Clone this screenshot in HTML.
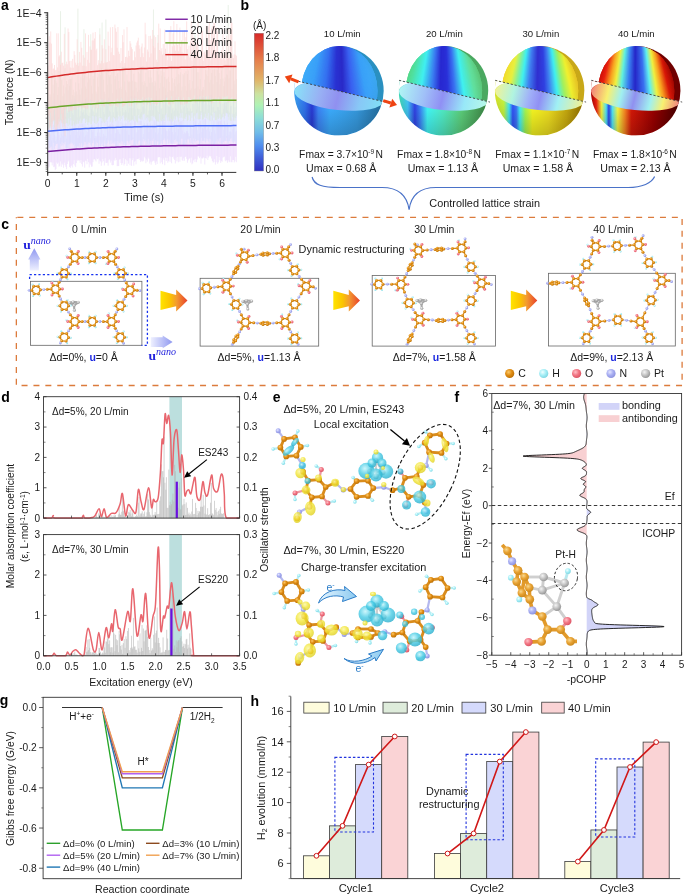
<!DOCTYPE html>
<html><head><meta charset="utf-8"><title>Figure</title>
<style>html,body{margin:0;padding:0;background:#fff;width:685px;height:895px;overflow:hidden}svg{display:block;will-change:transform}</style>
</head><body>
<svg width="685" height="895" viewBox="0 0 685 895" font-family='"Liberation Sans", sans-serif'>
<defs>
<clipPath id="clipA"><rect x="48.300000000000004" y="5" width="188.60000000000002" height="166.8"/></clipPath><radialGradient id="shadeL" cx="0.35" cy="0.3" r="0.75"><stop offset="0.55" stop-color="#000" stop-opacity="0"/><stop offset="1" stop-color="#000" stop-opacity="0.2"/></radialGradient><radialGradient id="shadeU" cx="0.45" cy="0.45" r="0.6"><stop offset="0.75" stop-color="#000" stop-opacity="0"/><stop offset="1" stop-color="#000" stop-opacity="0.07"/></radialGradient><linearGradient id="cbar" gradientUnits="userSpaceOnUse" x1="0" y1="33.2" x2="0" y2="171"><stop offset="0" stop-color="#d82828"/><stop offset="0.2" stop-color="#e6804c"/><stop offset="0.34" stop-color="#e0b468"/><stop offset="0.44" stop-color="#cce2a0"/><stop offset="0.52" stop-color="#b0f2b4"/><stop offset="0.62" stop-color="#8cdcd8"/><stop offset="0.72" stop-color="#70bce8"/><stop offset="0.82" stop-color="#4f8cee"/><stop offset="0.9" stop-color="#4060d8"/><stop offset="1" stop-color="#3030c0"/></linearGradient><linearGradient id="up0" gradientUnits="userSpaceOnUse" x1="294.09999999999997" y1="0" x2="383.7" y2="0"><stop offset="0" stop-color="#40b0f8"/><stop offset="0.2" stop-color="#3aa0f8"/><stop offset="0.35" stop-color="#3570f0"/><stop offset="0.47" stop-color="#2a32d2"/><stop offset="0.55" stop-color="#2a2ac8"/><stop offset="0.65" stop-color="#3a60f0"/><stop offset="0.8" stop-color="#3aa0f8"/><stop offset="1" stop-color="#40b0f8"/></linearGradient><linearGradient id="lo0" gradientUnits="userSpaceOnUse" x1="294.09999999999997" y1="0" x2="383.7" y2="0"><stop offset="0" stop-color="#3aa0f0"/><stop offset="0.12" stop-color="#3070e8"/><stop offset="0.2" stop-color="#2838d0"/><stop offset="0.27" stop-color="#3a80f0"/><stop offset="0.4" stop-color="#3aa8f8"/><stop offset="0.7" stop-color="#38a0e8"/><stop offset="1" stop-color="#2a80b8"/></linearGradient><linearGradient id="fa0" gradientUnits="userSpaceOnUse" x1="294.09999999999997" y1="84.8" x2="383.7" y2="96.8"><stop offset="0" stop-color="#88e4f8"/><stop offset="0.3" stop-color="#98b0f4"/><stop offset="0.5" stop-color="#9090f0"/><stop offset="0.75" stop-color="#88c8f6"/><stop offset="1" stop-color="#80e0f6"/></linearGradient><clipPath id="sc0"><circle cx="338.9" cy="90.8" r="44.8"/></clipPath><clipPath id="bl0"><path d="M398.90,105.33 L278.90,76.59 L278.9,150.8 L398.9,150.8 Z"/></clipPath><clipPath id="ab0"><path d="M398.90,105.33 L278.90,76.59 L278.9,30.799999999999997 L398.9,30.799999999999997 Z"/></clipPath><clipPath id="ue0"><ellipse cx="339.29999999999995" cy="90.8" rx="38.2" ry="44.8"/></clipPath><linearGradient id="up1" gradientUnits="userSpaceOnUse" x1="398.7" y1="0" x2="488.3" y2="0"><stop offset="0" stop-color="#58d070"/><stop offset="0.12" stop-color="#50e0a0"/><stop offset="0.25" stop-color="#40f0f0"/><stop offset="0.38" stop-color="#3a78f0"/><stop offset="0.47" stop-color="#2828d0"/><stop offset="0.55" stop-color="#2a30d8"/><stop offset="0.63" stop-color="#3a70f0"/><stop offset="0.73" stop-color="#40f0f0"/><stop offset="0.85" stop-color="#60e0a0"/><stop offset="0.95" stop-color="#60d080"/><stop offset="1" stop-color="#58c070"/></linearGradient><linearGradient id="lo1" gradientUnits="userSpaceOnUse" x1="398.7" y1="0" x2="488.3" y2="0"><stop offset="0" stop-color="#40d8b0"/><stop offset="0.1" stop-color="#40c0f0"/><stop offset="0.18" stop-color="#3040e0"/><stop offset="0.24" stop-color="#3a80f0"/><stop offset="0.32" stop-color="#40f0f0"/><stop offset="0.5" stop-color="#50e8c0"/><stop offset="0.7" stop-color="#60d880"/><stop offset="0.9" stop-color="#50b060"/><stop offset="1" stop-color="#409850"/></linearGradient><linearGradient id="fa1" gradientUnits="userSpaceOnUse" x1="398.7" y1="84.8" x2="488.3" y2="96.8"><stop offset="0" stop-color="#b0f8f4"/><stop offset="0.3" stop-color="#a0c0f8"/><stop offset="0.5" stop-color="#9090f4"/><stop offset="0.75" stop-color="#98e8f8"/><stop offset="1" stop-color="#b8f8e8"/></linearGradient><clipPath id="sc1"><circle cx="443.5" cy="90.8" r="44.8"/></clipPath><clipPath id="bl1"><path d="M503.50,105.33 L383.50,76.59 L383.5,150.8 L503.5,150.8 Z"/></clipPath><clipPath id="ab1"><path d="M503.50,105.33 L383.50,76.59 L383.5,30.799999999999997 L503.5,30.799999999999997 Z"/></clipPath><clipPath id="ue1"><ellipse cx="443.9" cy="90.8" rx="38.2" ry="44.8"/></clipPath><linearGradient id="up2" gradientUnits="userSpaceOnUse" x1="494.8" y1="0" x2="584.4" y2="0"><stop offset="0" stop-color="#f0b828"/><stop offset="0.08" stop-color="#f0e030"/><stop offset="0.16" stop-color="#e8f040"/><stop offset="0.24" stop-color="#80f0a0"/><stop offset="0.3" stop-color="#40f0f0"/><stop offset="0.38" stop-color="#4080f0"/><stop offset="0.48" stop-color="#3030d0"/><stop offset="0.56" stop-color="#3040e0"/><stop offset="0.62" stop-color="#4080f0"/><stop offset="0.7" stop-color="#40f0f0"/><stop offset="0.78" stop-color="#a0f060"/><stop offset="0.86" stop-color="#f0f030"/><stop offset="0.94" stop-color="#f0d028"/><stop offset="1" stop-color="#e8c020"/></linearGradient><linearGradient id="lo2" gradientUnits="userSpaceOnUse" x1="494.8" y1="0" x2="584.4" y2="0"><stop offset="0" stop-color="#d8e028"/><stop offset="0.1" stop-color="#c0f040"/><stop offset="0.16" stop-color="#40e0f0"/><stop offset="0.2" stop-color="#3050f0"/><stop offset="0.24" stop-color="#3a70f0"/><stop offset="0.28" stop-color="#40e8f0"/><stop offset="0.34" stop-color="#a0f050"/><stop offset="0.42" stop-color="#f0f020"/><stop offset="0.6" stop-color="#f0e020"/><stop offset="0.8" stop-color="#d8b810"/><stop offset="1" stop-color="#a88000"/></linearGradient><linearGradient id="fa2" gradientUnits="userSpaceOnUse" x1="494.8" y1="84.8" x2="584.4" y2="96.8"><stop offset="0" stop-color="#f6f290"/><stop offset="0.22" stop-color="#b0f4e0"/><stop offset="0.4" stop-color="#a0b0f8"/><stop offset="0.52" stop-color="#9090f4"/><stop offset="0.72" stop-color="#a0f0f4"/><stop offset="1" stop-color="#f4f090"/></linearGradient><clipPath id="sc2"><circle cx="539.6" cy="90.8" r="44.8"/></clipPath><clipPath id="bl2"><path d="M599.60,105.33 L479.60,76.59 L479.6,150.8 L599.6,150.8 Z"/></clipPath><clipPath id="ab2"><path d="M599.60,105.33 L479.60,76.59 L479.6,30.799999999999997 L599.6,30.799999999999997 Z"/></clipPath><clipPath id="ue2"><ellipse cx="540.0" cy="90.8" rx="38.2" ry="44.8"/></clipPath><linearGradient id="up3" gradientUnits="userSpaceOnUse" x1="590.9000000000001" y1="0" x2="680.5" y2="0"><stop offset="0" stop-color="#b00000"/><stop offset="0.12" stop-color="#e82010"/><stop offset="0.2" stop-color="#f8a020"/><stop offset="0.27" stop-color="#f0f040"/><stop offset="0.34" stop-color="#60f0e0"/><stop offset="0.42" stop-color="#3a80f0"/><stop offset="0.5" stop-color="#2626c8"/><stop offset="0.6" stop-color="#3a70f0"/><stop offset="0.67" stop-color="#60f0f0"/><stop offset="0.74" stop-color="#f0f040"/><stop offset="0.8" stop-color="#f8a020"/><stop offset="0.88" stop-color="#d81808"/><stop offset="1" stop-color="#900000"/></linearGradient><linearGradient id="lo3" gradientUnits="userSpaceOnUse" x1="590.9000000000001" y1="0" x2="680.5" y2="0"><stop offset="0" stop-color="#a00000"/><stop offset="0.06" stop-color="#e82010"/><stop offset="0.12" stop-color="#f0f040"/><stop offset="0.17" stop-color="#50e0f0"/><stop offset="0.2" stop-color="#2a40e0"/><stop offset="0.24" stop-color="#50e0f0"/><stop offset="0.3" stop-color="#f0f040"/><stop offset="0.38" stop-color="#f08020"/><stop offset="0.45" stop-color="#d01808"/><stop offset="0.7" stop-color="#a00000"/><stop offset="1" stop-color="#500000"/></linearGradient><linearGradient id="fa3" gradientUnits="userSpaceOnUse" x1="590.9000000000001" y1="84.8" x2="680.5" y2="96.8"><stop offset="0" stop-color="#f27a7a"/><stop offset="0.2" stop-color="#f8f070"/><stop offset="0.35" stop-color="#a0f0f0"/><stop offset="0.5" stop-color="#9090f0"/><stop offset="0.68" stop-color="#a0f0f0"/><stop offset="0.82" stop-color="#f8f070"/><stop offset="1" stop-color="#f08080"/></linearGradient><clipPath id="sc3"><circle cx="635.7" cy="90.8" r="44.8"/></clipPath><clipPath id="bl3"><path d="M695.70,105.33 L575.70,76.59 L575.7,150.8 L695.7,150.8 Z"/></clipPath><clipPath id="ab3"><path d="M695.70,105.33 L575.70,76.59 L575.7,30.799999999999997 L695.7,30.799999999999997 Z"/></clipPath><clipPath id="ue3"><ellipse cx="636.1" cy="90.8" rx="38.2" ry="44.8"/></clipPath><radialGradient id="gC" cx="0.38" cy="0.35" r="0.7"><stop offset="0" stop-color="#fbc96a"/><stop offset="0.5" stop-color="#e08c12"/><stop offset="1" stop-color="#b86e06"/></radialGradient><radialGradient id="gO" cx="0.38" cy="0.35" r="0.7"><stop offset="0" stop-color="#ffc0c8"/><stop offset="0.5" stop-color="#f27684"/><stop offset="1" stop-color="#d85060"/></radialGradient><radialGradient id="gN" cx="0.38" cy="0.35" r="0.7"><stop offset="0" stop-color="#e4e6ff"/><stop offset="0.5" stop-color="#a8aef2"/><stop offset="1" stop-color="#8a90dc"/></radialGradient><radialGradient id="gH" cx="0.38" cy="0.35" r="0.7"><stop offset="0" stop-color="#f0ffff"/><stop offset="0.5" stop-color="#a6eef6"/><stop offset="1" stop-color="#7ad4e0"/></radialGradient><radialGradient id="gP" cx="0.38" cy="0.35" r="0.7"><stop offset="0" stop-color="#f4f4f4"/><stop offset="0.5" stop-color="#c4c4c4"/><stop offset="1" stop-color="#909090"/></radialGradient><linearGradient id="uup" x1="0" y1="1" x2="0" y2="0"><stop offset="0" stop-color="#eef0ff"/><stop offset="1" stop-color="#8f98f0"/></linearGradient><linearGradient id="urt" x1="0" y1="0" x2="1" y2="0"><stop offset="0" stop-color="#eef0ff"/><stop offset="1" stop-color="#8f98f0"/></linearGradient><linearGradient id="oa1" gradientUnits="userSpaceOnUse" x1="160.5" y1="0" x2="187.5" y2="0"><stop offset="0" stop-color="#ffe400"/><stop offset="0.35" stop-color="#fbc400"/><stop offset="0.6" stop-color="#f39a30"/><stop offset="1" stop-color="#e8402a"/></linearGradient><linearGradient id="oa2" gradientUnits="userSpaceOnUse" x1="333.3" y1="0" x2="360" y2="0"><stop offset="0" stop-color="#ffe400"/><stop offset="0.35" stop-color="#fbc400"/><stop offset="0.6" stop-color="#f39a30"/><stop offset="1" stop-color="#e8402a"/></linearGradient><linearGradient id="oa3" gradientUnits="userSpaceOnUse" x1="510.8" y1="0" x2="537.3" y2="0"><stop offset="0" stop-color="#ffe400"/><stop offset="0.35" stop-color="#fbc400"/><stop offset="0.6" stop-color="#f39a30"/><stop offset="1" stop-color="#e8402a"/></linearGradient><radialGradient id="bY" cx="0.4" cy="0.35" r="0.7"><stop offset="0" stop-color="#fbf6a0"/><stop offset="0.5" stop-color="#f2e636"/><stop offset="1" stop-color="#dccc1e"/></radialGradient><radialGradient id="bC" cx="0.4" cy="0.35" r="0.7"><stop offset="0" stop-color="#bff4fb"/><stop offset="0.5" stop-color="#44cae4"/><stop offset="1" stop-color="#22a8c8"/></radialGradient><linearGradient id="barw" x1="0" y1="0" x2="1" y2="0"><stop offset="0" stop-color="#e8f6ff"/><stop offset="1" stop-color="#8ccaf0"/></linearGradient><radialGradient id="gC2" cx="0.38" cy="0.35" r="0.7"><stop offset="0" stop-color="#f8d890"/><stop offset="0.5" stop-color="#e8a232"/><stop offset="1" stop-color="#c8861c"/></radialGradient>
</defs>
<rect width="685" height="895" fill="#fff"/>
<g clip-path="url(#clipA)">
<path d="M47.70,139.92V165.01M48.46,141.25V167.87M49.21,135.90V166.75M49.97,133.27V162.38M50.72,134.52V162.12M51.48,140.61V162.33M52.23,127.30V165.44M52.99,138.07V162.66M53.74,124.98V167.11M54.50,134.81V166.59M55.25,141.03V170.10M56.01,136.59V168.97M56.76,139.60V162.48M57.52,126.98V163.89M58.27,131.13V162.67M59.03,134.82V166.72M59.78,140.32V165.83M60.54,137.68V161.38M61.30,133.63V166.89M62.05,130.72V163.54M62.81,135.79V164.72M63.56,128.56V167.72M64.32,130.73V162.71M65.07,125.27V165.18M65.83,135.76V166.95M66.58,138.75V169.14M67.34,127.20V164.03M68.09,131.96V161.58M68.85,128.68V160.51M69.60,130.33V166.97M70.36,134.94V167.91M71.11,129.84V166.23M71.87,132.26V165.14M72.62,123.43V167.42M73.38,128.42V164.08M74.14,127.69V160.31M74.89,122.40V165.53M75.65,135.08V167.04M76.40,128.12V163.07M77.16,131.79V159.76M77.91,137.93V161.01M78.67,126.18V159.98M79.42,135.49V160.57M80.18,124.23V162.87M80.93,131.77V160.03M81.69,123.92V164.19M82.44,124.22V166.57M83.20,132.23V161.66M83.95,123.76V162.34M84.71,136.89V167.68M85.47,135.39V160.61M86.22,130.80V161.08M86.98,134.75V164.23M87.73,131.90V158.93M88.49,129.20V162.17M89.24,126.93V167.37M90.00,128.20V163.40M90.75,138.28V164.80M91.51,125.20V166.76M92.26,124.83V166.50M93.02,131.96V162.12M93.77,127.69V159.49M94.53,137.84V159.08M95.28,136.10V160.36M96.04,138.03V161.50M96.79,136.22V158.41M97.55,132.37V159.28M98.31,123.15V158.56M99.06,136.16V163.81M99.82,132.55V160.52M100.57,136.55V161.49M101.33,120.87V165.81M102.08,129.99V162.34M102.84,136.81V158.89M103.59,133.86V161.16M104.35,135.68V165.50M105.10,121.46V158.22M105.86,135.88V162.73M106.61,138.00V162.83M107.37,120.87V162.66M108.12,125.91V165.64M108.88,131.80V160.20M109.63,124.48V159.32M110.39,124.33V162.58M111.15,134.29V160.72M111.90,120.57V165.02M112.66,123.75V165.36M113.41,124.91V165.03M114.17,128.87V159.68M114.92,137.63V160.81M115.68,133.10V157.84M116.43,125.65V159.89M117.19,130.03V166.13M117.94,120.28V165.92M118.70,131.46V166.06M119.45,133.91V159.43M120.21,134.28V159.19M120.96,121.75V163.01M121.72,129.29V164.92M122.47,123.51V163.21M123.23,125.98V158.08M123.99,123.77V165.47M124.74,129.22V164.01M125.50,123.60V158.85M126.25,123.37V160.21M127.01,130.62V165.93M127.76,120.70V160.78M128.52,134.63V163.67M129.27,134.95V158.27M130.03,123.15V165.24M130.78,122.77V158.40M131.54,125.79V165.87M132.29,127.72V160.19M133.05,137.30V158.20M133.80,125.86V165.72M134.56,120.73V161.71M135.31,121.83V160.86M136.07,133.68V164.36M136.83,132.19V159.18M137.58,126.89V159.06M138.34,129.88V159.21M139.09,121.04V158.04M139.85,129.14V160.02M140.60,121.10V162.06M141.36,120.84V160.58M142.11,127.76V161.29M142.87,136.96V161.47M143.62,133.99V160.70M144.38,122.90V156.76M145.13,128.73V158.26M145.89,127.22V163.21M146.64,127.89V159.60M147.40,123.10V161.65M148.15,127.10V157.59M148.91,132.18V158.86M149.67,128.02V163.55M150.42,123.47V161.64M151.18,129.14V164.77M151.93,128.01V162.06M152.69,124.63V161.14M153.44,127.48V160.59M154.20,120.12V160.81M154.95,121.28V162.78M155.71,132.35V164.95M156.46,120.05V161.49M157.22,134.52V164.00M157.97,129.02V157.53M158.73,132.63V157.07M159.48,124.91V157.06M160.24,120.81V163.44M160.99,124.04V157.77M161.75,134.33V162.30M162.51,119.50V164.28M163.26,119.75V158.31M164.02,128.10V159.90M164.77,121.89V165.21M165.53,129.08V157.75M166.28,130.73V160.92M167.04,131.08V158.03M167.79,136.44V162.75M168.55,128.87V161.23M169.30,130.81V156.40M170.06,127.55V161.83M170.81,119.04V156.79M171.57,119.27V163.28M172.32,131.95V157.13M173.08,122.71V156.53M173.84,134.37V158.60M174.59,120.31V159.95M175.35,132.03V163.50M176.10,120.15V157.48M176.86,124.07V161.25M177.61,135.61V156.92M178.37,128.99V162.28M179.12,119.76V156.74M179.88,122.21V161.78M180.63,121.22V156.82M181.39,121.09V156.66M182.14,130.49V160.13M182.90,119.92V161.01M183.65,134.24V158.44M184.41,132.27V160.75M185.16,133.64V156.99M185.92,132.91V156.45M186.68,131.04V158.80M187.43,131.30V162.81M188.19,133.31V160.47M188.94,136.17V159.08M189.70,136.21V158.21M190.45,126.58V162.53M191.21,127.94V157.64M191.96,134.55V164.33M192.72,128.69V163.28M193.47,121.45V160.36M194.23,127.33V159.44M194.98,118.77V162.08M195.74,121.46V158.97M196.49,124.98V162.23M197.25,130.16V159.51M198.00,134.06V156.35M198.76,123.08V156.49M199.52,133.45V158.15M200.27,121.26V156.60M201.03,124.32V163.66M201.78,132.01V158.36M202.54,128.10V158.45M203.29,128.33V157.23M204.05,119.05V158.17M204.80,126.50V164.54M205.56,118.97V157.99M206.31,129.91V158.57M207.07,129.45V155.79M207.82,127.27V160.04M208.58,127.23V157.57M209.33,131.54V155.80M210.09,129.11V156.56M210.84,135.87V156.12M211.60,132.09V158.47M212.36,126.76V160.99M213.11,124.44V162.47M213.87,120.46V162.15M214.62,130.39V159.21M215.38,133.56V164.56M216.13,124.68V162.21M216.89,121.22V156.09M217.64,124.95V163.71M218.40,121.62V162.28M219.15,126.80V156.93M219.91,121.20V160.21M220.66,121.35V162.90M221.42,120.15V160.91M222.17,123.73V161.79M222.93,135.63V157.72M223.68,129.70V156.84M224.44,121.16V156.59M225.20,124.89V160.66M225.95,123.93V161.26M226.71,136.10V160.02M227.46,122.71V162.79M228.22,126.53V160.14M228.97,134.96V161.54M229.73,131.61V162.23M230.48,131.36V156.27M231.24,132.44V162.15M231.99,118.59V162.24M232.75,129.25V160.03M233.50,123.83V159.89M234.26,125.03V162.47M235.01,134.72V161.35M235.77,131.54V156.90M236.52,130.63V162.25" fill="none" stroke="#ecd8fc" stroke-width="0.62" />
<path d="M47.70,120.52V147.49M48.46,115.07V143.62M49.21,106.13V148.13M49.97,114.47V148.09M50.72,110.76V146.83M51.48,117.95V146.39M52.23,116.19V149.52M52.99,100.67V150.09M53.74,110.62V142.83M54.50,99.88V148.78M55.25,114.48V145.94M56.01,100.23V144.08M56.76,107.80V144.03M57.52,108.94V143.45M58.27,117.09V149.46M59.03,109.14V148.41M59.78,105.00V148.85M60.54,100.87V143.89M61.30,119.11V145.74M62.05,109.27V142.07M62.81,113.19V145.36M63.56,112.25V142.98M64.32,101.79V144.24M65.07,103.62V141.83M65.83,116.79V148.05M66.58,104.30V148.65M67.34,113.12V148.41M68.09,110.91V144.40M68.85,106.74V149.04M69.60,110.07V144.21M70.36,117.98V143.52M71.11,101.45V142.17M71.87,99.28V143.50M72.62,113.28V143.18M73.38,114.82V145.09M74.14,98.71V144.01M74.89,101.69V147.79M75.65,99.51V145.85M76.40,107.10V148.12M77.16,117.53V146.42M77.91,109.08V146.47M78.67,104.97V146.58M79.42,117.41V143.05M80.18,115.73V147.80M80.93,111.15V144.35M81.69,102.82V143.01M82.44,112.82V148.05M83.20,111.92V145.61M83.95,109.92V144.83M84.71,114.76V141.87M85.47,99.12V142.13M86.22,113.46V144.26M86.98,97.14V147.28M87.73,115.07V143.83M88.49,116.06V141.86M89.24,116.01V142.95M90.00,112.47V142.14M90.75,99.25V144.58M91.51,109.16V145.89M92.26,106.79V143.34M93.02,110.65V143.03M93.77,111.89V140.64M94.53,115.04V147.38M95.28,104.44V143.87M96.04,113.08V146.53M96.79,112.37V142.07M97.55,108.20V143.00M98.31,99.72V147.12M99.06,117.02V146.48M99.82,102.57V140.15M100.57,107.49V146.59M101.33,117.38V144.24M102.08,97.92V142.75M102.84,99.39V145.97M103.59,112.09V147.04M104.35,114.03V140.55M105.10,102.94V143.61M105.86,102.08V146.72M106.61,101.15V144.49M107.37,105.59V143.04M108.12,100.72V139.88M108.88,97.81V141.30M109.63,110.70V144.37M110.39,111.77V140.46M111.15,102.37V144.24M111.90,115.52V140.29M112.66,104.75V143.36M113.41,112.25V142.31M114.17,116.70V143.88M114.92,107.23V141.61M115.68,103.35V146.51M116.43,106.88V145.92M117.19,111.64V141.04M117.94,102.02V146.45M118.70,116.31V141.54M119.45,102.61V142.94M120.21,111.33V142.33M120.96,97.31V144.16M121.72,115.97V140.84M122.47,107.84V141.65M123.23,112.48V144.21M123.99,101.12V145.05M124.74,112.29V142.84M125.50,110.04V146.30M126.25,111.71V145.15M127.01,100.59V140.65M127.76,96.55V141.18M128.52,112.56V142.67M129.27,107.73V140.61M130.03,96.56V143.90M130.78,108.18V139.99M131.54,95.99V140.47M132.29,115.31V139.92M133.05,108.13V139.29M133.80,97.83V145.54M134.56,95.43V144.29M135.31,109.42V145.76M136.07,96.68V140.15M136.83,115.62V144.34M137.58,108.33V143.71M138.34,109.30V141.51M139.09,116.17V139.96M139.85,108.85V140.77M140.60,113.61V145.82M141.36,111.84V145.87M142.11,98.94V141.30M142.87,107.09V144.77M143.62,106.21V138.97M144.38,96.84V141.37M145.13,108.47V140.01M145.89,115.45V145.27M146.64,99.05V141.61M147.40,115.21V144.26M148.15,114.73V138.77M148.91,110.64V145.38M149.67,97.18V144.07M150.42,110.29V141.00M151.18,103.05V145.62M151.93,100.95V140.40M152.69,110.18V140.79M153.44,100.10V138.44M154.20,102.64V145.26M154.95,115.41V145.44M155.71,105.94V140.12M156.46,95.89V145.52M157.22,110.62V141.24M157.97,105.52V141.55M158.73,112.02V145.27M159.48,100.36V144.32M160.24,99.63V144.45M160.99,108.95V142.83M161.75,108.22V140.66M162.51,114.14V144.11M163.26,100.00V139.72M164.02,114.42V140.09M164.77,104.18V138.48M165.53,95.20V140.65M166.28,95.03V144.82M167.04,113.96V140.17M167.79,105.27V138.90M168.55,106.34V143.48M169.30,106.96V139.91M170.06,101.55V142.79M170.81,97.92V143.74M171.57,113.12V143.10M172.32,109.50V144.41M173.08,107.82V142.35M173.84,111.46V143.62M174.59,110.48V139.94M175.35,97.08V139.23M176.10,108.76V142.40M176.86,94.79V141.02M177.61,110.74V141.85M178.37,101.88V144.09M179.12,113.42V145.45M179.88,98.39V141.58M180.63,96.38V144.31M181.39,109.38V138.31M182.14,111.56V138.89M182.90,103.30V145.27M183.65,107.71V144.94M184.41,106.09V144.46M185.16,99.19V139.91M185.92,113.27V145.03M186.68,102.49V142.41M187.43,107.75V139.57M188.19,111.19V138.99M188.94,102.89V139.83M189.70,111.19V142.79M190.45,108.58V137.99M191.21,111.56V142.98M191.96,111.16V140.23M192.72,103.93V143.84M193.47,113.29V138.35M194.23,103.87V140.83M194.98,113.49V142.65M195.74,100.81V139.08M196.49,109.45V140.92M197.25,95.40V140.15M198.00,103.50V140.17M198.76,106.64V140.50M199.52,94.47V144.29M200.27,111.22V140.54M201.03,111.08V143.26M201.78,96.44V137.85M202.54,98.14V140.97M203.29,96.82V140.83M204.05,111.91V141.24M204.80,103.75V137.89M205.56,96.24V142.57M206.31,102.26V138.43M207.07,104.72V140.54M207.82,109.35V138.85M208.58,95.88V141.65M209.33,105.00V138.56M210.09,95.00V143.76M210.84,112.61V139.21M211.60,94.81V144.79M212.36,114.14V141.34M213.11,107.12V144.65M213.87,102.24V144.48M214.62,111.88V143.88M215.38,110.58V143.58M216.13,97.49V140.72M216.89,111.39V143.90M217.64,106.84V139.32M218.40,107.18V141.56M219.15,110.03V138.60M219.91,96.40V143.10M220.66,103.41V137.97M221.42,114.40V143.33M222.17,112.73V143.93M222.93,103.66V142.14M223.68,108.77V142.34M224.44,102.97V140.79M225.20,101.36V140.83M225.95,105.98V140.98M226.71,102.19V137.80M227.46,110.23V141.29M228.22,98.81V143.34M228.97,111.39V141.05M229.73,112.91V141.16M230.48,106.12V138.57M231.24,105.88V138.29M231.99,114.28V141.42M232.75,113.41V142.36M233.50,98.83V143.09M234.26,113.99V141.42M235.01,107.20V141.36M235.77,112.26V144.70M236.52,94.23V144.00" fill="none" stroke="#d8ddff" stroke-width="0.62" />
<path d="M47.70,77.00V126.51M48.46,85.61V128.66M49.21,94.33V127.97M49.97,96.92V128.01M50.72,94.31V126.35M51.48,76.51V121.93M52.23,73.61V123.89M52.99,84.68V121.65M53.74,93.32V119.53M54.50,79.82V127.52M55.25,76.90V120.54M56.01,80.82V123.70M56.76,82.92V126.69M57.52,94.98V126.70M58.27,87.09V124.34M59.03,70.94V120.98M59.78,76.95V121.76M60.54,11.11V120.03M61.30,80.17V120.64M62.05,79.43V123.55M62.81,96.33V118.22M63.56,85.52V123.67M64.32,93.53V126.10M65.07,27.35V123.85M65.83,87.32V118.86M66.58,80.99V123.08M67.34,84.00V123.37M68.09,90.16V126.11M68.85,79.46V118.48M69.60,85.75V124.58M70.36,79.14V117.59M71.11,79.05V120.57M71.87,76.61V125.77M72.62,95.13V125.40M73.38,89.85V120.87M74.14,95.86V124.15M74.89,92.29V125.55M75.65,82.40V122.49M76.40,91.29V124.27M77.16,94.63V119.60M77.91,8.63V123.88M78.67,83.28V123.48M79.42,89.67V120.79M80.18,94.65V118.75M80.93,76.91V123.34M81.69,88.42V122.95M82.44,74.28V120.41M83.20,78.17V118.82M83.95,29.16V118.33M84.71,75.31V118.45M85.47,86.50V122.98M86.22,88.81V119.17M86.98,76.53V121.84M87.73,82.50V124.91M88.49,71.99V122.33M89.24,79.68V122.52M90.00,78.22V117.87M90.75,34.21V124.10M91.51,85.60V124.21M92.26,93.73V116.07M93.02,76.02V121.46M93.77,78.84V116.31M94.53,72.62V123.02M95.28,71.27V116.22M96.04,91.73V124.07M96.79,93.64V116.54M97.55,77.43V122.79M98.31,86.74V121.12M99.06,74.02V116.28M99.82,28.26V118.23M100.57,75.06V117.86M101.33,68.33V118.16M102.08,22.52V122.88M102.84,73.39V119.11M103.59,79.69V121.48M104.35,91.70V122.86M105.10,94.07V116.60M105.86,19.52V121.88M106.61,72.55V119.41M107.37,84.63V119.40M108.12,68.51V117.26M108.88,75.06V116.81M109.63,76.72V115.83M110.39,75.05V121.89M111.15,84.22V120.41M111.90,69.77V118.28M112.66,93.06V122.68M113.41,69.41V117.03M114.17,69.84V118.04M114.92,79.30V118.74M115.68,76.18V121.33M116.43,89.38V117.46M117.19,73.53V120.45M117.94,72.65V118.41M118.70,81.01V115.56M119.45,88.27V116.54M120.21,70.66V120.69M120.96,86.70V115.74M121.72,89.00V119.00M122.47,67.03V115.98M123.23,67.34V115.16M123.99,66.73V117.67M124.74,81.50V120.78M125.50,90.31V119.89M126.25,92.25V117.62M127.01,74.45V121.21M127.76,80.62V119.76M128.52,82.17V119.47M129.27,81.46V122.18M130.03,81.68V120.72M130.78,69.28V120.46M131.54,70.00V120.23M132.29,80.71V119.68M133.05,90.29V119.53M133.80,73.68V120.89M134.56,81.46V116.09M135.31,81.81V119.40M136.07,87.89V122.15M136.83,82.32V120.76M137.58,91.75V122.50M138.34,71.68V115.16M139.09,90.00V118.36M139.85,73.37V118.53M140.60,70.34V119.39M141.36,67.11V117.31M142.11,82.06V119.75M142.87,66.08V114.68M143.62,85.20V114.07M144.38,81.29V113.66M145.13,83.06V119.79M145.89,72.54V115.51M146.64,86.61V118.21M147.40,86.78V116.98M148.15,70.65V120.41M148.91,77.30V117.63M149.67,82.91V122.06M150.42,70.41V120.73M151.18,77.61V116.00M151.93,82.81V120.83M152.69,82.21V115.72M153.44,9.49V117.13M154.20,85.71V115.81M154.95,80.75V117.57M155.71,82.51V119.17M156.46,90.72V120.90M157.22,71.11V121.35M157.97,34.91V120.66M158.73,74.53V121.73M159.48,88.35V114.07M160.24,82.84V120.12M160.99,70.82V121.25M161.75,75.74V121.12M162.51,68.03V119.10M163.26,86.79V120.61M164.02,72.10V117.83M164.77,77.12V120.98M165.53,88.31V115.13M166.28,79.46V113.54M167.04,78.61V117.41M167.79,91.84V120.74M168.55,76.84V117.17M169.30,81.88V120.51M170.06,89.94V121.57M170.81,91.19V118.64M171.57,66.84V119.05M172.32,78.17V121.72M173.08,91.01V120.95M173.84,82.78V118.49M174.59,79.10V116.15M175.35,86.20V119.77M176.10,76.93V116.63M176.86,69.54V115.45M177.61,84.52V117.33M178.37,74.18V121.55M179.12,83.27V115.75M179.88,74.69V118.04M180.63,72.31V113.12M181.39,90.44V117.64M182.14,86.65V112.79M182.90,74.02V118.19M183.65,75.25V120.88M184.41,72.96V118.33M185.16,85.99V118.80M185.92,71.15V116.79M186.68,90.70V114.29M187.43,74.01V120.87M188.19,70.48V120.03M188.94,83.52V114.95M189.70,80.05V115.48M190.45,90.17V121.00M191.21,88.43V112.95M191.96,66.86V117.76M192.72,81.18V112.71M193.47,65.17V120.99M194.23,88.84V116.27M194.98,34.51V114.46M195.74,88.30V118.68M196.49,68.13V113.32M197.25,72.17V112.68M198.00,86.50V119.10M198.76,72.30V119.46M199.52,89.26V119.05M200.27,79.10V118.86M201.03,65.52V114.76M201.78,91.11V112.57M202.54,89.35V119.80M203.29,87.01V119.00M204.05,89.87V116.81M204.80,79.64V117.60M205.56,69.97V113.73M206.31,74.48V118.21M207.07,70.25V115.87M207.82,76.16V119.45M208.58,65.18V112.94M209.33,82.47V119.82M210.09,69.01V121.16M210.84,79.85V115.14M211.60,72.94V115.75M212.36,69.62V120.41M213.11,84.29V112.36M213.87,69.38V117.61M214.62,68.91V112.71M215.38,75.95V120.12M216.13,69.60V119.97M216.89,82.00V120.52M217.64,69.85V117.28M218.40,66.22V119.04M219.15,73.06V117.75M219.91,84.45V114.14M220.66,78.92V119.39M221.42,70.49V119.52M222.17,67.12V117.47M222.93,78.45V116.95M223.68,86.10V113.95M224.44,81.50V118.55M225.20,77.33V115.86M225.95,64.39V112.64M226.71,74.21V113.18M227.46,75.16V113.63M228.22,-1.25V116.89M228.97,78.14V119.99M229.73,70.24V114.56M230.48,70.55V120.71M231.24,27.10V120.85M231.99,88.97V113.81M232.75,67.75V117.19M233.50,66.69V120.69M234.26,80.50V117.55M235.01,84.27V120.79M235.77,65.42V117.92M236.52,79.11V115.69" fill="none" stroke="#dce9d8" stroke-width="0.62" />
<path d="M47.70,31.66V120.72M48.46,65.49V115.77M49.21,36.22V136.47M49.97,42.34V125.21M50.72,31.47V112.84M51.48,43.67V132.02M52.23,63.37V127.29M52.99,68.96V120.68M53.74,68.39V120.29M54.50,65.01V110.26M55.25,70.23V130.18M56.01,69.81V131.40M56.76,33.33V129.86M57.52,67.38V124.44M58.27,33.38V127.85M59.03,56.40V118.97M59.78,55.24V128.37M60.54,64.58V106.74M61.30,51.72V114.13M62.05,62.92V122.63M62.81,62.65V127.63M63.56,65.72V119.73M64.32,33.88V109.32M65.07,68.10V136.19M65.83,64.14V109.17M66.58,61.61V107.36M67.34,64.22V105.28M68.09,28.49V106.13M68.85,32.06V111.73M69.60,61.09V103.54M70.36,67.38V110.62M71.11,60.76V108.99M71.87,67.80V111.16M72.62,58.87V109.53M73.38,67.73V103.44M74.14,51.18V109.57M74.89,54.94V103.67M75.65,62.67V110.10M76.40,64.85V106.95M77.16,39.23V103.35M77.91,63.05V108.04M78.67,65.78V102.27M79.42,51.90V106.94M80.18,62.52V103.85M80.93,41.94V106.81M81.69,47.79V108.52M82.44,65.81V102.96M83.20,55.09V107.65M83.95,65.84V107.47M84.71,57.71V108.19M85.47,33.41V108.39M86.22,66.19V105.18M86.98,51.91V108.86M87.73,59.82V108.44M88.49,34.85V102.20M89.24,62.81V103.76M90.00,46.40V103.72M90.75,49.69V100.36M91.51,49.81V104.25M92.26,40.47V101.26M93.02,32.63V107.44M93.77,40.50V102.92M94.53,38.43V103.40M95.28,32.04V100.45M96.04,50.30V108.41M96.79,48.69V104.39M97.55,65.09V104.54M98.31,60.24V108.34M99.06,63.47V101.22M99.82,34.60V101.77M100.57,63.49V99.73M101.33,60.86V105.68M102.08,45.15V99.50M102.84,48.53V104.46M103.59,63.11V105.54M104.35,39.34V106.98M105.10,62.52V99.52M105.86,49.26V103.49M106.61,62.43V101.51M107.37,62.00V102.59M108.12,31.65V104.21M108.88,45.86V100.16M109.63,61.11V105.49M110.39,27.34V106.15M111.15,52.21V102.17M111.90,47.75V106.17M112.66,26.99V102.13M113.41,55.21V105.51M114.17,55.29V100.64M114.92,24.61V102.34M115.68,28.36V105.61M116.43,31.81V105.66M117.19,47.77V98.77M117.94,27.03V106.85M118.70,51.66V100.43M119.45,53.87V103.83M120.21,62.70V102.87M120.96,48.09V101.95M121.72,61.01V98.20M122.47,35.15V106.68M123.23,42.16V106.35M123.99,29.40V105.16M124.74,63.04V105.79M125.50,57.04V103.57M126.25,56.74V103.86M127.01,27.06V102.59M127.76,57.42V103.26M128.52,50.65V102.32M129.27,56.10V106.15M130.03,41.12V100.31M130.78,43.57V98.61M131.54,47.13V106.08M132.29,49.11V99.86M133.05,60.18V102.21M133.80,60.58V98.49M134.56,51.43V99.98M135.31,57.27V99.90M136.07,45.49V98.06M136.83,42.56V104.78M137.58,40.62V102.33M138.34,37.68V98.98M139.09,45.27V101.28M139.85,48.66V102.61M140.60,57.07V99.86M141.36,46.74V99.03M142.11,43.45V100.45M142.87,53.14V97.08M143.62,57.07V104.69M144.38,47.52V101.92M145.13,22.71V99.44M145.89,34.26V99.51M146.64,61.47V98.25M147.40,49.54V104.62M148.15,51.59V97.32M148.91,36.00V100.69M149.67,57.25V97.69M150.42,35.78V105.30M151.18,53.39V98.04M151.93,38.85V99.79M152.69,29.95V102.14M153.44,46.04V103.95M154.20,35.41V103.18M154.95,47.81V103.35M155.71,37.09V103.55M156.46,59.77V104.69M157.22,61.98V104.27M157.97,42.85V103.30M158.73,23.61V100.87M159.48,50.01V101.51M160.24,28.48V103.39M160.99,51.46V101.78M161.75,48.31V100.36M162.51,54.59V102.77M163.26,44.06V99.76M164.02,53.51V99.68M164.77,29.58V103.28M165.53,48.77V100.67M166.28,54.09V97.82M167.04,43.05V97.44M167.79,60.33V101.35M168.55,53.32V104.37M169.30,30.06V103.66M170.06,57.24V104.67M170.81,26.13V99.87M171.57,61.01V96.11M172.32,46.35V101.07M173.08,33.32V104.25M173.84,21.18V100.80M174.59,45.43V100.59M175.35,50.68V102.08M176.10,41.93V99.12M176.86,23.93V99.04M177.61,45.01V101.94M178.37,51.19V96.74M179.12,43.37V99.43M179.88,27.57V100.97M180.63,46.60V104.46M181.39,40.41V99.73M182.14,52.27V104.71M182.90,30.89V100.51M183.65,53.15V97.26M184.41,30.33V104.50M185.16,59.40V100.30M185.92,37.19V103.71M186.68,21.34V103.03M187.43,49.17V103.63M188.19,54.04V97.04M188.94,45.64V100.21M189.70,57.42V97.29M190.45,41.22V101.25M191.21,21.05V98.74M191.96,60.63V101.27M192.72,32.15V99.24M193.47,37.00V98.28M194.23,53.42V95.55M194.98,41.91V103.07M195.74,56.89V101.49M196.49,43.38V99.95M197.25,39.05V97.85M198.00,20.73V100.22M198.76,49.34V100.59M199.52,57.96V96.51M200.27,59.20V102.23M201.03,57.55V96.29M201.78,30.15V100.08M202.54,31.00V100.88M203.29,60.83V95.91M204.05,52.60V102.27M204.80,51.45V101.76M205.56,54.53V96.84M206.31,25.77V96.20M207.07,51.60V100.53M207.82,50.19V99.33M208.58,26.46V95.77M209.33,22.66V100.50M210.09,40.10V99.20M210.84,60.29V97.48M211.60,28.33V103.59M212.36,25.95V98.05M213.11,53.14V102.54M213.87,22.57V100.61M214.62,23.13V99.64M215.38,49.92V97.36M216.13,55.83V101.62M216.89,27.16V97.94M217.64,31.50V99.50M218.40,57.22V97.33M219.15,56.83V98.35M219.91,53.51V103.85M220.66,58.71V100.16M221.42,50.01V99.90M222.17,59.76V98.72M222.93,29.71V96.19M223.68,54.99V98.23M224.44,53.70V96.78M225.20,60.25V97.19M225.95,51.63V101.02M226.71,35.77V96.44M227.46,54.13V95.86M228.22,58.31V102.53M228.97,29.09V99.00M229.73,57.48V102.24M230.48,34.91V98.17M231.24,22.45V98.38M231.99,22.86V96.85M232.75,55.45V99.51M233.50,58.18V99.04M234.26,54.36V101.31M235.01,41.31V103.04M235.77,54.82V98.25M236.52,55.87V100.40" fill="none" stroke="#fcd3d3" stroke-width="0.62" />
</g>
<path d="M47.70,151.62 L50.61,151.31 L53.51,151.02 L56.42,150.74 L59.32,150.47 L62.23,150.22 L65.13,149.97 L68.03,149.74 L70.94,149.52 L73.84,149.30 L76.75,149.10 L79.66,148.91 L82.56,148.72 L85.47,148.54 L88.37,148.37 L91.28,148.21 L94.18,148.06 L97.09,147.91 L99.99,147.77 L102.90,147.63 L105.80,147.50 L108.71,147.38 L111.61,147.26 L114.52,147.15 L117.42,147.04 L120.33,146.94 L123.23,146.84 L126.14,146.75 L129.04,146.66 L131.95,146.57 L134.85,146.49 L137.76,146.41 L140.66,146.34 L143.57,146.26 L146.47,146.20 L149.38,146.13 L152.28,146.07 L155.19,146.01 L158.09,145.95 L161.00,145.90 L163.90,145.84 L166.81,145.80 L169.71,145.75 L172.62,145.70 L175.52,145.66 L178.43,145.62 L181.33,145.58 L184.24,145.54 L187.14,145.50 L190.04,145.47 L192.95,145.44 L195.85,145.40 L198.76,145.37 L201.66,145.35 L204.57,145.32 L207.47,145.29 L210.38,145.27 L213.28,145.24 L216.19,145.22 L219.09,145.20 L222.00,145.18 L224.90,145.16 L227.81,145.14 L230.71,145.12 L233.62,145.10 L236.52,145.09" fill="none" stroke="#7a1fa2" stroke-width="1.5" />
<path d="M47.70,131.26 L50.61,130.99 L53.51,130.74 L56.42,130.50 L59.32,130.27 L62.23,130.05 L65.13,129.83 L68.03,129.63 L70.94,129.44 L73.84,129.25 L76.75,129.08 L79.66,128.91 L82.56,128.75 L85.47,128.60 L88.37,128.45 L91.28,128.31 L94.18,128.17 L97.09,128.05 L99.99,127.92 L102.90,127.81 L105.80,127.69 L108.71,127.59 L111.61,127.48 L114.52,127.39 L117.42,127.29 L120.33,127.20 L123.23,127.12 L126.14,127.04 L129.04,126.96 L131.95,126.89 L134.85,126.81 L137.76,126.75 L140.66,126.68 L143.57,126.62 L146.47,126.56 L149.38,126.50 L152.28,126.45 L155.19,126.40 L158.09,126.35 L161.00,126.30 L163.90,126.26 L166.81,126.21 L169.71,126.17 L172.62,126.13 L175.52,126.10 L178.43,126.06 L181.33,126.02 L184.24,125.99 L187.14,125.96 L190.04,125.93 L192.95,125.90 L195.85,125.87 L198.76,125.85 L201.66,125.82 L204.57,125.80 L207.47,125.78 L210.38,125.76 L213.28,125.73 L216.19,125.71 L219.09,125.70 L222.00,125.68 L224.90,125.66 L227.81,125.64 L230.71,125.63 L233.62,125.61 L236.52,125.60" fill="none" stroke="#4f6ef7" stroke-width="1.5" />
<path d="M47.70,107.95 L50.61,107.59 L53.51,107.24 L56.42,106.91 L59.32,106.59 L62.23,106.29 L65.13,106.00 L68.03,105.72 L70.94,105.45 L73.84,105.20 L76.75,104.96 L79.66,104.73 L82.56,104.51 L85.47,104.29 L88.37,104.09 L91.28,103.90 L94.18,103.72 L97.09,103.54 L99.99,103.37 L102.90,103.21 L105.80,103.06 L108.71,102.91 L111.61,102.77 L114.52,102.63 L117.42,102.51 L120.33,102.38 L123.23,102.27 L126.14,102.16 L129.04,102.05 L131.95,101.95 L134.85,101.85 L137.76,101.76 L140.66,101.67 L143.57,101.58 L146.47,101.50 L149.38,101.42 L152.28,101.35 L155.19,101.28 L158.09,101.21 L161.00,101.14 L163.90,101.08 L166.81,101.02 L169.71,100.97 L172.62,100.91 L175.52,100.86 L178.43,100.81 L181.33,100.76 L184.24,100.72 L187.14,100.68 L190.04,100.64 L192.95,100.60 L195.85,100.56 L198.76,100.52 L201.66,100.49 L204.57,100.46 L207.47,100.42 L210.38,100.39 L213.28,100.37 L216.19,100.34 L219.09,100.31 L222.00,100.29 L224.90,100.26 L227.81,100.24 L230.71,100.22 L233.62,100.20 L236.52,100.18" fill="none" stroke="#6aa52a" stroke-width="1.5" />
<path d="M47.70,77.62 L50.61,77.09 L53.51,76.60 L56.42,76.12 L59.32,75.66 L62.23,75.23 L65.13,74.81 L68.03,74.42 L70.94,74.04 L73.84,73.67 L76.75,73.33 L79.66,73.00 L82.56,72.68 L85.47,72.38 L88.37,72.09 L91.28,71.81 L94.18,71.55 L97.09,71.30 L99.99,71.06 L102.90,70.83 L105.80,70.61 L108.71,70.40 L111.61,70.19 L114.52,70.00 L117.42,69.82 L120.33,69.64 L123.23,69.48 L126.14,69.32 L129.04,69.16 L131.95,69.02 L134.85,68.88 L137.76,68.74 L140.66,68.62 L143.57,68.49 L146.47,68.38 L149.38,68.27 L152.28,68.16 L155.19,68.06 L158.09,67.96 L161.00,67.87 L163.90,67.78 L166.81,67.70 L169.71,67.62 L172.62,67.54 L175.52,67.46 L178.43,67.39 L181.33,67.33 L184.24,67.26 L187.14,67.20 L190.04,67.14 L192.95,67.08 L195.85,67.03 L198.76,66.98 L201.66,66.93 L204.57,66.88 L207.47,66.84 L210.38,66.80 L213.28,66.75 L216.19,66.72 L219.09,66.68 L222.00,66.64 L224.90,66.61 L227.81,66.58 L230.71,66.54 L233.62,66.52 L236.52,66.49" fill="none" stroke="#d42a2a" stroke-width="1.5" />
<line x1="47.70" y1="12.20" x2="47.70" y2="172.90" stroke="#333" stroke-width="1" />
<line x1="47.20" y1="172.40" x2="236.30" y2="172.40" stroke="#333" stroke-width="1" />
<line x1="44.20" y1="12.70" x2="47.70" y2="12.70" stroke="#333" stroke-width="1" />
<text x="41.60" y="16.50" font-size="10.6" text-anchor="end" font-weight="normal" fill="#1a1a1a" >1E−4</text>
<line x1="44.20" y1="42.65" x2="47.70" y2="42.65" stroke="#333" stroke-width="1" />
<text x="41.60" y="46.45" font-size="10.6" text-anchor="end" font-weight="normal" fill="#1a1a1a" >1E−5</text>
<line x1="44.20" y1="72.60" x2="47.70" y2="72.60" stroke="#333" stroke-width="1" />
<text x="41.60" y="76.40" font-size="10.6" text-anchor="end" font-weight="normal" fill="#1a1a1a" >1E−6</text>
<line x1="44.20" y1="102.55" x2="47.70" y2="102.55" stroke="#333" stroke-width="1" />
<text x="41.60" y="106.35" font-size="10.6" text-anchor="end" font-weight="normal" fill="#1a1a1a" >1E−7</text>
<line x1="44.20" y1="132.50" x2="47.70" y2="132.50" stroke="#333" stroke-width="1" />
<text x="41.60" y="136.30" font-size="10.6" text-anchor="end" font-weight="normal" fill="#1a1a1a" >1E−8</text>
<line x1="44.20" y1="162.45" x2="47.70" y2="162.45" stroke="#333" stroke-width="1" />
<text x="41.60" y="166.25" font-size="10.6" text-anchor="end" font-weight="normal" fill="#1a1a1a" >1E−9</text>
<line x1="45.70" y1="33.63" x2="47.70" y2="33.63" stroke="#333" stroke-width="0.7" />
<line x1="45.70" y1="28.36" x2="47.70" y2="28.36" stroke="#333" stroke-width="0.7" />
<line x1="45.70" y1="24.62" x2="47.70" y2="24.62" stroke="#333" stroke-width="0.7" />
<line x1="45.70" y1="21.72" x2="47.70" y2="21.72" stroke="#333" stroke-width="0.7" />
<line x1="45.70" y1="19.34" x2="47.70" y2="19.34" stroke="#333" stroke-width="0.7" />
<line x1="45.70" y1="17.34" x2="47.70" y2="17.34" stroke="#333" stroke-width="0.7" />
<line x1="45.70" y1="15.60" x2="47.70" y2="15.60" stroke="#333" stroke-width="0.7" />
<line x1="45.70" y1="14.07" x2="47.70" y2="14.07" stroke="#333" stroke-width="0.7" />
<line x1="45.70" y1="63.58" x2="47.70" y2="63.58" stroke="#333" stroke-width="0.7" />
<line x1="45.70" y1="58.31" x2="47.70" y2="58.31" stroke="#333" stroke-width="0.7" />
<line x1="45.70" y1="54.57" x2="47.70" y2="54.57" stroke="#333" stroke-width="0.7" />
<line x1="45.70" y1="51.67" x2="47.70" y2="51.67" stroke="#333" stroke-width="0.7" />
<line x1="45.70" y1="49.29" x2="47.70" y2="49.29" stroke="#333" stroke-width="0.7" />
<line x1="45.70" y1="47.29" x2="47.70" y2="47.29" stroke="#333" stroke-width="0.7" />
<line x1="45.70" y1="45.55" x2="47.70" y2="45.55" stroke="#333" stroke-width="0.7" />
<line x1="45.70" y1="44.02" x2="47.70" y2="44.02" stroke="#333" stroke-width="0.7" />
<line x1="45.70" y1="93.53" x2="47.70" y2="93.53" stroke="#333" stroke-width="0.7" />
<line x1="45.70" y1="88.26" x2="47.70" y2="88.26" stroke="#333" stroke-width="0.7" />
<line x1="45.70" y1="84.52" x2="47.70" y2="84.52" stroke="#333" stroke-width="0.7" />
<line x1="45.70" y1="81.62" x2="47.70" y2="81.62" stroke="#333" stroke-width="0.7" />
<line x1="45.70" y1="79.24" x2="47.70" y2="79.24" stroke="#333" stroke-width="0.7" />
<line x1="45.70" y1="77.24" x2="47.70" y2="77.24" stroke="#333" stroke-width="0.7" />
<line x1="45.70" y1="75.50" x2="47.70" y2="75.50" stroke="#333" stroke-width="0.7" />
<line x1="45.70" y1="73.97" x2="47.70" y2="73.97" stroke="#333" stroke-width="0.7" />
<line x1="45.70" y1="123.48" x2="47.70" y2="123.48" stroke="#333" stroke-width="0.7" />
<line x1="45.70" y1="118.21" x2="47.70" y2="118.21" stroke="#333" stroke-width="0.7" />
<line x1="45.70" y1="114.47" x2="47.70" y2="114.47" stroke="#333" stroke-width="0.7" />
<line x1="45.70" y1="111.57" x2="47.70" y2="111.57" stroke="#333" stroke-width="0.7" />
<line x1="45.70" y1="109.19" x2="47.70" y2="109.19" stroke="#333" stroke-width="0.7" />
<line x1="45.70" y1="107.19" x2="47.70" y2="107.19" stroke="#333" stroke-width="0.7" />
<line x1="45.70" y1="105.45" x2="47.70" y2="105.45" stroke="#333" stroke-width="0.7" />
<line x1="45.70" y1="103.92" x2="47.70" y2="103.92" stroke="#333" stroke-width="0.7" />
<line x1="45.70" y1="153.43" x2="47.70" y2="153.43" stroke="#333" stroke-width="0.7" />
<line x1="45.70" y1="148.16" x2="47.70" y2="148.16" stroke="#333" stroke-width="0.7" />
<line x1="45.70" y1="144.42" x2="47.70" y2="144.42" stroke="#333" stroke-width="0.7" />
<line x1="45.70" y1="141.52" x2="47.70" y2="141.52" stroke="#333" stroke-width="0.7" />
<line x1="45.70" y1="139.14" x2="47.70" y2="139.14" stroke="#333" stroke-width="0.7" />
<line x1="45.70" y1="137.14" x2="47.70" y2="137.14" stroke="#333" stroke-width="0.7" />
<line x1="45.70" y1="135.40" x2="47.70" y2="135.40" stroke="#333" stroke-width="0.7" />
<line x1="45.70" y1="133.87" x2="47.70" y2="133.87" stroke="#333" stroke-width="0.7" />
<line x1="45.70" y1="171.47" x2="47.70" y2="171.47" stroke="#333" stroke-width="0.7" />
<line x1="45.70" y1="169.09" x2="47.70" y2="169.09" stroke="#333" stroke-width="0.7" />
<line x1="45.70" y1="167.09" x2="47.70" y2="167.09" stroke="#333" stroke-width="0.7" />
<line x1="45.70" y1="165.35" x2="47.70" y2="165.35" stroke="#333" stroke-width="0.7" />
<line x1="45.70" y1="163.82" x2="47.70" y2="163.82" stroke="#333" stroke-width="0.7" />
<line x1="47.70" y1="172.40" x2="47.70" y2="175.90" stroke="#333" stroke-width="1" />
<text x="47.70" y="187.20" font-size="10.3" text-anchor="middle" font-weight="normal" fill="#1a1a1a" >0</text>
<line x1="76.75" y1="172.40" x2="76.75" y2="175.90" stroke="#333" stroke-width="1" />
<text x="76.75" y="187.20" font-size="10.3" text-anchor="middle" font-weight="normal" fill="#1a1a1a" >1</text>
<line x1="105.80" y1="172.40" x2="105.80" y2="175.90" stroke="#333" stroke-width="1" />
<text x="105.80" y="187.20" font-size="10.3" text-anchor="middle" font-weight="normal" fill="#1a1a1a" >2</text>
<line x1="134.85" y1="172.40" x2="134.85" y2="175.90" stroke="#333" stroke-width="1" />
<text x="134.85" y="187.20" font-size="10.3" text-anchor="middle" font-weight="normal" fill="#1a1a1a" >3</text>
<line x1="163.90" y1="172.40" x2="163.90" y2="175.90" stroke="#333" stroke-width="1" />
<text x="163.90" y="187.20" font-size="10.3" text-anchor="middle" font-weight="normal" fill="#1a1a1a" >4</text>
<line x1="192.95" y1="172.40" x2="192.95" y2="175.90" stroke="#333" stroke-width="1" />
<text x="192.95" y="187.20" font-size="10.3" text-anchor="middle" font-weight="normal" fill="#1a1a1a" >5</text>
<line x1="222.00" y1="172.40" x2="222.00" y2="175.90" stroke="#333" stroke-width="1" />
<text x="222.00" y="187.20" font-size="10.3" text-anchor="middle" font-weight="normal" fill="#1a1a1a" >6</text>
<line x1="47.70" y1="172.40" x2="47.70" y2="174.40" stroke="#333" stroke-width="0.8" />
<line x1="62.23" y1="172.40" x2="62.23" y2="174.40" stroke="#333" stroke-width="0.8" />
<line x1="76.75" y1="172.40" x2="76.75" y2="174.40" stroke="#333" stroke-width="0.8" />
<line x1="91.28" y1="172.40" x2="91.28" y2="174.40" stroke="#333" stroke-width="0.8" />
<line x1="105.80" y1="172.40" x2="105.80" y2="174.40" stroke="#333" stroke-width="0.8" />
<line x1="120.33" y1="172.40" x2="120.33" y2="174.40" stroke="#333" stroke-width="0.8" />
<line x1="134.85" y1="172.40" x2="134.85" y2="174.40" stroke="#333" stroke-width="0.8" />
<line x1="149.38" y1="172.40" x2="149.38" y2="174.40" stroke="#333" stroke-width="0.8" />
<line x1="163.90" y1="172.40" x2="163.90" y2="174.40" stroke="#333" stroke-width="0.8" />
<line x1="178.43" y1="172.40" x2="178.43" y2="174.40" stroke="#333" stroke-width="0.8" />
<line x1="192.95" y1="172.40" x2="192.95" y2="174.40" stroke="#333" stroke-width="0.8" />
<line x1="207.48" y1="172.40" x2="207.48" y2="174.40" stroke="#333" stroke-width="0.8" />
<line x1="222.00" y1="172.40" x2="222.00" y2="174.40" stroke="#333" stroke-width="0.8" />
<text x="144.00" y="201.40" font-size="11" text-anchor="middle" font-weight="normal" fill="#1a1a1a" >Time (s)</text>
<text transform="translate(12.6,92.4) rotate(-90)" font-size="10.5" text-anchor="middle" fill="#1a1a1a">Total force (N)</text>
<line x1="165.30" y1="19.25" x2="187.80" y2="19.25" stroke="#7a1fa2" stroke-width="1.4" />
<text x="190.60" y="22.65" font-size="10.8" text-anchor="start" font-weight="normal" fill="#1a1a1a" >10 L/min</text>
<line x1="165.30" y1="31.05" x2="187.80" y2="31.05" stroke="#4f6ef7" stroke-width="1.4" />
<text x="190.60" y="34.45" font-size="10.8" text-anchor="start" font-weight="normal" fill="#1a1a1a" >20 L/min</text>
<line x1="165.30" y1="42.85" x2="187.80" y2="42.85" stroke="#6aa52a" stroke-width="1.4" />
<text x="190.60" y="46.25" font-size="10.8" text-anchor="start" font-weight="normal" fill="#1a1a1a" >30 L/min</text>
<line x1="165.30" y1="54.65" x2="187.80" y2="54.65" stroke="#d42a2a" stroke-width="1.4" />
<text x="190.60" y="58.05" font-size="10.8" text-anchor="start" font-weight="normal" fill="#1a1a1a" >40 L/min</text>
<text x="1.00" y="9.90" font-size="14" text-anchor="start" font-weight="bold" fill="#000" >a</text>
<text x="240.60" y="10.10" font-size="14" text-anchor="start" font-weight="bold" fill="#000" >b</text>
<rect x="254.20" y="33.20" width="9.40" height="137.80" fill="url(#cbar)" stroke="#888" stroke-width="0.4" />
<text x="265.40" y="38.90" font-size="10" text-anchor="start" font-weight="normal" fill="#1a1a1a" >2.2</text>
<text x="265.40" y="61.30" font-size="10" text-anchor="start" font-weight="normal" fill="#1a1a1a" >1.8</text>
<text x="265.40" y="83.70" font-size="10" text-anchor="start" font-weight="normal" fill="#1a1a1a" >1.7</text>
<text x="265.40" y="106.10" font-size="10" text-anchor="start" font-weight="normal" fill="#1a1a1a" >1.1</text>
<text x="265.40" y="128.50" font-size="10" text-anchor="start" font-weight="normal" fill="#1a1a1a" >0.7</text>
<text x="265.40" y="150.90" font-size="10" text-anchor="start" font-weight="normal" fill="#1a1a1a" >0.3</text>
<text x="265.40" y="173.30" font-size="10" text-anchor="start" font-weight="normal" fill="#1a1a1a" >0.0</text>
<text x="253.00" y="28.50" font-size="10" text-anchor="start" font-weight="normal" fill="#1a1a1a" >(Å)</text>
<g clip-path="url(#sc0)">
<g clip-path="url(#bl0)"><rect x="294.09999999999997" y="46.0" width="89.6" height="89.6" fill="url(#lo0)"/>
<circle cx="338.9" cy="90.8" r="44.8" fill="url(#shadeL)"/></g>
<g clip-path="url(#ab0)">
<rect x="339.29999999999995" y="46.0" width="44.8" height="89.6" fill="#2a90c0"/>
<g clip-path="url(#ue0)"><path d="M338.90,-49.20 L274.64,140.60 L277.32,140.60 Z" fill="#40b0f8"/><path d="M338.90,-49.20 L275.70,140.60 L278.38,140.60 Z" fill="#40b0f8"/><path d="M338.90,-49.20 L276.75,140.60 L279.44,140.60 Z" fill="#40b0f8"/><path d="M338.90,-49.20 L277.81,140.60 L280.50,140.60 Z" fill="#40aff8"/><path d="M338.90,-49.20 L278.87,140.60 L281.55,140.60 Z" fill="#3faff8"/><path d="M338.90,-49.20 L279.93,140.60 L282.61,140.60 Z" fill="#3faef8"/><path d="M338.90,-49.20 L280.98,140.60 L283.67,140.60 Z" fill="#3fadf8"/><path d="M338.90,-49.20 L282.04,140.60 L284.73,140.60 Z" fill="#3fadf8"/><path d="M338.90,-49.20 L283.10,140.60 L285.78,140.60 Z" fill="#3eacf8"/><path d="M338.90,-49.20 L284.16,140.60 L286.84,140.60 Z" fill="#3eabf8"/><path d="M338.90,-49.20 L285.21,140.60 L287.90,140.60 Z" fill="#3eaaf8"/><path d="M338.90,-49.20 L286.27,140.60 L288.96,140.60 Z" fill="#3eaaf8"/><path d="M338.90,-49.20 L287.33,140.60 L290.01,140.60 Z" fill="#3da9f8"/><path d="M338.90,-49.20 L288.39,140.60 L291.07,140.60 Z" fill="#3da8f8"/><path d="M338.90,-49.20 L289.44,140.60 L292.13,140.60 Z" fill="#3da8f8"/><path d="M338.90,-49.20 L290.50,140.60 L293.19,140.60 Z" fill="#3da7f8"/><path d="M338.90,-49.20 L291.56,140.60 L294.24,140.60 Z" fill="#3ca6f8"/><path d="M338.90,-49.20 L292.62,140.60 L295.30,140.60 Z" fill="#3ca6f8"/><path d="M338.90,-49.20 L293.67,140.60 L296.36,140.60 Z" fill="#3ca5f8"/><path d="M338.90,-49.20 L294.73,140.60 L297.42,140.60 Z" fill="#3ca4f8"/><path d="M338.90,-49.20 L295.79,140.60 L298.47,140.60 Z" fill="#3ba4f8"/><path d="M338.90,-49.20 L296.85,140.60 L299.53,140.60 Z" fill="#3ba3f8"/><path d="M338.90,-49.20 L297.90,140.60 L300.59,140.60 Z" fill="#3ba2f8"/><path d="M338.90,-49.20 L298.96,140.60 L301.64,140.60 Z" fill="#3ba1f8"/><path d="M338.90,-49.20 L300.02,140.60 L302.70,140.60 Z" fill="#3aa1f8"/><path d="M338.90,-49.20 L301.08,140.60 L303.76,140.60 Z" fill="#3aa0f8"/><path d="M338.90,-49.20 L302.13,140.60 L304.82,140.60 Z" fill="#3a9df8"/><path d="M338.90,-49.20 L303.19,140.60 L305.87,140.60 Z" fill="#399bf7"/><path d="M338.90,-49.20 L304.25,140.60 L306.93,140.60 Z" fill="#3998f7"/><path d="M338.90,-49.20 L305.31,140.60 L307.99,140.60 Z" fill="#3995f6"/><path d="M338.90,-49.20 L306.36,140.60 L309.05,140.60 Z" fill="#3992f6"/><path d="M338.90,-49.20 L307.42,140.60 L310.10,140.60 Z" fill="#388ff5"/><path d="M338.90,-49.20 L308.48,140.60 L311.16,140.60 Z" fill="#388df5"/><path d="M338.90,-49.20 L309.54,140.60 L312.22,140.60 Z" fill="#388af4"/><path d="M338.90,-49.20 L310.59,140.60 L313.28,140.60 Z" fill="#3787f4"/><path d="M338.90,-49.20 L311.65,140.60 L314.33,140.60 Z" fill="#3784f3"/><path d="M338.90,-49.20 L312.71,140.60 L315.39,140.60 Z" fill="#3781f3"/><path d="M338.90,-49.20 L313.77,140.60 L316.45,140.60 Z" fill="#377ff2"/><path d="M338.90,-49.20 L314.82,140.60 L317.51,140.60 Z" fill="#367cf2"/><path d="M338.90,-49.20 L315.88,140.60 L318.56,140.60 Z" fill="#3679f2"/><path d="M338.90,-49.20 L316.94,140.60 L319.62,140.60 Z" fill="#3676f1"/><path d="M338.90,-49.20 L317.99,140.60 L320.68,140.60 Z" fill="#3574f1"/><path d="M338.90,-49.20 L319.05,140.60 L321.74,140.60 Z" fill="#3571f0"/><path d="M338.90,-49.20 L320.11,140.60 L322.79,140.60 Z" fill="#346dee"/><path d="M338.90,-49.20 L321.17,140.60 L323.85,140.60 Z" fill="#3468ec"/><path d="M338.90,-49.20 L322.22,140.60 L324.91,140.60 Z" fill="#3364ea"/><path d="M338.90,-49.20 L323.28,140.60 L325.97,140.60 Z" fill="#325fe8"/><path d="M338.90,-49.20 L324.34,140.60 L327.02,140.60 Z" fill="#315be6"/><path d="M338.90,-49.20 L325.40,140.60 L328.08,140.60 Z" fill="#3056e4"/><path d="M338.90,-49.20 L326.45,140.60 L329.14,140.60 Z" fill="#3052e1"/><path d="M338.90,-49.20 L327.51,140.60 L330.20,140.60 Z" fill="#2f4ddf"/><path d="M338.90,-49.20 L328.57,140.60 L331.25,140.60 Z" fill="#2e49dd"/><path d="M338.90,-49.20 L329.63,140.60 L332.31,140.60 Z" fill="#2d44db"/><path d="M338.90,-49.20 L330.68,140.60 L333.37,140.60 Z" fill="#2c40d9"/><path d="M338.90,-49.20 L331.74,140.60 L334.43,140.60 Z" fill="#2c3bd6"/><path d="M338.90,-49.20 L332.80,140.60 L335.48,140.60 Z" fill="#2b37d4"/><path d="M338.90,-49.20 L333.86,140.60 L336.54,140.60 Z" fill="#2a32d2"/><path d="M338.90,-49.20 L334.91,140.60 L337.60,140.60 Z" fill="#2a31d1"/><path d="M338.90,-49.20 L335.97,140.60 L338.66,140.60 Z" fill="#2a30d0"/><path d="M338.90,-49.20 L337.03,140.60 L339.71,140.60 Z" fill="#2a2fcf"/><path d="M338.90,-49.20 L338.09,140.60 L340.77,140.60 Z" fill="#2a2fce"/><path d="M338.90,-49.20 L339.14,140.60 L341.83,140.60 Z" fill="#2a2ecd"/><path d="M338.90,-49.20 L340.20,140.60 L342.89,140.60 Z" fill="#2a2dcc"/><path d="M338.90,-49.20 L341.26,140.60 L343.94,140.60 Z" fill="#2a2cca"/><path d="M338.90,-49.20 L342.32,140.60 L345.00,140.60 Z" fill="#2a2bc9"/><path d="M338.90,-49.20 L343.37,140.60 L346.06,140.60 Z" fill="#2a2ac8"/><path d="M338.90,-49.20 L344.43,140.60 L347.12,140.60 Z" fill="#2b2ecb"/><path d="M338.90,-49.20 L345.49,140.60 L348.17,140.60 Z" fill="#2c32ce"/><path d="M338.90,-49.20 L346.55,140.60 L349.23,140.60 Z" fill="#2e37d2"/><path d="M338.90,-49.20 L347.60,140.60 L350.29,140.60 Z" fill="#2f3cd5"/><path d="M338.90,-49.20 L348.66,140.60 L351.35,140.60 Z" fill="#3140d9"/><path d="M338.90,-49.20 L349.72,140.60 L352.40,140.60 Z" fill="#3245dc"/><path d="M338.90,-49.20 L350.78,140.60 L353.46,140.60 Z" fill="#334ae0"/><path d="M338.90,-49.20 L351.83,140.60 L354.52,140.60 Z" fill="#354ee3"/><path d="M338.90,-49.20 L352.89,140.60 L355.58,140.60 Z" fill="#3653e6"/><path d="M338.90,-49.20 L353.95,140.60 L356.63,140.60 Z" fill="#3858ea"/><path d="M338.90,-49.20 L355.01,140.60 L357.69,140.60 Z" fill="#395ded"/><path d="M338.90,-49.20 L356.06,140.60 L358.75,140.60 Z" fill="#3a61f0"/><path d="M338.90,-49.20 L357.12,140.60 L359.81,140.60 Z" fill="#3a65f1"/><path d="M338.90,-49.20 L358.18,140.60 L360.86,140.60 Z" fill="#3a68f1"/><path d="M338.90,-49.20 L359.24,140.60 L361.92,140.60 Z" fill="#3a6cf2"/><path d="M338.90,-49.20 L360.29,140.60 L362.98,140.60 Z" fill="#3a70f2"/><path d="M338.90,-49.20 L361.35,140.60 L364.03,140.60 Z" fill="#3a74f2"/><path d="M338.90,-49.20 L362.41,140.60 L365.09,140.60 Z" fill="#3a77f3"/><path d="M338.90,-49.20 L363.47,140.60 L366.15,140.60 Z" fill="#3a7bf3"/><path d="M338.90,-49.20 L364.52,140.60 L367.21,140.60 Z" fill="#3a7ff4"/><path d="M338.90,-49.20 L365.58,140.60 L368.26,140.60 Z" fill="#3a82f4"/><path d="M338.90,-49.20 L366.64,140.60 L369.32,140.60 Z" fill="#3a86f5"/><path d="M338.90,-49.20 L367.70,140.60 L370.38,140.60 Z" fill="#3a8af5"/><path d="M338.90,-49.20 L368.75,140.60 L371.44,140.60 Z" fill="#3a8ef6"/><path d="M338.90,-49.20 L369.81,140.60 L372.49,140.60 Z" fill="#3a91f6"/><path d="M338.90,-49.20 L370.87,140.60 L373.55,140.60 Z" fill="#3a95f7"/><path d="M338.90,-49.20 L371.93,140.60 L374.61,140.60 Z" fill="#3a99f7"/><path d="M338.90,-49.20 L372.98,140.60 L375.67,140.60 Z" fill="#3a9cf8"/><path d="M338.90,-49.20 L374.04,140.60 L376.72,140.60 Z" fill="#3aa0f8"/><path d="M338.90,-49.20 L375.10,140.60 L377.78,140.60 Z" fill="#3aa1f8"/><path d="M338.90,-49.20 L376.16,140.60 L378.84,140.60 Z" fill="#3ba1f8"/><path d="M338.90,-49.20 L377.21,140.60 L379.90,140.60 Z" fill="#3ba2f8"/><path d="M338.90,-49.20 L378.27,140.60 L380.95,140.60 Z" fill="#3ba3f8"/><path d="M338.90,-49.20 L379.33,140.60 L382.01,140.60 Z" fill="#3ba4f8"/><path d="M338.90,-49.20 L380.38,140.60 L383.07,140.60 Z" fill="#3ca4f8"/><path d="M338.90,-49.20 L381.44,140.60 L384.13,140.60 Z" fill="#3ca5f8"/><path d="M338.90,-49.20 L382.50,140.60 L385.18,140.60 Z" fill="#3ca6f8"/><path d="M338.90,-49.20 L383.56,140.60 L386.24,140.60 Z" fill="#3ca6f8"/><path d="M338.90,-49.20 L384.61,140.60 L387.30,140.60 Z" fill="#3da7f8"/><path d="M338.90,-49.20 L385.67,140.60 L388.36,140.60 Z" fill="#3da8f8"/><path d="M338.90,-49.20 L386.73,140.60 L389.41,140.60 Z" fill="#3da8f8"/><path d="M338.90,-49.20 L387.79,140.60 L390.47,140.60 Z" fill="#3da9f8"/><path d="M338.90,-49.20 L388.84,140.60 L391.53,140.60 Z" fill="#3eaaf8"/><path d="M338.90,-49.20 L389.90,140.60 L392.59,140.60 Z" fill="#3eaaf8"/><path d="M338.90,-49.20 L390.96,140.60 L393.64,140.60 Z" fill="#3eabf8"/><path d="M338.90,-49.20 L392.02,140.60 L394.70,140.60 Z" fill="#3eacf8"/><path d="M338.90,-49.20 L393.07,140.60 L395.76,140.60 Z" fill="#3fadf8"/><path d="M338.90,-49.20 L394.13,140.60 L396.82,140.60 Z" fill="#3fadf8"/><path d="M338.90,-49.20 L395.19,140.60 L397.87,140.60 Z" fill="#3faef8"/><path d="M338.90,-49.20 L396.25,140.60 L398.93,140.60 Z" fill="#3faff8"/><path d="M338.90,-49.20 L397.30,140.60 L399.99,140.60 Z" fill="#40aff8"/><path d="M338.90,-49.20 L398.36,140.60 L401.05,140.60 Z" fill="#40b0f8"/><path d="M338.90,-49.20 L399.42,140.60 L402.10,140.60 Z" fill="#40b0f8"/><path d="M338.90,-49.20 L400.48,140.60 L403.16,140.60 Z" fill="#40b0f8"/></g>
<ellipse cx="339.29999999999995" cy="90.8" rx="38.2" ry="44.8" fill="url(#shadeU)"/>
</g>
<g clip-path="url(#bl0)"><ellipse cx="339.4" cy="95.6" rx="45.3" ry="14.6" transform="rotate(6 339.4 95.6)" fill="url(#fa0)"/></g>
<g clip-path="url(#bl0)"><path d="M294.35,90.86 L294.37,90.68 L294.40,90.50 L294.44,90.31 L294.48,90.13 L294.54,89.95 L294.60,89.77 L294.66,89.59 L294.74,89.42 L294.82,89.24 L294.91,89.06 L295.00,88.89 L295.10,88.71 L295.21,88.54 L295.33,88.37 L295.45,88.20 L295.59,88.03 L295.72,87.86 L295.87,87.69 L296.02,87.53 L296.18,87.37 L296.35,87.20 L296.52,87.04 L296.70,86.88 L296.89,86.72 L297.08,86.56 L297.28,86.41 L297.49,86.25 L297.70,86.10 L297.92,85.95 L298.15,85.80 L298.39,85.65 L298.63,85.51 L298.88,85.36 L299.13,85.22 L299.39,85.08 L299.66,84.94 L299.93,84.80 L300.21,84.66 L300.50,84.53 L300.79,84.39 L301.09,84.26 L301.39,84.13 L301.71,84.01 L302.02,83.88 L302.35,83.76 L302.68,83.64 L303.01,83.52 L303.35,83.40 L303.70,83.28 L304.05,83.17 L304.41,83.06 L304.77,82.95 L305.14,82.84 L305.52,82.73 L305.90,82.63 L306.29,82.53 L306.68,82.43 L307.07,82.33 L307.48,82.24 L302.40,82.22 L288.9,78.98 L288.9,90.86 Z" fill="#fff"/></g>
</g>
<line x1="294.40" y1="80.30" x2="385.40" y2="102.10" stroke="#333" stroke-width="0.8" stroke-dasharray="2.2,1.8"/>
<g clip-path="url(#sc1)">
<g clip-path="url(#bl1)"><rect x="398.7" y="46.0" width="89.6" height="89.6" fill="url(#lo1)"/>
<circle cx="443.5" cy="90.8" r="44.8" fill="url(#shadeL)"/></g>
<g clip-path="url(#ab1)">
<rect x="443.9" y="46.0" width="44.8" height="89.6" fill="#4aa860"/>
<g clip-path="url(#ue1)"><path d="M443.50,-49.20 L379.24,140.60 L381.92,140.60 Z" fill="#58d070"/><path d="M443.50,-49.20 L380.30,140.60 L382.98,140.60 Z" fill="#58d070"/><path d="M443.50,-49.20 L381.35,140.60 L384.04,140.60 Z" fill="#58d070"/><path d="M443.50,-49.20 L382.41,140.60 L385.10,140.60 Z" fill="#57d173"/><path d="M443.50,-49.20 L383.47,140.60 L386.15,140.60 Z" fill="#57d277"/><path d="M443.50,-49.20 L384.53,140.60 L387.21,140.60 Z" fill="#56d37a"/><path d="M443.50,-49.20 L385.58,140.60 L388.27,140.60 Z" fill="#56d57e"/><path d="M443.50,-49.20 L386.64,140.60 L389.33,140.60 Z" fill="#55d681"/><path d="M443.50,-49.20 L387.70,140.60 L390.38,140.60 Z" fill="#55d785"/><path d="M443.50,-49.20 L388.76,140.60 L391.44,140.60 Z" fill="#54d888"/><path d="M443.50,-49.20 L389.81,140.60 L392.50,140.60 Z" fill="#53d98c"/><path d="M443.50,-49.20 L390.87,140.60 L393.56,140.60 Z" fill="#53da8f"/><path d="M443.50,-49.20 L391.93,140.60 L394.61,140.60 Z" fill="#52dc93"/><path d="M443.50,-49.20 L392.99,140.60 L395.67,140.60 Z" fill="#52dd96"/><path d="M443.50,-49.20 L394.04,140.60 L396.73,140.60 Z" fill="#51de9a"/><path d="M443.50,-49.20 L395.10,140.60 L397.79,140.60 Z" fill="#50df9d"/><path d="M443.50,-49.20 L396.16,140.60 L398.84,140.60 Z" fill="#50e0a1"/><path d="M443.50,-49.20 L397.22,140.60 L399.90,140.60 Z" fill="#4fe1a6"/><path d="M443.50,-49.20 L398.27,140.60 L400.96,140.60 Z" fill="#4ee2ac"/><path d="M443.50,-49.20 L399.33,140.60 L402.02,140.60 Z" fill="#4de3b1"/><path d="M443.50,-49.20 L400.39,140.60 L403.07,140.60 Z" fill="#4ce4b6"/><path d="M443.50,-49.20 L401.45,140.60 L404.13,140.60 Z" fill="#4ae6bc"/><path d="M443.50,-49.20 L402.50,140.60 L405.19,140.60 Z" fill="#49e7c1"/><path d="M443.50,-49.20 L403.56,140.60 L406.24,140.60 Z" fill="#48e8c6"/><path d="M443.50,-49.20 L404.62,140.60 L407.30,140.60 Z" fill="#47e9cc"/><path d="M443.50,-49.20 L405.68,140.60 L408.36,140.60 Z" fill="#46ead1"/><path d="M443.50,-49.20 L406.73,140.60 L409.42,140.60 Z" fill="#45ebd6"/><path d="M443.50,-49.20 L407.79,140.60 L410.47,140.60 Z" fill="#44ecdc"/><path d="M443.50,-49.20 L408.85,140.60 L411.53,140.60 Z" fill="#43ede1"/><path d="M443.50,-49.20 L409.91,140.60 L412.59,140.60 Z" fill="#42eee6"/><path d="M443.50,-49.20 L410.96,140.60 L413.65,140.60 Z" fill="#41efec"/><path d="M443.50,-49.20 L412.02,140.60 L414.70,140.60 Z" fill="#40eef0"/><path d="M443.50,-49.20 L413.08,140.60 L415.76,140.60 Z" fill="#40e6f0"/><path d="M443.50,-49.20 L414.14,140.60 L416.82,140.60 Z" fill="#3fdef0"/><path d="M443.50,-49.20 L415.19,140.60 L417.88,140.60 Z" fill="#3fd6f0"/><path d="M443.50,-49.20 L416.25,140.60 L418.93,140.60 Z" fill="#3ecef0"/><path d="M443.50,-49.20 L417.31,140.60 L419.99,140.60 Z" fill="#3ec6f0"/><path d="M443.50,-49.20 L418.37,140.60 L421.05,140.60 Z" fill="#3ebef0"/><path d="M443.50,-49.20 L419.42,140.60 L422.11,140.60 Z" fill="#3db6f0"/><path d="M443.50,-49.20 L420.48,140.60 L423.16,140.60 Z" fill="#3daef0"/><path d="M443.50,-49.20 L421.54,140.60 L424.22,140.60 Z" fill="#3ca6f0"/><path d="M443.50,-49.20 L422.59,140.60 L425.28,140.60 Z" fill="#3c9ef0"/><path d="M443.50,-49.20 L423.65,140.60 L426.34,140.60 Z" fill="#3b96f0"/><path d="M443.50,-49.20 L424.71,140.60 L427.39,140.60 Z" fill="#3b8ef0"/><path d="M443.50,-49.20 L425.77,140.60 L428.45,140.60 Z" fill="#3b86f0"/><path d="M443.50,-49.20 L426.82,140.60 L429.51,140.60 Z" fill="#3a7ef0"/><path d="M443.50,-49.20 L427.88,140.60 L430.57,140.60 Z" fill="#3a76ef"/><path d="M443.50,-49.20 L428.94,140.60 L431.62,140.60 Z" fill="#386eec"/><path d="M443.50,-49.20 L430.00,140.60 L432.68,140.60 Z" fill="#3666e9"/><path d="M443.50,-49.20 L431.05,140.60 L433.74,140.60 Z" fill="#345fe6"/><path d="M443.50,-49.20 L432.11,140.60 L434.80,140.60 Z" fill="#3357e3"/><path d="M443.50,-49.20 L433.17,140.60 L435.85,140.60 Z" fill="#314fe0"/><path d="M443.50,-49.20 L434.23,140.60 L436.91,140.60 Z" fill="#2f47dd"/><path d="M443.50,-49.20 L435.28,140.60 L437.97,140.60 Z" fill="#2d40d9"/><path d="M443.50,-49.20 L436.34,140.60 L439.03,140.60 Z" fill="#2c38d6"/><path d="M443.50,-49.20 L437.40,140.60 L440.08,140.60 Z" fill="#2a30d3"/><path d="M443.50,-49.20 L438.46,140.60 L441.14,140.60 Z" fill="#2828d0"/><path d="M443.50,-49.20 L439.51,140.60 L442.20,140.60 Z" fill="#2829d1"/><path d="M443.50,-49.20 L440.57,140.60 L443.26,140.60 Z" fill="#282ad2"/><path d="M443.50,-49.20 L441.63,140.60 L444.31,140.60 Z" fill="#292bd3"/><path d="M443.50,-49.20 L442.69,140.60 L445.37,140.60 Z" fill="#292bd3"/><path d="M443.50,-49.20 L443.74,140.60 L446.43,140.60 Z" fill="#292cd4"/><path d="M443.50,-49.20 L444.80,140.60 L447.49,140.60 Z" fill="#292dd5"/><path d="M443.50,-49.20 L445.86,140.60 L448.54,140.60 Z" fill="#2a2ed6"/><path d="M443.50,-49.20 L446.92,140.60 L449.60,140.60 Z" fill="#2a2fd7"/><path d="M443.50,-49.20 L447.97,140.60 L450.66,140.60 Z" fill="#2a30d8"/><path d="M443.50,-49.20 L449.03,140.60 L451.72,140.60 Z" fill="#2b35da"/><path d="M443.50,-49.20 L450.09,140.60 L452.77,140.60 Z" fill="#2d3cdd"/><path d="M443.50,-49.20 L451.15,140.60 L453.83,140.60 Z" fill="#2f43df"/><path d="M443.50,-49.20 L452.20,140.60 L454.89,140.60 Z" fill="#314ae2"/><path d="M443.50,-49.20 L453.26,140.60 L455.95,140.60 Z" fill="#3251e4"/><path d="M443.50,-49.20 L454.32,140.60 L457.00,140.60 Z" fill="#3458e7"/><path d="M443.50,-49.20 L455.38,140.60 L458.06,140.60 Z" fill="#365fea"/><path d="M443.50,-49.20 L456.43,140.60 L459.12,140.60 Z" fill="#3866ec"/><path d="M443.50,-49.20 L457.49,140.60 L460.18,140.60 Z" fill="#396def"/><path d="M443.50,-49.20 L458.55,140.60 L461.23,140.60 Z" fill="#3a76f0"/><path d="M443.50,-49.20 L459.61,140.60 L462.29,140.60 Z" fill="#3b81f0"/><path d="M443.50,-49.20 L460.66,140.60 L463.35,140.60 Z" fill="#3b8df0"/><path d="M443.50,-49.20 L461.72,140.60 L464.41,140.60 Z" fill="#3c98f0"/><path d="M443.50,-49.20 L462.78,140.60 L465.46,140.60 Z" fill="#3ca3f0"/><path d="M443.50,-49.20 L463.84,140.60 L466.52,140.60 Z" fill="#3daef0"/><path d="M443.50,-49.20 L464.89,140.60 L467.58,140.60 Z" fill="#3db9f0"/><path d="M443.50,-49.20 L465.95,140.60 L468.63,140.60 Z" fill="#3ec4f0"/><path d="M443.50,-49.20 L467.01,140.60 L469.69,140.60 Z" fill="#3ecff0"/><path d="M443.50,-49.20 L468.07,140.60 L470.75,140.60 Z" fill="#3fdbf0"/><path d="M443.50,-49.20 L469.12,140.60 L471.81,140.60 Z" fill="#40e6f0"/><path d="M443.50,-49.20 L470.18,140.60 L472.86,140.60 Z" fill="#40f0f0"/><path d="M443.50,-49.20 L471.24,140.60 L473.92,140.60 Z" fill="#43efea"/><path d="M443.50,-49.20 L472.30,140.60 L474.98,140.60 Z" fill="#45eee4"/><path d="M443.50,-49.20 L473.35,140.60 L476.04,140.60 Z" fill="#47ecde"/><path d="M443.50,-49.20 L474.41,140.60 L477.09,140.60 Z" fill="#49ebd8"/><path d="M443.50,-49.20 L475.47,140.60 L478.15,140.60 Z" fill="#4cead3"/><path d="M443.50,-49.20 L476.53,140.60 L479.21,140.60 Z" fill="#4ee9cd"/><path d="M443.50,-49.20 L477.58,140.60 L480.27,140.60 Z" fill="#50e8c7"/><path d="M443.50,-49.20 L478.64,140.60 L481.32,140.60 Z" fill="#53e7c1"/><path d="M443.50,-49.20 L479.70,140.60 L482.38,140.60 Z" fill="#55e5bb"/><path d="M443.50,-49.20 L480.76,140.60 L483.44,140.60 Z" fill="#57e4b6"/><path d="M443.50,-49.20 L481.81,140.60 L484.50,140.60 Z" fill="#5ae3b0"/><path d="M443.50,-49.20 L482.87,140.60 L485.55,140.60 Z" fill="#5ce2aa"/><path d="M443.50,-49.20 L483.93,140.60 L486.61,140.60 Z" fill="#5ee1a4"/><path d="M443.50,-49.20 L484.98,140.60 L487.67,140.60 Z" fill="#60e09f"/><path d="M443.50,-49.20 L486.04,140.60 L488.73,140.60 Z" fill="#60de9c"/><path d="M443.50,-49.20 L487.10,140.60 L489.78,140.60 Z" fill="#60dd9a"/><path d="M443.50,-49.20 L488.16,140.60 L490.84,140.60 Z" fill="#60db97"/><path d="M443.50,-49.20 L489.21,140.60 L491.90,140.60 Z" fill="#60da94"/><path d="M443.50,-49.20 L490.27,140.60 L492.96,140.60 Z" fill="#60d991"/><path d="M443.50,-49.20 L491.33,140.60 L494.01,140.60 Z" fill="#60d78e"/><path d="M443.50,-49.20 L492.39,140.60 L495.07,140.60 Z" fill="#60d68c"/><path d="M443.50,-49.20 L493.44,140.60 L496.13,140.60 Z" fill="#60d489"/><path d="M443.50,-49.20 L494.50,140.60 L497.19,140.60 Z" fill="#60d386"/><path d="M443.50,-49.20 L495.56,140.60 L498.24,140.60 Z" fill="#60d283"/><path d="M443.50,-49.20 L496.62,140.60 L499.30,140.60 Z" fill="#60d081"/><path d="M443.50,-49.20 L497.67,140.60 L500.36,140.60 Z" fill="#5fce7e"/><path d="M443.50,-49.20 L498.73,140.60 L501.42,140.60 Z" fill="#5dcb7b"/><path d="M443.50,-49.20 L499.79,140.60 L502.47,140.60 Z" fill="#5cc878"/><path d="M443.50,-49.20 L500.85,140.60 L503.53,140.60 Z" fill="#5bc575"/><path d="M443.50,-49.20 L501.90,140.60 L504.59,140.60 Z" fill="#59c373"/><path d="M443.50,-49.20 L502.96,140.60 L505.65,140.60 Z" fill="#58c070"/><path d="M443.50,-49.20 L504.02,140.60 L506.70,140.60 Z" fill="#58c070"/><path d="M443.50,-49.20 L505.08,140.60 L507.76,140.60 Z" fill="#58c070"/></g>
<ellipse cx="443.9" cy="90.8" rx="38.2" ry="44.8" fill="url(#shadeU)"/>
</g>
<g clip-path="url(#bl1)"><ellipse cx="444.0" cy="95.6" rx="45.3" ry="14.6" transform="rotate(6 444.0 95.6)" fill="url(#fa1)"/></g>
<g clip-path="url(#bl1)"><path d="M398.95,90.86 L398.97,90.68 L399.00,90.50 L399.04,90.31 L399.08,90.13 L399.14,89.95 L399.20,89.77 L399.26,89.59 L399.34,89.42 L399.42,89.24 L399.51,89.06 L399.60,88.89 L399.70,88.71 L399.81,88.54 L399.93,88.37 L400.05,88.20 L400.19,88.03 L400.32,87.86 L400.47,87.69 L400.62,87.53 L400.78,87.37 L400.95,87.20 L401.12,87.04 L401.30,86.88 L401.49,86.72 L401.68,86.56 L401.88,86.41 L402.09,86.25 L402.30,86.10 L402.52,85.95 L402.75,85.80 L402.99,85.65 L403.23,85.51 L403.48,85.36 L403.73,85.22 L403.99,85.08 L404.26,84.94 L404.53,84.80 L404.81,84.66 L405.10,84.53 L405.39,84.39 L405.69,84.26 L405.99,84.13 L406.31,84.01 L406.62,83.88 L406.95,83.76 L407.28,83.64 L407.61,83.52 L407.95,83.40 L408.30,83.28 L408.65,83.17 L409.01,83.06 L409.37,82.95 L409.74,82.84 L410.12,82.73 L410.50,82.63 L410.89,82.53 L411.28,82.43 L411.67,82.33 L412.08,82.24 L407.00,82.22 L393.5,78.98 L393.5,90.86 Z" fill="#fff"/></g>
</g>
<line x1="399.00" y1="80.30" x2="490.00" y2="102.10" stroke="#333" stroke-width="0.8" stroke-dasharray="2.2,1.8"/>
<g clip-path="url(#sc2)">
<g clip-path="url(#bl2)"><rect x="494.8" y="46.0" width="89.6" height="89.6" fill="url(#lo2)"/>
<circle cx="539.6" cy="90.8" r="44.8" fill="url(#shadeL)"/></g>
<g clip-path="url(#ab2)">
<rect x="540.0" y="46.0" width="44.8" height="89.6" fill="#c8a818"/>
<g clip-path="url(#ue2)"><path d="M539.60,-49.20 L475.34,140.60 L478.02,140.60 Z" fill="#f0b828"/><path d="M539.60,-49.20 L476.40,140.60 L479.08,140.60 Z" fill="#f0b828"/><path d="M539.60,-49.20 L477.45,140.60 L480.14,140.60 Z" fill="#f0b828"/><path d="M539.60,-49.20 L478.51,140.60 L481.20,140.60 Z" fill="#f0bc29"/><path d="M539.60,-49.20 L479.57,140.60 L482.25,140.60 Z" fill="#f0c02a"/><path d="M539.60,-49.20 L480.63,140.60 L483.31,140.60 Z" fill="#f0c52b"/><path d="M539.60,-49.20 L481.68,140.60 L484.37,140.60 Z" fill="#f0c92b"/><path d="M539.60,-49.20 L482.74,140.60 L485.43,140.60 Z" fill="#f0cd2c"/><path d="M539.60,-49.20 L483.80,140.60 L486.48,140.60 Z" fill="#f0d22d"/><path d="M539.60,-49.20 L484.86,140.60 L487.54,140.60 Z" fill="#f0d62e"/><path d="M539.60,-49.20 L485.91,140.60 L488.60,140.60 Z" fill="#f0db2f"/><path d="M539.60,-49.20 L486.97,140.60 L489.66,140.60 Z" fill="#f0df30"/><path d="M539.60,-49.20 L488.03,140.60 L490.71,140.60 Z" fill="#efe131"/><path d="M539.60,-49.20 L489.09,140.60 L491.77,140.60 Z" fill="#eee333"/><path d="M539.60,-49.20 L490.14,140.60 L492.83,140.60 Z" fill="#eee535"/><path d="M539.60,-49.20 L491.20,140.60 L493.89,140.60 Z" fill="#ede737"/><path d="M539.60,-49.20 L492.26,140.60 L494.94,140.60 Z" fill="#ece838"/><path d="M539.60,-49.20 L493.32,140.60 L496.00,140.60 Z" fill="#ebea3a"/><path d="M539.60,-49.20 L494.37,140.60 L497.06,140.60 Z" fill="#eaec3c"/><path d="M539.60,-49.20 L495.43,140.60 L498.12,140.60 Z" fill="#e9ed3d"/><path d="M539.60,-49.20 L496.49,140.60 L499.17,140.60 Z" fill="#e8ef3f"/><path d="M539.60,-49.20 L497.55,140.60 L500.23,140.60 Z" fill="#e2f046"/><path d="M539.60,-49.20 L498.60,140.60 L501.29,140.60 Z" fill="#d6f050"/><path d="M539.60,-49.20 L499.66,140.60 L502.34,140.60 Z" fill="#cbf05b"/><path d="M539.60,-49.20 L500.72,140.60 L503.40,140.60 Z" fill="#c0f065"/><path d="M539.60,-49.20 L501.78,140.60 L504.46,140.60 Z" fill="#b4f070"/><path d="M539.60,-49.20 L502.83,140.60 L505.52,140.60 Z" fill="#a9f07a"/><path d="M539.60,-49.20 L503.89,140.60 L506.57,140.60 Z" fill="#9ef084"/><path d="M539.60,-49.20 L504.95,140.60 L507.63,140.60 Z" fill="#92f08f"/><path d="M539.60,-49.20 L506.01,140.60 L508.69,140.60 Z" fill="#87f099"/><path d="M539.60,-49.20 L507.06,140.60 L509.75,140.60 Z" fill="#7df0a4"/><path d="M539.60,-49.20 L508.12,140.60 L510.80,140.60 Z" fill="#73f0b0"/><path d="M539.60,-49.20 L509.18,140.60 L511.86,140.60 Z" fill="#6af0bb"/><path d="M539.60,-49.20 L510.24,140.60 L512.92,140.60 Z" fill="#61f0c7"/><path d="M539.60,-49.20 L511.29,140.60 L513.98,140.60 Z" fill="#57f0d3"/><path d="M539.60,-49.20 L512.35,140.60 L515.03,140.60 Z" fill="#4ef0de"/><path d="M539.60,-49.20 L513.41,140.60 L516.09,140.60 Z" fill="#45f0ea"/><path d="M539.60,-49.20 L514.47,140.60 L517.15,140.60 Z" fill="#40eaf0"/><path d="M539.60,-49.20 L515.52,140.60 L518.21,140.60 Z" fill="#40def0"/><path d="M539.60,-49.20 L516.58,140.60 L519.26,140.60 Z" fill="#40d2f0"/><path d="M539.60,-49.20 L517.64,140.60 L520.32,140.60 Z" fill="#40c6f0"/><path d="M539.60,-49.20 L518.69,140.60 L521.38,140.60 Z" fill="#40b9f0"/><path d="M539.60,-49.20 L519.75,140.60 L522.44,140.60 Z" fill="#40adf0"/><path d="M539.60,-49.20 L520.81,140.60 L523.49,140.60 Z" fill="#40a1f0"/><path d="M539.60,-49.20 L521.87,140.60 L524.55,140.60 Z" fill="#4095f0"/><path d="M539.60,-49.20 L522.92,140.60 L525.61,140.60 Z" fill="#4089f0"/><path d="M539.60,-49.20 L523.98,140.60 L526.67,140.60 Z" fill="#407eef"/><path d="M539.60,-49.20 L525.04,140.60 L527.72,140.60 Z" fill="#3e77ec"/><path d="M539.60,-49.20 L526.10,140.60 L528.78,140.60 Z" fill="#3d70ea"/><path d="M539.60,-49.20 L527.15,140.60 L529.84,140.60 Z" fill="#3b69e7"/><path d="M539.60,-49.20 L528.21,140.60 L530.90,140.60 Z" fill="#3a62e4"/><path d="M539.60,-49.20 L529.27,140.60 L531.95,140.60 Z" fill="#395be1"/><path d="M539.60,-49.20 L530.33,140.60 L533.01,140.60 Z" fill="#3754de"/><path d="M539.60,-49.20 L531.38,140.60 L534.07,140.60 Z" fill="#364ddc"/><path d="M539.60,-49.20 L532.44,140.60 L535.13,140.60 Z" fill="#3446d9"/><path d="M539.60,-49.20 L533.50,140.60 L536.18,140.60 Z" fill="#333fd6"/><path d="M539.60,-49.20 L534.56,140.60 L537.24,140.60 Z" fill="#3238d3"/><path d="M539.60,-49.20 L535.61,140.60 L538.30,140.60 Z" fill="#3031d1"/><path d="M539.60,-49.20 L536.67,140.60 L539.36,140.60 Z" fill="#3031d1"/><path d="M539.60,-49.20 L537.73,140.60 L540.41,140.60 Z" fill="#3033d3"/><path d="M539.60,-49.20 L538.79,140.60 L541.47,140.60 Z" fill="#3035d5"/><path d="M539.60,-49.20 L539.84,140.60 L542.53,140.60 Z" fill="#3037d7"/><path d="M539.60,-49.20 L540.90,140.60 L543.59,140.60 Z" fill="#3038d8"/><path d="M539.60,-49.20 L541.96,140.60 L544.64,140.60 Z" fill="#303ada"/><path d="M539.60,-49.20 L543.02,140.60 L545.70,140.60 Z" fill="#303cdc"/><path d="M539.60,-49.20 L544.07,140.60 L546.76,140.60 Z" fill="#303ede"/><path d="M539.60,-49.20 L545.13,140.60 L547.82,140.60 Z" fill="#303fdf"/><path d="M539.60,-49.20 L546.19,140.60 L548.87,140.60 Z" fill="#3146e1"/><path d="M539.60,-49.20 L547.25,140.60 L549.93,140.60 Z" fill="#344fe4"/><path d="M539.60,-49.20 L548.30,140.60 L550.99,140.60 Z" fill="#3658e6"/><path d="M539.60,-49.20 L549.36,140.60 L552.05,140.60 Z" fill="#3861e8"/><path d="M539.60,-49.20 L550.42,140.60 L553.10,140.60 Z" fill="#3b6beb"/><path d="M539.60,-49.20 L551.48,140.60 L554.16,140.60 Z" fill="#3d74ed"/><path d="M539.60,-49.20 L552.53,140.60 L555.22,140.60 Z" fill="#3f7def"/><path d="M539.60,-49.20 L553.59,140.60 L556.28,140.60 Z" fill="#4089f0"/><path d="M539.60,-49.20 L554.65,140.60 L557.33,140.60 Z" fill="#4095f0"/><path d="M539.60,-49.20 L555.71,140.60 L558.39,140.60 Z" fill="#40a1f0"/><path d="M539.60,-49.20 L556.76,140.60 L559.45,140.60 Z" fill="#40adf0"/><path d="M539.60,-49.20 L557.82,140.60 L560.51,140.60 Z" fill="#40b9f0"/><path d="M539.60,-49.20 L558.88,140.60 L561.56,140.60 Z" fill="#40c6f0"/><path d="M539.60,-49.20 L559.94,140.60 L562.62,140.60 Z" fill="#40d2f0"/><path d="M539.60,-49.20 L560.99,140.60 L563.68,140.60 Z" fill="#40def0"/><path d="M539.60,-49.20 L562.05,140.60 L564.73,140.60 Z" fill="#40eaf0"/><path d="M539.60,-49.20 L563.11,140.60 L565.79,140.60 Z" fill="#45f0e8"/><path d="M539.60,-49.20 L564.17,140.60 L566.85,140.60 Z" fill="#50f0d8"/><path d="M539.60,-49.20 L565.22,140.60 L567.91,140.60 Z" fill="#5af0c8"/><path d="M539.60,-49.20 L566.28,140.60 L568.96,140.60 Z" fill="#65f0b9"/><path d="M539.60,-49.20 L567.34,140.60 L570.02,140.60 Z" fill="#6ff0a9"/><path d="M539.60,-49.20 L568.40,140.60 L571.08,140.60 Z" fill="#7af099"/><path d="M539.60,-49.20 L569.45,140.60 L572.14,140.60 Z" fill="#84f08a"/><path d="M539.60,-49.20 L570.51,140.60 L573.19,140.60 Z" fill="#8ff07a"/><path d="M539.60,-49.20 L571.57,140.60 L574.25,140.60 Z" fill="#99f06a"/><path d="M539.60,-49.20 L572.63,140.60 L575.31,140.60 Z" fill="#a3f05e"/><path d="M539.60,-49.20 L573.68,140.60 L576.37,140.60 Z" fill="#acf059"/><path d="M539.60,-49.20 L574.74,140.60 L577.42,140.60 Z" fill="#b4f054"/><path d="M539.60,-49.20 L575.80,140.60 L578.48,140.60 Z" fill="#bdf04f"/><path d="M539.60,-49.20 L576.86,140.60 L579.54,140.60 Z" fill="#c6f049"/><path d="M539.60,-49.20 L577.91,140.60 L580.60,140.60 Z" fill="#cef044"/><path d="M539.60,-49.20 L578.97,140.60 L581.65,140.60 Z" fill="#d7f03f"/><path d="M539.60,-49.20 L580.03,140.60 L582.71,140.60 Z" fill="#e0f03a"/><path d="M539.60,-49.20 L581.08,140.60 L583.77,140.60 Z" fill="#e9f034"/><path d="M539.60,-49.20 L582.14,140.60 L584.83,140.60 Z" fill="#f0ef30"/><path d="M539.60,-49.20 L583.20,140.60 L585.88,140.60 Z" fill="#f0ec2f"/><path d="M539.60,-49.20 L584.26,140.60 L586.94,140.60 Z" fill="#f0e92e"/><path d="M539.60,-49.20 L585.31,140.60 L588.00,140.60 Z" fill="#f0e52d"/><path d="M539.60,-49.20 L586.37,140.60 L589.06,140.60 Z" fill="#f0e22c"/><path d="M539.60,-49.20 L587.43,140.60 L590.11,140.60 Z" fill="#f0de2c"/><path d="M539.60,-49.20 L588.49,140.60 L591.17,140.60 Z" fill="#f0db2b"/><path d="M539.60,-49.20 L589.54,140.60 L592.23,140.60 Z" fill="#f0d72a"/><path d="M539.60,-49.20 L590.60,140.60 L593.29,140.60 Z" fill="#f0d429"/><path d="M539.60,-49.20 L591.66,140.60 L594.34,140.60 Z" fill="#f0d028"/><path d="M539.60,-49.20 L592.72,140.60 L595.40,140.60 Z" fill="#efce27"/><path d="M539.60,-49.20 L593.77,140.60 L596.46,140.60 Z" fill="#eecb26"/><path d="M539.60,-49.20 L594.83,140.60 L597.52,140.60 Z" fill="#edc925"/><path d="M539.60,-49.20 L595.89,140.60 L598.57,140.60 Z" fill="#ebc723"/><path d="M539.60,-49.20 L596.95,140.60 L599.63,140.60 Z" fill="#eac422"/><path d="M539.60,-49.20 L598.00,140.60 L600.69,140.60 Z" fill="#e9c221"/><path d="M539.60,-49.20 L599.06,140.60 L601.75,140.60 Z" fill="#e8c020"/><path d="M539.60,-49.20 L600.12,140.60 L602.80,140.60 Z" fill="#e8c020"/><path d="M539.60,-49.20 L601.18,140.60 L603.86,140.60 Z" fill="#e8c020"/></g>
<ellipse cx="540.0" cy="90.8" rx="38.2" ry="44.8" fill="url(#shadeU)"/>
</g>
<g clip-path="url(#bl2)"><ellipse cx="540.1" cy="95.6" rx="45.3" ry="14.6" transform="rotate(6 540.1 95.6)" fill="url(#fa2)"/></g>
<g clip-path="url(#bl2)"><path d="M495.05,90.86 L495.07,90.68 L495.10,90.50 L495.14,90.31 L495.18,90.13 L495.24,89.95 L495.30,89.77 L495.36,89.59 L495.44,89.42 L495.52,89.24 L495.61,89.06 L495.70,88.89 L495.80,88.71 L495.91,88.54 L496.03,88.37 L496.15,88.20 L496.29,88.03 L496.42,87.86 L496.57,87.69 L496.72,87.53 L496.88,87.37 L497.05,87.20 L497.22,87.04 L497.40,86.88 L497.59,86.72 L497.78,86.56 L497.98,86.41 L498.19,86.25 L498.40,86.10 L498.62,85.95 L498.85,85.80 L499.09,85.65 L499.33,85.51 L499.58,85.36 L499.83,85.22 L500.09,85.08 L500.36,84.94 L500.63,84.80 L500.91,84.66 L501.20,84.53 L501.49,84.39 L501.79,84.26 L502.09,84.13 L502.41,84.01 L502.72,83.88 L503.05,83.76 L503.38,83.64 L503.71,83.52 L504.05,83.40 L504.40,83.28 L504.75,83.17 L505.11,83.06 L505.47,82.95 L505.84,82.84 L506.22,82.73 L506.60,82.63 L506.99,82.53 L507.38,82.43 L507.77,82.33 L508.18,82.24 L503.10,82.22 L489.6,78.98 L489.6,90.86 Z" fill="#fff"/></g>
</g>
<line x1="495.10" y1="80.30" x2="586.10" y2="102.10" stroke="#333" stroke-width="0.8" stroke-dasharray="2.2,1.8"/>
<g clip-path="url(#sc3)">
<g clip-path="url(#bl3)"><rect x="590.9000000000001" y="46.0" width="89.6" height="89.6" fill="url(#lo3)"/>
<circle cx="635.7" cy="90.8" r="44.8" fill="url(#shadeL)"/></g>
<g clip-path="url(#ab3)">
<rect x="636.1" y="46.0" width="44.8" height="89.6" fill="#700000"/>
<g clip-path="url(#ue3)"><path d="M635.70,-49.20 L571.44,140.60 L574.12,140.60 Z" fill="#b00000"/><path d="M635.70,-49.20 L572.50,140.60 L575.18,140.60 Z" fill="#b00000"/><path d="M635.70,-49.20 L573.55,140.60 L576.24,140.60 Z" fill="#b00000"/><path d="M635.70,-49.20 L574.61,140.60 L577.30,140.60 Z" fill="#b40201"/><path d="M635.70,-49.20 L575.67,140.60 L578.35,140.60 Z" fill="#b80402"/><path d="M635.70,-49.20 L576.73,140.60 L579.41,140.60 Z" fill="#bc0703"/><path d="M635.70,-49.20 L577.78,140.60 L580.47,140.60 Z" fill="#c00905"/><path d="M635.70,-49.20 L578.84,140.60 L581.53,140.60 Z" fill="#c40b06"/><path d="M635.70,-49.20 L579.90,140.60 L582.58,140.60 Z" fill="#c80e07"/><path d="M635.70,-49.20 L580.96,140.60 L583.64,140.60 Z" fill="#cc1008"/><path d="M635.70,-49.20 L582.01,140.60 L584.70,140.60 Z" fill="#d01209"/><path d="M635.70,-49.20 L583.07,140.60 L585.76,140.60 Z" fill="#d4150a"/><path d="M635.70,-49.20 L584.13,140.60 L586.81,140.60 Z" fill="#d8170c"/><path d="M635.70,-49.20 L585.19,140.60 L587.87,140.60 Z" fill="#dc190d"/><path d="M635.70,-49.20 L586.24,140.60 L588.93,140.60 Z" fill="#e01c0e"/><path d="M635.70,-49.20 L587.30,140.60 L589.99,140.60 Z" fill="#e51e0f"/><path d="M635.70,-49.20 L588.36,140.60 L591.04,140.60 Z" fill="#e82210"/><path d="M635.70,-49.20 L589.42,140.60 L592.10,140.60 Z" fill="#ea3012"/><path d="M635.70,-49.20 L590.47,140.60 L593.16,140.60 Z" fill="#ec3e14"/><path d="M635.70,-49.20 L591.53,140.60 L594.22,140.60 Z" fill="#ed4c15"/><path d="M635.70,-49.20 L592.59,140.60 L595.27,140.60 Z" fill="#ef5a17"/><path d="M635.70,-49.20 L593.65,140.60 L596.33,140.60 Z" fill="#f16819"/><path d="M635.70,-49.20 L594.70,140.60 L597.39,140.60 Z" fill="#f3761b"/><path d="M635.70,-49.20 L595.76,140.60 L598.44,140.60 Z" fill="#f4841c"/><path d="M635.70,-49.20 L596.82,140.60 L599.50,140.60 Z" fill="#f6921e"/><path d="M635.70,-49.20 L597.88,140.60 L600.56,140.60 Z" fill="#f89f20"/><path d="M635.70,-49.20 L598.93,140.60 L601.62,140.60 Z" fill="#f7aa24"/><path d="M635.70,-49.20 L599.99,140.60 L602.67,140.60 Z" fill="#f6b428"/><path d="M635.70,-49.20 L601.05,140.60 L603.73,140.60 Z" fill="#f5bd2c"/><path d="M635.70,-49.20 L602.11,140.60 L604.79,140.60 Z" fill="#f4c730"/><path d="M635.70,-49.20 L603.16,140.60 L605.85,140.60 Z" fill="#f3d134"/><path d="M635.70,-49.20 L604.22,140.60 L606.90,140.60 Z" fill="#f2db38"/><path d="M635.70,-49.20 L605.28,140.60 L607.96,140.60 Z" fill="#f1e53c"/><path d="M635.70,-49.20 L606.34,140.60 L609.02,140.60 Z" fill="#f0ef40"/><path d="M635.70,-49.20 L607.39,140.60 L610.08,140.60 Z" fill="#e0f052"/><path d="M635.70,-49.20 L608.45,140.60 L611.13,140.60 Z" fill="#cef066"/><path d="M635.70,-49.20 L609.51,140.60 L612.19,140.60 Z" fill="#bcf07a"/><path d="M635.70,-49.20 L610.57,140.60 L613.25,140.60 Z" fill="#aaf08e"/><path d="M635.70,-49.20 L611.62,140.60 L614.31,140.60 Z" fill="#98f0a2"/><path d="M635.70,-49.20 L612.68,140.60 L615.36,140.60 Z" fill="#86f0b6"/><path d="M635.70,-49.20 L613.74,140.60 L616.42,140.60 Z" fill="#74f0ca"/><path d="M635.70,-49.20 L614.79,140.60 L617.48,140.60 Z" fill="#62f0de"/><path d="M635.70,-49.20 L615.85,140.60 L618.54,140.60 Z" fill="#5ce5e2"/><path d="M635.70,-49.20 L616.91,140.60 L619.59,140.60 Z" fill="#58d9e3"/><path d="M635.70,-49.20 L617.97,140.60 L620.65,140.60 Z" fill="#54cde5"/><path d="M635.70,-49.20 L619.02,140.60 L621.71,140.60 Z" fill="#50c1e7"/><path d="M635.70,-49.20 L620.08,140.60 L622.77,140.60 Z" fill="#4cb5e8"/><path d="M635.70,-49.20 L621.14,140.60 L623.82,140.60 Z" fill="#48a8ea"/><path d="M635.70,-49.20 L622.20,140.60 L624.88,140.60 Z" fill="#449cec"/><path d="M635.70,-49.20 L623.25,140.60 L625.94,140.60 Z" fill="#3f90ee"/><path d="M635.70,-49.20 L624.31,140.60 L627.00,140.60 Z" fill="#3b84ef"/><path d="M635.70,-49.20 L625.37,140.60 L628.05,140.60 Z" fill="#3879ed"/><path d="M635.70,-49.20 L626.43,140.60 L629.11,140.60 Z" fill="#366fe9"/><path d="M635.70,-49.20 L627.48,140.60 L630.17,140.60 Z" fill="#3466e4"/><path d="M635.70,-49.20 L628.54,140.60 L631.23,140.60 Z" fill="#325ce0"/><path d="M635.70,-49.20 L629.60,140.60 L632.28,140.60 Z" fill="#3052dc"/><path d="M635.70,-49.20 L630.66,140.60 L633.34,140.60 Z" fill="#2e48d7"/><path d="M635.70,-49.20 L631.71,140.60 L634.40,140.60 Z" fill="#2b3ed3"/><path d="M635.70,-49.20 L632.77,140.60 L635.46,140.60 Z" fill="#2935cf"/><path d="M635.70,-49.20 L633.83,140.60 L636.51,140.60 Z" fill="#272bca"/><path d="M635.70,-49.20 L634.89,140.60 L637.57,140.60 Z" fill="#2729ca"/><path d="M635.70,-49.20 L635.94,140.60 L638.63,140.60 Z" fill="#2930cd"/><path d="M635.70,-49.20 L637.00,140.60 L639.69,140.60 Z" fill="#2a36d1"/><path d="M635.70,-49.20 L638.06,140.60 L640.74,140.60 Z" fill="#2c3dd4"/><path d="M635.70,-49.20 L639.12,140.60 L641.80,140.60 Z" fill="#2e43d8"/><path d="M635.70,-49.20 L640.17,140.60 L642.86,140.60 Z" fill="#3049db"/><path d="M635.70,-49.20 L641.23,140.60 L643.92,140.60 Z" fill="#3150df"/><path d="M635.70,-49.20 L642.29,140.60 L644.97,140.60 Z" fill="#3356e2"/><path d="M635.70,-49.20 L643.35,140.60 L646.03,140.60 Z" fill="#355de6"/><path d="M635.70,-49.20 L644.40,140.60 L647.09,140.60 Z" fill="#3763e9"/><path d="M635.70,-49.20 L645.46,140.60 L648.15,140.60 Z" fill="#386aed"/><path d="M635.70,-49.20 L646.52,140.60 L649.20,140.60 Z" fill="#3a70f0"/><path d="M635.70,-49.20 L647.58,140.60 L650.26,140.60 Z" fill="#3f80f0"/><path d="M635.70,-49.20 L648.63,140.60 L651.32,140.60 Z" fill="#4490f0"/><path d="M635.70,-49.20 L649.69,140.60 L652.38,140.60 Z" fill="#48a0f0"/><path d="M635.70,-49.20 L650.75,140.60 L653.43,140.60 Z" fill="#4db0f0"/><path d="M635.70,-49.20 L651.81,140.60 L654.49,140.60 Z" fill="#52c0f0"/><path d="M635.70,-49.20 L652.86,140.60 L655.55,140.60 Z" fill="#56d0f0"/><path d="M635.70,-49.20 L653.92,140.60 L656.61,140.60 Z" fill="#5be0f0"/><path d="M635.70,-49.20 L654.98,140.60 L657.66,140.60 Z" fill="#60f0f0"/><path d="M635.70,-49.20 L656.04,140.60 L658.72,140.60 Z" fill="#71f0db"/><path d="M635.70,-49.20 L657.09,140.60 L659.78,140.60 Z" fill="#83f0c5"/><path d="M635.70,-49.20 L658.15,140.60 L660.83,140.60 Z" fill="#95f0af"/><path d="M635.70,-49.20 L659.21,140.60 L661.89,140.60 Z" fill="#a7f099"/><path d="M635.70,-49.20 L660.27,140.60 L662.95,140.60 Z" fill="#b9f083"/><path d="M635.70,-49.20 L661.32,140.60 L664.01,140.60 Z" fill="#cbf06d"/><path d="M635.70,-49.20 L662.38,140.60 L665.06,140.60 Z" fill="#ddf057"/><path d="M635.70,-49.20 L663.44,140.60 L666.12,140.60 Z" fill="#eff042"/><path d="M635.70,-49.20 L664.50,140.60 L667.18,140.60 Z" fill="#f1e53c"/><path d="M635.70,-49.20 L665.55,140.60 L668.24,140.60 Z" fill="#f2da37"/><path d="M635.70,-49.20 L666.61,140.60 L669.29,140.60 Z" fill="#f3ce32"/><path d="M635.70,-49.20 L667.67,140.60 L670.35,140.60 Z" fill="#f5c22e"/><path d="M635.70,-49.20 L668.73,140.60 L671.41,140.60 Z" fill="#f6b729"/><path d="M635.70,-49.20 L669.78,140.60 L672.47,140.60 Z" fill="#f7ab24"/><path d="M635.70,-49.20 L670.84,140.60 L673.52,140.60 Z" fill="#f89f20"/><path d="M635.70,-49.20 L671.90,140.60 L674.58,140.60 Z" fill="#f4911d"/><path d="M635.70,-49.20 L672.96,140.60 L675.64,140.60 Z" fill="#f1821b"/><path d="M635.70,-49.20 L674.01,140.60 L676.70,140.60 Z" fill="#ed7318"/><path d="M635.70,-49.20 L675.07,140.60 L677.75,140.60 Z" fill="#ea6415"/><path d="M635.70,-49.20 L676.13,140.60 L678.81,140.60 Z" fill="#e65513"/><path d="M635.70,-49.20 L677.18,140.60 L679.87,140.60 Z" fill="#e34710"/><path d="M635.70,-49.20 L678.24,140.60 L680.93,140.60 Z" fill="#df380e"/><path d="M635.70,-49.20 L679.30,140.60 L681.98,140.60 Z" fill="#dc290b"/><path d="M635.70,-49.20 L680.36,140.60 L683.04,140.60 Z" fill="#d91a08"/><path d="M635.70,-49.20 L681.41,140.60 L684.10,140.60 Z" fill="#d41708"/><path d="M635.70,-49.20 L682.47,140.60 L685.16,140.60 Z" fill="#ce1507"/><path d="M635.70,-49.20 L683.53,140.60 L686.21,140.60 Z" fill="#c91306"/><path d="M635.70,-49.20 L684.59,140.60 L687.27,140.60 Z" fill="#c41106"/><path d="M635.70,-49.20 L685.64,140.60 L688.33,140.60 Z" fill="#bf1005"/><path d="M635.70,-49.20 L686.70,140.60 L689.39,140.60 Z" fill="#b90e05"/><path d="M635.70,-49.20 L687.76,140.60 L690.44,140.60 Z" fill="#b40c04"/><path d="M635.70,-49.20 L688.82,140.60 L691.50,140.60 Z" fill="#af0a03"/><path d="M635.70,-49.20 L689.87,140.60 L692.56,140.60 Z" fill="#aa0903"/><path d="M635.70,-49.20 L690.93,140.60 L693.62,140.60 Z" fill="#a50702"/><path d="M635.70,-49.20 L691.99,140.60 L694.67,140.60 Z" fill="#9f0502"/><path d="M635.70,-49.20 L693.05,140.60 L695.73,140.60 Z" fill="#9a0301"/><path d="M635.70,-49.20 L694.10,140.60 L696.79,140.60 Z" fill="#950201"/><path d="M635.70,-49.20 L695.16,140.60 L697.85,140.60 Z" fill="#900000"/><path d="M635.70,-49.20 L696.22,140.60 L698.90,140.60 Z" fill="#900000"/><path d="M635.70,-49.20 L697.28,140.60 L699.96,140.60 Z" fill="#900000"/></g>
<ellipse cx="636.1" cy="90.8" rx="38.2" ry="44.8" fill="url(#shadeU)"/>
</g>
<g clip-path="url(#bl3)"><ellipse cx="636.2" cy="95.6" rx="45.3" ry="14.6" transform="rotate(6 636.2 95.6)" fill="url(#fa3)"/></g>
<g clip-path="url(#bl3)"><path d="M591.15,90.86 L591.17,90.68 L591.20,90.50 L591.24,90.31 L591.28,90.13 L591.34,89.95 L591.40,89.77 L591.46,89.59 L591.54,89.42 L591.62,89.24 L591.71,89.06 L591.80,88.89 L591.90,88.71 L592.01,88.54 L592.13,88.37 L592.25,88.20 L592.39,88.03 L592.52,87.86 L592.67,87.69 L592.82,87.53 L592.98,87.37 L593.15,87.20 L593.32,87.04 L593.50,86.88 L593.69,86.72 L593.88,86.56 L594.08,86.41 L594.29,86.25 L594.50,86.10 L594.72,85.95 L594.95,85.80 L595.19,85.65 L595.43,85.51 L595.68,85.36 L595.93,85.22 L596.19,85.08 L596.46,84.94 L596.73,84.80 L597.01,84.66 L597.30,84.53 L597.59,84.39 L597.89,84.26 L598.19,84.13 L598.51,84.01 L598.82,83.88 L599.15,83.76 L599.48,83.64 L599.81,83.52 L600.15,83.40 L600.50,83.28 L600.85,83.17 L601.21,83.06 L601.57,82.95 L601.94,82.84 L602.32,82.73 L602.70,82.63 L603.09,82.53 L603.48,82.43 L603.87,82.33 L604.28,82.24 L599.20,82.22 L585.7,78.98 L585.7,90.86 Z" fill="#fff"/></g>
</g>
<line x1="591.20" y1="80.30" x2="682.20" y2="102.10" stroke="#333" stroke-width="0.8" stroke-dasharray="2.2,1.8"/>
<text x="342.20" y="36.60" font-size="9.6" text-anchor="middle" font-weight="normal" fill="#1a1a1a" >10 L/min</text>
<text x="444.40" y="36.60" font-size="9.6" text-anchor="middle" font-weight="normal" fill="#1a1a1a" >20 L/min</text>
<text x="540.90" y="36.60" font-size="9.6" text-anchor="middle" font-weight="normal" fill="#1a1a1a" >30 L/min</text>
<text x="636.30" y="36.60" font-size="9.6" text-anchor="middle" font-weight="normal" fill="#1a1a1a" >40 L/min</text>
<line x1="298.50" y1="81.80" x2="290.86" y2="78.85" stroke="#ee4312" stroke-width="3.0"/>
<path d="M284.80,76.50 L292.52,74.56 L289.20,83.14 Z" fill="#ee4312"/>
<line x1="383.20" y1="100.60" x2="390.81" y2="103.03" stroke="#ee4312" stroke-width="3.0"/>
<path d="M397.00,105.00 L389.41,107.41 L392.20,98.64 Z" fill="#ee4312"/>
<text x="341.00" y="157.7" font-size="10.3" text-anchor="middle" fill="#1a1a1a">Fmax = 3.7×10<tspan font-size="6.5" dy="-4">-9</tspan><tspan dy="4" dx="1.3">N</tspan></text>
<text x="439.00" y="157.7" font-size="10.3" text-anchor="middle" fill="#1a1a1a">Fmax = 1.8×10<tspan font-size="6.5" dy="-4">-8</tspan><tspan dy="4" dx="1.3">N</tspan></text>
<text x="537.20" y="157.7" font-size="10.3" text-anchor="middle" fill="#1a1a1a">Fmax = 1.1×10<tspan font-size="6.5" dy="-4">-7</tspan><tspan dy="4" dx="1.3">N</tspan></text>
<text x="634.80" y="157.7" font-size="10.3" text-anchor="middle" fill="#1a1a1a">Fmax = 1.8×10<tspan font-size="6.5" dy="-4">-6</tspan><tspan dy="4" dx="1.3">N</tspan></text>
<text x="341.20" y="171.60" font-size="10.6" text-anchor="middle" font-weight="normal" fill="#1a1a1a" >Umax = 0.68 Å</text>
<text x="442.90" y="171.60" font-size="10.6" text-anchor="middle" font-weight="normal" fill="#1a1a1a" >Umax = 1.13 Å</text>
<text x="537.90" y="171.60" font-size="10.6" text-anchor="middle" font-weight="normal" fill="#1a1a1a" >Umax = 1.58  Å</text>
<text x="635.50" y="171.60" font-size="10.6" text-anchor="middle" font-weight="normal" fill="#1a1a1a" >Umax = 2.13 Å</text>
<path d="M312.1,177 C314,185 322,187.5 340,187.5 L382,187.5 C398,187.5 407,195 409.1,209.7 C411,195 420,187.5 436,187.5 L628,187.5 C642,187.5 652,183 654.6,176.6" fill="none" stroke="#4a72c8" stroke-width="1.2" />
<text x="429.30" y="206.90" font-size="10.9" text-anchor="start" font-weight="normal" fill="#1a1a1a" >Controlled lattice strain</text>
<rect x="16.35" y="217.30" width="665.75" height="168.20" fill="none" stroke="#dc7b3c" stroke-width="1.3" stroke-dasharray="6,5.9" stroke-dashoffset="-1"/>
<text x="1.20" y="228.60" font-size="14" text-anchor="start" font-weight="bold" fill="#000" >c</text>
<rect x="30.40" y="281.30" width="111.50" height="64.00" fill="none" stroke="#666" stroke-width="0.8" />
<rect x="200.10" y="278.30" width="118.60" height="67.80" fill="none" stroke="#666" stroke-width="0.8" />
<rect x="372.20" y="275.40" width="123.30" height="70.70" fill="none" stroke="#666" stroke-width="0.8" />
<rect x="548.40" y="273.30" width="126.90" height="72.70" fill="none" stroke="#666" stroke-width="0.8" />
<path d="M96.55,257.50L94.38,261.27M94.38,261.27L90.03,261.27M90.03,261.27L87.85,257.50M87.85,257.50L90.03,253.73M90.03,253.73L94.38,253.73M94.38,253.73L96.55,257.50M123.25,277.08L118.90,277.05M118.90,277.05L116.75,273.27M116.75,273.27L118.95,269.52M118.95,269.52L123.30,269.55M123.30,269.55L125.45,273.33M125.45,273.33L123.25,277.08M118.01,309.46L115.85,305.68M115.85,305.68L118.04,301.92M118.04,301.92L122.39,301.94M122.39,301.94L124.55,305.72M124.55,305.72L122.36,309.48M122.36,309.48L118.01,309.46M87.85,321.50L90.03,317.73M90.03,317.73L94.38,317.73M94.38,317.73L96.55,321.50M96.55,321.50L94.38,325.27M94.38,325.27L90.03,325.27M90.03,325.27L87.85,321.50M61.98,301.96L66.33,301.91M66.33,301.91L68.55,305.65M68.55,305.65L66.42,309.44M66.42,309.44L62.07,309.49M62.07,309.49L59.85,305.75M59.85,305.75L61.98,301.96M66.47,269.59L68.55,273.41M68.55,273.41L66.28,277.12M66.28,277.12L61.93,277.01M61.93,277.01L59.85,273.19M59.85,273.19L62.12,269.48M62.12,269.48L66.47,269.59M31.76,290.23L33.73,286.35M33.73,286.35L38.08,286.13M38.08,286.13L40.44,289.77M40.44,289.77L38.47,293.65M38.47,293.65L34.12,293.87M34.12,293.87L31.76,290.23M61.78,340.82L59.86,336.91M59.86,336.91L62.28,333.30M62.28,333.30L66.62,333.58M66.62,333.58L68.54,337.49M68.54,337.49L66.12,341.10M66.12,341.10L61.78,340.82M122.31,341.00L117.96,340.93M117.96,340.93L115.85,337.12M115.85,337.12L118.09,333.40M118.09,333.40L122.44,333.47M122.44,333.47L124.55,337.28M124.55,337.28L122.31,341.00M79.05,257.58L76.81,261.31M76.81,261.31L72.46,261.23M72.46,261.23L70.35,257.42M70.35,257.42L72.59,253.69M72.59,253.69L76.94,253.77M76.94,253.77L79.05,257.58M79.05,257.58L82.22,257.55M72.46,261.23L70.30,264.24M72.59,253.69L71.19,251.16M113.71,253.75L115.85,257.54M115.85,257.54L113.64,261.29M113.64,261.29L109.29,261.25M109.29,261.25L107.15,257.46M107.15,257.46L109.36,253.71M109.36,253.71L113.71,253.75M113.64,261.29L115.55,264.25M107.15,257.46L103.33,257.48M113.71,253.75L115.18,251.25M134.24,290.12L131.89,293.77M131.89,293.77L127.54,293.55M127.54,293.55L125.56,289.68M125.56,289.68L127.91,286.03M127.91,286.03L132.26,286.25M132.26,286.25L134.24,290.12M127.54,293.55L125.69,296.57M127.91,286.03L126.23,282.81M134.24,290.12L137.14,290.26M113.68,325.27L109.33,325.27M109.33,325.27L107.15,321.50M107.15,321.50L109.32,317.73M109.32,317.73L113.67,317.73M113.67,317.73L115.85,321.50M115.85,321.50L113.68,325.27M107.15,321.50L103.33,321.50M113.67,317.73L115.23,314.75M113.68,325.27L115.27,328.19M79.05,321.50L76.87,325.27M76.87,325.27L72.52,325.27M72.52,325.27L70.35,321.50M70.35,321.50L72.53,317.73M72.53,317.73L76.88,317.73M76.88,317.73L79.05,321.50M72.53,317.73L70.33,314.75M79.05,321.50L82.22,321.50M72.52,325.27L70.40,328.26M57.61,292.75L53.26,292.79M53.26,292.79L51.05,289.04M51.05,289.04L53.19,285.25M53.19,285.25L57.54,285.21M57.54,285.21L59.75,288.96M59.75,288.96L57.61,292.75M57.54,285.21L59.12,282.26M57.61,292.75L59.18,296.06M51.05,289.04L47.23,289.30" stroke="#d68a16" stroke-width="1.25" fill="none"/><line x1="94.38" y1="261.27" x2="95.52" y2="263.26" stroke="#b8e8ee" stroke-width="1.00"/><line x1="90.03" y1="261.27" x2="88.88" y2="263.26" stroke="#b8e8ee" stroke-width="1.00"/><line x1="90.03" y1="253.73" x2="88.88" y2="251.74" stroke="#b8e8ee" stroke-width="1.00"/><line x1="94.38" y1="253.73" x2="95.53" y2="251.74" stroke="#b8e8ee" stroke-width="1.00"/><line x1="118.90" y1="277.05" x2="117.73" y2="279.04" stroke="#b8e8ee" stroke-width="1.00"/><line x1="116.75" y1="273.27" x2="114.45" y2="273.25" stroke="#b8e8ee" stroke-width="1.00"/><line x1="123.30" y1="269.55" x2="124.47" y2="267.56" stroke="#b8e8ee" stroke-width="1.00"/><line x1="125.45" y1="273.33" x2="127.75" y2="273.35" stroke="#b8e8ee" stroke-width="1.00"/><line x1="115.85" y1="305.68" x2="113.55" y2="305.68" stroke="#b8e8ee" stroke-width="1.00"/><line x1="118.04" y1="301.92" x2="116.90" y2="299.93" stroke="#b8e8ee" stroke-width="1.00"/><line x1="124.55" y1="305.72" x2="126.85" y2="305.72" stroke="#b8e8ee" stroke-width="1.00"/><line x1="122.36" y1="309.48" x2="123.50" y2="311.47" stroke="#b8e8ee" stroke-width="1.00"/><line x1="90.03" y1="317.73" x2="88.88" y2="315.74" stroke="#b8e8ee" stroke-width="1.00"/><line x1="94.38" y1="317.73" x2="95.52" y2="315.74" stroke="#b8e8ee" stroke-width="1.00"/><line x1="94.38" y1="325.27" x2="95.52" y2="327.26" stroke="#b8e8ee" stroke-width="1.00"/><line x1="90.03" y1="325.27" x2="88.88" y2="327.26" stroke="#b8e8ee" stroke-width="1.00"/><line x1="66.33" y1="301.91" x2="67.45" y2="299.90" stroke="#b8e8ee" stroke-width="1.00"/><line x1="68.55" y1="305.65" x2="70.85" y2="305.62" stroke="#b8e8ee" stroke-width="1.00"/><line x1="62.07" y1="309.49" x2="60.95" y2="311.50" stroke="#b8e8ee" stroke-width="1.00"/><line x1="59.85" y1="305.75" x2="57.55" y2="305.78" stroke="#b8e8ee" stroke-width="1.00"/><line x1="68.55" y1="273.41" x2="70.85" y2="273.47" stroke="#b8e8ee" stroke-width="1.00"/><line x1="66.28" y1="277.12" x2="67.37" y2="279.14" stroke="#b8e8ee" stroke-width="1.00"/><line x1="59.85" y1="273.19" x2="57.55" y2="273.13" stroke="#b8e8ee" stroke-width="1.00"/><line x1="62.12" y1="269.48" x2="61.03" y2="267.46" stroke="#b8e8ee" stroke-width="1.00"/><line x1="33.73" y1="286.35" x2="32.48" y2="284.42" stroke="#b8e8ee" stroke-width="1.00"/><line x1="38.08" y1="286.13" x2="39.12" y2="284.08" stroke="#b8e8ee" stroke-width="1.00"/><line x1="38.47" y1="293.65" x2="39.72" y2="295.58" stroke="#b8e8ee" stroke-width="1.00"/><line x1="34.12" y1="293.87" x2="33.08" y2="295.92" stroke="#b8e8ee" stroke-width="1.00"/><line x1="59.86" y1="336.91" x2="57.56" y2="336.76" stroke="#b8e8ee" stroke-width="1.00"/><line x1="62.28" y1="333.30" x2="61.26" y2="331.23" stroke="#b8e8ee" stroke-width="1.00"/><line x1="68.54" y1="337.49" x2="70.84" y2="337.64" stroke="#b8e8ee" stroke-width="1.00"/><line x1="66.12" y1="341.10" x2="67.14" y2="343.17" stroke="#b8e8ee" stroke-width="1.00"/><line x1="117.96" y1="340.93" x2="116.77" y2="342.90" stroke="#b8e8ee" stroke-width="1.00"/><line x1="115.85" y1="337.12" x2="113.55" y2="337.08" stroke="#b8e8ee" stroke-width="1.00"/><line x1="122.44" y1="333.47" x2="123.63" y2="331.50" stroke="#b8e8ee" stroke-width="1.00"/><line x1="124.55" y1="337.28" x2="126.85" y2="337.32" stroke="#b8e8ee" stroke-width="1.00"/><line x1="82.22" y1="257.55" x2="85.03" y2="257.52" stroke="#b4b8ee" stroke-width="1.00"/><line x1="85.03" y1="257.52" x2="87.85" y2="257.50" stroke="#b4b8ee" stroke-width="1.00"/><line x1="70.30" y1="264.24" x2="68.39" y2="266.91" stroke="#b4b8ee" stroke-width="1.00"/><line x1="68.39" y1="266.91" x2="66.47" y2="269.59" stroke="#b4b8ee" stroke-width="1.00"/><line x1="71.19" y1="251.16" x2="69.67" y2="248.81" stroke="#b4b8ee" stroke-width="1.00"/><line x1="76.81" y1="261.31" x2="78.07" y2="263.58" stroke="#e89098" stroke-width="1.00"/><line x1="70.35" y1="257.42" x2="67.75" y2="257.38" stroke="#e89098" stroke-width="1.00"/><line x1="76.94" y1="253.77" x2="78.28" y2="251.54" stroke="#e89098" stroke-width="1.00"/><line x1="115.55" y1="264.25" x2="117.25" y2="266.88" stroke="#b4b8ee" stroke-width="1.00"/><line x1="117.25" y1="266.88" x2="118.95" y2="269.52" stroke="#b4b8ee" stroke-width="1.00"/><line x1="103.33" y1="257.48" x2="99.94" y2="257.49" stroke="#b4b8ee" stroke-width="1.00"/><line x1="99.94" y1="257.49" x2="96.55" y2="257.50" stroke="#b4b8ee" stroke-width="1.00"/><line x1="115.18" y1="251.25" x2="116.85" y2="249.01" stroke="#b4b8ee" stroke-width="1.00"/><line x1="115.85" y1="257.54" x2="118.45" y2="257.56" stroke="#e89098" stroke-width="1.00"/><line x1="109.29" y1="261.25" x2="107.98" y2="263.49" stroke="#e89098" stroke-width="1.00"/><line x1="109.36" y1="253.71" x2="108.07" y2="251.45" stroke="#e89098" stroke-width="1.00"/><line x1="125.69" y1="296.57" x2="124.04" y2="299.26" stroke="#b4b8ee" stroke-width="1.00"/><line x1="124.04" y1="299.26" x2="122.39" y2="301.94" stroke="#b4b8ee" stroke-width="1.00"/><line x1="126.23" y1="282.81" x2="124.74" y2="279.95" stroke="#b4b8ee" stroke-width="1.00"/><line x1="124.74" y1="279.95" x2="123.25" y2="277.08" stroke="#b4b8ee" stroke-width="1.00"/><line x1="137.14" y1="290.26" x2="139.90" y2="290.72" stroke="#b4b8ee" stroke-width="1.00"/><line x1="131.89" y1="293.77" x2="133.07" y2="296.08" stroke="#e89098" stroke-width="1.00"/><line x1="125.56" y1="289.68" x2="122.96" y2="289.56" stroke="#e89098" stroke-width="1.00"/><line x1="132.26" y1="286.25" x2="133.67" y2="284.06" stroke="#e89098" stroke-width="1.00"/><line x1="103.33" y1="321.50" x2="99.94" y2="321.50" stroke="#b4b8ee" stroke-width="1.00"/><line x1="99.94" y1="321.50" x2="96.55" y2="321.50" stroke="#b4b8ee" stroke-width="1.00"/><line x1="115.23" y1="314.75" x2="116.62" y2="312.11" stroke="#b4b8ee" stroke-width="1.00"/><line x1="116.62" y1="312.11" x2="118.01" y2="309.46" stroke="#b4b8ee" stroke-width="1.00"/><line x1="115.27" y1="328.19" x2="116.68" y2="330.79" stroke="#b4b8ee" stroke-width="1.00"/><line x1="116.68" y1="330.79" x2="118.09" y2="333.40" stroke="#b4b8ee" stroke-width="1.00"/><line x1="109.33" y1="325.27" x2="108.03" y2="327.52" stroke="#e89098" stroke-width="1.00"/><line x1="109.32" y1="317.73" x2="108.02" y2="315.48" stroke="#e89098" stroke-width="1.00"/><line x1="115.85" y1="321.50" x2="118.45" y2="321.49" stroke="#e89098" stroke-width="1.00"/><line x1="70.33" y1="314.75" x2="68.38" y2="312.09" stroke="#b4b8ee" stroke-width="1.00"/><line x1="68.38" y1="312.09" x2="66.42" y2="309.44" stroke="#b4b8ee" stroke-width="1.00"/><line x1="82.22" y1="321.50" x2="85.03" y2="321.50" stroke="#b4b8ee" stroke-width="1.00"/><line x1="85.03" y1="321.50" x2="87.85" y2="321.50" stroke="#b4b8ee" stroke-width="1.00"/><line x1="70.40" y1="328.26" x2="68.51" y2="330.92" stroke="#b4b8ee" stroke-width="1.00"/><line x1="68.51" y1="330.92" x2="66.62" y2="333.58" stroke="#b4b8ee" stroke-width="1.00"/><line x1="76.87" y1="325.27" x2="78.17" y2="327.52" stroke="#e89098" stroke-width="1.00"/><line x1="70.35" y1="321.50" x2="67.75" y2="321.49" stroke="#e89098" stroke-width="1.00"/><line x1="76.88" y1="317.73" x2="78.18" y2="315.48" stroke="#e89098" stroke-width="1.00"/><line x1="59.12" y1="282.26" x2="60.52" y2="279.63" stroke="#b4b8ee" stroke-width="1.00"/><line x1="60.52" y1="279.63" x2="61.93" y2="277.01" stroke="#b4b8ee" stroke-width="1.00"/><line x1="59.18" y1="296.06" x2="60.58" y2="299.01" stroke="#b4b8ee" stroke-width="1.00"/><line x1="60.58" y1="299.01" x2="61.98" y2="301.96" stroke="#b4b8ee" stroke-width="1.00"/><line x1="47.23" y1="289.30" x2="43.84" y2="289.54" stroke="#b4b8ee" stroke-width="1.00"/><line x1="43.84" y1="289.54" x2="40.44" y2="289.77" stroke="#b4b8ee" stroke-width="1.00"/><line x1="53.26" y1="292.79" x2="51.98" y2="295.05" stroke="#e89098" stroke-width="1.00"/><line x1="53.19" y1="285.25" x2="51.87" y2="283.01" stroke="#e89098" stroke-width="1.00"/><line x1="59.75" y1="288.96" x2="62.35" y2="288.94" stroke="#e89098" stroke-width="1.00"/><line x1="74.00" y1="305.50" x2="69.50" y2="302.70" stroke="#a9a9a9" stroke-width="2.12"/><line x1="74.00" y1="305.50" x2="78.30" y2="302.30" stroke="#a9a9a9" stroke-width="2.12"/><line x1="74.00" y1="305.50" x2="74.40" y2="310.30" stroke="#a9a9a9" stroke-width="2.12"/><line x1="73.00" y1="301.90" x2="69.50" y2="302.70" stroke="#a9a9a9" stroke-width="2.12"/><line x1="73.00" y1="301.90" x2="78.30" y2="302.30" stroke="#a9a9a9" stroke-width="2.12"/><line x1="73.00" y1="301.90" x2="74.00" y2="305.50" stroke="#a9a9a9" stroke-width="2.12"/><circle cx="95.52" cy="263.26" r="1.00" fill="url(#gH)"/><circle cx="88.88" cy="263.26" r="1.00" fill="url(#gH)"/><circle cx="88.88" cy="251.74" r="1.00" fill="url(#gH)"/><circle cx="95.53" cy="251.74" r="1.00" fill="url(#gH)"/><circle cx="117.73" cy="279.04" r="1.00" fill="url(#gH)"/><circle cx="114.45" cy="273.25" r="1.00" fill="url(#gH)"/><circle cx="124.47" cy="267.56" r="1.00" fill="url(#gH)"/><circle cx="127.75" cy="273.35" r="1.00" fill="url(#gH)"/><circle cx="113.55" cy="305.68" r="1.00" fill="url(#gH)"/><circle cx="116.90" cy="299.93" r="1.00" fill="url(#gH)"/><circle cx="126.85" cy="305.72" r="1.00" fill="url(#gH)"/><circle cx="123.50" cy="311.47" r="1.00" fill="url(#gH)"/><circle cx="88.88" cy="315.74" r="1.00" fill="url(#gH)"/><circle cx="95.52" cy="315.74" r="1.00" fill="url(#gH)"/><circle cx="95.52" cy="327.26" r="1.00" fill="url(#gH)"/><circle cx="88.88" cy="327.26" r="1.00" fill="url(#gH)"/><circle cx="67.45" cy="299.90" r="1.00" fill="url(#gH)"/><circle cx="70.85" cy="305.62" r="1.00" fill="url(#gH)"/><circle cx="60.95" cy="311.50" r="1.00" fill="url(#gH)"/><circle cx="57.55" cy="305.78" r="1.00" fill="url(#gH)"/><circle cx="70.85" cy="273.47" r="1.00" fill="url(#gH)"/><circle cx="67.37" cy="279.14" r="1.00" fill="url(#gH)"/><circle cx="57.55" cy="273.13" r="1.00" fill="url(#gH)"/><circle cx="61.03" cy="267.46" r="1.00" fill="url(#gH)"/><circle cx="32.48" cy="284.42" r="1.00" fill="url(#gH)"/><circle cx="39.12" cy="284.08" r="1.00" fill="url(#gH)"/><circle cx="39.72" cy="295.58" r="1.00" fill="url(#gH)"/><circle cx="33.08" cy="295.92" r="1.00" fill="url(#gH)"/><circle cx="57.56" cy="336.76" r="1.00" fill="url(#gH)"/><circle cx="61.26" cy="331.23" r="1.00" fill="url(#gH)"/><circle cx="70.84" cy="337.64" r="1.00" fill="url(#gH)"/><circle cx="67.14" cy="343.17" r="1.00" fill="url(#gH)"/><circle cx="116.77" cy="342.90" r="1.00" fill="url(#gH)"/><circle cx="113.55" cy="337.08" r="1.00" fill="url(#gH)"/><circle cx="123.63" cy="331.50" r="1.00" fill="url(#gH)"/><circle cx="126.85" cy="337.32" r="1.00" fill="url(#gH)"/><circle cx="66.54" cy="255.79" r="1.00" fill="url(#gH)"/><circle cx="105.99" cy="263.77" r="1.00" fill="url(#gH)"/><circle cx="121.79" cy="287.93" r="1.00" fill="url(#gH)"/><circle cx="108.75" cy="313.62" r="1.00" fill="url(#gH)"/><circle cx="66.51" cy="319.93" r="1.00" fill="url(#gH)"/><circle cx="52.59" cy="281.15" r="1.00" fill="url(#gH)"/><circle cx="29.16" cy="290.36" r="1.40" fill="url(#gN)"/><circle cx="60.34" cy="342.98" r="1.40" fill="url(#gN)"/><circle cx="123.57" cy="343.28" r="1.40" fill="url(#gN)"/><circle cx="85.03" cy="257.52" r="1.40" fill="url(#gN)"/><circle cx="68.39" cy="266.91" r="1.40" fill="url(#gN)"/><circle cx="69.67" cy="248.81" r="1.40" fill="url(#gN)"/><circle cx="78.07" cy="263.58" r="1.45" fill="url(#gO)"/><circle cx="67.75" cy="257.38" r="1.45" fill="url(#gO)"/><circle cx="78.28" cy="251.54" r="1.45" fill="url(#gO)"/><circle cx="117.25" cy="266.88" r="1.40" fill="url(#gN)"/><circle cx="99.94" cy="257.49" r="1.40" fill="url(#gN)"/><circle cx="116.85" cy="249.01" r="1.40" fill="url(#gN)"/><circle cx="118.45" cy="257.56" r="1.45" fill="url(#gO)"/><circle cx="107.98" cy="263.49" r="1.45" fill="url(#gO)"/><circle cx="108.07" cy="251.45" r="1.45" fill="url(#gO)"/><circle cx="124.04" cy="299.26" r="1.40" fill="url(#gN)"/><circle cx="124.74" cy="279.95" r="1.40" fill="url(#gN)"/><circle cx="139.90" cy="290.72" r="1.40" fill="url(#gN)"/><circle cx="133.07" cy="296.08" r="1.45" fill="url(#gO)"/><circle cx="122.96" cy="289.56" r="1.45" fill="url(#gO)"/><circle cx="133.67" cy="284.06" r="1.45" fill="url(#gO)"/><circle cx="99.94" cy="321.50" r="1.40" fill="url(#gN)"/><circle cx="116.62" cy="312.11" r="1.40" fill="url(#gN)"/><circle cx="116.68" cy="330.79" r="1.40" fill="url(#gN)"/><circle cx="108.03" cy="327.52" r="1.45" fill="url(#gO)"/><circle cx="108.02" cy="315.48" r="1.45" fill="url(#gO)"/><circle cx="118.45" cy="321.49" r="1.45" fill="url(#gO)"/><circle cx="68.38" cy="312.09" r="1.40" fill="url(#gN)"/><circle cx="85.03" cy="321.50" r="1.40" fill="url(#gN)"/><circle cx="68.51" cy="330.92" r="1.40" fill="url(#gN)"/><circle cx="78.17" cy="327.52" r="1.45" fill="url(#gO)"/><circle cx="67.75" cy="321.49" r="1.45" fill="url(#gO)"/><circle cx="78.18" cy="315.48" r="1.45" fill="url(#gO)"/><circle cx="60.52" cy="279.63" r="1.40" fill="url(#gN)"/><circle cx="60.58" cy="299.01" r="1.40" fill="url(#gN)"/><circle cx="43.84" cy="289.54" r="1.40" fill="url(#gN)"/><circle cx="51.98" cy="295.05" r="1.45" fill="url(#gO)"/><circle cx="51.87" cy="283.01" r="1.45" fill="url(#gO)"/><circle cx="62.35" cy="288.94" r="1.45" fill="url(#gO)"/><circle cx="96.55" cy="257.50" r="1.50" fill="url(#gC)"/><circle cx="94.38" cy="261.27" r="1.50" fill="url(#gC)"/><circle cx="90.03" cy="261.27" r="1.50" fill="url(#gC)"/><circle cx="87.85" cy="257.50" r="1.50" fill="url(#gC)"/><circle cx="90.03" cy="253.73" r="1.50" fill="url(#gC)"/><circle cx="94.38" cy="253.73" r="1.50" fill="url(#gC)"/><circle cx="123.25" cy="277.08" r="1.50" fill="url(#gC)"/><circle cx="118.90" cy="277.05" r="1.50" fill="url(#gC)"/><circle cx="116.75" cy="273.27" r="1.50" fill="url(#gC)"/><circle cx="118.95" cy="269.52" r="1.50" fill="url(#gC)"/><circle cx="123.30" cy="269.55" r="1.50" fill="url(#gC)"/><circle cx="125.45" cy="273.33" r="1.50" fill="url(#gC)"/><circle cx="118.01" cy="309.46" r="1.50" fill="url(#gC)"/><circle cx="115.85" cy="305.68" r="1.50" fill="url(#gC)"/><circle cx="118.04" cy="301.92" r="1.50" fill="url(#gC)"/><circle cx="122.39" cy="301.94" r="1.50" fill="url(#gC)"/><circle cx="124.55" cy="305.72" r="1.50" fill="url(#gC)"/><circle cx="122.36" cy="309.48" r="1.50" fill="url(#gC)"/><circle cx="87.85" cy="321.50" r="1.50" fill="url(#gC)"/><circle cx="90.03" cy="317.73" r="1.50" fill="url(#gC)"/><circle cx="94.38" cy="317.73" r="1.50" fill="url(#gC)"/><circle cx="96.55" cy="321.50" r="1.50" fill="url(#gC)"/><circle cx="94.38" cy="325.27" r="1.50" fill="url(#gC)"/><circle cx="90.03" cy="325.27" r="1.50" fill="url(#gC)"/><circle cx="61.98" cy="301.96" r="1.50" fill="url(#gC)"/><circle cx="66.33" cy="301.91" r="1.50" fill="url(#gC)"/><circle cx="68.55" cy="305.65" r="1.50" fill="url(#gC)"/><circle cx="66.42" cy="309.44" r="1.50" fill="url(#gC)"/><circle cx="62.07" cy="309.49" r="1.50" fill="url(#gC)"/><circle cx="59.85" cy="305.75" r="1.50" fill="url(#gC)"/><circle cx="66.47" cy="269.59" r="1.50" fill="url(#gC)"/><circle cx="68.55" cy="273.41" r="1.50" fill="url(#gC)"/><circle cx="66.28" cy="277.12" r="1.50" fill="url(#gC)"/><circle cx="61.93" cy="277.01" r="1.50" fill="url(#gC)"/><circle cx="59.85" cy="273.19" r="1.50" fill="url(#gC)"/><circle cx="62.12" cy="269.48" r="1.50" fill="url(#gC)"/><circle cx="31.76" cy="290.23" r="1.50" fill="url(#gC)"/><circle cx="33.73" cy="286.35" r="1.50" fill="url(#gC)"/><circle cx="38.08" cy="286.13" r="1.50" fill="url(#gC)"/><circle cx="40.44" cy="289.77" r="1.50" fill="url(#gC)"/><circle cx="38.47" cy="293.65" r="1.50" fill="url(#gC)"/><circle cx="34.12" cy="293.87" r="1.50" fill="url(#gC)"/><circle cx="61.78" cy="340.82" r="1.50" fill="url(#gC)"/><circle cx="59.86" cy="336.91" r="1.50" fill="url(#gC)"/><circle cx="62.28" cy="333.30" r="1.50" fill="url(#gC)"/><circle cx="66.62" cy="333.58" r="1.50" fill="url(#gC)"/><circle cx="68.54" cy="337.49" r="1.50" fill="url(#gC)"/><circle cx="66.12" cy="341.10" r="1.50" fill="url(#gC)"/><circle cx="122.31" cy="341.00" r="1.50" fill="url(#gC)"/><circle cx="117.96" cy="340.93" r="1.50" fill="url(#gC)"/><circle cx="115.85" cy="337.12" r="1.50" fill="url(#gC)"/><circle cx="118.09" cy="333.40" r="1.50" fill="url(#gC)"/><circle cx="122.44" cy="333.47" r="1.50" fill="url(#gC)"/><circle cx="124.55" cy="337.28" r="1.50" fill="url(#gC)"/><circle cx="79.05" cy="257.58" r="1.50" fill="url(#gC)"/><circle cx="76.81" cy="261.31" r="1.50" fill="url(#gC)"/><circle cx="72.46" cy="261.23" r="1.50" fill="url(#gC)"/><circle cx="70.35" cy="257.42" r="1.50" fill="url(#gC)"/><circle cx="72.59" cy="253.69" r="1.50" fill="url(#gC)"/><circle cx="76.94" cy="253.77" r="1.50" fill="url(#gC)"/><circle cx="82.22" cy="257.55" r="1.50" fill="url(#gC)"/><circle cx="70.30" cy="264.24" r="1.50" fill="url(#gC)"/><circle cx="71.19" cy="251.16" r="1.50" fill="url(#gC)"/><circle cx="113.71" cy="253.75" r="1.50" fill="url(#gC)"/><circle cx="115.85" cy="257.54" r="1.50" fill="url(#gC)"/><circle cx="113.64" cy="261.29" r="1.50" fill="url(#gC)"/><circle cx="109.29" cy="261.25" r="1.50" fill="url(#gC)"/><circle cx="107.15" cy="257.46" r="1.50" fill="url(#gC)"/><circle cx="109.36" cy="253.71" r="1.50" fill="url(#gC)"/><circle cx="115.55" cy="264.25" r="1.50" fill="url(#gC)"/><circle cx="103.33" cy="257.48" r="1.50" fill="url(#gC)"/><circle cx="115.18" cy="251.25" r="1.50" fill="url(#gC)"/><circle cx="134.24" cy="290.12" r="1.50" fill="url(#gC)"/><circle cx="131.89" cy="293.77" r="1.50" fill="url(#gC)"/><circle cx="127.54" cy="293.55" r="1.50" fill="url(#gC)"/><circle cx="125.56" cy="289.68" r="1.50" fill="url(#gC)"/><circle cx="127.91" cy="286.03" r="1.50" fill="url(#gC)"/><circle cx="132.26" cy="286.25" r="1.50" fill="url(#gC)"/><circle cx="125.69" cy="296.57" r="1.50" fill="url(#gC)"/><circle cx="126.23" cy="282.81" r="1.50" fill="url(#gC)"/><circle cx="137.14" cy="290.26" r="1.50" fill="url(#gC)"/><circle cx="113.68" cy="325.27" r="1.50" fill="url(#gC)"/><circle cx="109.33" cy="325.27" r="1.50" fill="url(#gC)"/><circle cx="107.15" cy="321.50" r="1.50" fill="url(#gC)"/><circle cx="109.32" cy="317.73" r="1.50" fill="url(#gC)"/><circle cx="113.67" cy="317.73" r="1.50" fill="url(#gC)"/><circle cx="115.85" cy="321.50" r="1.50" fill="url(#gC)"/><circle cx="103.33" cy="321.50" r="1.50" fill="url(#gC)"/><circle cx="115.23" cy="314.75" r="1.50" fill="url(#gC)"/><circle cx="115.27" cy="328.19" r="1.50" fill="url(#gC)"/><circle cx="79.05" cy="321.50" r="1.50" fill="url(#gC)"/><circle cx="76.87" cy="325.27" r="1.50" fill="url(#gC)"/><circle cx="72.52" cy="325.27" r="1.50" fill="url(#gC)"/><circle cx="70.35" cy="321.50" r="1.50" fill="url(#gC)"/><circle cx="72.53" cy="317.73" r="1.50" fill="url(#gC)"/><circle cx="76.88" cy="317.73" r="1.50" fill="url(#gC)"/><circle cx="70.33" cy="314.75" r="1.50" fill="url(#gC)"/><circle cx="82.22" cy="321.50" r="1.50" fill="url(#gC)"/><circle cx="70.40" cy="328.26" r="1.50" fill="url(#gC)"/><circle cx="57.61" cy="292.75" r="1.50" fill="url(#gC)"/><circle cx="53.26" cy="292.79" r="1.50" fill="url(#gC)"/><circle cx="51.05" cy="289.04" r="1.50" fill="url(#gC)"/><circle cx="53.19" cy="285.25" r="1.50" fill="url(#gC)"/><circle cx="57.54" cy="285.21" r="1.50" fill="url(#gC)"/><circle cx="59.75" cy="288.96" r="1.50" fill="url(#gC)"/><circle cx="59.12" cy="282.26" r="1.50" fill="url(#gC)"/><circle cx="59.18" cy="296.06" r="1.50" fill="url(#gC)"/><circle cx="47.23" cy="289.30" r="1.50" fill="url(#gC)"/><circle cx="69.50" cy="302.70" r="1.50" fill="url(#gP)"/><circle cx="78.30" cy="302.30" r="1.50" fill="url(#gP)"/><circle cx="74.40" cy="310.30" r="1.50" fill="url(#gP)"/><circle cx="74.00" cy="305.50" r="1.50" fill="url(#gP)"/><circle cx="73.00" cy="301.90" r="1.50" fill="url(#gP)"/>
<path d="M269.54,253.69L267.45,254.97M267.45,254.97L263.11,255.28M263.11,255.28L260.86,254.31M260.86,254.31L262.95,253.03M262.95,253.03L267.29,252.72M267.29,252.72L269.54,253.69M296.92,273.78L292.57,273.95M292.57,273.95L290.25,270.27M290.25,270.27L292.28,266.42M292.28,266.42L296.63,266.25M296.63,266.25L298.95,269.93M298.95,269.93L296.92,273.78M292.42,308.06L290.25,304.29M290.25,304.29L292.43,300.53M292.43,300.53L296.78,300.54M296.78,300.54L298.95,304.31M298.95,304.31L296.77,308.07M296.77,308.07L292.42,308.06M260.85,323.30L263.02,322.17M263.02,322.17L267.38,322.17M267.38,322.17L269.55,323.30M269.55,323.30L267.38,324.43M267.38,324.43L263.02,324.43M263.02,324.43L260.85,323.30M233.77,300.45L238.12,300.62M238.12,300.62L240.15,304.47M240.15,304.47L237.83,308.15M237.83,308.15L233.48,307.98M233.48,307.98L231.45,304.13M231.45,304.13L233.77,300.45M238.02,266.36L237.88,268.81M237.88,268.81L235.66,272.55M235.66,272.55L233.58,273.84M233.58,273.84L233.72,271.39M233.72,271.39L235.94,267.65M235.94,267.65L238.02,266.36M202.07,288.51L203.88,284.56M203.88,284.56L208.21,284.14M208.21,284.14L210.73,287.69M210.73,287.69L208.92,291.64M208.92,291.64L204.59,292.06M204.59,292.06L202.07,288.51M233.59,342.15L233.72,339.70M233.72,339.70L235.93,335.95M235.93,335.95L238.01,334.65M238.01,334.65L237.88,337.10M237.88,337.10L235.67,340.85M235.67,340.85L233.59,342.15M296.81,342.15L292.46,342.19M292.46,342.19L290.25,338.44M290.25,338.44L292.39,334.65M292.39,334.65L296.74,334.61M296.74,334.61L298.95,338.36M298.95,338.36L296.81,342.15M248.63,256.32L246.10,259.86M246.10,259.86L241.77,259.44M241.77,259.44L239.97,255.48M239.97,255.48L242.50,251.94M242.50,251.94L246.83,252.36M246.83,252.36L248.63,256.32M248.63,256.32L253.03,255.59M241.77,259.44L240.42,261.93M242.50,251.94L241.30,249.30M287.28,249.24L289.45,253.01M289.45,253.01L287.27,256.77M287.27,256.77L282.92,256.76M282.92,256.76L280.75,252.99M280.75,252.99L282.93,249.23M282.93,249.23L287.28,249.24M287.27,256.77L289.07,260.24M280.75,252.99L276.71,253.24M287.28,249.24L288.74,246.73M310.34,286.49L307.92,290.11M307.92,290.11L303.58,289.81M303.58,289.81L301.66,285.91M301.66,285.91L304.08,282.29M304.08,282.29L308.42,282.59M308.42,282.59L310.34,286.49M303.58,289.81L301.13,293.67M304.08,282.29L301.50,279.23M310.34,286.49L313.23,286.69M287.40,325.99L283.05,326.14M283.05,326.14L280.75,322.44M280.75,322.44L282.80,318.61M282.80,318.61L287.15,318.46M287.15,318.46L289.45,322.16M289.45,322.16L287.40,325.99M280.75,322.44L276.72,322.75M287.15,318.46L289.05,314.72M287.40,325.99L289.19,329.11M249.65,322.44L247.35,326.14M247.35,326.14L243.00,325.99M243.00,325.99L240.95,322.16M240.95,322.16L243.25,318.46M243.25,318.46L247.60,318.61M247.60,318.61L249.65,322.44M243.25,318.46L241.30,314.75M249.65,322.44L253.68,322.75M243.00,325.99L241.21,329.11M228.53,289.93L224.18,290.00M224.18,290.00L221.95,286.27M221.95,286.27L224.07,282.47M224.07,282.47L228.42,282.40M228.42,282.40L230.65,286.13M230.65,286.13L228.53,289.93M228.42,282.40L230.28,279.32M228.53,289.93L230.42,293.72M221.95,286.27L217.91,286.78" stroke="#d68a16" stroke-width="1.25" fill="none"/><line x1="292.57" y1="273.95" x2="291.50" y2="275.98" stroke="#b8e8ee" stroke-width="1.00"/><line x1="290.25" y1="270.27" x2="287.95" y2="270.35" stroke="#b8e8ee" stroke-width="1.00"/><line x1="296.63" y1="266.25" x2="297.70" y2="264.22" stroke="#b8e8ee" stroke-width="1.00"/><line x1="298.95" y1="269.93" x2="301.25" y2="269.85" stroke="#b8e8ee" stroke-width="1.00"/><line x1="290.25" y1="304.29" x2="287.95" y2="304.29" stroke="#b8e8ee" stroke-width="1.00"/><line x1="292.43" y1="300.53" x2="291.28" y2="298.54" stroke="#b8e8ee" stroke-width="1.00"/><line x1="298.95" y1="304.31" x2="301.25" y2="304.31" stroke="#b8e8ee" stroke-width="1.00"/><line x1="296.77" y1="308.07" x2="297.92" y2="310.06" stroke="#b8e8ee" stroke-width="1.00"/><line x1="238.12" y1="300.62" x2="239.35" y2="298.68" stroke="#b8e8ee" stroke-width="1.00"/><line x1="240.15" y1="304.47" x2="242.44" y2="304.56" stroke="#b8e8ee" stroke-width="1.00"/><line x1="233.48" y1="307.98" x2="232.25" y2="309.92" stroke="#b8e8ee" stroke-width="1.00"/><line x1="231.45" y1="304.13" x2="229.16" y2="304.04" stroke="#b8e8ee" stroke-width="1.00"/><line x1="203.88" y1="284.56" x2="202.54" y2="282.68" stroke="#b8e8ee" stroke-width="1.00"/><line x1="208.21" y1="284.14" x2="209.16" y2="282.05" stroke="#b8e8ee" stroke-width="1.00"/><line x1="208.92" y1="291.64" x2="210.26" y2="293.52" stroke="#b8e8ee" stroke-width="1.00"/><line x1="204.59" y1="292.06" x2="203.64" y2="294.15" stroke="#b8e8ee" stroke-width="1.00"/><line x1="292.46" y1="342.19" x2="291.33" y2="344.19" stroke="#b8e8ee" stroke-width="1.00"/><line x1="290.25" y1="338.44" x2="287.95" y2="338.46" stroke="#b8e8ee" stroke-width="1.00"/><line x1="296.74" y1="334.61" x2="297.87" y2="332.61" stroke="#b8e8ee" stroke-width="1.00"/><line x1="298.95" y1="338.36" x2="301.25" y2="338.34" stroke="#b8e8ee" stroke-width="1.00"/><line x1="253.03" y1="255.59" x2="256.95" y2="254.95" stroke="#b4b8ee" stroke-width="1.00"/><line x1="256.95" y1="254.95" x2="260.86" y2="254.31" stroke="#b4b8ee" stroke-width="1.00"/><line x1="240.42" y1="261.93" x2="239.22" y2="264.15" stroke="#b4b8ee" stroke-width="1.00"/><line x1="239.22" y1="264.15" x2="238.02" y2="266.36" stroke="#b4b8ee" stroke-width="1.00"/><line x1="241.30" y1="249.30" x2="244.09" y2="249.17" stroke="#b4b8ee" stroke-width="1.00"/><line x1="246.10" y1="259.86" x2="247.18" y2="262.23" stroke="#e89098" stroke-width="1.00"/><line x1="239.97" y1="255.48" x2="237.38" y2="255.23" stroke="#e89098" stroke-width="1.00"/><line x1="246.83" y1="252.36" x2="248.34" y2="250.24" stroke="#e89098" stroke-width="1.00"/><line x1="289.07" y1="260.24" x2="290.68" y2="263.33" stroke="#b4b8ee" stroke-width="1.00"/><line x1="290.68" y1="263.33" x2="292.28" y2="266.42" stroke="#b4b8ee" stroke-width="1.00"/><line x1="276.71" y1="253.24" x2="273.13" y2="253.47" stroke="#b4b8ee" stroke-width="1.00"/><line x1="273.13" y1="253.47" x2="269.54" y2="253.69" stroke="#b4b8ee" stroke-width="1.00"/><line x1="288.74" y1="246.73" x2="290.58" y2="244.62" stroke="#b4b8ee" stroke-width="1.00"/><line x1="289.45" y1="253.01" x2="292.05" y2="253.01" stroke="#e89098" stroke-width="1.00"/><line x1="282.92" y1="256.76" x2="281.61" y2="259.01" stroke="#e89098" stroke-width="1.00"/><line x1="282.93" y1="249.23" x2="281.64" y2="246.97" stroke="#e89098" stroke-width="1.00"/><line x1="301.13" y1="293.67" x2="298.95" y2="297.10" stroke="#b4b8ee" stroke-width="1.00"/><line x1="298.95" y1="297.10" x2="296.78" y2="300.54" stroke="#b4b8ee" stroke-width="1.00"/><line x1="301.50" y1="279.23" x2="299.21" y2="276.51" stroke="#b4b8ee" stroke-width="1.00"/><line x1="299.21" y1="276.51" x2="296.92" y2="273.78" stroke="#b4b8ee" stroke-width="1.00"/><line x1="313.23" y1="286.69" x2="315.52" y2="288.31" stroke="#b4b8ee" stroke-width="1.00"/><line x1="307.92" y1="290.11" x2="309.06" y2="292.44" stroke="#e89098" stroke-width="1.00"/><line x1="301.66" y1="285.91" x2="299.07" y2="285.73" stroke="#e89098" stroke-width="1.00"/><line x1="308.42" y1="282.59" x2="309.87" y2="280.43" stroke="#e89098" stroke-width="1.00"/><line x1="276.72" y1="322.75" x2="273.13" y2="323.03" stroke="#b4b8ee" stroke-width="1.00"/><line x1="273.13" y1="323.03" x2="269.55" y2="323.30" stroke="#b4b8ee" stroke-width="1.00"/><line x1="289.05" y1="314.72" x2="290.73" y2="311.39" stroke="#b4b8ee" stroke-width="1.00"/><line x1="290.73" y1="311.39" x2="292.42" y2="308.06" stroke="#b4b8ee" stroke-width="1.00"/><line x1="289.19" y1="329.11" x2="290.79" y2="331.88" stroke="#b4b8ee" stroke-width="1.00"/><line x1="290.79" y1="331.88" x2="292.39" y2="334.65" stroke="#b4b8ee" stroke-width="1.00"/><line x1="283.05" y1="326.14" x2="281.82" y2="328.43" stroke="#e89098" stroke-width="1.00"/><line x1="282.80" y1="318.61" x2="281.43" y2="316.40" stroke="#e89098" stroke-width="1.00"/><line x1="289.45" y1="322.16" x2="292.05" y2="322.07" stroke="#e89098" stroke-width="1.00"/><line x1="241.30" y1="314.75" x2="239.56" y2="311.45" stroke="#b4b8ee" stroke-width="1.00"/><line x1="239.56" y1="311.45" x2="237.83" y2="308.15" stroke="#b4b8ee" stroke-width="1.00"/><line x1="253.68" y1="322.75" x2="257.27" y2="323.03" stroke="#b4b8ee" stroke-width="1.00"/><line x1="257.27" y1="323.03" x2="260.85" y2="323.30" stroke="#b4b8ee" stroke-width="1.00"/><line x1="241.21" y1="329.11" x2="239.61" y2="331.88" stroke="#b4b8ee" stroke-width="1.00"/><line x1="239.61" y1="331.88" x2="238.01" y2="334.65" stroke="#b4b8ee" stroke-width="1.00"/><line x1="247.35" y1="326.14" x2="248.58" y2="328.43" stroke="#e89098" stroke-width="1.00"/><line x1="240.95" y1="322.16" x2="238.35" y2="322.07" stroke="#e89098" stroke-width="1.00"/><line x1="247.60" y1="318.61" x2="248.97" y2="316.40" stroke="#e89098" stroke-width="1.00"/><line x1="230.28" y1="279.32" x2="231.93" y2="276.58" stroke="#b4b8ee" stroke-width="1.00"/><line x1="231.93" y1="276.58" x2="233.58" y2="273.84" stroke="#b4b8ee" stroke-width="1.00"/><line x1="230.42" y1="293.72" x2="232.10" y2="297.09" stroke="#b4b8ee" stroke-width="1.00"/><line x1="232.10" y1="297.09" x2="233.77" y2="300.45" stroke="#b4b8ee" stroke-width="1.00"/><line x1="217.91" y1="286.78" x2="214.32" y2="287.23" stroke="#b4b8ee" stroke-width="1.00"/><line x1="214.32" y1="287.23" x2="210.73" y2="287.69" stroke="#b4b8ee" stroke-width="1.00"/><line x1="224.18" y1="290.00" x2="222.92" y2="292.27" stroke="#e89098" stroke-width="1.00"/><line x1="224.07" y1="282.47" x2="222.74" y2="280.23" stroke="#e89098" stroke-width="1.00"/><line x1="230.65" y1="286.13" x2="233.25" y2="286.10" stroke="#e89098" stroke-width="1.00"/><line x1="247.40" y1="304.10" x2="242.90" y2="301.30" stroke="#a9a9a9" stroke-width="2.12"/><line x1="247.40" y1="304.10" x2="251.70" y2="300.90" stroke="#a9a9a9" stroke-width="2.12"/><line x1="247.40" y1="304.10" x2="247.80" y2="308.90" stroke="#a9a9a9" stroke-width="2.12"/><line x1="246.40" y1="300.50" x2="242.90" y2="301.30" stroke="#a9a9a9" stroke-width="2.12"/><line x1="246.40" y1="300.50" x2="251.70" y2="300.90" stroke="#a9a9a9" stroke-width="2.12"/><line x1="246.40" y1="300.50" x2="247.40" y2="304.10" stroke="#a9a9a9" stroke-width="2.12"/><circle cx="291.50" cy="275.98" r="1.00" fill="url(#gH)"/><circle cx="287.95" cy="270.35" r="1.00" fill="url(#gH)"/><circle cx="297.70" cy="264.22" r="1.00" fill="url(#gH)"/><circle cx="301.25" cy="269.85" r="1.00" fill="url(#gH)"/><circle cx="287.95" cy="304.29" r="1.00" fill="url(#gH)"/><circle cx="291.28" cy="298.54" r="1.00" fill="url(#gH)"/><circle cx="301.25" cy="304.31" r="1.00" fill="url(#gH)"/><circle cx="297.92" cy="310.06" r="1.00" fill="url(#gH)"/><circle cx="239.35" cy="298.68" r="1.00" fill="url(#gH)"/><circle cx="242.44" cy="304.56" r="1.00" fill="url(#gH)"/><circle cx="232.25" cy="309.92" r="1.00" fill="url(#gH)"/><circle cx="229.16" cy="304.04" r="1.00" fill="url(#gH)"/><circle cx="202.54" cy="282.68" r="1.00" fill="url(#gH)"/><circle cx="209.16" cy="282.05" r="1.00" fill="url(#gH)"/><circle cx="210.26" cy="293.52" r="1.00" fill="url(#gH)"/><circle cx="203.64" cy="294.15" r="1.00" fill="url(#gH)"/><circle cx="291.33" cy="344.19" r="1.00" fill="url(#gH)"/><circle cx="287.95" cy="338.46" r="1.00" fill="url(#gH)"/><circle cx="297.87" cy="332.61" r="1.00" fill="url(#gH)"/><circle cx="301.25" cy="338.34" r="1.00" fill="url(#gH)"/><circle cx="236.30" cy="253.55" r="1.00" fill="url(#gH)"/><circle cx="279.63" cy="259.30" r="1.00" fill="url(#gH)"/><circle cx="297.93" cy="284.09" r="1.00" fill="url(#gH)"/><circle cx="282.11" cy="314.51" r="1.00" fill="url(#gH)"/><circle cx="237.16" cy="320.47" r="1.00" fill="url(#gH)"/><circle cx="223.44" cy="278.36" r="1.00" fill="url(#gH)"/><circle cx="199.48" cy="288.76" r="1.40" fill="url(#gN)"/><circle cx="232.27" cy="344.39" r="1.40" fill="url(#gN)"/><circle cx="298.13" cy="344.39" r="1.40" fill="url(#gN)"/><circle cx="256.95" cy="254.95" r="1.40" fill="url(#gN)"/><circle cx="239.22" cy="264.15" r="1.40" fill="url(#gN)"/><circle cx="244.09" cy="249.17" r="1.40" fill="url(#gN)"/><circle cx="247.18" cy="262.23" r="1.45" fill="url(#gO)"/><circle cx="237.38" cy="255.23" r="1.45" fill="url(#gO)"/><circle cx="248.34" cy="250.24" r="1.45" fill="url(#gO)"/><circle cx="290.68" cy="263.33" r="1.40" fill="url(#gN)"/><circle cx="273.13" cy="253.47" r="1.40" fill="url(#gN)"/><circle cx="290.58" cy="244.62" r="1.40" fill="url(#gN)"/><circle cx="292.05" cy="253.01" r="1.45" fill="url(#gO)"/><circle cx="281.61" cy="259.01" r="1.45" fill="url(#gO)"/><circle cx="281.64" cy="246.97" r="1.45" fill="url(#gO)"/><circle cx="298.95" cy="297.10" r="1.40" fill="url(#gN)"/><circle cx="299.21" cy="276.51" r="1.40" fill="url(#gN)"/><circle cx="315.52" cy="288.31" r="1.40" fill="url(#gN)"/><circle cx="309.06" cy="292.44" r="1.45" fill="url(#gO)"/><circle cx="299.07" cy="285.73" r="1.45" fill="url(#gO)"/><circle cx="309.87" cy="280.43" r="1.45" fill="url(#gO)"/><circle cx="273.13" cy="323.03" r="1.40" fill="url(#gN)"/><circle cx="290.73" cy="311.39" r="1.40" fill="url(#gN)"/><circle cx="290.79" cy="331.88" r="1.40" fill="url(#gN)"/><circle cx="281.82" cy="328.43" r="1.45" fill="url(#gO)"/><circle cx="281.43" cy="316.40" r="1.45" fill="url(#gO)"/><circle cx="292.05" cy="322.07" r="1.45" fill="url(#gO)"/><circle cx="239.56" cy="311.45" r="1.40" fill="url(#gN)"/><circle cx="257.27" cy="323.03" r="1.40" fill="url(#gN)"/><circle cx="239.61" cy="331.88" r="1.40" fill="url(#gN)"/><circle cx="248.58" cy="328.43" r="1.45" fill="url(#gO)"/><circle cx="238.35" cy="322.07" r="1.45" fill="url(#gO)"/><circle cx="248.97" cy="316.40" r="1.45" fill="url(#gO)"/><circle cx="231.93" cy="276.58" r="1.40" fill="url(#gN)"/><circle cx="232.10" cy="297.09" r="1.40" fill="url(#gN)"/><circle cx="214.32" cy="287.23" r="1.40" fill="url(#gN)"/><circle cx="222.92" cy="292.27" r="1.45" fill="url(#gO)"/><circle cx="222.74" cy="280.23" r="1.45" fill="url(#gO)"/><circle cx="233.25" cy="286.10" r="1.45" fill="url(#gO)"/><circle cx="269.54" cy="253.69" r="1.50" fill="url(#gC)"/><circle cx="267.45" cy="254.97" r="1.50" fill="url(#gC)"/><circle cx="263.11" cy="255.28" r="1.50" fill="url(#gC)"/><circle cx="260.86" cy="254.31" r="1.50" fill="url(#gC)"/><circle cx="262.95" cy="253.03" r="1.50" fill="url(#gC)"/><circle cx="267.29" cy="252.72" r="1.50" fill="url(#gC)"/><circle cx="296.92" cy="273.78" r="1.50" fill="url(#gC)"/><circle cx="292.57" cy="273.95" r="1.50" fill="url(#gC)"/><circle cx="290.25" cy="270.27" r="1.50" fill="url(#gC)"/><circle cx="292.28" cy="266.42" r="1.50" fill="url(#gC)"/><circle cx="296.63" cy="266.25" r="1.50" fill="url(#gC)"/><circle cx="298.95" cy="269.93" r="1.50" fill="url(#gC)"/><circle cx="292.42" cy="308.06" r="1.50" fill="url(#gC)"/><circle cx="290.25" cy="304.29" r="1.50" fill="url(#gC)"/><circle cx="292.43" cy="300.53" r="1.50" fill="url(#gC)"/><circle cx="296.78" cy="300.54" r="1.50" fill="url(#gC)"/><circle cx="298.95" cy="304.31" r="1.50" fill="url(#gC)"/><circle cx="296.77" cy="308.07" r="1.50" fill="url(#gC)"/><circle cx="260.85" cy="323.30" r="1.50" fill="url(#gC)"/><circle cx="263.02" cy="322.17" r="1.50" fill="url(#gC)"/><circle cx="267.38" cy="322.17" r="1.50" fill="url(#gC)"/><circle cx="269.55" cy="323.30" r="1.50" fill="url(#gC)"/><circle cx="267.38" cy="324.43" r="1.50" fill="url(#gC)"/><circle cx="263.02" cy="324.43" r="1.50" fill="url(#gC)"/><circle cx="233.77" cy="300.45" r="1.50" fill="url(#gC)"/><circle cx="238.12" cy="300.62" r="1.50" fill="url(#gC)"/><circle cx="240.15" cy="304.47" r="1.50" fill="url(#gC)"/><circle cx="237.83" cy="308.15" r="1.50" fill="url(#gC)"/><circle cx="233.48" cy="307.98" r="1.50" fill="url(#gC)"/><circle cx="231.45" cy="304.13" r="1.50" fill="url(#gC)"/><circle cx="238.02" cy="266.36" r="1.50" fill="url(#gC)"/><circle cx="237.88" cy="268.81" r="1.50" fill="url(#gC)"/><circle cx="235.66" cy="272.55" r="1.50" fill="url(#gC)"/><circle cx="233.58" cy="273.84" r="1.50" fill="url(#gC)"/><circle cx="233.72" cy="271.39" r="1.50" fill="url(#gC)"/><circle cx="235.94" cy="267.65" r="1.50" fill="url(#gC)"/><circle cx="202.07" cy="288.51" r="1.50" fill="url(#gC)"/><circle cx="203.88" cy="284.56" r="1.50" fill="url(#gC)"/><circle cx="208.21" cy="284.14" r="1.50" fill="url(#gC)"/><circle cx="210.73" cy="287.69" r="1.50" fill="url(#gC)"/><circle cx="208.92" cy="291.64" r="1.50" fill="url(#gC)"/><circle cx="204.59" cy="292.06" r="1.50" fill="url(#gC)"/><circle cx="233.59" cy="342.15" r="1.50" fill="url(#gC)"/><circle cx="233.72" cy="339.70" r="1.50" fill="url(#gC)"/><circle cx="235.93" cy="335.95" r="1.50" fill="url(#gC)"/><circle cx="238.01" cy="334.65" r="1.50" fill="url(#gC)"/><circle cx="237.88" cy="337.10" r="1.50" fill="url(#gC)"/><circle cx="235.67" cy="340.85" r="1.50" fill="url(#gC)"/><circle cx="296.81" cy="342.15" r="1.50" fill="url(#gC)"/><circle cx="292.46" cy="342.19" r="1.50" fill="url(#gC)"/><circle cx="290.25" cy="338.44" r="1.50" fill="url(#gC)"/><circle cx="292.39" cy="334.65" r="1.50" fill="url(#gC)"/><circle cx="296.74" cy="334.61" r="1.50" fill="url(#gC)"/><circle cx="298.95" cy="338.36" r="1.50" fill="url(#gC)"/><circle cx="248.63" cy="256.32" r="1.50" fill="url(#gC)"/><circle cx="246.10" cy="259.86" r="1.50" fill="url(#gC)"/><circle cx="241.77" cy="259.44" r="1.50" fill="url(#gC)"/><circle cx="239.97" cy="255.48" r="1.50" fill="url(#gC)"/><circle cx="242.50" cy="251.94" r="1.50" fill="url(#gC)"/><circle cx="246.83" cy="252.36" r="1.50" fill="url(#gC)"/><circle cx="253.03" cy="255.59" r="1.50" fill="url(#gC)"/><circle cx="240.42" cy="261.93" r="1.50" fill="url(#gC)"/><circle cx="241.30" cy="249.30" r="1.50" fill="url(#gC)"/><circle cx="287.28" cy="249.24" r="1.50" fill="url(#gC)"/><circle cx="289.45" cy="253.01" r="1.50" fill="url(#gC)"/><circle cx="287.27" cy="256.77" r="1.50" fill="url(#gC)"/><circle cx="282.92" cy="256.76" r="1.50" fill="url(#gC)"/><circle cx="280.75" cy="252.99" r="1.50" fill="url(#gC)"/><circle cx="282.93" cy="249.23" r="1.50" fill="url(#gC)"/><circle cx="289.07" cy="260.24" r="1.50" fill="url(#gC)"/><circle cx="276.71" cy="253.24" r="1.50" fill="url(#gC)"/><circle cx="288.74" cy="246.73" r="1.50" fill="url(#gC)"/><circle cx="310.34" cy="286.49" r="1.50" fill="url(#gC)"/><circle cx="307.92" cy="290.11" r="1.50" fill="url(#gC)"/><circle cx="303.58" cy="289.81" r="1.50" fill="url(#gC)"/><circle cx="301.66" cy="285.91" r="1.50" fill="url(#gC)"/><circle cx="304.08" cy="282.29" r="1.50" fill="url(#gC)"/><circle cx="308.42" cy="282.59" r="1.50" fill="url(#gC)"/><circle cx="301.13" cy="293.67" r="1.50" fill="url(#gC)"/><circle cx="301.50" cy="279.23" r="1.50" fill="url(#gC)"/><circle cx="313.23" cy="286.69" r="1.50" fill="url(#gC)"/><circle cx="287.40" cy="325.99" r="1.50" fill="url(#gC)"/><circle cx="283.05" cy="326.14" r="1.50" fill="url(#gC)"/><circle cx="280.75" cy="322.44" r="1.50" fill="url(#gC)"/><circle cx="282.80" cy="318.61" r="1.50" fill="url(#gC)"/><circle cx="287.15" cy="318.46" r="1.50" fill="url(#gC)"/><circle cx="289.45" cy="322.16" r="1.50" fill="url(#gC)"/><circle cx="276.72" cy="322.75" r="1.50" fill="url(#gC)"/><circle cx="289.05" cy="314.72" r="1.50" fill="url(#gC)"/><circle cx="289.19" cy="329.11" r="1.50" fill="url(#gC)"/><circle cx="249.65" cy="322.44" r="1.50" fill="url(#gC)"/><circle cx="247.35" cy="326.14" r="1.50" fill="url(#gC)"/><circle cx="243.00" cy="325.99" r="1.50" fill="url(#gC)"/><circle cx="240.95" cy="322.16" r="1.50" fill="url(#gC)"/><circle cx="243.25" cy="318.46" r="1.50" fill="url(#gC)"/><circle cx="247.60" cy="318.61" r="1.50" fill="url(#gC)"/><circle cx="241.30" cy="314.75" r="1.50" fill="url(#gC)"/><circle cx="253.68" cy="322.75" r="1.50" fill="url(#gC)"/><circle cx="241.21" cy="329.11" r="1.50" fill="url(#gC)"/><circle cx="228.53" cy="289.93" r="1.50" fill="url(#gC)"/><circle cx="224.18" cy="290.00" r="1.50" fill="url(#gC)"/><circle cx="221.95" cy="286.27" r="1.50" fill="url(#gC)"/><circle cx="224.07" cy="282.47" r="1.50" fill="url(#gC)"/><circle cx="228.42" cy="282.40" r="1.50" fill="url(#gC)"/><circle cx="230.65" cy="286.13" r="1.50" fill="url(#gC)"/><circle cx="230.28" cy="279.32" r="1.50" fill="url(#gC)"/><circle cx="230.42" cy="293.72" r="1.50" fill="url(#gC)"/><circle cx="217.91" cy="286.78" r="1.50" fill="url(#gC)"/><circle cx="242.90" cy="301.30" r="1.50" fill="url(#gP)"/><circle cx="251.70" cy="300.90" r="1.50" fill="url(#gP)"/><circle cx="247.80" cy="308.90" r="1.50" fill="url(#gP)"/><circle cx="247.40" cy="304.10" r="1.50" fill="url(#gP)"/><circle cx="246.40" cy="300.50" r="1.50" fill="url(#gP)"/>
<path d="M443.74,248.96L441.63,250.21M441.63,250.21L437.29,250.45M437.29,250.45L435.06,249.44M435.06,249.44L437.17,248.19M437.17,248.19L441.51,247.95M441.51,247.95L443.74,248.96M473.15,270.48L468.80,270.45M468.80,270.45L466.65,266.67M466.65,266.67L468.85,262.92M468.85,262.92L473.20,262.95M473.20,262.95L475.35,266.73M475.35,266.73L473.15,270.48M468.81,304.36L466.65,300.58M466.65,300.58L468.84,296.82M468.84,296.82L473.19,296.84M473.19,296.84L475.35,300.62M475.35,300.62L473.16,304.38M473.16,304.38L468.81,304.36M436.25,320.40L438.43,319.27M438.43,319.27L442.78,319.27M442.78,319.27L444.95,320.40M444.95,320.40L442.78,321.53M442.78,321.53L438.43,321.53M438.43,321.53L436.25,320.40M407.05,299.06L411.40,299.21M411.40,299.21L413.45,303.05M413.45,303.05L411.15,306.74M411.15,306.74L406.80,306.59M406.80,306.59L404.75,302.75M404.75,302.75L407.05,299.06M412.20,262.84L412.20,265.29M412.20,265.29L410.20,269.15M410.20,269.15L408.20,270.56M408.20,270.56L408.20,268.11M408.20,268.11L410.20,264.25M410.20,264.25L412.20,262.84M374.35,284.20L376.52,280.43M376.52,280.43L380.88,280.43M380.88,280.43L383.05,284.20M383.05,284.20L380.88,287.97M380.88,287.97L376.52,287.97M376.52,287.97L374.35,284.20M408.25,341.89L408.21,339.44M408.21,339.44L410.17,335.55M410.17,335.55L412.15,334.11M412.15,334.11L412.19,336.56M412.19,336.56L410.23,340.45M410.23,340.45L408.25,341.89M473.15,341.78L468.80,341.75M468.80,341.75L466.65,337.97M466.65,337.97L468.85,334.22M468.85,334.22L473.20,334.25M473.20,334.25L475.35,338.03M475.35,338.03L473.15,341.78M422.75,250.43L420.55,254.18M420.55,254.18L416.20,254.15M416.20,254.15L414.05,250.37M414.05,250.37L416.25,246.62M416.25,246.62L420.60,246.65M420.60,246.65L422.75,250.43M422.75,250.43L427.18,250.07M416.20,254.15L414.76,257.28M416.25,246.62L414.82,244.10M463.85,251.73L459.50,251.81M459.50,251.81L457.25,248.08M457.25,248.08L459.35,244.27M459.35,244.27L463.70,244.19M463.70,244.19L465.95,247.92M465.95,247.92L463.85,251.73M463.85,251.73L465.65,255.75M457.25,248.08L452.39,248.40M463.70,244.19L465.11,241.65M485.84,283.34L483.47,286.98M483.47,286.98L479.12,286.74M479.12,286.74L477.16,282.86M477.16,282.86L479.53,279.22M479.53,279.22L483.88,279.46M483.88,279.46L485.84,283.34M479.12,286.74L476.99,290.38M479.53,279.22L477.23,276.07M485.84,283.34L488.74,283.50M462.64,323.03L458.30,323.11M458.30,323.11L456.05,319.38M456.05,319.38L458.16,315.57M458.16,315.57L462.50,315.49M462.50,315.49L464.75,319.22M464.75,319.22L462.64,323.03M456.05,319.38L452.05,319.75M462.50,315.49L464.77,311.48M462.64,323.03L464.88,327.05M423.95,319.22L421.84,323.03M421.84,323.03L417.49,323.10M417.49,323.10L415.25,319.38M415.25,319.38L417.36,315.57M417.36,315.57L421.71,315.50M421.71,315.50L423.95,319.22M417.36,315.57L415.12,312.39M423.95,319.22L428.38,319.65M417.49,323.10L415.57,327.07M403.17,280.49L405.25,284.31M405.25,284.31L402.98,288.02M402.98,288.02L398.63,287.91M398.63,287.91L396.55,284.09M396.55,284.09L398.82,280.38M398.82,280.38L403.17,280.49M403.17,280.49L404.98,276.92M402.98,288.02L404.45,291.99M396.55,284.09L391.69,284.13" stroke="#d68a16" stroke-width="1.25" fill="none"/><line x1="468.80" y1="270.45" x2="467.63" y2="272.43" stroke="#b8e8ee" stroke-width="1.00"/><line x1="466.65" y1="266.67" x2="464.35" y2="266.65" stroke="#b8e8ee" stroke-width="1.00"/><line x1="473.20" y1="262.95" x2="474.37" y2="260.97" stroke="#b8e8ee" stroke-width="1.00"/><line x1="475.35" y1="266.73" x2="477.65" y2="266.75" stroke="#b8e8ee" stroke-width="1.00"/><line x1="466.65" y1="300.58" x2="464.35" y2="300.57" stroke="#b8e8ee" stroke-width="1.00"/><line x1="468.84" y1="296.82" x2="467.70" y2="294.83" stroke="#b8e8ee" stroke-width="1.00"/><line x1="475.35" y1="300.62" x2="477.65" y2="300.63" stroke="#b8e8ee" stroke-width="1.00"/><line x1="473.16" y1="304.38" x2="474.30" y2="306.37" stroke="#b8e8ee" stroke-width="1.00"/><line x1="411.40" y1="299.21" x2="412.62" y2="297.26" stroke="#b8e8ee" stroke-width="1.00"/><line x1="413.45" y1="303.05" x2="415.75" y2="303.13" stroke="#b8e8ee" stroke-width="1.00"/><line x1="406.80" y1="306.59" x2="405.58" y2="308.54" stroke="#b8e8ee" stroke-width="1.00"/><line x1="404.75" y1="302.75" x2="402.45" y2="302.67" stroke="#b8e8ee" stroke-width="1.00"/><line x1="376.52" y1="280.43" x2="375.38" y2="278.44" stroke="#b8e8ee" stroke-width="1.00"/><line x1="380.88" y1="280.43" x2="382.02" y2="278.44" stroke="#b8e8ee" stroke-width="1.00"/><line x1="380.88" y1="287.97" x2="382.02" y2="289.96" stroke="#b8e8ee" stroke-width="1.00"/><line x1="376.52" y1="287.97" x2="375.38" y2="289.96" stroke="#b8e8ee" stroke-width="1.00"/><line x1="468.80" y1="341.75" x2="467.63" y2="343.73" stroke="#b8e8ee" stroke-width="1.00"/><line x1="466.65" y1="337.97" x2="464.35" y2="337.95" stroke="#b8e8ee" stroke-width="1.00"/><line x1="473.20" y1="334.25" x2="474.37" y2="332.27" stroke="#b8e8ee" stroke-width="1.00"/><line x1="475.35" y1="338.03" x2="477.65" y2="338.05" stroke="#b8e8ee" stroke-width="1.00"/><line x1="427.18" y1="250.07" x2="431.12" y2="249.76" stroke="#b4b8ee" stroke-width="1.00"/><line x1="431.12" y1="249.76" x2="435.06" y2="249.44" stroke="#b4b8ee" stroke-width="1.00"/><line x1="414.76" y1="257.28" x2="413.48" y2="260.06" stroke="#b4b8ee" stroke-width="1.00"/><line x1="413.48" y1="260.06" x2="412.20" y2="262.84" stroke="#b4b8ee" stroke-width="1.00"/><line x1="414.82" y1="244.10" x2="417.47" y2="245.00" stroke="#b4b8ee" stroke-width="1.00"/><line x1="420.55" y1="254.18" x2="421.83" y2="256.44" stroke="#e89098" stroke-width="1.00"/><line x1="414.05" y1="250.37" x2="411.45" y2="250.35" stroke="#e89098" stroke-width="1.00"/><line x1="420.60" y1="246.65" x2="421.92" y2="244.40" stroke="#e89098" stroke-width="1.00"/><line x1="465.65" y1="255.75" x2="467.25" y2="259.33" stroke="#b4b8ee" stroke-width="1.00"/><line x1="467.25" y1="259.33" x2="468.85" y2="262.92" stroke="#b4b8ee" stroke-width="1.00"/><line x1="452.39" y1="248.40" x2="448.07" y2="248.68" stroke="#b4b8ee" stroke-width="1.00"/><line x1="448.07" y1="248.68" x2="443.74" y2="248.96" stroke="#b4b8ee" stroke-width="1.00"/><line x1="465.11" y1="241.65" x2="465.08" y2="238.85" stroke="#b4b8ee" stroke-width="1.00"/><line x1="459.50" y1="251.81" x2="458.24" y2="254.08" stroke="#e89098" stroke-width="1.00"/><line x1="459.35" y1="244.27" x2="458.01" y2="242.05" stroke="#e89098" stroke-width="1.00"/><line x1="465.95" y1="247.92" x2="468.55" y2="247.87" stroke="#e89098" stroke-width="1.00"/><line x1="476.99" y1="290.38" x2="475.09" y2="293.61" stroke="#b4b8ee" stroke-width="1.00"/><line x1="475.09" y1="293.61" x2="473.19" y2="296.84" stroke="#b4b8ee" stroke-width="1.00"/><line x1="477.23" y1="276.07" x2="475.19" y2="273.28" stroke="#b4b8ee" stroke-width="1.00"/><line x1="475.19" y1="273.28" x2="473.15" y2="270.48" stroke="#b4b8ee" stroke-width="1.00"/><line x1="488.74" y1="283.50" x2="491.31" y2="284.62" stroke="#b4b8ee" stroke-width="1.00"/><line x1="483.47" y1="286.98" x2="484.64" y2="289.30" stroke="#e89098" stroke-width="1.00"/><line x1="477.16" y1="282.86" x2="474.56" y2="282.72" stroke="#e89098" stroke-width="1.00"/><line x1="483.88" y1="279.46" x2="485.30" y2="277.28" stroke="#e89098" stroke-width="1.00"/><line x1="452.05" y1="319.75" x2="448.50" y2="320.07" stroke="#b4b8ee" stroke-width="1.00"/><line x1="448.50" y1="320.07" x2="444.95" y2="320.40" stroke="#b4b8ee" stroke-width="1.00"/><line x1="464.77" y1="311.48" x2="466.79" y2="307.92" stroke="#b4b8ee" stroke-width="1.00"/><line x1="466.79" y1="307.92" x2="468.81" y2="304.36" stroke="#b4b8ee" stroke-width="1.00"/><line x1="464.88" y1="327.05" x2="466.87" y2="330.64" stroke="#b4b8ee" stroke-width="1.00"/><line x1="466.87" y1="330.64" x2="468.85" y2="334.22" stroke="#b4b8ee" stroke-width="1.00"/><line x1="458.30" y1="323.11" x2="457.04" y2="325.38" stroke="#e89098" stroke-width="1.00"/><line x1="458.16" y1="315.57" x2="456.81" y2="313.35" stroke="#e89098" stroke-width="1.00"/><line x1="464.75" y1="319.22" x2="467.35" y2="319.17" stroke="#e89098" stroke-width="1.00"/><line x1="415.12" y1="312.39" x2="413.13" y2="309.57" stroke="#b4b8ee" stroke-width="1.00"/><line x1="413.13" y1="309.57" x2="411.15" y2="306.74" stroke="#b4b8ee" stroke-width="1.00"/><line x1="428.38" y1="319.65" x2="432.31" y2="320.02" stroke="#b4b8ee" stroke-width="1.00"/><line x1="432.31" y1="320.02" x2="436.25" y2="320.40" stroke="#b4b8ee" stroke-width="1.00"/><line x1="415.57" y1="327.07" x2="413.86" y2="330.59" stroke="#b4b8ee" stroke-width="1.00"/><line x1="413.86" y1="330.59" x2="412.15" y2="334.11" stroke="#b4b8ee" stroke-width="1.00"/><line x1="421.84" y1="323.03" x2="423.18" y2="325.26" stroke="#e89098" stroke-width="1.00"/><line x1="415.25" y1="319.38" x2="412.65" y2="319.42" stroke="#e89098" stroke-width="1.00"/><line x1="421.71" y1="315.50" x2="422.97" y2="313.22" stroke="#e89098" stroke-width="1.00"/><line x1="404.98" y1="276.92" x2="406.59" y2="273.74" stroke="#b4b8ee" stroke-width="1.00"/><line x1="406.59" y1="273.74" x2="408.20" y2="270.56" stroke="#b4b8ee" stroke-width="1.00"/><line x1="404.45" y1="291.99" x2="405.75" y2="295.53" stroke="#b4b8ee" stroke-width="1.00"/><line x1="405.75" y1="295.53" x2="407.05" y2="299.06" stroke="#b4b8ee" stroke-width="1.00"/><line x1="391.69" y1="284.13" x2="387.37" y2="284.17" stroke="#b4b8ee" stroke-width="1.00"/><line x1="387.37" y1="284.17" x2="383.05" y2="284.20" stroke="#b4b8ee" stroke-width="1.00"/><line x1="405.25" y1="284.31" x2="407.85" y2="284.37" stroke="#e89098" stroke-width="1.00"/><line x1="398.63" y1="287.91" x2="397.28" y2="290.13" stroke="#e89098" stroke-width="1.00"/><line x1="398.82" y1="280.38" x2="397.58" y2="278.10" stroke="#e89098" stroke-width="1.00"/><line x1="421.40" y1="303.40" x2="416.90" y2="300.60" stroke="#a9a9a9" stroke-width="2.12"/><line x1="421.40" y1="303.40" x2="425.70" y2="300.20" stroke="#a9a9a9" stroke-width="2.12"/><line x1="421.40" y1="303.40" x2="421.80" y2="308.20" stroke="#a9a9a9" stroke-width="2.12"/><line x1="420.40" y1="299.80" x2="416.90" y2="300.60" stroke="#a9a9a9" stroke-width="2.12"/><line x1="420.40" y1="299.80" x2="425.70" y2="300.20" stroke="#a9a9a9" stroke-width="2.12"/><line x1="420.40" y1="299.80" x2="421.40" y2="303.40" stroke="#a9a9a9" stroke-width="2.12"/><circle cx="467.63" cy="272.43" r="1.00" fill="url(#gH)"/><circle cx="464.35" cy="266.65" r="1.00" fill="url(#gH)"/><circle cx="474.37" cy="260.97" r="1.00" fill="url(#gH)"/><circle cx="477.65" cy="266.75" r="1.00" fill="url(#gH)"/><circle cx="464.35" cy="300.57" r="1.00" fill="url(#gH)"/><circle cx="467.70" cy="294.83" r="1.00" fill="url(#gH)"/><circle cx="477.65" cy="300.63" r="1.00" fill="url(#gH)"/><circle cx="474.30" cy="306.37" r="1.00" fill="url(#gH)"/><circle cx="412.62" cy="297.26" r="1.00" fill="url(#gH)"/><circle cx="415.75" cy="303.13" r="1.00" fill="url(#gH)"/><circle cx="405.58" cy="308.54" r="1.00" fill="url(#gH)"/><circle cx="402.45" cy="302.67" r="1.00" fill="url(#gH)"/><circle cx="375.38" cy="278.44" r="1.00" fill="url(#gH)"/><circle cx="382.02" cy="278.44" r="1.00" fill="url(#gH)"/><circle cx="382.02" cy="289.96" r="1.00" fill="url(#gH)"/><circle cx="375.38" cy="289.96" r="1.00" fill="url(#gH)"/><circle cx="467.63" cy="343.73" r="1.00" fill="url(#gH)"/><circle cx="464.35" cy="337.95" r="1.00" fill="url(#gH)"/><circle cx="474.37" cy="332.27" r="1.00" fill="url(#gH)"/><circle cx="477.65" cy="338.05" r="1.00" fill="url(#gH)"/><circle cx="410.22" cy="248.78" r="1.00" fill="url(#gH)"/><circle cx="458.71" cy="240.17" r="1.00" fill="url(#gH)"/><circle cx="473.40" cy="281.09" r="1.00" fill="url(#gH)"/><circle cx="457.51" cy="311.47" r="1.00" fill="url(#gH)"/><circle cx="411.38" cy="317.87" r="1.00" fill="url(#gH)"/><circle cx="395.29" cy="290.37" r="1.00" fill="url(#gH)"/><circle cx="371.75" cy="284.20" r="1.40" fill="url(#gN)"/><circle cx="407.08" cy="344.21" r="1.40" fill="url(#gN)"/><circle cx="474.43" cy="344.05" r="1.40" fill="url(#gN)"/><circle cx="431.12" cy="249.76" r="1.40" fill="url(#gN)"/><circle cx="413.48" cy="260.06" r="1.40" fill="url(#gN)"/><circle cx="417.47" cy="245.00" r="1.40" fill="url(#gN)"/><circle cx="421.83" cy="256.44" r="1.45" fill="url(#gO)"/><circle cx="411.45" cy="250.35" r="1.45" fill="url(#gO)"/><circle cx="421.92" cy="244.40" r="1.45" fill="url(#gO)"/><circle cx="467.25" cy="259.33" r="1.40" fill="url(#gN)"/><circle cx="448.07" cy="248.68" r="1.40" fill="url(#gN)"/><circle cx="465.08" cy="238.85" r="1.40" fill="url(#gN)"/><circle cx="458.24" cy="254.08" r="1.45" fill="url(#gO)"/><circle cx="458.01" cy="242.05" r="1.45" fill="url(#gO)"/><circle cx="468.55" cy="247.87" r="1.45" fill="url(#gO)"/><circle cx="475.09" cy="293.61" r="1.40" fill="url(#gN)"/><circle cx="475.19" cy="273.28" r="1.40" fill="url(#gN)"/><circle cx="491.31" cy="284.62" r="1.40" fill="url(#gN)"/><circle cx="484.64" cy="289.30" r="1.45" fill="url(#gO)"/><circle cx="474.56" cy="282.72" r="1.45" fill="url(#gO)"/><circle cx="485.30" cy="277.28" r="1.45" fill="url(#gO)"/><circle cx="448.50" cy="320.07" r="1.40" fill="url(#gN)"/><circle cx="466.79" cy="307.92" r="1.40" fill="url(#gN)"/><circle cx="466.87" cy="330.64" r="1.40" fill="url(#gN)"/><circle cx="457.04" cy="325.38" r="1.45" fill="url(#gO)"/><circle cx="456.81" cy="313.35" r="1.45" fill="url(#gO)"/><circle cx="467.35" cy="319.17" r="1.45" fill="url(#gO)"/><circle cx="413.13" cy="309.57" r="1.40" fill="url(#gN)"/><circle cx="432.31" cy="320.02" r="1.40" fill="url(#gN)"/><circle cx="413.86" cy="330.59" r="1.40" fill="url(#gN)"/><circle cx="423.18" cy="325.26" r="1.45" fill="url(#gO)"/><circle cx="412.65" cy="319.42" r="1.45" fill="url(#gO)"/><circle cx="422.97" cy="313.22" r="1.45" fill="url(#gO)"/><circle cx="406.59" cy="273.74" r="1.40" fill="url(#gN)"/><circle cx="405.75" cy="295.53" r="1.40" fill="url(#gN)"/><circle cx="387.37" cy="284.17" r="1.40" fill="url(#gN)"/><circle cx="407.85" cy="284.37" r="1.45" fill="url(#gO)"/><circle cx="397.28" cy="290.13" r="1.45" fill="url(#gO)"/><circle cx="397.58" cy="278.10" r="1.45" fill="url(#gO)"/><circle cx="443.74" cy="248.96" r="1.50" fill="url(#gC)"/><circle cx="441.63" cy="250.21" r="1.50" fill="url(#gC)"/><circle cx="437.29" cy="250.45" r="1.50" fill="url(#gC)"/><circle cx="435.06" cy="249.44" r="1.50" fill="url(#gC)"/><circle cx="437.17" cy="248.19" r="1.50" fill="url(#gC)"/><circle cx="441.51" cy="247.95" r="1.50" fill="url(#gC)"/><circle cx="473.15" cy="270.48" r="1.50" fill="url(#gC)"/><circle cx="468.80" cy="270.45" r="1.50" fill="url(#gC)"/><circle cx="466.65" cy="266.67" r="1.50" fill="url(#gC)"/><circle cx="468.85" cy="262.92" r="1.50" fill="url(#gC)"/><circle cx="473.20" cy="262.95" r="1.50" fill="url(#gC)"/><circle cx="475.35" cy="266.73" r="1.50" fill="url(#gC)"/><circle cx="468.81" cy="304.36" r="1.50" fill="url(#gC)"/><circle cx="466.65" cy="300.58" r="1.50" fill="url(#gC)"/><circle cx="468.84" cy="296.82" r="1.50" fill="url(#gC)"/><circle cx="473.19" cy="296.84" r="1.50" fill="url(#gC)"/><circle cx="475.35" cy="300.62" r="1.50" fill="url(#gC)"/><circle cx="473.16" cy="304.38" r="1.50" fill="url(#gC)"/><circle cx="436.25" cy="320.40" r="1.50" fill="url(#gC)"/><circle cx="438.43" cy="319.27" r="1.50" fill="url(#gC)"/><circle cx="442.78" cy="319.27" r="1.50" fill="url(#gC)"/><circle cx="444.95" cy="320.40" r="1.50" fill="url(#gC)"/><circle cx="442.78" cy="321.53" r="1.50" fill="url(#gC)"/><circle cx="438.43" cy="321.53" r="1.50" fill="url(#gC)"/><circle cx="407.05" cy="299.06" r="1.50" fill="url(#gC)"/><circle cx="411.40" cy="299.21" r="1.50" fill="url(#gC)"/><circle cx="413.45" cy="303.05" r="1.50" fill="url(#gC)"/><circle cx="411.15" cy="306.74" r="1.50" fill="url(#gC)"/><circle cx="406.80" cy="306.59" r="1.50" fill="url(#gC)"/><circle cx="404.75" cy="302.75" r="1.50" fill="url(#gC)"/><circle cx="412.20" cy="262.84" r="1.50" fill="url(#gC)"/><circle cx="412.20" cy="265.29" r="1.50" fill="url(#gC)"/><circle cx="410.20" cy="269.15" r="1.50" fill="url(#gC)"/><circle cx="408.20" cy="270.56" r="1.50" fill="url(#gC)"/><circle cx="408.20" cy="268.11" r="1.50" fill="url(#gC)"/><circle cx="410.20" cy="264.25" r="1.50" fill="url(#gC)"/><circle cx="374.35" cy="284.20" r="1.50" fill="url(#gC)"/><circle cx="376.52" cy="280.43" r="1.50" fill="url(#gC)"/><circle cx="380.88" cy="280.43" r="1.50" fill="url(#gC)"/><circle cx="383.05" cy="284.20" r="1.50" fill="url(#gC)"/><circle cx="380.88" cy="287.97" r="1.50" fill="url(#gC)"/><circle cx="376.52" cy="287.97" r="1.50" fill="url(#gC)"/><circle cx="408.25" cy="341.89" r="1.50" fill="url(#gC)"/><circle cx="408.21" cy="339.44" r="1.50" fill="url(#gC)"/><circle cx="410.17" cy="335.55" r="1.50" fill="url(#gC)"/><circle cx="412.15" cy="334.11" r="1.50" fill="url(#gC)"/><circle cx="412.19" cy="336.56" r="1.50" fill="url(#gC)"/><circle cx="410.23" cy="340.45" r="1.50" fill="url(#gC)"/><circle cx="473.15" cy="341.78" r="1.50" fill="url(#gC)"/><circle cx="468.80" cy="341.75" r="1.50" fill="url(#gC)"/><circle cx="466.65" cy="337.97" r="1.50" fill="url(#gC)"/><circle cx="468.85" cy="334.22" r="1.50" fill="url(#gC)"/><circle cx="473.20" cy="334.25" r="1.50" fill="url(#gC)"/><circle cx="475.35" cy="338.03" r="1.50" fill="url(#gC)"/><circle cx="422.75" cy="250.43" r="1.50" fill="url(#gC)"/><circle cx="420.55" cy="254.18" r="1.50" fill="url(#gC)"/><circle cx="416.20" cy="254.15" r="1.50" fill="url(#gC)"/><circle cx="414.05" cy="250.37" r="1.50" fill="url(#gC)"/><circle cx="416.25" cy="246.62" r="1.50" fill="url(#gC)"/><circle cx="420.60" cy="246.65" r="1.50" fill="url(#gC)"/><circle cx="427.18" cy="250.07" r="1.50" fill="url(#gC)"/><circle cx="414.76" cy="257.28" r="1.50" fill="url(#gC)"/><circle cx="414.82" cy="244.10" r="1.50" fill="url(#gC)"/><circle cx="463.85" cy="251.73" r="1.50" fill="url(#gC)"/><circle cx="459.50" cy="251.81" r="1.50" fill="url(#gC)"/><circle cx="457.25" cy="248.08" r="1.50" fill="url(#gC)"/><circle cx="459.35" cy="244.27" r="1.50" fill="url(#gC)"/><circle cx="463.70" cy="244.19" r="1.50" fill="url(#gC)"/><circle cx="465.95" cy="247.92" r="1.50" fill="url(#gC)"/><circle cx="465.65" cy="255.75" r="1.50" fill="url(#gC)"/><circle cx="452.39" cy="248.40" r="1.50" fill="url(#gC)"/><circle cx="465.11" cy="241.65" r="1.50" fill="url(#gC)"/><circle cx="485.84" cy="283.34" r="1.50" fill="url(#gC)"/><circle cx="483.47" cy="286.98" r="1.50" fill="url(#gC)"/><circle cx="479.12" cy="286.74" r="1.50" fill="url(#gC)"/><circle cx="477.16" cy="282.86" r="1.50" fill="url(#gC)"/><circle cx="479.53" cy="279.22" r="1.50" fill="url(#gC)"/><circle cx="483.88" cy="279.46" r="1.50" fill="url(#gC)"/><circle cx="476.99" cy="290.38" r="1.50" fill="url(#gC)"/><circle cx="477.23" cy="276.07" r="1.50" fill="url(#gC)"/><circle cx="488.74" cy="283.50" r="1.50" fill="url(#gC)"/><circle cx="462.64" cy="323.03" r="1.50" fill="url(#gC)"/><circle cx="458.30" cy="323.11" r="1.50" fill="url(#gC)"/><circle cx="456.05" cy="319.38" r="1.50" fill="url(#gC)"/><circle cx="458.16" cy="315.57" r="1.50" fill="url(#gC)"/><circle cx="462.50" cy="315.49" r="1.50" fill="url(#gC)"/><circle cx="464.75" cy="319.22" r="1.50" fill="url(#gC)"/><circle cx="452.05" cy="319.75" r="1.50" fill="url(#gC)"/><circle cx="464.77" cy="311.48" r="1.50" fill="url(#gC)"/><circle cx="464.88" cy="327.05" r="1.50" fill="url(#gC)"/><circle cx="423.95" cy="319.22" r="1.50" fill="url(#gC)"/><circle cx="421.84" cy="323.03" r="1.50" fill="url(#gC)"/><circle cx="417.49" cy="323.10" r="1.50" fill="url(#gC)"/><circle cx="415.25" cy="319.38" r="1.50" fill="url(#gC)"/><circle cx="417.36" cy="315.57" r="1.50" fill="url(#gC)"/><circle cx="421.71" cy="315.50" r="1.50" fill="url(#gC)"/><circle cx="415.12" cy="312.39" r="1.50" fill="url(#gC)"/><circle cx="428.38" cy="319.65" r="1.50" fill="url(#gC)"/><circle cx="415.57" cy="327.07" r="1.50" fill="url(#gC)"/><circle cx="403.17" cy="280.49" r="1.50" fill="url(#gC)"/><circle cx="405.25" cy="284.31" r="1.50" fill="url(#gC)"/><circle cx="402.98" cy="288.02" r="1.50" fill="url(#gC)"/><circle cx="398.63" cy="287.91" r="1.50" fill="url(#gC)"/><circle cx="396.55" cy="284.09" r="1.50" fill="url(#gC)"/><circle cx="398.82" cy="280.38" r="1.50" fill="url(#gC)"/><circle cx="404.98" cy="276.92" r="1.50" fill="url(#gC)"/><circle cx="404.45" cy="291.99" r="1.50" fill="url(#gC)"/><circle cx="391.69" cy="284.13" r="1.50" fill="url(#gC)"/><circle cx="416.90" cy="300.60" r="1.50" fill="url(#gP)"/><circle cx="425.70" cy="300.20" r="1.50" fill="url(#gP)"/><circle cx="421.80" cy="308.20" r="1.50" fill="url(#gP)"/><circle cx="421.40" cy="303.40" r="1.50" fill="url(#gP)"/><circle cx="420.40" cy="299.80" r="1.50" fill="url(#gP)"/>
<path d="M621.35,245.62L619.33,249.47M619.33,249.47L614.98,249.66M614.98,249.66L612.65,245.98M612.65,245.98L614.67,242.13M614.67,242.13L619.02,241.94M619.02,241.94L621.35,245.62M651.57,266.25L647.22,266.47M647.22,266.47L644.86,262.82M644.86,262.82L646.83,258.95M646.83,258.95L651.18,258.73M651.18,258.73L653.54,262.38M653.54,262.38L651.57,266.25M648.99,303.96L646.65,300.29M646.65,300.29L648.66,296.43M648.66,296.43L653.01,296.24M653.01,296.24L655.35,299.91M655.35,299.91L653.34,303.77M653.34,303.77L648.99,303.96M613.45,319.80L615.62,316.03M615.62,316.03L619.97,316.03M619.97,316.03L622.15,319.80M622.15,319.80L619.97,323.57M619.97,323.57L615.62,323.57M615.62,323.57L613.45,319.80M584.65,298.01L586.64,299.45M586.64,299.45L588.59,303.34M588.59,303.34L588.55,305.79M588.55,305.79L586.56,304.35M586.56,304.35L584.61,300.46M584.61,300.46L584.65,298.01M588.70,260.59L590.95,264.31M590.95,264.31L588.85,268.12M588.85,268.12L584.50,268.21M584.50,268.21L582.25,264.49M582.25,264.49L584.35,260.68M584.35,260.68L588.70,260.59M550.15,283.14L552.29,281.94M552.29,281.94L556.64,281.80M556.64,281.80L558.85,282.86M558.85,282.86L556.71,284.06M556.71,284.06L552.36,284.20M552.36,284.20L550.15,283.14M584.48,341.50L582.25,337.76M582.25,337.76L584.37,333.96M584.37,333.96L588.72,333.90M588.72,333.90L590.95,337.64M590.95,337.64L588.83,341.44M588.83,341.44L584.48,341.50M651.30,341.51L646.96,341.43M646.96,341.43L644.85,337.62M644.85,337.62L647.10,333.89M647.10,333.89L651.44,333.97M651.44,333.97L653.55,337.78M653.55,337.78L651.30,341.51M599.95,246.60L597.69,250.32M597.69,250.32L593.34,250.22M593.34,250.22L591.25,246.40M591.25,246.40L593.51,242.68M593.51,242.68L597.86,242.78M597.86,242.78L599.95,246.60M599.95,246.60L604.52,246.38M593.34,250.22L591.67,253.95M593.51,242.68L592.12,240.14M640.81,248.38L636.47,248.55M636.47,248.55L634.15,244.86M634.15,244.86L636.19,241.02M636.19,241.02L640.53,240.85M640.53,240.85L642.85,244.54M642.85,244.54L640.81,248.38M640.81,248.38L642.98,252.19M634.15,244.86L629.54,245.13M640.53,240.85L641.89,238.29M666.05,280.56L663.82,284.30M663.82,284.30L659.47,284.24M659.47,284.24L657.35,280.44M657.35,280.44L659.58,276.70M659.58,276.70L663.93,276.76M663.93,276.76L666.05,280.56M659.47,284.24L657.14,288.56M659.58,276.70L656.69,272.94M666.05,280.56L668.95,280.60M642.52,317.86L644.65,321.65M644.65,321.65L642.43,325.39M642.43,325.39L638.08,325.34M638.08,325.34L635.95,321.55M635.95,321.55L638.17,317.81M638.17,317.81L642.52,317.86M635.95,321.55L630.98,320.92M642.52,317.86L644.85,312.86M642.43,325.39L644.11,328.45M599.95,321.60L597.78,325.37M597.78,325.37L593.43,325.37M593.43,325.37L591.25,321.60M591.25,321.60L593.42,317.83M593.42,317.83L597.77,317.83M597.77,317.83L599.95,321.60M593.42,317.83L591.67,313.50M599.95,321.60L604.81,320.95M593.43,325.37L591.73,328.44M578.08,278.54L580.25,282.31M580.25,282.31L578.07,286.07M578.07,286.07L573.72,286.06M573.72,286.06L571.55,282.29M571.55,282.29L573.73,278.53M573.73,278.53L578.08,278.54M578.08,278.54L580.39,274.82M578.07,286.07L580.44,290.37M571.55,282.29L566.98,282.49" stroke="#d68a16" stroke-width="1.25" fill="none"/><line x1="619.33" y1="249.47" x2="620.56" y2="251.41" stroke="#b8e8ee" stroke-width="1.00"/><line x1="614.98" y1="249.66" x2="613.92" y2="251.69" stroke="#b8e8ee" stroke-width="1.00"/><line x1="614.67" y1="242.13" x2="613.44" y2="240.19" stroke="#b8e8ee" stroke-width="1.00"/><line x1="619.02" y1="241.94" x2="620.08" y2="239.91" stroke="#b8e8ee" stroke-width="1.00"/><line x1="647.22" y1="266.47" x2="646.18" y2="268.52" stroke="#b8e8ee" stroke-width="1.00"/><line x1="644.86" y1="262.82" x2="642.56" y2="262.94" stroke="#b8e8ee" stroke-width="1.00"/><line x1="651.18" y1="258.73" x2="652.22" y2="256.68" stroke="#b8e8ee" stroke-width="1.00"/><line x1="653.54" y1="262.38" x2="655.84" y2="262.26" stroke="#b8e8ee" stroke-width="1.00"/><line x1="646.65" y1="300.29" x2="644.36" y2="300.39" stroke="#b8e8ee" stroke-width="1.00"/><line x1="648.66" y1="296.43" x2="647.43" y2="294.49" stroke="#b8e8ee" stroke-width="1.00"/><line x1="655.35" y1="299.91" x2="657.64" y2="299.81" stroke="#b8e8ee" stroke-width="1.00"/><line x1="653.34" y1="303.77" x2="654.57" y2="305.71" stroke="#b8e8ee" stroke-width="1.00"/><line x1="615.62" y1="316.03" x2="614.48" y2="314.04" stroke="#b8e8ee" stroke-width="1.00"/><line x1="619.97" y1="316.03" x2="621.12" y2="314.04" stroke="#b8e8ee" stroke-width="1.00"/><line x1="619.97" y1="323.57" x2="621.12" y2="325.56" stroke="#b8e8ee" stroke-width="1.00"/><line x1="615.62" y1="323.57" x2="614.48" y2="325.56" stroke="#b8e8ee" stroke-width="1.00"/><line x1="590.95" y1="264.31" x2="593.25" y2="264.26" stroke="#b8e8ee" stroke-width="1.00"/><line x1="588.85" y1="268.12" x2="590.04" y2="270.09" stroke="#b8e8ee" stroke-width="1.00"/><line x1="582.25" y1="264.49" x2="579.95" y2="264.54" stroke="#b8e8ee" stroke-width="1.00"/><line x1="584.35" y1="260.68" x2="583.16" y2="258.71" stroke="#b8e8ee" stroke-width="1.00"/><line x1="582.25" y1="337.76" x2="579.95" y2="337.79" stroke="#b8e8ee" stroke-width="1.00"/><line x1="584.37" y1="333.96" x2="583.20" y2="331.99" stroke="#b8e8ee" stroke-width="1.00"/><line x1="590.95" y1="337.64" x2="593.25" y2="337.61" stroke="#b8e8ee" stroke-width="1.00"/><line x1="588.83" y1="341.44" x2="590.00" y2="343.41" stroke="#b8e8ee" stroke-width="1.00"/><line x1="646.96" y1="341.43" x2="645.77" y2="343.40" stroke="#b8e8ee" stroke-width="1.00"/><line x1="644.85" y1="337.62" x2="642.55" y2="337.58" stroke="#b8e8ee" stroke-width="1.00"/><line x1="651.44" y1="333.97" x2="652.63" y2="332.00" stroke="#b8e8ee" stroke-width="1.00"/><line x1="653.55" y1="337.78" x2="655.85" y2="337.82" stroke="#b8e8ee" stroke-width="1.00"/><line x1="604.52" y1="246.38" x2="608.59" y2="246.18" stroke="#b4b8ee" stroke-width="1.00"/><line x1="608.59" y1="246.18" x2="612.65" y2="245.98" stroke="#b4b8ee" stroke-width="1.00"/><line x1="591.67" y1="253.95" x2="590.18" y2="257.27" stroke="#b4b8ee" stroke-width="1.00"/><line x1="590.18" y1="257.27" x2="588.70" y2="260.59" stroke="#b4b8ee" stroke-width="1.00"/><line x1="592.12" y1="240.14" x2="592.01" y2="237.34" stroke="#b4b8ee" stroke-width="1.00"/><line x1="597.69" y1="250.32" x2="598.94" y2="252.60" stroke="#e89098" stroke-width="1.00"/><line x1="591.25" y1="246.40" x2="588.65" y2="246.34" stroke="#e89098" stroke-width="1.00"/><line x1="597.86" y1="242.78" x2="599.21" y2="240.56" stroke="#e89098" stroke-width="1.00"/><line x1="642.98" y1="252.19" x2="644.91" y2="255.57" stroke="#b4b8ee" stroke-width="1.00"/><line x1="644.91" y1="255.57" x2="646.83" y2="258.95" stroke="#b4b8ee" stroke-width="1.00"/><line x1="629.54" y1="245.13" x2="625.44" y2="245.38" stroke="#b4b8ee" stroke-width="1.00"/><line x1="625.44" y1="245.38" x2="621.35" y2="245.62" stroke="#b4b8ee" stroke-width="1.00"/><line x1="641.89" y1="238.29" x2="643.11" y2="235.77" stroke="#b4b8ee" stroke-width="1.00"/><line x1="636.47" y1="248.55" x2="635.25" y2="250.84" stroke="#e89098" stroke-width="1.00"/><line x1="636.19" y1="241.02" x2="634.80" y2="238.82" stroke="#e89098" stroke-width="1.00"/><line x1="642.85" y1="244.54" x2="645.45" y2="244.44" stroke="#e89098" stroke-width="1.00"/><line x1="657.14" y1="288.56" x2="655.08" y2="292.40" stroke="#b4b8ee" stroke-width="1.00"/><line x1="655.08" y1="292.40" x2="653.01" y2="296.24" stroke="#b4b8ee" stroke-width="1.00"/><line x1="656.69" y1="272.94" x2="654.13" y2="269.60" stroke="#b4b8ee" stroke-width="1.00"/><line x1="654.13" y1="269.60" x2="651.57" y2="266.25" stroke="#b4b8ee" stroke-width="1.00"/><line x1="668.95" y1="280.60" x2="671.55" y2="281.64" stroke="#b4b8ee" stroke-width="1.00"/><line x1="663.82" y1="284.30" x2="665.09" y2="286.57" stroke="#e89098" stroke-width="1.00"/><line x1="657.35" y1="280.44" x2="654.75" y2="280.40" stroke="#e89098" stroke-width="1.00"/><line x1="663.93" y1="276.76" x2="665.26" y2="274.53" stroke="#e89098" stroke-width="1.00"/><line x1="630.98" y1="320.92" x2="626.57" y2="320.36" stroke="#b4b8ee" stroke-width="1.00"/><line x1="626.57" y1="320.36" x2="622.15" y2="319.80" stroke="#b4b8ee" stroke-width="1.00"/><line x1="644.85" y1="312.86" x2="646.92" y2="308.41" stroke="#b4b8ee" stroke-width="1.00"/><line x1="646.92" y1="308.41" x2="648.99" y2="303.96" stroke="#b4b8ee" stroke-width="1.00"/><line x1="644.11" y1="328.45" x2="645.60" y2="331.17" stroke="#b4b8ee" stroke-width="1.00"/><line x1="645.60" y1="331.17" x2="647.10" y2="333.89" stroke="#b4b8ee" stroke-width="1.00"/><line x1="644.65" y1="321.65" x2="647.25" y2="321.69" stroke="#e89098" stroke-width="1.00"/><line x1="638.08" y1="325.34" x2="636.75" y2="327.58" stroke="#e89098" stroke-width="1.00"/><line x1="638.17" y1="317.81" x2="636.90" y2="315.54" stroke="#e89098" stroke-width="1.00"/><line x1="591.67" y1="313.50" x2="590.11" y2="309.64" stroke="#b4b8ee" stroke-width="1.00"/><line x1="590.11" y1="309.64" x2="588.55" y2="305.79" stroke="#b4b8ee" stroke-width="1.00"/><line x1="604.81" y1="320.95" x2="609.13" y2="320.38" stroke="#b4b8ee" stroke-width="1.00"/><line x1="609.13" y1="320.38" x2="613.45" y2="319.80" stroke="#b4b8ee" stroke-width="1.00"/><line x1="591.73" y1="328.44" x2="590.23" y2="331.17" stroke="#b4b8ee" stroke-width="1.00"/><line x1="590.23" y1="331.17" x2="588.72" y2="333.90" stroke="#b4b8ee" stroke-width="1.00"/><line x1="597.78" y1="325.37" x2="599.08" y2="327.62" stroke="#e89098" stroke-width="1.00"/><line x1="591.25" y1="321.60" x2="588.65" y2="321.60" stroke="#e89098" stroke-width="1.00"/><line x1="597.77" y1="317.83" x2="599.07" y2="315.58" stroke="#e89098" stroke-width="1.00"/><line x1="580.39" y1="274.82" x2="582.45" y2="271.52" stroke="#b4b8ee" stroke-width="1.00"/><line x1="582.45" y1="271.52" x2="584.50" y2="268.21" stroke="#b4b8ee" stroke-width="1.00"/><line x1="580.44" y1="290.37" x2="582.54" y2="294.19" stroke="#b4b8ee" stroke-width="1.00"/><line x1="582.54" y1="294.19" x2="584.65" y2="298.01" stroke="#b4b8ee" stroke-width="1.00"/><line x1="566.98" y1="282.49" x2="562.91" y2="282.68" stroke="#b4b8ee" stroke-width="1.00"/><line x1="562.91" y1="282.68" x2="558.85" y2="282.86" stroke="#b4b8ee" stroke-width="1.00"/><line x1="580.25" y1="282.31" x2="582.85" y2="282.31" stroke="#e89098" stroke-width="1.00"/><line x1="573.72" y1="286.06" x2="572.41" y2="288.31" stroke="#e89098" stroke-width="1.00"/><line x1="573.73" y1="278.53" x2="572.44" y2="276.27" stroke="#e89098" stroke-width="1.00"/><line x1="597.60" y1="303.50" x2="593.10" y2="300.70" stroke="#a9a9a9" stroke-width="2.12"/><line x1="597.60" y1="303.50" x2="601.90" y2="300.30" stroke="#a9a9a9" stroke-width="2.12"/><line x1="597.60" y1="303.50" x2="598.00" y2="308.30" stroke="#a9a9a9" stroke-width="2.12"/><line x1="596.60" y1="299.90" x2="593.10" y2="300.70" stroke="#a9a9a9" stroke-width="2.12"/><line x1="596.60" y1="299.90" x2="601.90" y2="300.30" stroke="#a9a9a9" stroke-width="2.12"/><line x1="596.60" y1="299.90" x2="597.60" y2="303.50" stroke="#a9a9a9" stroke-width="2.12"/><circle cx="620.56" cy="251.41" r="1.00" fill="url(#gH)"/><circle cx="613.92" cy="251.69" r="1.00" fill="url(#gH)"/><circle cx="613.44" cy="240.19" r="1.00" fill="url(#gH)"/><circle cx="620.08" cy="239.91" r="1.00" fill="url(#gH)"/><circle cx="646.18" cy="268.52" r="1.00" fill="url(#gH)"/><circle cx="642.56" cy="262.94" r="1.00" fill="url(#gH)"/><circle cx="652.22" cy="256.68" r="1.00" fill="url(#gH)"/><circle cx="655.84" cy="262.26" r="1.00" fill="url(#gH)"/><circle cx="644.36" cy="300.39" r="1.00" fill="url(#gH)"/><circle cx="647.43" cy="294.49" r="1.00" fill="url(#gH)"/><circle cx="657.64" cy="299.81" r="1.00" fill="url(#gH)"/><circle cx="654.57" cy="305.71" r="1.00" fill="url(#gH)"/><circle cx="614.48" cy="314.04" r="1.00" fill="url(#gH)"/><circle cx="621.12" cy="314.04" r="1.00" fill="url(#gH)"/><circle cx="621.12" cy="325.56" r="1.00" fill="url(#gH)"/><circle cx="614.48" cy="325.56" r="1.00" fill="url(#gH)"/><circle cx="593.25" cy="264.26" r="1.00" fill="url(#gH)"/><circle cx="590.04" cy="270.09" r="1.00" fill="url(#gH)"/><circle cx="579.95" cy="264.54" r="1.00" fill="url(#gH)"/><circle cx="583.16" cy="258.71" r="1.00" fill="url(#gH)"/><circle cx="579.95" cy="337.79" r="1.00" fill="url(#gH)"/><circle cx="583.20" cy="331.99" r="1.00" fill="url(#gH)"/><circle cx="593.25" cy="337.61" r="1.00" fill="url(#gH)"/><circle cx="590.00" cy="343.41" r="1.00" fill="url(#gH)"/><circle cx="645.77" cy="343.40" r="1.00" fill="url(#gH)"/><circle cx="642.55" cy="337.58" r="1.00" fill="url(#gH)"/><circle cx="652.63" cy="332.00" r="1.00" fill="url(#gH)"/><circle cx="655.85" cy="337.82" r="1.00" fill="url(#gH)"/><circle cx="587.44" cy="244.75" r="1.00" fill="url(#gH)"/><circle cx="635.47" cy="236.93" r="1.00" fill="url(#gH)"/><circle cx="653.53" cy="278.82" r="1.00" fill="url(#gH)"/><circle cx="634.77" cy="327.84" r="1.00" fill="url(#gH)"/><circle cx="587.41" cy="320.03" r="1.00" fill="url(#gH)"/><circle cx="570.43" cy="288.60" r="1.00" fill="url(#gH)"/><circle cx="547.55" cy="283.23" r="1.40" fill="url(#gN)"/><circle cx="583.21" cy="343.77" r="1.40" fill="url(#gN)"/><circle cx="652.56" cy="343.78" r="1.40" fill="url(#gN)"/><circle cx="608.59" cy="246.18" r="1.40" fill="url(#gN)"/><circle cx="590.18" cy="257.27" r="1.40" fill="url(#gN)"/><circle cx="592.01" cy="237.34" r="1.40" fill="url(#gN)"/><circle cx="598.94" cy="252.60" r="1.45" fill="url(#gO)"/><circle cx="588.65" cy="246.34" r="1.45" fill="url(#gO)"/><circle cx="599.21" cy="240.56" r="1.45" fill="url(#gO)"/><circle cx="644.91" cy="255.57" r="1.40" fill="url(#gN)"/><circle cx="625.44" cy="245.38" r="1.40" fill="url(#gN)"/><circle cx="643.11" cy="235.77" r="1.40" fill="url(#gN)"/><circle cx="635.25" cy="250.84" r="1.45" fill="url(#gO)"/><circle cx="634.80" cy="238.82" r="1.45" fill="url(#gO)"/><circle cx="645.45" cy="244.44" r="1.45" fill="url(#gO)"/><circle cx="655.08" cy="292.40" r="1.40" fill="url(#gN)"/><circle cx="654.13" cy="269.60" r="1.40" fill="url(#gN)"/><circle cx="671.55" cy="281.64" r="1.40" fill="url(#gN)"/><circle cx="665.09" cy="286.57" r="1.45" fill="url(#gO)"/><circle cx="654.75" cy="280.40" r="1.45" fill="url(#gO)"/><circle cx="665.26" cy="274.53" r="1.45" fill="url(#gO)"/><circle cx="626.57" cy="320.36" r="1.40" fill="url(#gN)"/><circle cx="646.92" cy="308.41" r="1.40" fill="url(#gN)"/><circle cx="645.60" cy="331.17" r="1.40" fill="url(#gN)"/><circle cx="647.25" cy="321.69" r="1.45" fill="url(#gO)"/><circle cx="636.75" cy="327.58" r="1.45" fill="url(#gO)"/><circle cx="636.90" cy="315.54" r="1.45" fill="url(#gO)"/><circle cx="590.11" cy="309.64" r="1.40" fill="url(#gN)"/><circle cx="609.13" cy="320.38" r="1.40" fill="url(#gN)"/><circle cx="590.23" cy="331.17" r="1.40" fill="url(#gN)"/><circle cx="599.08" cy="327.62" r="1.45" fill="url(#gO)"/><circle cx="588.65" cy="321.60" r="1.45" fill="url(#gO)"/><circle cx="599.07" cy="315.58" r="1.45" fill="url(#gO)"/><circle cx="582.45" cy="271.52" r="1.40" fill="url(#gN)"/><circle cx="582.54" cy="294.19" r="1.40" fill="url(#gN)"/><circle cx="562.91" cy="282.68" r="1.40" fill="url(#gN)"/><circle cx="582.85" cy="282.31" r="1.45" fill="url(#gO)"/><circle cx="572.41" cy="288.31" r="1.45" fill="url(#gO)"/><circle cx="572.44" cy="276.27" r="1.45" fill="url(#gO)"/><circle cx="621.35" cy="245.62" r="1.50" fill="url(#gC)"/><circle cx="619.33" cy="249.47" r="1.50" fill="url(#gC)"/><circle cx="614.98" cy="249.66" r="1.50" fill="url(#gC)"/><circle cx="612.65" cy="245.98" r="1.50" fill="url(#gC)"/><circle cx="614.67" cy="242.13" r="1.50" fill="url(#gC)"/><circle cx="619.02" cy="241.94" r="1.50" fill="url(#gC)"/><circle cx="651.57" cy="266.25" r="1.50" fill="url(#gC)"/><circle cx="647.22" cy="266.47" r="1.50" fill="url(#gC)"/><circle cx="644.86" cy="262.82" r="1.50" fill="url(#gC)"/><circle cx="646.83" cy="258.95" r="1.50" fill="url(#gC)"/><circle cx="651.18" cy="258.73" r="1.50" fill="url(#gC)"/><circle cx="653.54" cy="262.38" r="1.50" fill="url(#gC)"/><circle cx="648.99" cy="303.96" r="1.50" fill="url(#gC)"/><circle cx="646.65" cy="300.29" r="1.50" fill="url(#gC)"/><circle cx="648.66" cy="296.43" r="1.50" fill="url(#gC)"/><circle cx="653.01" cy="296.24" r="1.50" fill="url(#gC)"/><circle cx="655.35" cy="299.91" r="1.50" fill="url(#gC)"/><circle cx="653.34" cy="303.77" r="1.50" fill="url(#gC)"/><circle cx="613.45" cy="319.80" r="1.50" fill="url(#gC)"/><circle cx="615.62" cy="316.03" r="1.50" fill="url(#gC)"/><circle cx="619.97" cy="316.03" r="1.50" fill="url(#gC)"/><circle cx="622.15" cy="319.80" r="1.50" fill="url(#gC)"/><circle cx="619.97" cy="323.57" r="1.50" fill="url(#gC)"/><circle cx="615.62" cy="323.57" r="1.50" fill="url(#gC)"/><circle cx="584.65" cy="298.01" r="1.50" fill="url(#gC)"/><circle cx="586.64" cy="299.45" r="1.50" fill="url(#gC)"/><circle cx="588.59" cy="303.34" r="1.50" fill="url(#gC)"/><circle cx="588.55" cy="305.79" r="1.50" fill="url(#gC)"/><circle cx="586.56" cy="304.35" r="1.50" fill="url(#gC)"/><circle cx="584.61" cy="300.46" r="1.50" fill="url(#gC)"/><circle cx="588.70" cy="260.59" r="1.50" fill="url(#gC)"/><circle cx="590.95" cy="264.31" r="1.50" fill="url(#gC)"/><circle cx="588.85" cy="268.12" r="1.50" fill="url(#gC)"/><circle cx="584.50" cy="268.21" r="1.50" fill="url(#gC)"/><circle cx="582.25" cy="264.49" r="1.50" fill="url(#gC)"/><circle cx="584.35" cy="260.68" r="1.50" fill="url(#gC)"/><circle cx="550.15" cy="283.14" r="1.50" fill="url(#gC)"/><circle cx="552.29" cy="281.94" r="1.50" fill="url(#gC)"/><circle cx="556.64" cy="281.80" r="1.50" fill="url(#gC)"/><circle cx="558.85" cy="282.86" r="1.50" fill="url(#gC)"/><circle cx="556.71" cy="284.06" r="1.50" fill="url(#gC)"/><circle cx="552.36" cy="284.20" r="1.50" fill="url(#gC)"/><circle cx="584.48" cy="341.50" r="1.50" fill="url(#gC)"/><circle cx="582.25" cy="337.76" r="1.50" fill="url(#gC)"/><circle cx="584.37" cy="333.96" r="1.50" fill="url(#gC)"/><circle cx="588.72" cy="333.90" r="1.50" fill="url(#gC)"/><circle cx="590.95" cy="337.64" r="1.50" fill="url(#gC)"/><circle cx="588.83" cy="341.44" r="1.50" fill="url(#gC)"/><circle cx="651.30" cy="341.51" r="1.50" fill="url(#gC)"/><circle cx="646.96" cy="341.43" r="1.50" fill="url(#gC)"/><circle cx="644.85" cy="337.62" r="1.50" fill="url(#gC)"/><circle cx="647.10" cy="333.89" r="1.50" fill="url(#gC)"/><circle cx="651.44" cy="333.97" r="1.50" fill="url(#gC)"/><circle cx="653.55" cy="337.78" r="1.50" fill="url(#gC)"/><circle cx="599.95" cy="246.60" r="1.50" fill="url(#gC)"/><circle cx="597.69" cy="250.32" r="1.50" fill="url(#gC)"/><circle cx="593.34" cy="250.22" r="1.50" fill="url(#gC)"/><circle cx="591.25" cy="246.40" r="1.50" fill="url(#gC)"/><circle cx="593.51" cy="242.68" r="1.50" fill="url(#gC)"/><circle cx="597.86" cy="242.78" r="1.50" fill="url(#gC)"/><circle cx="604.52" cy="246.38" r="1.50" fill="url(#gC)"/><circle cx="591.67" cy="253.95" r="1.50" fill="url(#gC)"/><circle cx="592.12" cy="240.14" r="1.50" fill="url(#gC)"/><circle cx="640.81" cy="248.38" r="1.50" fill="url(#gC)"/><circle cx="636.47" cy="248.55" r="1.50" fill="url(#gC)"/><circle cx="634.15" cy="244.86" r="1.50" fill="url(#gC)"/><circle cx="636.19" cy="241.02" r="1.50" fill="url(#gC)"/><circle cx="640.53" cy="240.85" r="1.50" fill="url(#gC)"/><circle cx="642.85" cy="244.54" r="1.50" fill="url(#gC)"/><circle cx="642.98" cy="252.19" r="1.50" fill="url(#gC)"/><circle cx="629.54" cy="245.13" r="1.50" fill="url(#gC)"/><circle cx="641.89" cy="238.29" r="1.50" fill="url(#gC)"/><circle cx="666.05" cy="280.56" r="1.50" fill="url(#gC)"/><circle cx="663.82" cy="284.30" r="1.50" fill="url(#gC)"/><circle cx="659.47" cy="284.24" r="1.50" fill="url(#gC)"/><circle cx="657.35" cy="280.44" r="1.50" fill="url(#gC)"/><circle cx="659.58" cy="276.70" r="1.50" fill="url(#gC)"/><circle cx="663.93" cy="276.76" r="1.50" fill="url(#gC)"/><circle cx="657.14" cy="288.56" r="1.50" fill="url(#gC)"/><circle cx="656.69" cy="272.94" r="1.50" fill="url(#gC)"/><circle cx="668.95" cy="280.60" r="1.50" fill="url(#gC)"/><circle cx="642.52" cy="317.86" r="1.50" fill="url(#gC)"/><circle cx="644.65" cy="321.65" r="1.50" fill="url(#gC)"/><circle cx="642.43" cy="325.39" r="1.50" fill="url(#gC)"/><circle cx="638.08" cy="325.34" r="1.50" fill="url(#gC)"/><circle cx="635.95" cy="321.55" r="1.50" fill="url(#gC)"/><circle cx="638.17" cy="317.81" r="1.50" fill="url(#gC)"/><circle cx="630.98" cy="320.92" r="1.50" fill="url(#gC)"/><circle cx="644.85" cy="312.86" r="1.50" fill="url(#gC)"/><circle cx="644.11" cy="328.45" r="1.50" fill="url(#gC)"/><circle cx="599.95" cy="321.60" r="1.50" fill="url(#gC)"/><circle cx="597.78" cy="325.37" r="1.50" fill="url(#gC)"/><circle cx="593.43" cy="325.37" r="1.50" fill="url(#gC)"/><circle cx="591.25" cy="321.60" r="1.50" fill="url(#gC)"/><circle cx="593.42" cy="317.83" r="1.50" fill="url(#gC)"/><circle cx="597.77" cy="317.83" r="1.50" fill="url(#gC)"/><circle cx="591.67" cy="313.50" r="1.50" fill="url(#gC)"/><circle cx="604.81" cy="320.95" r="1.50" fill="url(#gC)"/><circle cx="591.73" cy="328.44" r="1.50" fill="url(#gC)"/><circle cx="578.08" cy="278.54" r="1.50" fill="url(#gC)"/><circle cx="580.25" cy="282.31" r="1.50" fill="url(#gC)"/><circle cx="578.07" cy="286.07" r="1.50" fill="url(#gC)"/><circle cx="573.72" cy="286.06" r="1.50" fill="url(#gC)"/><circle cx="571.55" cy="282.29" r="1.50" fill="url(#gC)"/><circle cx="573.73" cy="278.53" r="1.50" fill="url(#gC)"/><circle cx="580.39" cy="274.82" r="1.50" fill="url(#gC)"/><circle cx="580.44" cy="290.37" r="1.50" fill="url(#gC)"/><circle cx="566.98" cy="282.49" r="1.50" fill="url(#gC)"/><circle cx="593.10" cy="300.70" r="1.50" fill="url(#gP)"/><circle cx="601.90" cy="300.30" r="1.50" fill="url(#gP)"/><circle cx="598.00" cy="308.30" r="1.50" fill="url(#gP)"/><circle cx="597.60" cy="303.50" r="1.50" fill="url(#gP)"/><circle cx="596.60" cy="299.90" r="1.50" fill="url(#gP)"/>
<path d="M29.6,279 V274.6 H147.4 V345.4 H141.5" fill="none" stroke="#1530f0" stroke-width="1.3" stroke-dasharray="2.2,2.2"/>
<path d="M29.8,270.5 L29.8,259.4 L28.2,259.4 L34.3,248.2 L40.4,259.4 L38.8,259.4 L38.8,270.5 Z" fill="url(#uup)" stroke="none" stroke-width="1" />
<path d="M150.8,337.2 L162.7,337.2 L162.7,335.6 L172.6,341.9 L162.7,348.2 L162.7,347 L150.8,347 Z" fill="url(#urt)" stroke="none" stroke-width="1" />
<text x="23.3" y="249" font-family="Liberation Serif, serif" font-size="13.5" font-weight="bold" fill="#2222dd">u<tspan font-size="10" font-style="italic" font-weight="normal" dy="-5">nano</tspan></text>
<text x="148.5" y="359.5" font-family="Liberation Serif, serif" font-size="13.5" font-weight="bold" fill="#2222dd">u<tspan font-size="10" font-style="italic" font-weight="normal" dy="-5">nano</tspan></text>
<path d="M160.5,290.7 L176.16,295.1 L176.16,289.5 L187.5,300.5 L176.16,311.5 L176.16,306.3 L160.5,310.1 Z" fill="url(#oa1)" stroke="none" stroke-width="1" />
<path d="M333.3,290.7 L348.79,295.1 L348.79,289.5 L360,300.5 L348.79,311.5 L348.79,306.3 L333.3,310.1 Z" fill="url(#oa2)" stroke="none" stroke-width="1" />
<path d="M510.8,290.7 L526.17,295.1 L526.17,289.5 L537.3,300.5 L526.17,311.5 L526.17,306.3 L510.8,310.1 Z" fill="url(#oa3)" stroke="none" stroke-width="1" />
<text x="89.30" y="233.30" font-size="10.5" text-anchor="middle" font-weight="normal" fill="#1a1a1a" >0 L/min</text>
<text x="260.50" y="233.30" font-size="10.5" text-anchor="middle" font-weight="normal" fill="#1a1a1a" >20 L/min</text>
<text x="434.30" y="233.30" font-size="10.5" text-anchor="middle" font-weight="normal" fill="#1a1a1a" >30 L/min</text>
<text x="613.50" y="233.30" font-size="10.5" text-anchor="middle" font-weight="normal" fill="#1a1a1a" >40 L/min</text>
<text x="298.60" y="253.40" font-size="10.9" text-anchor="start" font-weight="normal" fill="#1a1a1a" >Dynamic restructuring</text>
<text x="83.6" y="361" font-size="10.5" text-anchor="middle" fill="#1a1a1a">Δd=0%, <tspan font-weight="bold" fill="#1f2be0">u</tspan>=0 Å</text>
<text x="259" y="361" font-size="10.5" text-anchor="middle" fill="#1a1a1a">Δd=5%, <tspan font-weight="bold" fill="#1f2be0">u</tspan>=1.13 Å</text>
<text x="434.3" y="361" font-size="10.5" text-anchor="middle" fill="#1a1a1a">Δd=7%, <tspan font-weight="bold" fill="#1f2be0">u</tspan>=1.58 Å</text>
<text x="611.7" y="361" font-size="10.5" text-anchor="middle" fill="#1a1a1a">Δd=9%, <tspan font-weight="bold" fill="#1f2be0">u</tspan>=2.13 Å</text>
<circle cx="509.7" cy="373.5" r="4.6" fill="url(#gC)"/>
<text x="518.20" y="377.30" font-size="10.5" text-anchor="start" font-weight="normal" fill="#1a1a1a" >C</text>
<circle cx="543.7" cy="373.5" r="4.6" fill="url(#gH)"/>
<text x="552.20" y="377.30" font-size="10.5" text-anchor="start" font-weight="normal" fill="#1a1a1a" >H</text>
<circle cx="576.6" cy="373.5" r="4.6" fill="url(#gO)"/>
<text x="585.10" y="377.30" font-size="10.5" text-anchor="start" font-weight="normal" fill="#1a1a1a" >O</text>
<circle cx="611" cy="373.5" r="4.6" fill="url(#gN)"/>
<text x="619.50" y="377.30" font-size="10.5" text-anchor="start" font-weight="normal" fill="#1a1a1a" >N</text>
<circle cx="645.6" cy="373.5" r="4.6" fill="url(#gP)"/>
<text x="654.10" y="377.30" font-size="10.5" text-anchor="start" font-weight="normal" fill="#1a1a1a" >Pt</text>
<text x="1.20" y="401.90" font-size="14" text-anchor="start" font-weight="bold" fill="#000" >d</text>
<rect x="169.40" y="396.70" width="12.60" height="121.40" fill="#bcdfde" stroke="none" stroke-width="1" />
<path d="M83.66,518.10V516.90M95.04,518.10V517.61M95.89,518.10V515.66M96.52,518.10V515.10M97.29,518.10V517.17M97.97,518.10V516.86M98.73,518.10V513.34M99.60,518.10V514.31M100.39,518.10V517.55M102.14,518.10V517.15M102.77,518.10V515.55M103.42,518.10V517.36M104.31,518.10V517.20M105.01,518.10V517.40M105.83,518.10V514.75M108.62,518.10V516.90M109.35,518.10V516.21M109.93,518.10V515.23M110.55,518.10V517.34M111.15,518.10V517.65M111.81,518.10V515.22M112.49,518.10V517.05M113.27,518.10V516.64M114.04,518.10V515.14M114.74,518.10V516.12M115.39,518.10V514.83M116.13,518.10V517.54M116.89,518.10V517.38M117.66,518.10V517.20M118.37,518.10V514.44M119.17,518.10V507.34M119.74,518.10V513.45M120.38,518.10V514.82M121.04,518.10V514.94M121.72,518.10V511.79M122.40,518.10V495.84M123.15,518.10V510.44M123.78,518.10V511.30M124.39,518.10V515.92M124.98,518.10V517.06M125.82,518.10V517.44M126.43,518.10V517.17M127.29,518.10V516.14M127.88,518.10V515.13M128.72,518.10V511.83M129.36,518.10V512.58M130.19,518.10V509.98M130.85,518.10V513.56M131.52,518.10V516.28M132.21,518.10V509.93M132.76,518.10V513.41M133.66,518.10V516.61M134.53,518.10V517.24M135.38,518.10V516.00M136.03,518.10V516.96M136.60,518.10V514.56M137.43,518.10V516.10M138.23,518.10V502.71M139.09,518.10V496.96M139.90,518.10V515.57M140.69,518.10V513.52M141.56,518.10V513.48M142.20,518.10V511.26M143.03,518.10V516.20M143.76,518.10V513.70M144.59,518.10V511.50M145.43,518.10V516.53M146.28,518.10V516.10M146.92,518.10V512.32M147.64,518.10V494.18M148.21,518.10V499.23M148.78,518.10V500.31M149.36,518.10V512.17M150.02,518.10V514.64M150.78,518.10V515.39M151.44,518.10V516.85M152.24,518.10V508.00M152.86,518.10V515.23M153.68,518.10V514.81M154.45,518.10V514.61M155.17,518.10V512.01M155.97,518.10V514.34M156.70,518.10V502.10M157.40,518.10V514.29M158.28,518.10V514.22M159.11,518.10V513.81M159.70,518.10V500.62M160.56,518.10V496.39M161.37,518.10V464.38M162.12,518.10V471.35M162.94,518.10V471.10M163.53,518.10V477.37M164.09,518.10V436.77M164.93,518.10V482.75M165.82,518.10V489.71M166.38,518.10V477.20M167.18,518.10V507.84M168.06,518.10V507.89M168.80,518.10V469.59M169.42,518.10V505.27M170.23,518.10V501.92M170.92,518.10V505.75M171.50,518.10V504.14M172.19,518.10V499.87M172.98,518.10V493.63M173.71,518.10V501.58M174.58,518.10V464.83M175.39,518.10V471.24M176.10,518.10V485.20M176.74,518.10V507.42M177.40,518.10V507.65M178.28,518.10V507.75M178.98,518.10V487.66M179.62,518.10V482.28M180.34,518.10V509.38M181.02,518.10V509.35M181.62,518.10V478.22M182.38,518.10V505.39M183.21,518.10V504.36M184.01,518.10V498.79M184.82,518.10V504.11M185.45,518.10V514.93M186.24,518.10V502.43M186.87,518.10V514.86M187.49,518.10V507.86M188.35,518.10V514.30M189.01,518.10V512.57M189.59,518.10V515.30M190.25,518.10V513.78M191.03,518.10V515.57M191.73,518.10V511.56M192.49,518.10V498.94M193.23,518.10V514.32M194.01,518.10V514.11M194.88,518.10V513.92M195.56,518.10V502.87M196.22,518.10V508.00M197.05,518.10V515.12M197.93,518.10V510.86M198.52,518.10V513.35M199.32,518.10V511.17M199.94,518.10V511.81M200.55,518.10V506.76M201.14,518.10V493.76M201.81,518.10V506.79M202.55,518.10V506.81M203.21,518.10V494.83M204.01,518.10V505.55M204.82,518.10V513.65M205.51,518.10V494.36M206.23,518.10V514.85M206.91,518.10V514.29M207.65,518.10V508.16M208.49,518.10V515.16M209.08,518.10V514.84M209.88,518.10V514.00M210.58,518.10V502.76M211.39,518.10V482.91M212.08,518.10V513.29M212.83,518.10V513.83M213.65,518.10V515.12M214.52,518.10V500.78M215.26,518.10V509.90M216.15,518.10V508.05M217.00,518.10V511.83M217.81,518.10V515.30M218.59,518.10V510.72M219.30,518.10V513.87M219.86,518.10V509.13M220.57,518.10V506.76M221.43,518.10V513.42M222.20,518.10V513.89M222.83,518.10V513.90M223.70,518.10V513.11" fill="none" stroke="#b6b6b6" stroke-width="0.6" />
<path d="M43.50,518.00 C44.83,518.00 49.87,518.10 51.50,518.00 C53.13,517.58 52.72,515.50 53.30,515.50 C53.88,515.50 50.55,517.58 55.00,518.00 C59.45,518.10 75.52,518.00 80.00,518.00 C84.48,518.00 81.33,518.10 81.90,518.00 C82.47,517.55 82.90,515.30 83.40,515.30 C83.90,515.30 83.47,517.63 84.90,518.00 C86.33,518.10 90.32,517.87 92.00,517.50 C93.68,517.13 93.82,517.25 95.00,515.80 C96.18,514.35 98.03,508.62 99.10,508.80 C100.17,508.98 100.57,516.90 101.40,516.90 C102.23,516.90 103.22,508.70 104.10,508.80 C104.98,508.90 105.48,516.73 106.70,517.50 C107.92,518.10 109.85,514.18 111.40,513.40 C112.95,512.62 114.55,514.35 116.00,512.80 C117.45,511.25 119.03,507.30 120.10,504.10 C121.17,500.90 121.48,491.65 122.40,493.60 C123.32,495.55 124.62,513.95 125.60,515.80 C126.58,517.65 127.17,505.68 128.30,504.70 C129.43,503.72 131.13,508.63 132.40,509.90 C133.67,511.17 134.90,515.70 135.90,512.30 C136.90,508.90 137.53,491.25 138.40,489.50 C139.27,487.75 140.17,498.50 141.10,501.80 C142.03,505.10 142.77,511.65 144.00,509.30 C145.23,506.95 147.23,487.98 148.50,487.70 C149.77,487.42 150.78,505.65 151.60,507.60 C152.42,509.55 152.82,500.37 153.40,499.40 C153.98,498.43 154.32,502.00 155.10,501.80 C155.88,501.60 157.22,503.07 158.10,498.20 C158.98,493.33 159.75,482.27 160.40,472.60 C161.05,462.93 161.50,445.15 162.00,440.20 C162.50,435.25 162.88,447.25 163.40,442.90 C163.92,438.55 164.55,417.33 165.10,414.10 C165.65,410.87 166.10,423.28 166.70,423.50 C167.30,423.72 168.07,413.73 168.70,415.40 C169.33,417.07 169.93,423.57 170.50,433.50 C171.07,443.43 171.50,474.10 172.10,475.00 C172.70,475.90 173.32,446.37 174.10,438.90 C174.88,431.43 176.07,428.20 176.80,430.20 C177.53,432.20 177.95,443.87 178.50,450.90 C179.05,457.93 179.57,471.73 180.10,472.40 C180.63,473.07 181.13,455.35 181.70,454.90 C182.27,454.45 182.98,463.00 183.50,469.70 C184.02,476.40 184.25,491.53 184.80,495.10 C185.35,498.67 186.13,491.98 186.80,491.10 C187.47,490.22 188.13,489.35 188.80,489.80 C189.47,490.25 190.07,494.92 190.80,493.80 C191.53,492.68 192.48,485.78 193.20,483.10 C193.92,480.42 194.48,475.47 195.10,477.70 C195.72,479.93 196.05,492.92 196.90,496.50 C197.75,500.08 199.20,501.67 200.20,499.20 C201.20,496.73 202.12,482.82 202.90,481.70 C203.68,480.58 204.12,490.27 204.90,492.50 C205.68,494.73 206.48,498.02 207.60,495.10 C208.72,492.18 210.60,476.12 211.60,475.00 C212.60,473.88 212.60,485.72 213.60,488.40 C214.60,491.08 216.37,493.33 217.60,491.10 C218.83,488.87 220.10,477.23 221.00,475.00 C221.90,472.77 222.45,474.57 223.00,477.70 C223.55,480.83 223.75,487.10 224.30,493.80 C224.85,500.50 223.75,513.88 226.30,517.90 C228.85,518.10 237.38,517.90 239.60,517.90" fill="none" stroke="#e8666e" stroke-width="1.5" />
<rect x="175.70" y="481.68" width="2.20" height="36.42" fill="#6a10e0" stroke="none" stroke-width="1" />
<rect x="43.50" y="396.70" width="196.10" height="121.40" fill="none" stroke="#333" stroke-width="0.9" />
<line x1="43.50" y1="396.70" x2="46.50" y2="396.70" stroke="#333" stroke-width="0.8" />
<line x1="236.60" y1="396.70" x2="239.60" y2="396.70" stroke="#333" stroke-width="0.8" />
<text x="40.00" y="400.10" font-size="10" text-anchor="end" font-weight="normal" fill="#1a1a1a" >4</text>
<text x="243.40" y="400.10" font-size="10" text-anchor="start" font-weight="normal" fill="#1a1a1a" >0.4</text>
<line x1="43.50" y1="427.05" x2="46.50" y2="427.05" stroke="#333" stroke-width="0.8" />
<line x1="236.60" y1="427.05" x2="239.60" y2="427.05" stroke="#333" stroke-width="0.8" />
<text x="40.00" y="430.45" font-size="10" text-anchor="end" font-weight="normal" fill="#1a1a1a" >3</text>
<text x="243.40" y="430.45" font-size="10" text-anchor="start" font-weight="normal" fill="#1a1a1a" >0.3</text>
<line x1="43.50" y1="457.40" x2="46.50" y2="457.40" stroke="#333" stroke-width="0.8" />
<line x1="236.60" y1="457.40" x2="239.60" y2="457.40" stroke="#333" stroke-width="0.8" />
<text x="40.00" y="460.80" font-size="10" text-anchor="end" font-weight="normal" fill="#1a1a1a" >2</text>
<text x="243.40" y="460.80" font-size="10" text-anchor="start" font-weight="normal" fill="#1a1a1a" >0.2</text>
<line x1="43.50" y1="487.75" x2="46.50" y2="487.75" stroke="#333" stroke-width="0.8" />
<line x1="236.60" y1="487.75" x2="239.60" y2="487.75" stroke="#333" stroke-width="0.8" />
<text x="40.00" y="491.15" font-size="10" text-anchor="end" font-weight="normal" fill="#1a1a1a" >1</text>
<text x="243.40" y="491.15" font-size="10" text-anchor="start" font-weight="normal" fill="#1a1a1a" >0.1</text>
<line x1="43.50" y1="518.10" x2="46.50" y2="518.10" stroke="#333" stroke-width="0.8" />
<line x1="236.60" y1="518.10" x2="239.60" y2="518.10" stroke="#333" stroke-width="0.8" />
<text x="40.00" y="521.50" font-size="10" text-anchor="end" font-weight="normal" fill="#1a1a1a" >0</text>
<text x="243.40" y="521.50" font-size="10" text-anchor="start" font-weight="normal" fill="#1a1a1a" >0.0</text>
<line x1="43.50" y1="411.88" x2="45.50" y2="411.88" stroke="#333" stroke-width="0.6" />
<line x1="237.60" y1="411.88" x2="239.60" y2="411.88" stroke="#333" stroke-width="0.6" />
<line x1="43.50" y1="442.23" x2="45.50" y2="442.23" stroke="#333" stroke-width="0.6" />
<line x1="237.60" y1="442.23" x2="239.60" y2="442.23" stroke="#333" stroke-width="0.6" />
<line x1="43.50" y1="472.57" x2="45.50" y2="472.57" stroke="#333" stroke-width="0.6" />
<line x1="237.60" y1="472.57" x2="239.60" y2="472.57" stroke="#333" stroke-width="0.6" />
<line x1="43.50" y1="502.93" x2="45.50" y2="502.93" stroke="#333" stroke-width="0.6" />
<line x1="237.60" y1="502.93" x2="239.60" y2="502.93" stroke="#333" stroke-width="0.6" />
<line x1="43.50" y1="518.10" x2="43.50" y2="515.60" stroke="#333" stroke-width="0.7" />
<line x1="71.51" y1="518.10" x2="71.51" y2="515.60" stroke="#333" stroke-width="0.7" />
<line x1="99.53" y1="518.10" x2="99.53" y2="515.60" stroke="#333" stroke-width="0.7" />
<line x1="127.54" y1="518.10" x2="127.54" y2="515.60" stroke="#333" stroke-width="0.7" />
<line x1="155.56" y1="518.10" x2="155.56" y2="515.60" stroke="#333" stroke-width="0.7" />
<line x1="183.57" y1="518.10" x2="183.57" y2="515.60" stroke="#333" stroke-width="0.7" />
<line x1="211.59" y1="518.10" x2="211.59" y2="515.60" stroke="#333" stroke-width="0.7" />
<line x1="239.60" y1="518.10" x2="239.60" y2="515.60" stroke="#333" stroke-width="0.7" />
<text x="52.00" y="414.60" font-size="10" text-anchor="start" font-weight="normal" fill="#1a1a1a" >Δd=5%, 20 L/min</text>
<text x="213.20" y="456.30" font-size="10" text-anchor="middle" font-weight="normal" fill="#1a1a1a" >ES243</text>
<line x1="206.90" y1="459.60" x2="189.19" y2="473.66" stroke="#000" stroke-width="1.2" />
<path d="M184.10,477.70 L187.20,471.15 L191.18,476.16 Z" fill="#000" stroke="none" stroke-width="1" />
<rect x="169.30" y="534.60" width="12.60" height="121.20" fill="#bcdfde" stroke="none" stroke-width="1" />
<path d="M71.51,655.80V655.49M72.27,655.80V653.63M73.08,655.80V655.03M73.96,655.80V653.19M74.77,655.80V651.40M75.34,655.80V655.20M75.95,655.80V654.37M76.68,655.80V654.75M77.34,655.80V654.78M78.03,655.80V655.33M78.83,655.80V655.25M79.57,655.80V655.07M84.73,655.80V654.76M85.29,655.80V654.82M86.01,655.80V647.02M86.72,655.80V652.20M87.28,655.80V651.52M87.84,655.80V639.65M88.43,655.80V650.05M89.20,655.80V639.08M89.76,655.80V647.83M90.59,655.80V652.05M91.24,655.80V653.85M92.08,655.80V652.26M92.66,655.80V652.65M93.42,655.80V652.25M94.00,655.80V651.86M94.57,655.80V653.82M95.19,655.80V652.13M96.02,655.80V652.48M96.58,655.80V654.44M97.46,655.80V654.27M98.31,655.80V653.64M98.98,655.80V647.88M99.59,655.80V648.13M100.43,655.80V651.86M101.11,655.80V653.64M101.93,655.80V654.26M102.54,655.80V652.58M103.34,655.80V653.47M103.94,655.80V641.57M104.66,655.80V647.46M105.24,655.80V652.75M106.02,655.80V641.35M106.72,655.80V641.87M107.39,655.80V638.43M108.08,655.80V635.50M108.83,655.80V644.11M109.61,655.80V640.35M110.21,655.80V647.48M110.76,655.80V652.16M111.39,655.80V647.19M112.22,655.80V647.38M112.95,655.80V652.69M113.53,655.80V626.77M114.09,655.80V633.59M114.95,655.80V651.23M115.58,655.80V634.80M116.35,655.80V639.29M117.02,655.80V645.14M117.61,655.80V640.27M118.45,655.80V652.29M119.16,655.80V631.08M119.83,655.80V634.31M120.58,655.80V645.99M121.35,655.80V649.60M122.03,655.80V644.87M122.73,655.80V653.85M123.33,655.80V643.17M124.19,655.80V639.05M125.07,655.80V647.83M125.95,655.80V636.32M126.67,655.80V638.96M127.57,655.80V630.94M128.44,655.80V628.06M129.25,655.80V650.14M130.02,655.80V652.20M130.67,655.80V647.84M131.48,655.80V635.76M132.06,655.80V647.36M132.64,655.80V648.61M133.44,655.80V617.85M134.29,655.80V646.81M134.95,655.80V646.33M135.69,655.80V649.81M136.34,655.80V649.80M137.17,655.80V652.69M138.01,655.80V640.56M138.74,655.80V648.31M139.31,655.80V651.87M140.02,655.80V633.39M140.91,655.80V651.74M141.47,655.80V647.82M142.04,655.80V625.00M142.70,655.80V651.04M143.39,655.80V628.55M144.09,655.80V641.29M144.96,655.80V630.67M145.56,655.80V630.50M146.29,655.80V629.73M146.94,655.80V625.33M147.71,655.80V636.67M148.42,655.80V646.97M149.26,655.80V649.99M149.99,655.80V653.10M150.78,655.80V638.15M151.47,655.80V650.55M152.30,655.80V648.21M152.91,655.80V649.79M153.60,655.80V634.71M154.48,655.80V616.46M155.23,655.80V642.44M155.88,655.80V633.23M156.46,655.80V630.57M157.19,655.80V607.54M157.97,655.80V642.93M158.58,655.80V637.80M159.24,655.80V643.02M160.12,655.80V647.41M160.77,655.80V652.91M161.66,655.80V652.61M162.28,655.80V652.30M163.09,655.80V637.37M163.93,655.80V651.91M164.82,655.80V651.83M165.54,655.80V649.95M166.10,655.80V649.99M166.70,655.80V629.78M167.60,655.80V638.52M168.20,655.80V650.81M168.81,655.80V649.94M169.67,655.80V650.04M170.41,655.80V607.85M171.09,655.80V611.23M171.69,655.80V609.28M172.36,655.80V592.50M172.98,655.80V620.22M173.87,655.80V648.69M174.75,655.80V645.46M175.41,655.80V651.90M176.23,655.80V640.41M176.94,655.80V647.37M177.68,655.80V641.51M178.43,655.80V640.34M179.05,655.80V640.03M179.65,655.80V652.03M180.22,655.80V638.01M181.08,655.80V636.26M181.93,655.80V641.45M182.72,655.80V646.94M183.31,655.80V645.91M183.91,655.80V643.63M184.63,655.80V648.05M185.31,655.80V644.23M186.19,655.80V639.47M186.84,655.80V638.83M187.43,655.80V648.71M188.10,655.80V644.73M188.99,655.80V647.54M189.72,655.80V633.35M190.46,655.80V647.78M191.03,655.80V649.18" fill="none" stroke="#b6b6b6" stroke-width="0.6" />
<path d="M43.60,655.70 C45.00,655.70 50.25,655.80 52.00,655.70 C53.75,655.30 53.35,653.30 54.10,653.30 C54.85,653.30 54.62,655.30 56.50,655.70 C58.38,655.80 63.57,655.80 65.40,655.70 C67.23,655.10 66.75,652.20 67.50,652.10 C68.25,652.00 69.00,655.25 69.90,655.10 C70.80,654.95 71.90,652.10 72.90,651.20 C73.90,650.30 74.90,649.45 75.90,649.70 C76.90,649.95 77.90,651.73 78.90,652.70 C79.90,653.67 81.05,655.08 81.90,655.50 C82.75,655.80 82.98,655.80 84.00,655.20 C85.02,650.68 86.43,629.28 88.00,628.40 C89.57,627.52 92.05,646.32 93.40,649.90 C94.75,653.48 95.20,652.80 96.10,649.90 C97.00,647.00 97.80,632.50 98.80,632.50 C99.80,632.50 100.88,650.68 102.10,649.90 C103.32,649.12 104.98,629.82 106.10,627.80 C107.22,625.78 107.90,638.47 108.80,637.80 C109.70,637.13 110.83,624.92 111.50,623.80 C112.17,622.68 112.18,633.45 112.80,631.10 C113.42,628.75 114.30,610.37 115.20,609.70 C116.10,609.03 117.37,623.87 118.20,627.10 C119.03,630.33 119.53,626.98 120.20,629.10 C120.87,631.22 120.97,642.70 122.20,639.80 C123.43,636.90 126.25,614.82 127.60,611.70 C128.95,608.58 129.42,624.90 130.30,621.10 C131.18,617.30 131.78,586.45 132.90,588.90 C134.02,591.35 135.65,631.45 137.00,635.80 C138.35,640.15 140.00,617.45 141.00,615.00 C142.00,612.55 142.22,624.67 143.00,621.10 C143.78,617.53 144.70,590.82 145.70,593.60 C146.70,596.38 147.78,634.00 149.00,637.80 C150.22,641.60 151.92,621.98 153.00,616.40 C154.08,610.82 154.67,615.58 155.50,604.30 C156.33,593.02 157.35,554.95 158.00,548.70 C158.65,542.45 158.95,553.28 159.40,566.80 C159.85,580.32 160.03,621.53 160.70,629.80 C161.37,638.07 162.73,618.42 163.40,616.40 C164.07,614.38 164.07,619.38 164.70,617.70 C165.33,616.02 166.52,608.08 167.20,606.30 C167.88,604.52 168.10,610.90 168.80,607.00 C169.50,603.10 170.62,584.23 171.40,582.90 C172.18,581.57 172.82,593.20 173.50,599.00 C174.18,604.80 174.62,612.45 175.50,617.70 C176.38,622.95 177.68,629.60 178.80,630.50 C179.92,631.40 181.23,626.23 182.20,623.10 C183.17,619.97 183.82,610.70 184.60,611.70 C185.38,612.70 186.02,629.10 186.90,629.10 C187.78,629.10 189.13,612.03 189.90,611.70 C190.67,611.37 190.88,619.95 191.50,627.10 C192.12,634.25 193.02,649.83 193.60,654.60 C194.18,655.80 187.33,655.52 195.00,655.70 C202.67,655.80 232.17,655.70 239.60,655.70" fill="none" stroke="#e8666e" stroke-width="1.5" />
<rect x="170.30" y="608.53" width="2.20" height="47.27" fill="#6a10e0" stroke="none" stroke-width="1" />
<rect x="43.50" y="534.60" width="196.10" height="121.20" fill="none" stroke="#333" stroke-width="0.9" />
<line x1="43.50" y1="534.60" x2="46.50" y2="534.60" stroke="#333" stroke-width="0.8" />
<line x1="236.60" y1="534.60" x2="239.60" y2="534.60" stroke="#333" stroke-width="0.8" />
<text x="40.00" y="538.00" font-size="10" text-anchor="end" font-weight="normal" fill="#1a1a1a" >3</text>
<text x="243.40" y="538.00" font-size="10" text-anchor="start" font-weight="normal" fill="#1a1a1a" >0.3</text>
<line x1="43.50" y1="575.00" x2="46.50" y2="575.00" stroke="#333" stroke-width="0.8" />
<line x1="236.60" y1="575.00" x2="239.60" y2="575.00" stroke="#333" stroke-width="0.8" />
<text x="40.00" y="578.40" font-size="10" text-anchor="end" font-weight="normal" fill="#1a1a1a" >2</text>
<text x="243.40" y="578.40" font-size="10" text-anchor="start" font-weight="normal" fill="#1a1a1a" >0.2</text>
<line x1="43.50" y1="615.40" x2="46.50" y2="615.40" stroke="#333" stroke-width="0.8" />
<line x1="236.60" y1="615.40" x2="239.60" y2="615.40" stroke="#333" stroke-width="0.8" />
<text x="40.00" y="618.80" font-size="10" text-anchor="end" font-weight="normal" fill="#1a1a1a" >1</text>
<text x="243.40" y="618.80" font-size="10" text-anchor="start" font-weight="normal" fill="#1a1a1a" >0.1</text>
<line x1="43.50" y1="655.80" x2="46.50" y2="655.80" stroke="#333" stroke-width="0.8" />
<line x1="236.60" y1="655.80" x2="239.60" y2="655.80" stroke="#333" stroke-width="0.8" />
<text x="40.00" y="659.20" font-size="10" text-anchor="end" font-weight="normal" fill="#1a1a1a" >0</text>
<text x="243.40" y="659.20" font-size="10" text-anchor="start" font-weight="normal" fill="#1a1a1a" >0.0</text>
<line x1="43.50" y1="554.80" x2="45.50" y2="554.80" stroke="#333" stroke-width="0.6" />
<line x1="237.60" y1="554.80" x2="239.60" y2="554.80" stroke="#333" stroke-width="0.6" />
<line x1="43.50" y1="595.20" x2="45.50" y2="595.20" stroke="#333" stroke-width="0.6" />
<line x1="237.60" y1="595.20" x2="239.60" y2="595.20" stroke="#333" stroke-width="0.6" />
<line x1="43.50" y1="635.60" x2="45.50" y2="635.60" stroke="#333" stroke-width="0.6" />
<line x1="237.60" y1="635.60" x2="239.60" y2="635.60" stroke="#333" stroke-width="0.6" />
<line x1="43.50" y1="655.80" x2="43.50" y2="653.30" stroke="#333" stroke-width="0.7" />
<line x1="71.51" y1="655.80" x2="71.51" y2="653.30" stroke="#333" stroke-width="0.7" />
<line x1="99.53" y1="655.80" x2="99.53" y2="653.30" stroke="#333" stroke-width="0.7" />
<line x1="127.54" y1="655.80" x2="127.54" y2="653.30" stroke="#333" stroke-width="0.7" />
<line x1="155.56" y1="655.80" x2="155.56" y2="653.30" stroke="#333" stroke-width="0.7" />
<line x1="183.57" y1="655.80" x2="183.57" y2="653.30" stroke="#333" stroke-width="0.7" />
<line x1="211.59" y1="655.80" x2="211.59" y2="653.30" stroke="#333" stroke-width="0.7" />
<line x1="239.60" y1="655.80" x2="239.60" y2="653.30" stroke="#333" stroke-width="0.7" />
<text x="52.00" y="552.50" font-size="10" text-anchor="start" font-weight="normal" fill="#1a1a1a" >Δd=7%, 30 L/min</text>
<text x="213.00" y="582.90" font-size="10" text-anchor="middle" font-weight="normal" fill="#1a1a1a" >ES220</text>
<line x1="199.60" y1="586.90" x2="181.18" y2="601.64" stroke="#000" stroke-width="1.2" />
<path d="M176.10,605.70 L179.18,599.14 L183.17,604.14 Z" fill="#000" stroke="none" stroke-width="1" />
<text x="43.50" y="670.20" font-size="10" text-anchor="middle" font-weight="normal" fill="#1a1a1a" >0.0</text>
<text x="71.51" y="670.20" font-size="10" text-anchor="middle" font-weight="normal" fill="#1a1a1a" >0.5</text>
<text x="99.53" y="670.20" font-size="10" text-anchor="middle" font-weight="normal" fill="#1a1a1a" >1.0</text>
<text x="127.54" y="670.20" font-size="10" text-anchor="middle" font-weight="normal" fill="#1a1a1a" >1.5</text>
<text x="155.56" y="670.20" font-size="10" text-anchor="middle" font-weight="normal" fill="#1a1a1a" >2.0</text>
<text x="183.57" y="670.20" font-size="10" text-anchor="middle" font-weight="normal" fill="#1a1a1a" >2.5</text>
<text x="211.59" y="670.20" font-size="10" text-anchor="middle" font-weight="normal" fill="#1a1a1a" >3.0</text>
<text x="239.60" y="670.20" font-size="10" text-anchor="middle" font-weight="normal" fill="#1a1a1a" >3.5</text>
<text x="141.00" y="685.60" font-size="10.5" text-anchor="middle" font-weight="normal" fill="#1a1a1a" >Excitation energy (eV)</text>
<text transform="translate(14,526) rotate(-90)" font-size="10.2" text-anchor="middle" fill="#1a1a1a">Molar absorption coefficient</text>
<text transform="translate(28.3,526.5) rotate(-90)" font-size="10.2" text-anchor="middle" fill="#1a1a1a">(ε, L·mol<tspan font-size="6.5" dy="-3.5">-1</tspan><tspan dy="3.5">·cm</tspan><tspan font-size="6.5" dy="-3.5">-1</tspan><tspan dy="3.5">)</tspan></text>
<text transform="translate(268.4,529.6) rotate(-90)" font-size="10.5" text-anchor="middle" fill="#1a1a1a">Oscillator strength</text>
<text x="272.80" y="401.80" font-size="14" text-anchor="start" font-weight="bold" fill="#000" >e</text>
<text x="283.40" y="412.60" font-size="10.8" text-anchor="start" font-weight="normal" fill="#1a1a1a" >Δd=5%, 20 L/min, ES243</text>
<text x="313.80" y="427.90" font-size="10.9" text-anchor="start" font-weight="normal" fill="#1a1a1a" >Local excitation</text>
<text x="283.40" y="554.30" font-size="10.8" text-anchor="start" font-weight="normal" fill="#1a1a1a" >Δd=7%, 30 L/min, ES220</text>
<text x="301.00" y="571.20" font-size="10.9" text-anchor="start" font-weight="normal" fill="#1a1a1a" >Charge-transfer excitation</text>
<line x1="284.10" y1="438.90" x2="295.00" y2="437.40" stroke="#d98c1c" stroke-width="2.8"/><line x1="295.00" y1="437.40" x2="300.80" y2="446.90" stroke="#d98c1c" stroke-width="2.8"/><line x1="300.80" y1="446.90" x2="296.50" y2="455.70" stroke="#d98c1c" stroke-width="2.8"/><line x1="296.50" y1="455.70" x2="286.20" y2="456.40" stroke="#d98c1c" stroke-width="2.8"/><line x1="286.20" y1="456.40" x2="280.40" y2="447.60" stroke="#d98c1c" stroke-width="2.8"/><line x1="280.40" y1="447.60" x2="284.10" y2="438.90" stroke="#d98c1c" stroke-width="2.8"/><line x1="284.10" y1="438.90" x2="278.20" y2="430.80" stroke="#b4b8ee" stroke-width="2.2"/><line x1="295.00" y1="437.40" x2="297.90" y2="431.10" stroke="#b8eef4" stroke-width="2.2"/><line x1="300.80" y1="446.90" x2="307.40" y2="445.40" stroke="#b8eef4" stroke-width="2.2"/><line x1="280.40" y1="447.60" x2="273.10" y2="449.10" stroke="#b8eef4" stroke-width="2.2"/><line x1="286.20" y1="456.40" x2="283.30" y2="463.20" stroke="#b8eef4" stroke-width="2.2"/><line x1="296.50" y1="455.70" x2="302.30" y2="465.10" stroke="#b4b8ee" stroke-width="2.2"/><line x1="302.30" y1="465.10" x2="303.00" y2="471.70" stroke="#b4b8ee" stroke-width="2.2"/><line x1="308.10" y1="480.50" x2="319.10" y2="479.70" stroke="#d98c1c" stroke-width="2.8"/><line x1="319.10" y1="479.70" x2="325.70" y2="487.00" stroke="#d98c1c" stroke-width="2.8"/><line x1="325.70" y1="487.00" x2="322.00" y2="496.50" stroke="#d98c1c" stroke-width="2.8"/><line x1="322.00" y1="496.50" x2="311.80" y2="497.30" stroke="#d98c1c" stroke-width="2.8"/><line x1="311.80" y1="497.30" x2="306.00" y2="490.00" stroke="#d98c1c" stroke-width="2.8"/><line x1="306.00" y1="490.00" x2="308.10" y2="480.50" stroke="#d98c1c" stroke-width="2.8"/><line x1="303.00" y1="471.70" x2="308.10" y2="480.50" stroke="#d98c1c" stroke-width="2.8"/><line x1="319.10" y1="479.70" x2="321.30" y2="469.50" stroke="#ec98a0" stroke-width="2.2"/><line x1="321.30" y1="469.50" x2="316.20" y2="465.90" stroke="#b8eef4" stroke-width="2.2"/><line x1="325.70" y1="487.00" x2="335.20" y2="482.70" stroke="#d98c1c" stroke-width="2.8"/><line x1="335.20" y1="482.70" x2="343.20" y2="490.00" stroke="#b4b8ee" stroke-width="2.2"/><line x1="322.00" y1="496.50" x2="327.90" y2="503.10" stroke="#ec98a0" stroke-width="2.2"/><line x1="327.90" y1="503.10" x2="334.40" y2="500.90" stroke="#b8eef4" stroke-width="2.2"/><line x1="311.80" y1="497.30" x2="309.60" y2="506.80" stroke="#d98c1c" stroke-width="2.8"/><line x1="309.60" y1="506.80" x2="299.40" y2="511.90" stroke="#b4b8ee" stroke-width="2.2"/><line x1="299.40" y1="511.90" x2="297.20" y2="518.40" stroke="#b4b8ee" stroke-width="2.2"/><line x1="306.00" y1="490.00" x2="295.00" y2="492.90" stroke="#ec98a0" stroke-width="2.2"/><line x1="295.00" y1="492.90" x2="295.00" y2="499.50" stroke="#b8eef4" stroke-width="2.2"/><line x1="350.50" y1="489.00" x2="356.60" y2="481.10" stroke="#d98c1c" stroke-width="2.8"/><line x1="356.60" y1="481.10" x2="368.00" y2="480.70" stroke="#d98c1c" stroke-width="2.8"/><line x1="368.00" y1="480.70" x2="373.30" y2="488.10" stroke="#d98c1c" stroke-width="2.8"/><line x1="373.30" y1="488.10" x2="368.00" y2="496.00" stroke="#d98c1c" stroke-width="2.8"/><line x1="368.00" y1="496.00" x2="356.60" y2="496.80" stroke="#d98c1c" stroke-width="2.8"/><line x1="356.60" y1="496.80" x2="350.50" y2="489.00" stroke="#d98c1c" stroke-width="2.8"/><line x1="343.20" y1="490.00" x2="350.50" y2="489.00" stroke="#b4b8ee" stroke-width="2.2"/><line x1="356.60" y1="481.10" x2="353.10" y2="477.60" stroke="#b8eef4" stroke-width="2.2"/><line x1="356.60" y1="496.80" x2="354.90" y2="502.10" stroke="#b8eef4" stroke-width="2.2"/><line x1="368.00" y1="496.00" x2="372.40" y2="500.30" stroke="#b8eef4" stroke-width="2.2"/><line x1="373.30" y1="488.10" x2="383.80" y2="487.20" stroke="#b4b8ee" stroke-width="2.2"/><line x1="383.80" y1="487.20" x2="392.60" y2="490.20" stroke="#b4b8ee" stroke-width="2.2"/><line x1="405.00" y1="477.80" x2="416.70" y2="476.30" stroke="#d98c1c" stroke-width="2.8"/><line x1="416.70" y1="476.30" x2="423.30" y2="485.10" stroke="#d98c1c" stroke-width="2.8"/><line x1="423.30" y1="485.10" x2="419.60" y2="495.30" stroke="#d98c1c" stroke-width="2.8"/><line x1="419.60" y1="495.30" x2="408.70" y2="496.80" stroke="#d98c1c" stroke-width="2.8"/><line x1="408.70" y1="496.80" x2="401.40" y2="488.00" stroke="#d98c1c" stroke-width="2.8"/><line x1="401.40" y1="488.00" x2="405.00" y2="477.80" stroke="#d98c1c" stroke-width="2.8"/><line x1="392.60" y1="490.20" x2="401.40" y2="488.00" stroke="#d98c1c" stroke-width="2.8"/><line x1="405.00" y1="477.80" x2="400.70" y2="471.90" stroke="#ec98a0" stroke-width="2.2"/><line x1="416.70" y1="476.30" x2="420.40" y2="467.60" stroke="#d98c1c" stroke-width="2.8"/><line x1="420.40" y1="467.60" x2="426.20" y2="465.40" stroke="#b4b8ee" stroke-width="2.2"/><line x1="423.30" y1="485.10" x2="431.30" y2="482.90" stroke="#ec98a0" stroke-width="2.2"/><line x1="419.60" y1="495.30" x2="424.70" y2="502.60" stroke="#d98c1c" stroke-width="2.8"/><line x1="424.70" y1="502.60" x2="426.20" y2="511.40" stroke="#b4b8ee" stroke-width="2.2"/><line x1="426.20" y1="511.40" x2="416.70" y2="514.30" stroke="#b8eef4" stroke-width="2.2"/><line x1="408.70" y1="496.80" x2="405.80" y2="505.50" stroke="#ec98a0" stroke-width="2.2"/><line x1="429.10" y1="452.20" x2="424.70" y2="442.70" stroke="#d98c1c" stroke-width="2.8"/><line x1="424.70" y1="442.70" x2="429.90" y2="435.40" stroke="#d98c1c" stroke-width="2.8"/><line x1="429.90" y1="435.40" x2="440.10" y2="434.00" stroke="#d98c1c" stroke-width="2.8"/><line x1="440.10" y1="434.00" x2="446.60" y2="443.50" stroke="#d98c1c" stroke-width="2.8"/><line x1="446.60" y1="443.50" x2="441.50" y2="453.00" stroke="#d98c1c" stroke-width="2.8"/><line x1="441.50" y1="453.00" x2="429.10" y2="452.20" stroke="#d98c1c" stroke-width="2.8"/><line x1="426.20" y1="465.40" x2="429.10" y2="452.20" stroke="#b4b8ee" stroke-width="2.2"/><line x1="429.90" y1="435.40" x2="425.50" y2="431.80" stroke="#b8eef4" stroke-width="2.2"/><line x1="446.60" y1="443.50" x2="453.20" y2="443.50" stroke="#b8eef4" stroke-width="2.2"/><line x1="441.50" y1="453.00" x2="445.90" y2="458.80" stroke="#b8eef4" stroke-width="2.2"/><line x1="424.70" y1="442.70" x2="418.90" y2="446.40" stroke="#b8eef4" stroke-width="2.2"/><line x1="426.20" y1="465.40" x2="431.00" y2="470.00" stroke="#b8eef4" stroke-width="2.2"/><line x1="375.90" y1="460.50" x2="369.80" y2="471.40" stroke="#cfcfcf" stroke-width="2.2"/><line x1="375.90" y1="460.50" x2="382.90" y2="472.30" stroke="#cfcfcf" stroke-width="2.2"/><line x1="369.80" y1="471.40" x2="382.90" y2="472.30" stroke="#cfcfcf" stroke-width="2.2"/><line x1="369.80" y1="471.40" x2="376.00" y2="476.50" stroke="#cfcfcf" stroke-width="2.2"/><line x1="382.90" y1="472.30" x2="376.00" y2="476.50" stroke="#cfcfcf" stroke-width="2.2"/><line x1="375.90" y1="460.50" x2="376.00" y2="476.50" stroke="#cfcfcf" stroke-width="2.2"/><circle cx="297.90" cy="431.10" r="1.75" fill="url(#gH)"/><circle cx="307.40" cy="445.40" r="1.75" fill="url(#gH)"/><circle cx="273.10" cy="449.10" r="1.75" fill="url(#gH)"/><circle cx="283.30" cy="463.20" r="1.75" fill="url(#gH)"/><circle cx="316.20" cy="465.90" r="1.75" fill="url(#gH)"/><circle cx="334.40" cy="500.90" r="1.75" fill="url(#gH)"/><circle cx="295.00" cy="499.50" r="1.75" fill="url(#gH)"/><circle cx="353.10" cy="477.60" r="1.75" fill="url(#gH)"/><circle cx="354.90" cy="502.10" r="1.75" fill="url(#gH)"/><circle cx="372.40" cy="500.30" r="1.75" fill="url(#gH)"/><circle cx="416.70" cy="514.30" r="1.75" fill="url(#gH)"/><circle cx="425.50" cy="431.80" r="1.75" fill="url(#gH)"/><circle cx="453.20" cy="443.50" r="1.75" fill="url(#gH)"/><circle cx="445.90" cy="458.80" r="1.75" fill="url(#gH)"/><circle cx="418.90" cy="446.40" r="1.75" fill="url(#gH)"/><circle cx="431.00" cy="470.00" r="1.75" fill="url(#gH)"/><circle cx="278.20" cy="430.80" r="2.5" fill="url(#gN)"/><circle cx="302.30" cy="465.10" r="2.5" fill="url(#gN)"/><circle cx="321.30" cy="469.50" r="2.5" fill="url(#gO)"/><circle cx="343.20" cy="490.00" r="2.5" fill="url(#gN)"/><circle cx="327.90" cy="503.10" r="2.5" fill="url(#gO)"/><circle cx="299.40" cy="511.90" r="2.5" fill="url(#gN)"/><circle cx="295.00" cy="492.90" r="2.5" fill="url(#gO)"/><circle cx="383.80" cy="487.20" r="2.5" fill="url(#gN)"/><circle cx="400.70" cy="471.90" r="2.5" fill="url(#gO)"/><circle cx="426.20" cy="465.40" r="2.5" fill="url(#gN)"/><circle cx="431.30" cy="482.90" r="2.5" fill="url(#gO)"/><circle cx="426.20" cy="511.40" r="2.5" fill="url(#gN)"/><circle cx="405.80" cy="505.50" r="2.5" fill="url(#gO)"/><circle cx="284.10" cy="438.90" r="2.85" fill="url(#gC)"/><circle cx="295.00" cy="437.40" r="2.85" fill="url(#gC)"/><circle cx="300.80" cy="446.90" r="2.85" fill="url(#gC)"/><circle cx="296.50" cy="455.70" r="2.85" fill="url(#gC)"/><circle cx="286.20" cy="456.40" r="2.85" fill="url(#gC)"/><circle cx="280.40" cy="447.60" r="2.85" fill="url(#gC)"/><circle cx="303.00" cy="471.70" r="2.85" fill="url(#gC)"/><circle cx="308.10" cy="480.50" r="2.85" fill="url(#gC)"/><circle cx="319.10" cy="479.70" r="2.85" fill="url(#gC)"/><circle cx="325.70" cy="487.00" r="2.85" fill="url(#gC)"/><circle cx="322.00" cy="496.50" r="2.85" fill="url(#gC)"/><circle cx="311.80" cy="497.30" r="2.85" fill="url(#gC)"/><circle cx="306.00" cy="490.00" r="2.85" fill="url(#gC)"/><circle cx="335.20" cy="482.70" r="2.85" fill="url(#gC)"/><circle cx="309.60" cy="506.80" r="2.85" fill="url(#gC)"/><circle cx="297.20" cy="518.40" r="2.85" fill="url(#gC)"/><circle cx="350.50" cy="489.00" r="2.85" fill="url(#gC)"/><circle cx="356.60" cy="481.10" r="2.85" fill="url(#gC)"/><circle cx="368.00" cy="480.70" r="2.85" fill="url(#gC)"/><circle cx="373.30" cy="488.10" r="2.85" fill="url(#gC)"/><circle cx="368.00" cy="496.00" r="2.85" fill="url(#gC)"/><circle cx="356.60" cy="496.80" r="2.85" fill="url(#gC)"/><circle cx="392.60" cy="490.20" r="2.85" fill="url(#gC)"/><circle cx="405.00" cy="477.80" r="2.85" fill="url(#gC)"/><circle cx="416.70" cy="476.30" r="2.85" fill="url(#gC)"/><circle cx="423.30" cy="485.10" r="2.85" fill="url(#gC)"/><circle cx="419.60" cy="495.30" r="2.85" fill="url(#gC)"/><circle cx="408.70" cy="496.80" r="2.85" fill="url(#gC)"/><circle cx="401.40" cy="488.00" r="2.85" fill="url(#gC)"/><circle cx="420.40" cy="467.60" r="2.85" fill="url(#gC)"/><circle cx="424.70" cy="502.60" r="2.85" fill="url(#gC)"/><circle cx="429.10" cy="452.20" r="2.85" fill="url(#gC)"/><circle cx="424.70" cy="442.70" r="2.85" fill="url(#gC)"/><circle cx="429.90" cy="435.40" r="2.85" fill="url(#gC)"/><circle cx="440.10" cy="434.00" r="2.85" fill="url(#gC)"/><circle cx="446.60" cy="443.50" r="2.85" fill="url(#gC)"/><circle cx="441.50" cy="453.00" r="2.85" fill="url(#gC)"/><circle cx="375.90" cy="460.50" r="2.6" fill="url(#gP)"/><circle cx="369.80" cy="471.40" r="2.6" fill="url(#gP)"/><circle cx="382.90" cy="472.30" r="2.6" fill="url(#gP)"/><circle cx="376.00" cy="476.50" r="2.6" fill="url(#gP)"/>
<circle cx="366.5" cy="471" r="8.2" fill="url(#bC)" fill-opacity="0.78"/>
<circle cx="386" cy="471.5" r="7.2" fill="url(#bC)" fill-opacity="0.78"/>
<circle cx="377.5" cy="457.5" r="5.6" fill="url(#bC)" fill-opacity="0.78"/>
<circle cx="376" cy="475" r="6.5" fill="url(#bC)" fill-opacity="0.78"/>
<circle cx="372" cy="463" r="4.5" fill="url(#bC)" fill-opacity="0.78"/>
<circle cx="382" cy="463" r="4.5" fill="url(#bC)" fill-opacity="0.78"/>
<circle cx="300.5" cy="473" r="5.2" fill="url(#bY)" fill-opacity="0.8"/>
<circle cx="306" cy="490" r="4.4" fill="url(#bY)" fill-opacity="0.8"/>
<ellipse cx="310.3" cy="508.5" rx="5.2" ry="7" transform="rotate(-10 310.3 508.5)" fill="url(#bY)" fill-opacity="0.8"/>
<ellipse cx="297.5" cy="517.5" rx="4.2" ry="5.6" transform="rotate(10 297.5 517.5)" fill="url(#bY)" fill-opacity="0.8"/>
<circle cx="335.2" cy="482.7" r="4" fill="url(#bY)" fill-opacity="0.8"/>
<circle cx="318.5" cy="478" r="3.4" fill="url(#bY)" fill-opacity="0.8"/>
<circle cx="343.5" cy="489.5" r="2.6" fill="url(#bY)" fill-opacity="0.8"/>
<circle cx="303" cy="459.5" r="2.6" fill="url(#bY)" fill-opacity="0.8"/>
<circle cx="383.8" cy="484.5" r="2.6" fill="url(#bY)" fill-opacity="0.8"/>
<circle cx="420.4" cy="467.6" r="5.6" fill="url(#bY)" fill-opacity="0.8"/>
<ellipse cx="418.5" cy="481" rx="6.5" ry="3.6" transform="rotate(30 418.5 481)" fill="url(#bY)" fill-opacity="0.8"/>
<circle cx="427" cy="503" r="3.5" fill="url(#bY)" fill-opacity="0.8"/>
<ellipse cx="431.5" cy="457.5" rx="2.8" ry="5.5" transform="rotate(-20 431.5 457.5)" fill="url(#bY)" fill-opacity="0.8"/>
<ellipse cx="445" cy="445" rx="3" ry="7.5" transform="rotate(-15 445 445)" fill="url(#bY)" fill-opacity="0.8"/>
<ellipse cx="426.5" cy="441" rx="2.5" ry="5" transform="rotate(10 426.5 441)" fill="url(#bY)" fill-opacity="0.8"/>
<circle cx="376" cy="452" r="2.5" fill="url(#bY)" fill-opacity="0.8"/>
<circle cx="367" cy="476" r="2.2" fill="url(#bY)" fill-opacity="0.8"/>
<circle cx="383" cy="468" r="2" fill="url(#bY)" fill-opacity="0.8"/>
<ellipse cx="288.5" cy="450.5" rx="7" ry="3.2" transform="rotate(-40 288.5 450.5)" fill="url(#bC)" fill-opacity="0.8"/>
<ellipse cx="295" cy="442" rx="2.5" ry="5" transform="rotate(40 295 442)" fill="url(#bC)" fill-opacity="0.8"/>
<circle cx="302.3" cy="465.5" r="3.6" fill="url(#bC)" fill-opacity="0.8"/>
<circle cx="307.5" cy="481" r="3" fill="url(#bC)" fill-opacity="0.8"/>
<circle cx="401.3" cy="489" r="4" fill="url(#bC)" fill-opacity="0.8"/>
<circle cx="419.7" cy="497" r="6.5" fill="url(#bC)" fill-opacity="0.8"/>
<circle cx="431.1" cy="483.7" r="4.8" fill="url(#bC)" fill-opacity="0.8"/>
<circle cx="406.6" cy="505" r="4.6" fill="url(#bC)" fill-opacity="0.8"/>
<circle cx="425.5" cy="512" r="4.8" fill="url(#bC)" fill-opacity="0.8"/>
<circle cx="400.4" cy="471.4" r="3" fill="url(#bC)" fill-opacity="0.8"/>
<line x1="285.10" y1="583.40" x2="296.00" y2="581.90" stroke="#d98c1c" stroke-width="2.8"/><line x1="296.00" y1="581.90" x2="301.80" y2="591.40" stroke="#d98c1c" stroke-width="2.8"/><line x1="301.80" y1="591.40" x2="297.50" y2="600.20" stroke="#d98c1c" stroke-width="2.8"/><line x1="297.50" y1="600.20" x2="287.20" y2="600.90" stroke="#d98c1c" stroke-width="2.8"/><line x1="287.20" y1="600.90" x2="281.40" y2="592.10" stroke="#d98c1c" stroke-width="2.8"/><line x1="281.40" y1="592.10" x2="285.10" y2="583.40" stroke="#d98c1c" stroke-width="2.8"/><line x1="285.10" y1="583.40" x2="279.20" y2="575.30" stroke="#b4b8ee" stroke-width="2.2"/><line x1="296.00" y1="581.90" x2="298.90" y2="575.60" stroke="#b8eef4" stroke-width="2.2"/><line x1="301.80" y1="591.40" x2="308.40" y2="589.90" stroke="#b8eef4" stroke-width="2.2"/><line x1="281.40" y1="592.10" x2="274.10" y2="593.60" stroke="#b8eef4" stroke-width="2.2"/><line x1="287.20" y1="600.90" x2="284.30" y2="607.70" stroke="#b8eef4" stroke-width="2.2"/><line x1="297.50" y1="600.20" x2="303.30" y2="609.60" stroke="#b4b8ee" stroke-width="2.2"/><line x1="303.30" y1="609.60" x2="304.00" y2="616.20" stroke="#b4b8ee" stroke-width="2.2"/><line x1="309.10" y1="625.00" x2="320.10" y2="624.20" stroke="#d98c1c" stroke-width="2.8"/><line x1="320.10" y1="624.20" x2="326.70" y2="631.50" stroke="#d98c1c" stroke-width="2.8"/><line x1="326.70" y1="631.50" x2="323.00" y2="641.00" stroke="#d98c1c" stroke-width="2.8"/><line x1="323.00" y1="641.00" x2="312.80" y2="641.80" stroke="#d98c1c" stroke-width="2.8"/><line x1="312.80" y1="641.80" x2="307.00" y2="634.50" stroke="#d98c1c" stroke-width="2.8"/><line x1="307.00" y1="634.50" x2="309.10" y2="625.00" stroke="#d98c1c" stroke-width="2.8"/><line x1="304.00" y1="616.20" x2="309.10" y2="625.00" stroke="#d98c1c" stroke-width="2.8"/><line x1="320.10" y1="624.20" x2="322.30" y2="614.00" stroke="#ec98a0" stroke-width="2.2"/><line x1="322.30" y1="614.00" x2="317.20" y2="610.40" stroke="#b8eef4" stroke-width="2.2"/><line x1="326.70" y1="631.50" x2="336.20" y2="627.20" stroke="#d98c1c" stroke-width="2.8"/><line x1="336.20" y1="627.20" x2="344.20" y2="634.50" stroke="#b4b8ee" stroke-width="2.2"/><line x1="323.00" y1="641.00" x2="328.90" y2="647.60" stroke="#ec98a0" stroke-width="2.2"/><line x1="328.90" y1="647.60" x2="335.40" y2="645.40" stroke="#b8eef4" stroke-width="2.2"/><line x1="312.80" y1="641.80" x2="310.60" y2="651.30" stroke="#d98c1c" stroke-width="2.8"/><line x1="310.60" y1="651.30" x2="300.40" y2="656.40" stroke="#b4b8ee" stroke-width="2.2"/><line x1="300.40" y1="656.40" x2="298.20" y2="662.90" stroke="#b4b8ee" stroke-width="2.2"/><line x1="307.00" y1="634.50" x2="296.00" y2="637.40" stroke="#ec98a0" stroke-width="2.2"/><line x1="296.00" y1="637.40" x2="296.00" y2="644.00" stroke="#b8eef4" stroke-width="2.2"/><line x1="352.50" y1="633.00" x2="358.00" y2="629.00" stroke="#d98c1c" stroke-width="2.8"/><line x1="358.00" y1="629.00" x2="371.00" y2="629.00" stroke="#d98c1c" stroke-width="2.8"/><line x1="371.00" y1="629.00" x2="378.00" y2="633.00" stroke="#d98c1c" stroke-width="2.8"/><line x1="378.00" y1="633.00" x2="371.00" y2="637.00" stroke="#d98c1c" stroke-width="2.8"/><line x1="371.00" y1="637.00" x2="358.00" y2="637.50" stroke="#d98c1c" stroke-width="2.8"/><line x1="358.00" y1="637.50" x2="352.50" y2="633.00" stroke="#d98c1c" stroke-width="2.8"/><line x1="344.20" y1="634.50" x2="352.50" y2="633.00" stroke="#b4b8ee" stroke-width="2.2"/><line x1="358.00" y1="637.50" x2="356.50" y2="641.50" stroke="#b8eef4" stroke-width="2.2"/><line x1="371.00" y1="637.00" x2="370.00" y2="643.00" stroke="#b8eef4" stroke-width="2.2"/><line x1="378.00" y1="633.00" x2="384.80" y2="631.70" stroke="#b4b8ee" stroke-width="2.2"/><line x1="384.80" y1="631.70" x2="393.60" y2="634.70" stroke="#b4b8ee" stroke-width="2.2"/><line x1="406.00" y1="622.30" x2="417.70" y2="620.80" stroke="#d98c1c" stroke-width="2.8"/><line x1="417.70" y1="620.80" x2="424.30" y2="629.60" stroke="#d98c1c" stroke-width="2.8"/><line x1="424.30" y1="629.60" x2="420.60" y2="639.80" stroke="#d98c1c" stroke-width="2.8"/><line x1="420.60" y1="639.80" x2="409.70" y2="641.30" stroke="#d98c1c" stroke-width="2.8"/><line x1="409.70" y1="641.30" x2="402.40" y2="632.50" stroke="#d98c1c" stroke-width="2.8"/><line x1="402.40" y1="632.50" x2="406.00" y2="622.30" stroke="#d98c1c" stroke-width="2.8"/><line x1="393.60" y1="634.70" x2="402.40" y2="632.50" stroke="#d98c1c" stroke-width="2.8"/><line x1="406.00" y1="622.30" x2="401.70" y2="616.40" stroke="#ec98a0" stroke-width="2.2"/><line x1="417.70" y1="620.80" x2="421.40" y2="612.10" stroke="#d98c1c" stroke-width="2.8"/><line x1="421.40" y1="612.10" x2="427.20" y2="609.90" stroke="#b4b8ee" stroke-width="2.2"/><line x1="424.30" y1="629.60" x2="432.30" y2="627.40" stroke="#ec98a0" stroke-width="2.2"/><line x1="420.60" y1="639.80" x2="425.70" y2="647.10" stroke="#d98c1c" stroke-width="2.8"/><line x1="425.70" y1="647.10" x2="427.20" y2="655.90" stroke="#b4b8ee" stroke-width="2.2"/><line x1="427.20" y1="655.90" x2="417.70" y2="658.80" stroke="#b8eef4" stroke-width="2.2"/><line x1="409.70" y1="641.30" x2="406.80" y2="650.00" stroke="#ec98a0" stroke-width="2.2"/><line x1="430.10" y1="596.70" x2="425.70" y2="587.20" stroke="#d98c1c" stroke-width="2.8"/><line x1="425.70" y1="587.20" x2="430.90" y2="579.90" stroke="#d98c1c" stroke-width="2.8"/><line x1="430.90" y1="579.90" x2="441.10" y2="578.50" stroke="#d98c1c" stroke-width="2.8"/><line x1="441.10" y1="578.50" x2="447.60" y2="588.00" stroke="#d98c1c" stroke-width="2.8"/><line x1="447.60" y1="588.00" x2="442.50" y2="597.50" stroke="#d98c1c" stroke-width="2.8"/><line x1="442.50" y1="597.50" x2="430.10" y2="596.70" stroke="#d98c1c" stroke-width="2.8"/><line x1="427.20" y1="609.90" x2="430.10" y2="596.70" stroke="#b4b8ee" stroke-width="2.2"/><line x1="430.90" y1="579.90" x2="426.50" y2="576.30" stroke="#b8eef4" stroke-width="2.2"/><line x1="447.60" y1="588.00" x2="454.20" y2="588.00" stroke="#b8eef4" stroke-width="2.2"/><line x1="442.50" y1="597.50" x2="446.90" y2="603.30" stroke="#b8eef4" stroke-width="2.2"/><line x1="425.70" y1="587.20" x2="419.90" y2="590.90" stroke="#b8eef4" stroke-width="2.2"/><line x1="427.20" y1="609.90" x2="432.00" y2="614.50" stroke="#b8eef4" stroke-width="2.2"/><line x1="376.90" y1="605.00" x2="370.80" y2="615.90" stroke="#cfcfcf" stroke-width="2.2"/><line x1="376.90" y1="605.00" x2="383.90" y2="616.80" stroke="#cfcfcf" stroke-width="2.2"/><line x1="370.80" y1="615.90" x2="383.90" y2="616.80" stroke="#cfcfcf" stroke-width="2.2"/><line x1="370.80" y1="615.90" x2="377.00" y2="621.00" stroke="#cfcfcf" stroke-width="2.2"/><line x1="383.90" y1="616.80" x2="377.00" y2="621.00" stroke="#cfcfcf" stroke-width="2.2"/><line x1="376.90" y1="605.00" x2="377.00" y2="621.00" stroke="#cfcfcf" stroke-width="2.2"/><circle cx="298.90" cy="575.60" r="1.75" fill="url(#gH)"/><circle cx="308.40" cy="589.90" r="1.75" fill="url(#gH)"/><circle cx="274.10" cy="593.60" r="1.75" fill="url(#gH)"/><circle cx="284.30" cy="607.70" r="1.75" fill="url(#gH)"/><circle cx="317.20" cy="610.40" r="1.75" fill="url(#gH)"/><circle cx="335.40" cy="645.40" r="1.75" fill="url(#gH)"/><circle cx="296.00" cy="644.00" r="1.75" fill="url(#gH)"/><circle cx="356.50" cy="641.50" r="1.75" fill="url(#gH)"/><circle cx="370.00" cy="643.00" r="1.75" fill="url(#gH)"/><circle cx="417.70" cy="658.80" r="1.75" fill="url(#gH)"/><circle cx="426.50" cy="576.30" r="1.75" fill="url(#gH)"/><circle cx="454.20" cy="588.00" r="1.75" fill="url(#gH)"/><circle cx="446.90" cy="603.30" r="1.75" fill="url(#gH)"/><circle cx="419.90" cy="590.90" r="1.75" fill="url(#gH)"/><circle cx="432.00" cy="614.50" r="1.75" fill="url(#gH)"/><circle cx="279.20" cy="575.30" r="2.5" fill="url(#gN)"/><circle cx="303.30" cy="609.60" r="2.5" fill="url(#gN)"/><circle cx="322.30" cy="614.00" r="2.5" fill="url(#gO)"/><circle cx="344.20" cy="634.50" r="2.5" fill="url(#gN)"/><circle cx="328.90" cy="647.60" r="2.5" fill="url(#gO)"/><circle cx="300.40" cy="656.40" r="2.5" fill="url(#gN)"/><circle cx="296.00" cy="637.40" r="2.5" fill="url(#gO)"/><circle cx="384.80" cy="631.70" r="2.5" fill="url(#gN)"/><circle cx="401.70" cy="616.40" r="2.5" fill="url(#gO)"/><circle cx="427.20" cy="609.90" r="2.5" fill="url(#gN)"/><circle cx="432.30" cy="627.40" r="2.5" fill="url(#gO)"/><circle cx="427.20" cy="655.90" r="2.5" fill="url(#gN)"/><circle cx="406.80" cy="650.00" r="2.5" fill="url(#gO)"/><circle cx="285.10" cy="583.40" r="2.85" fill="url(#gC)"/><circle cx="296.00" cy="581.90" r="2.85" fill="url(#gC)"/><circle cx="301.80" cy="591.40" r="2.85" fill="url(#gC)"/><circle cx="297.50" cy="600.20" r="2.85" fill="url(#gC)"/><circle cx="287.20" cy="600.90" r="2.85" fill="url(#gC)"/><circle cx="281.40" cy="592.10" r="2.85" fill="url(#gC)"/><circle cx="304.00" cy="616.20" r="2.85" fill="url(#gC)"/><circle cx="309.10" cy="625.00" r="2.85" fill="url(#gC)"/><circle cx="320.10" cy="624.20" r="2.85" fill="url(#gC)"/><circle cx="326.70" cy="631.50" r="2.85" fill="url(#gC)"/><circle cx="323.00" cy="641.00" r="2.85" fill="url(#gC)"/><circle cx="312.80" cy="641.80" r="2.85" fill="url(#gC)"/><circle cx="307.00" cy="634.50" r="2.85" fill="url(#gC)"/><circle cx="336.20" cy="627.20" r="2.85" fill="url(#gC)"/><circle cx="310.60" cy="651.30" r="2.85" fill="url(#gC)"/><circle cx="298.20" cy="662.90" r="2.85" fill="url(#gC)"/><circle cx="352.50" cy="633.00" r="2.85" fill="url(#gC)"/><circle cx="358.00" cy="629.00" r="2.85" fill="url(#gC)"/><circle cx="371.00" cy="629.00" r="2.85" fill="url(#gC)"/><circle cx="378.00" cy="633.00" r="2.85" fill="url(#gC)"/><circle cx="371.00" cy="637.00" r="2.85" fill="url(#gC)"/><circle cx="358.00" cy="637.50" r="2.85" fill="url(#gC)"/><circle cx="393.60" cy="634.70" r="2.85" fill="url(#gC)"/><circle cx="406.00" cy="622.30" r="2.85" fill="url(#gC)"/><circle cx="417.70" cy="620.80" r="2.85" fill="url(#gC)"/><circle cx="424.30" cy="629.60" r="2.85" fill="url(#gC)"/><circle cx="420.60" cy="639.80" r="2.85" fill="url(#gC)"/><circle cx="409.70" cy="641.30" r="2.85" fill="url(#gC)"/><circle cx="402.40" cy="632.50" r="2.85" fill="url(#gC)"/><circle cx="421.40" cy="612.10" r="2.85" fill="url(#gC)"/><circle cx="425.70" cy="647.10" r="2.85" fill="url(#gC)"/><circle cx="430.10" cy="596.70" r="2.85" fill="url(#gC)"/><circle cx="425.70" cy="587.20" r="2.85" fill="url(#gC)"/><circle cx="430.90" cy="579.90" r="2.85" fill="url(#gC)"/><circle cx="441.10" cy="578.50" r="2.85" fill="url(#gC)"/><circle cx="447.60" cy="588.00" r="2.85" fill="url(#gC)"/><circle cx="442.50" cy="597.50" r="2.85" fill="url(#gC)"/><circle cx="376.90" cy="605.00" r="2.6" fill="url(#gP)"/><circle cx="370.80" cy="615.90" r="2.6" fill="url(#gP)"/><circle cx="383.90" cy="616.80" r="2.6" fill="url(#gP)"/><circle cx="377.00" cy="621.00" r="2.6" fill="url(#gP)"/>
<circle cx="367" cy="614" r="8.5" fill="url(#bC)" fill-opacity="0.78"/>
<circle cx="388" cy="615" r="7.5" fill="url(#bC)" fill-opacity="0.78"/>
<circle cx="377" cy="601" r="6.5" fill="url(#bC)" fill-opacity="0.78"/>
<circle cx="377" cy="620" r="6.5" fill="url(#bC)" fill-opacity="0.78"/>
<circle cx="371" cy="606" r="5" fill="url(#bC)" fill-opacity="0.78"/>
<circle cx="384" cy="606" r="5" fill="url(#bC)" fill-opacity="0.78"/>
<circle cx="305.8" cy="605.8" r="4.4" fill="url(#bY)" fill-opacity="0.8"/>
<ellipse cx="302.1" cy="618.5" rx="6.5" ry="7" transform="rotate(0 302.1 618.5)" fill="url(#bY)" fill-opacity="0.8"/>
<circle cx="308.7" cy="632.8" r="5.2" fill="url(#bY)" fill-opacity="0.8"/>
<circle cx="321.1" cy="624" r="4" fill="url(#bY)" fill-opacity="0.8"/>
<ellipse cx="331.5" cy="630" rx="6.5" ry="5.5" transform="rotate(0 331.5 630)" fill="url(#bY)" fill-opacity="0.8"/>
<circle cx="344.5" cy="630.6" r="4.6" fill="url(#bY)" fill-opacity="0.8"/>
<ellipse cx="309.8" cy="650.5" rx="6.2" ry="7" transform="rotate(-10 309.8 650.5)" fill="url(#bY)" fill-opacity="0.8"/>
<ellipse cx="299.5" cy="658" rx="4.6" ry="6.2" transform="rotate(15 299.5 658)" fill="url(#bY)" fill-opacity="0.8"/>
<circle cx="321.1" cy="638.6" r="4" fill="url(#bY)" fill-opacity="0.8"/>
<ellipse cx="357.6" cy="634.2" rx="5.2" ry="5.8" transform="rotate(0 357.6 634.2)" fill="url(#bY)" fill-opacity="0.8"/>
<circle cx="367" cy="636" r="4.5" fill="url(#bY)" fill-opacity="0.8"/>
<circle cx="298" cy="634" r="3.2" fill="url(#bY)" fill-opacity="0.8"/>
<ellipse cx="373" cy="594" rx="3" ry="2.2" transform="rotate(0 373 594)" fill="url(#bY)" fill-opacity="0.8"/>
<circle cx="365" cy="623" r="2.5" fill="url(#bY)" fill-opacity="0.8"/>
<circle cx="300" cy="602" r="2.6" fill="url(#bY)" fill-opacity="0.8"/>
<circle cx="428.7" cy="628.6" r="5.8" fill="url(#bC)" fill-opacity="0.8"/>
<circle cx="415" cy="639.5" r="7" fill="url(#bC)" fill-opacity="0.8"/>
<circle cx="401.4" cy="648" r="5.6" fill="url(#bC)" fill-opacity="0.8"/>
<circle cx="420.5" cy="656" r="5.2" fill="url(#bC)" fill-opacity="0.8"/>
<circle cx="399.8" cy="615" r="3.6" fill="url(#bC)" fill-opacity="0.8"/>
<circle cx="382.5" cy="635.5" r="4.8" fill="url(#bC)" fill-opacity="0.8"/>
<circle cx="414.2" cy="611.8" r="3.2" fill="url(#bC)" fill-opacity="0.8"/>
<circle cx="422" cy="617" r="3" fill="url(#bC)" fill-opacity="0.8"/>
<circle cx="405" cy="624" r="3" fill="url(#bC)" fill-opacity="0.8"/>
<ellipse cx="425.2" cy="476.7" rx="28.3" ry="56.3" transform="rotate(25.3 425.2 476.7)" fill="none" stroke="#111" stroke-width="1.1" stroke-dasharray="3.5,2.5"/>
<line x1="390.40" y1="429.60" x2="404.50" y2="441.10" stroke="#000" stroke-width="1.3" />
<path d="M410.1,445.7 L401.9,444.3 L406.9,438.1 Z" fill="#000" stroke="none" stroke-width="1" />
<path d="M318.5,603 C322,592 335,588 345,590.5 L344.5,586.5 L356.5,596.5 L342.5,601.5 L343.5,597 C335,594.5 325,596 318.5,603 Z" fill="url(#barw)" stroke="#2a7cc8" stroke-width="1.0" />
<path d="M344,658.5 C352,663.5 365,661 372,656 L368.5,654 L383.5,649.3 L376,661 L375,657.5 C366,664.5 352,665.5 344,658.5 Z" fill="url(#barw)" stroke="#2a7cc8" stroke-width="1.0" />
<text x="326.5" y="591.2" font-size="10.5" fill="#2a7cc8">e<tspan font-size="7" dy="-4">-</tspan></text>
<text x="355.5" y="671.5" font-size="10.5" fill="#2a7cc8">e<tspan font-size="7" dy="-4">-</tspan></text>
<text x="454.60" y="401.80" font-size="14" text-anchor="start" font-weight="bold" fill="#000" >f</text>
<path d="M584.40,393.50 L584.33,393.69 L584.26,393.87 L584.20,394.06 L584.14,394.25 L584.08,394.43 L584.03,394.62 L583.97,394.81 L583.93,395.00 L583.88,395.18 L583.84,395.37 L583.80,395.56 L583.76,395.74 L583.73,395.93 L583.70,396.12 L583.68,396.30 L583.66,396.49 L583.65,396.68 L583.64,396.86 L583.63,397.05 L583.63,397.24 L583.63,397.43 L583.64,397.61 L583.65,397.80 L583.66,397.99 L583.68,398.17 L583.71,398.36 L583.74,398.55 L583.77,398.73 L583.80,398.92 L583.84,399.11 L583.89,399.29 L583.93,399.48 L583.98,399.67 L584.03,399.86 L584.09,400.04 L584.14,400.23 L584.20,400.42 L584.26,400.60 L584.32,400.79 L584.38,400.98 L584.45,401.16 L584.51,401.35 L584.57,401.54 L584.64,401.72 L584.70,401.91 L584.77,402.10 L584.83,402.29 L584.89,402.47 L584.96,402.66 L585.02,402.85 L585.07,403.03 L585.13,403.22 L585.19,403.41 L585.24,403.59 L585.29,403.78 L585.35,403.97 L585.39,404.15 L585.44,404.34 L585.48,404.53 L585.53,404.72 L585.57,404.90 L585.61,405.09 L585.64,405.28 L585.68,405.46 L585.71,405.65 L585.74,405.84 L585.77,406.02 L585.80,406.21 L585.82,406.40 L585.85,406.58 L585.87,406.77 L585.89,406.96 L585.91,407.15 L585.93,407.33 L585.95,407.52 L585.97,407.71 L585.99,407.89 L586.01,408.08 L586.03,408.27 L586.05,408.45 L586.07,408.64 L586.08,408.83 L586.10,409.02 L586.12,409.20 L586.14,409.39 L586.16,409.58 L586.18,409.76 L586.20,409.95 L586.22,410.14 L586.24,410.32 L586.27,410.51 L586.29,410.70 L586.32,410.88 L586.34,411.07 L586.37,411.26 L586.39,411.45 L586.42,411.63 L586.45,411.82 L586.47,412.01 L586.50,412.19 L586.53,412.38 L586.56,412.57 L586.59,412.75 L586.62,412.94 L586.65,413.13 L586.67,413.31 L586.70,413.50 L586.70,413.69 L586.70,413.88 L586.70,414.06 L586.70,414.25 L586.70,414.44 L586.70,414.62 L586.70,414.81 L586.70,415.00 L586.70,415.18 L586.70,415.37 L586.70,415.56 L586.70,415.74 L586.70,415.93 L586.70,416.12 L586.70,416.31 L586.70,416.49 L586.70,416.68 L586.70,416.87 L586.70,417.05 L586.70,417.24 L586.70,417.43 L586.70,417.61 L586.70,417.80 L586.70,417.99 L586.70,418.17 L586.70,418.36 L586.70,418.55 L586.70,418.74 L586.70,418.92 L586.70,419.11 L586.70,419.30 L586.70,419.48 L586.70,419.67 L586.70,419.86 L586.70,420.04 L586.70,420.23 L586.70,420.42 L586.70,420.60 L586.70,420.79 L586.70,420.98 L586.70,421.17 L586.70,421.35 L586.70,421.54 L586.70,421.73 L586.68,421.91 L586.65,422.10 L586.63,422.29 L586.60,422.47 L586.57,422.66 L586.55,422.85 L586.53,423.03 L586.50,423.22 L586.48,423.41 L586.46,423.60 L586.44,423.78 L586.42,423.97 L586.40,424.16 L586.39,424.34 L586.37,424.53 L586.36,424.72 L586.35,424.90 L586.34,425.09 L586.33,425.28 L586.33,425.46 L586.32,425.65 L586.32,425.84 L586.32,426.03 L586.32,426.21 L586.33,426.40 L586.33,426.59 L586.34,426.77 L586.35,426.96 L586.36,427.15 L586.37,427.33 L586.38,427.52 L586.40,427.71 L586.42,427.89 L586.43,428.08 L586.45,428.27 L586.47,428.46 L586.50,428.64 L586.52,428.83 L586.54,429.02 L586.57,429.20 L586.59,429.39 L586.62,429.58 L586.64,429.76 L586.67,429.95 L586.70,430.14 L586.70,430.32 L586.70,430.51 L586.70,430.70 L586.70,430.89 L586.70,431.07 L586.70,431.26 L586.70,431.45 L586.70,431.63 L586.70,431.82 L586.70,432.01 L586.70,432.19 L586.70,432.38 L586.70,432.57 L586.70,432.75 L586.70,432.94 L586.70,433.13 L586.70,433.32 L586.70,433.50 L586.70,433.69 L586.70,433.88 L586.70,434.06 L586.70,434.25 L586.70,434.44 L586.70,434.62 L586.70,434.81 L586.70,435.00 L586.70,435.19 L586.70,435.37 L586.70,435.56 L586.70,435.75 L586.70,435.93 L586.70,436.12 L586.70,436.31 L586.70,436.49 L586.70,436.68 L586.70,436.87 L586.70,437.05 L586.70,437.24 L586.70,437.43 L586.70,437.62 L586.70,437.80 L586.70,437.99 L586.70,438.18 L586.70,438.36 L586.70,438.55 L586.67,438.74 L586.65,438.92 L586.62,439.11 L586.59,439.30 L586.57,439.48 L586.54,439.67 L586.52,439.86 L586.49,440.05 L586.47,440.23 L586.45,440.42 L586.43,440.61 L586.41,440.79 L586.39,440.98 L586.37,441.17 L586.35,441.35 L586.33,441.54 L586.31,441.73 L586.30,441.91 L586.28,442.10 L586.27,442.29 L586.25,442.48 L586.23,442.66 L586.21,442.85 L586.19,443.04 L586.17,443.22 L586.15,443.41 L586.12,443.60 L586.09,443.78 L586.06,443.97 L586.02,444.16 L585.97,444.34 L585.92,444.53 L585.86,444.72 L585.79,444.91 L585.71,445.09 L585.63,445.28 L585.53,445.47 L585.42,445.65 L585.30,445.84 L585.17,446.03 L585.02,446.21 L584.86,446.40 L584.68,446.59 L584.49,446.77 L584.28,446.96 L584.06,447.15 L583.82,447.34 L583.57,447.52 L583.30,447.71 L583.02,447.90 L582.72,448.08 L582.40,448.27 L582.08,448.46 L581.74,448.64 L581.39,448.83 L581.02,449.02 L580.65,449.20 L580.27,449.39 L579.88,449.58 L579.48,449.77 L579.08,449.95 L578.67,450.14 L578.26,450.33 L577.85,450.51 L577.43,450.70 L577.02,450.89 L576.61,451.07 L576.20,451.26 L575.80,451.45 L575.40,451.63 L575.00,451.82 L574.59,452.01 L574.18,452.20 L573.75,452.38 L573.28,452.57 L572.74,452.76 L572.10,452.94 L571.30,453.13 L570.29,453.32 L568.98,453.50 L567.30,453.69 L565.17,453.88 L562.51,454.06 L559.29,454.25 L555.49,454.44 L551.18,454.63 L546.47,454.81 L541.55,455.00 L536.67,455.19 L532.12,455.37 L528.22,455.56 L525.26,455.75 L523.47,455.93 L523.03,456.12 L523.98,456.31 L526.27,456.49 L529.73,456.68 L534.12,456.87 L539.15,457.06 L544.50,457.24 L549.86,457.43 L555.00,457.62 L559.73,457.80 L563.91,457.99 L567.50,458.18 L570.49,458.36 L572.93,458.55 L574.89,458.74 L576.44,458.93 L577.67,459.11 L578.66,459.30 L579.46,459.49 L580.12,459.67 L580.69,459.86 L581.19,460.05 L581.64,460.23 L582.06,460.42 L582.44,460.61 L582.80,460.79 L583.14,460.98 L583.45,461.17 L583.75,461.36 L584.03,461.54 L584.29,461.73 L584.54,461.92 L584.76,462.10 L584.97,462.29 L585.17,462.48 L585.35,462.66 L585.51,462.85 L585.66,463.04 L585.79,463.22 L585.92,463.41 L586.02,463.60 L586.11,463.79 L586.19,463.97 L586.25,464.16 L586.29,464.35 L586.31,464.53 L586.30,464.72 L586.27,464.91 L586.21,465.09 L586.11,465.28 L585.98,465.47 L585.81,465.65 L585.61,465.84 L585.37,466.03 L585.10,466.22 L584.79,466.40 L584.47,466.59 L584.13,466.78 L583.79,466.96 L583.46,467.15 L583.15,467.34 L582.87,467.52 L582.64,467.71 L582.47,467.90 L582.36,468.08 L582.32,468.27 L582.36,468.46 L582.46,468.65 L582.63,468.83 L582.86,469.02 L583.13,469.21 L583.44,469.39 L583.77,469.58 L584.11,469.77 L584.45,469.95 L584.78,470.14 L585.09,470.33 L585.37,470.51 L585.62,470.70 L585.84,470.89 L586.02,471.08 L586.17,471.26 L586.30,471.45 L586.39,471.64 L586.46,471.82 L586.50,472.01 L586.53,472.20 L586.55,472.38 L586.56,472.57 L586.55,472.76 L586.54,472.94 L586.52,473.13 L586.50,473.32 L586.48,473.51 L586.45,473.69 L586.42,473.88 L586.38,474.07 L586.33,474.25 L586.28,474.44 L586.21,474.63 L586.13,474.81 L586.02,475.00 L585.90,475.19 L585.75,475.37 L585.56,475.56 L585.35,475.75 L585.09,475.94 L584.80,476.12 L584.47,476.31 L584.11,476.50 L583.72,476.68 L583.31,476.87 L582.88,477.06 L582.46,477.24 L582.06,477.43 L581.68,477.62 L581.35,477.80 L581.09,477.99 L580.89,478.18 L580.78,478.37 L580.75,478.55 L580.82,478.74 L580.97,478.93 L581.20,479.11 L581.51,479.30 L581.87,479.49 L582.28,479.67 L582.71,479.86 L583.16,480.05 L583.60,480.23 L584.02,480.42 L584.41,480.61 L584.76,480.80 L585.05,480.98 L585.29,481.17 L585.46,481.36 L585.56,481.54 L585.60,481.73 L585.57,481.92 L585.47,482.10 L585.32,482.29 L585.11,482.48 L584.87,482.66 L584.60,482.85 L584.31,483.04 L584.04,483.23 L583.78,483.41 L583.56,483.60 L583.39,483.79 L583.28,483.97 L583.25,484.16 L583.28,484.35 L583.39,484.53 L583.56,484.72 L583.78,484.91 L584.03,485.10 L584.31,485.28 L584.60,485.47 L584.88,485.66 L585.13,485.84 L585.36,486.03 L585.54,486.22 L585.68,486.40 L585.77,486.59 L585.82,486.78 L585.83,486.96 L585.80,487.15 L585.73,487.34 L585.64,487.53 L585.52,487.71 L585.39,487.90 L585.25,488.09 L585.10,488.27 L584.95,488.46 L584.81,488.65 L584.68,488.83 L584.55,489.02 L584.45,489.21 L584.35,489.39 L584.28,489.58 L584.22,489.77 L584.19,489.96 L584.16,490.14 L584.15,490.33 L584.15,490.52 L584.16,490.70 L584.17,490.89 L584.17,491.08 L584.16,491.26 L584.14,491.45 L584.09,491.64 L584.02,491.82 L583.93,492.01 L583.80,492.20 L583.63,492.39 L583.43,492.57 L583.20,492.76 L582.93,492.95 L582.64,493.13 L582.32,493.32 L581.99,493.51 L581.65,493.69 L581.31,493.88 L580.99,494.07 L580.68,494.25 L580.41,494.44 L580.17,494.63 L579.99,494.82 L579.86,495.00 L579.79,495.19 L579.78,495.38 L579.85,495.56 L579.97,495.75 L580.16,495.94 L580.40,496.12 L580.70,496.31 L581.04,496.50 L581.42,496.68 L581.82,496.87 L582.24,497.06 L582.67,497.25 L583.10,497.43 L583.52,497.62 L583.92,497.81 L584.31,497.99 L584.67,498.18 L585.00,498.37 L585.31,498.55 L585.58,498.74 L585.83,498.93 L586.04,499.11 L586.23,499.30 L586.39,499.49 L586.53,499.68 L586.64,499.86 L586.70,500.05 L586.70,500.24 L586.70,500.42 L586.70,500.61 L586.70,500.80 L586.70,500.98 L586.70,501.17 L586.70,501.36 L586.70,501.54 L586.70,501.73 L586.70,501.92 L586.70,502.11 L586.70,502.29 L586.70,502.48 L586.70,502.67 L586.70,502.85 L586.70,503.04 L586.70,503.23 L586.70,503.41 L586.70,503.60 L586.70,503.79 L586.70,503.97 L586.70,504.16 L586.70,504.35 L586.70,504.54 L586.70,504.72 L586.70,504.91 L586.70,505.10 L586.70,505.28 L586.70,505.47 L586.70,505.66 L586.68,505.84 L586.65,506.03 L586.63,506.22 L586.61,506.40 L586.59,506.59 L586.57,506.78 L586.55,506.97 L586.54,507.15 L586.54,507.34 L586.54,507.53 L586.56,507.71 L586.58,507.90 L586.61,508.09 L586.66,508.27 L586.70,508.46 L586.70,508.65 L586.70,508.83 L586.70,509.02 L586.70,509.21 L586.70,509.40 L586.70,509.58 L586.70,509.77 L586.70,509.96 L586.70,510.14 L586.70,510.33 L586.70,510.52 L586.70,510.70 L586.70,510.89 L586.70,511.08 L586.70,511.26 L586.70,511.45 L586.70,511.64 L586.70,511.83 L586.70,512.01 L586.70,512.20 L586.70,512.39 L586.70,512.57 L586.70,512.76 L586.70,512.95 L586.70,513.13 L586.70,513.32 L586.70,513.51 L586.70,513.70 L586.70,513.88 L586.70,514.07 L586.70,514.26 L586.70,514.44 L586.70,514.63 L586.70,514.82 L586.70,515.00 L586.70,515.19 L586.70,515.38 L586.70,515.56 L586.70,515.75 L586.70,515.94 L586.70,516.13 L586.70,516.31 L586.70,516.50 L586.70,516.69 L586.70,516.87 L586.70,517.06 L586.70,517.25 L586.70,517.43 L586.70,517.62 L586.70,517.81 L586.70,517.99 L586.70,518.18 L586.70,518.37 L586.70,518.56 L586.70,518.74 L586.70,518.93 L586.70,519.12 L586.70,519.30 L586.70,519.49 L586.70,519.68 L586.70,519.86 L586.70,520.05 L586.70,520.24 L586.70,520.42 L586.70,520.61 L586.70,520.80 L586.70,520.99 L586.70,521.17 L586.70,521.36 L586.70,521.55 L586.70,521.73 L586.70,521.92 L586.70,522.11 L586.69,522.29 L586.66,522.48 L586.62,522.67 L586.58,522.85 L586.53,523.04 L586.48,523.23 L586.43,523.42 L586.37,523.60 L586.30,523.79 L586.22,523.98 L586.13,524.16 L586.03,524.35 L585.92,524.54 L585.79,524.72 L585.64,524.91 L585.47,525.10 L585.28,525.28 L585.07,525.47 L584.83,525.66 L584.57,525.85 L584.28,526.03 L583.96,526.22 L583.61,526.41 L583.24,526.59 L582.84,526.78 L582.42,526.97 L581.98,527.15 L581.53,527.34 L581.06,527.53 L580.60,527.71 L580.13,527.90 L579.67,528.09 L579.23,528.28 L578.81,528.46 L578.42,528.65 L578.07,528.84 L577.76,529.02 L577.51,529.21 L577.31,529.40 L577.17,529.58 L577.10,529.77 L577.09,529.96 L577.15,530.14 L577.27,530.33 L577.46,530.52 L577.71,530.71 L578.01,530.89 L578.36,531.08 L578.76,531.27 L579.19,531.45 L579.65,531.64 L580.13,531.83 L580.63,532.01 L581.13,532.20 L581.63,532.39 L582.13,532.57 L582.61,532.76 L583.07,532.95 L583.51,533.14 L583.92,533.32 L584.31,533.51 L584.67,533.70 L584.99,533.88 L585.29,534.07 L585.55,534.26 L585.79,534.44 L585.99,534.63 L586.17,534.82 L586.32,535.00 L586.46,535.19 L586.56,535.38 L586.65,535.57 L586.70,535.75 L586.70,535.94 L586.70,536.13 L586.70,536.31 L586.70,536.50 L586.70,536.69 L586.70,536.87 L586.70,537.06 L586.70,537.25 L586.70,537.44 L586.70,537.62 L586.70,537.81 L586.70,538.00 L586.70,538.18 L586.70,538.37 L586.70,538.56 L586.70,538.74 L586.70,538.93 L586.70,539.12 L586.69,539.30 L586.66,539.49 L586.63,539.68 L586.61,539.87 L586.58,540.05 L586.56,540.24 L586.53,540.43 L586.51,540.61 L586.49,540.80 L586.47,540.99 L586.45,541.17 L586.43,541.36 L586.41,541.55 L586.39,541.73 L586.38,541.92 L586.36,542.11 L586.35,542.30 L586.34,542.48 L586.33,542.67 L586.33,542.86 L586.32,543.04 L586.32,543.23 L586.32,543.42 L586.32,543.60 L586.32,543.79 L586.33,543.98 L586.34,544.16 L586.34,544.35 L586.35,544.54 L586.37,544.73 L586.38,544.91 L586.39,545.10 L586.41,545.29 L586.43,545.47 L586.45,545.66 L586.47,545.85 L586.49,546.03 L586.51,546.22 L586.54,546.41 L586.56,546.59 L586.58,546.78 L586.61,546.97 L586.64,547.16 L586.66,547.34 L586.69,547.53 L586.70,547.72 L586.70,547.90 L586.70,548.09 L586.70,548.28 L586.70,548.46 L586.70,548.65 L586.70,548.84 L586.70,549.02 L586.70,549.21 L586.70,549.40 L586.70,549.59 L586.70,549.77 L586.70,549.96 L586.70,550.15 L586.70,550.33 L586.70,550.52 L586.70,550.71 L586.70,550.89 L586.70,551.08 L586.70,551.27 L586.70,551.45 L586.70,551.64 L586.70,551.83 L586.70,552.02 L586.70,552.20 L586.70,552.39 L586.70,552.58 L586.70,552.76 L586.70,552.95 L586.70,553.14 L586.70,553.32 L586.70,553.51 L586.70,553.70 L586.70,553.88 L586.70,554.07 L586.70,554.26 L586.70,554.45 L586.70,554.63 L586.70,554.82 L586.70,555.01 L586.70,555.19 L586.70,555.38 L586.70,555.57 L586.70,555.75 L586.70,555.94 L586.68,556.13 L586.65,556.31 L586.63,556.50 L586.60,556.69 L586.58,556.88 L586.55,557.06 L586.53,557.25 L586.50,557.44 L586.48,557.62 L586.46,557.81 L586.44,558.00 L586.42,558.18 L586.40,558.37 L586.39,558.56 L586.37,558.74 L586.36,558.93 L586.35,559.12 L586.34,559.31 L586.33,559.49 L586.33,559.68 L586.32,559.87 L586.32,560.05 L586.32,560.24 L586.32,560.43 L586.33,560.61 L586.33,560.80 L586.34,560.99 L586.35,561.17 L586.36,561.36 L586.37,561.55 L586.38,561.74 L586.40,561.92 L586.41,562.11 L586.43,562.30 L586.45,562.48 L586.47,562.67 L586.49,562.86 L586.52,563.04 L586.54,563.23 L586.57,563.42 L586.59,563.61 L586.62,563.79 L586.64,563.98 L586.67,564.17 L586.70,564.35 L586.70,564.54 L586.70,564.73 L586.70,564.91 L586.70,565.10 L586.70,565.29 L586.70,565.47 L586.70,565.66 L586.70,565.85 L586.70,566.04 L586.70,566.22 L586.70,566.41 L586.70,566.60 L586.70,566.78 L586.70,566.97 L586.70,567.16 L586.70,567.34 L586.70,567.53 L586.70,567.72 L586.70,567.90 L586.70,568.09 L586.70,568.28 L586.70,568.47 L586.70,568.65 L586.70,568.84 L586.70,569.03 L586.70,569.21 L586.70,569.40 L586.70,569.59 L586.70,569.77 L586.70,569.96 L586.70,570.15 L586.70,570.33 L586.70,570.52 L586.70,570.71 L586.70,570.90 L586.70,571.08 L586.70,571.27 L586.70,571.46 L586.70,571.64 L586.70,571.83 L586.70,572.02 L586.70,572.20 L586.70,572.39 L586.70,572.58 L586.70,572.76 L586.67,572.95 L586.65,573.14 L586.62,573.33 L586.60,573.51 L586.57,573.70 L586.55,573.89 L586.52,574.07 L586.50,574.26 L586.48,574.45 L586.46,574.63 L586.44,574.82 L586.42,575.01 L586.40,575.19 L586.39,575.38 L586.37,575.57 L586.36,575.76 L586.35,575.94 L586.34,576.13 L586.33,576.32 L586.33,576.50 L586.32,576.69 L586.32,576.88 L586.32,577.06 L586.32,577.25 L586.33,577.44 L586.33,577.62 L586.34,577.81 L586.35,578.00 L586.36,578.19 L586.37,578.37 L586.39,578.56 L586.40,578.75 L586.42,578.93 L586.44,579.12 L586.46,579.31 L586.48,579.49 L586.50,579.68 L586.52,579.87 L586.55,580.05 L586.57,580.24 L586.60,580.43 L586.62,580.62 L586.65,580.80 L586.68,580.99 L586.70,581.18 L586.70,581.36 L586.70,581.55 L586.70,581.74 L586.70,581.92 L586.70,582.11 L586.70,582.30 L586.70,582.48 L586.70,582.67 L586.70,582.86 L586.70,583.05 L586.70,583.23 L586.70,583.42 L586.70,583.61 L586.70,583.79 L586.70,583.98 L586.70,584.17 L586.70,584.35 L586.70,584.54 L586.70,584.73 L586.70,584.91 L586.70,585.10 L586.70,585.29 L586.70,585.48 L586.70,585.66 L586.70,585.85 L586.70,586.04 L586.70,586.22 L586.70,586.41 L586.70,586.60 L586.70,586.78 L586.70,586.97 L586.70,587.16 L586.70,587.34 L586.70,587.53 L586.70,587.72 L586.70,587.91 L586.70,588.09 L586.70,588.28 L586.70,588.47 L586.70,588.65 L586.70,588.84 L586.70,589.03 L586.70,589.21 L586.70,589.40 L586.69,589.59 L586.67,589.78 L586.64,589.96 L586.62,590.15 L586.59,590.34 L586.56,590.52 L586.54,590.71 L586.52,590.90 L586.49,591.08 L586.47,591.27 L586.45,591.46 L586.43,591.64 L586.41,591.83 L586.40,592.02 L586.38,592.21 L586.37,592.39 L586.36,592.58 L586.35,592.77 L586.34,592.95 L586.33,593.14 L586.33,593.33 L586.32,593.51 L586.32,593.70 L586.32,593.89 L586.32,594.07 L586.33,594.26 L586.33,594.45 L586.34,594.64 L586.35,594.82 L586.37,595.01 L586.38,595.20 L586.40,595.38 L586.42,595.57 L586.44,595.76 L586.46,595.94 L586.49,596.13 L586.52,596.32 L586.56,596.50 L586.60,596.69 L586.65,596.88 L586.70,597.07 L586.70,597.25 L586.70,597.44 L586.70,597.63 L586.70,597.81 L586.70,598.00 L586.70,598.19 L586.70,598.37 L586.70,598.56 L586.70,598.75 L586.70,598.93 L586.70,599.12 L586.70,599.31 L586.70,599.50 L586.70,599.68 L586.70,599.87 L586.70,600.06 L586.70,600.24 L586.70,600.43 L586.70,600.62 L586.70,600.80 L586.70,600.99 L586.70,601.18 L586.70,601.36 L586.70,601.55 L586.70,601.74 L586.70,601.93 L586.70,602.11 L586.70,602.30 L586.70,602.49 L586.70,602.67 L586.70,602.86 L586.70,603.05 L586.70,603.23 L586.70,603.42 L586.70,603.61 L586.70,603.79 L586.70,603.98 L586.70,604.17 L586.70,604.36 L586.70,604.54 L586.70,604.73 L586.70,604.92 L586.70,605.10 L586.70,605.29 L586.70,605.48 L586.70,605.66 L586.70,605.85 L586.70,606.04 L586.70,606.22 L586.70,606.41 L586.70,606.60 L586.70,606.79 L586.70,606.97 L586.70,607.16 L586.70,607.35 L586.70,607.53 L586.70,607.72 L586.70,607.91 L586.70,608.09 L586.70,608.28 L586.70,608.47 L586.70,608.65 L586.70,608.84 L586.70,609.03 L586.70,609.22 L586.70,609.40 L586.70,609.59 L586.70,609.78 L586.70,609.96 L586.70,610.15 L586.70,610.34 L586.70,610.52 L586.70,610.71 L586.70,610.90 L586.70,611.08 L586.70,611.27 L586.70,611.46 L586.70,611.65 L586.70,611.83 L586.70,612.02 L586.70,612.21 L586.70,612.39 L586.70,612.58 L586.70,612.77 L586.70,612.95 L586.70,613.14 L586.70,613.33 L586.70,613.51 L586.70,613.70 L586.70,613.89 L586.70,614.08 L586.70,614.26 L586.70,614.45 L586.70,614.64 L586.70,614.82 L586.70,615.01 L586.70,615.20 L586.70,615.38 L586.70,615.57 L586.70,615.76 L586.70,615.95 L586.70,616.13 L586.70,616.32 L586.70,616.51 L586.70,616.69 L586.70,616.88 L586.70,617.07 L586.70,617.25 L586.70,617.44 L586.70,617.63 L586.70,617.81 L586.70,618.00 L586.70,618.19 L586.70,618.38 L586.70,618.56 L586.70,618.75 L586.70,618.94 L586.70,619.12 L586.70,619.31 L586.70,619.50 L586.70,619.68 L586.70,619.87 L586.70,620.06 L586.70,620.24 L586.70,620.43 L586.70,620.62 L586.70,620.81 L586.70,620.99 L586.70,621.18 L586.70,621.37 L586.70,621.55 L586.70,621.74 L586.70,621.93 L586.70,622.11 L586.70,622.30 L586.70,622.49 L586.70,622.67 L586.70,622.86 L586.70,623.05 L586.70,623.24 L586.70,623.42 L586.70,623.61 L586.70,623.80 L586.70,623.98 L586.70,624.17 L586.70,624.36 L586.70,624.54 L586.70,624.73 L586.70,624.92 L586.70,625.10 L586.70,625.29 L586.70,625.48 L586.70,625.67 L586.70,625.85 L586.70,626.04 L586.70,626.23 L586.70,626.41 L586.70,626.60 L586.70,626.79 L586.70,626.97 L586.70,627.16 L586.70,627.35 L586.70,627.53 L586.70,627.72 L586.70,627.91 L586.70,628.10 L586.70,628.28 L586.70,628.47 L586.70,628.66 L586.70,628.84 L586.70,629.03 L586.70,629.22 L586.70,629.40 L586.70,629.59 L586.70,629.78 L586.70,629.96 L586.70,630.15 L586.70,630.34 L586.70,630.53 L586.70,630.71 L586.70,630.90 L586.70,631.09 L586.70,631.27 L586.70,631.46 L586.70,631.65 L586.70,631.83 L586.70,632.02 L586.70,632.21 L586.70,632.39 L586.70,632.58 L586.70,632.77 L586.70,632.96 L586.70,633.14 L586.70,633.33 L586.70,633.52 L586.70,633.70 L586.70,633.89 L586.70,634.08 L586.70,634.26 L586.70,634.45 L586.70,634.64 L586.70,634.82 L586.70,635.01 L586.70,635.20 L586.70,635.39 L586.70,635.57 L586.70,635.76 L586.70,635.95 L586.70,636.13 L586.70,636.32 L586.70,636.51 L586.70,636.69 L586.70,636.88 L586.70,637.07 L586.70,637.25 L586.70,637.44 L586.70,637.63 L586.70,637.82 L586.70,638.00 L586.70,638.19 L586.70,638.38 L586.70,638.56 L586.70,638.75 L586.70,638.94 L586.70,639.12 L586.70,639.31 L586.70,639.50 L586.70,639.68 L586.70,639.87 L586.68,640.06 L586.65,640.25 L586.62,640.43 L586.60,640.62 L586.57,640.81 L586.55,640.99 L586.52,641.18 L586.50,641.37 L586.48,641.55 L586.46,641.74 L586.44,641.93 L586.42,642.12 L586.40,642.30 L586.39,642.49 L586.37,642.68 L586.36,642.86 L586.35,643.05 L586.34,643.24 L586.33,643.42 L586.33,643.61 L586.32,643.80 L586.32,643.98 L586.32,644.17 L586.32,644.36 L586.33,644.55 L586.33,644.73 L586.34,644.92 L586.35,645.11 L586.36,645.29 L586.37,645.48 L586.39,645.67 L586.40,645.85 L586.42,646.04 L586.44,646.23 L586.46,646.41 L586.48,646.60 L586.50,646.79 L586.52,646.98 L586.55,647.16 L586.57,647.35 L586.60,647.54 L586.62,647.72 L586.65,647.91 L586.67,648.10 L586.70,648.28 L586.70,648.47 L586.70,648.66 L586.70,648.84 L586.70,649.03 L586.70,649.22 L586.70,649.41 L586.70,649.59 L586.70,649.78 L586.70,649.97 L586.70,650.15 L586.70,650.34 L586.70,650.53 L586.70,650.71 L586.70,650.90 L586.70,651.09 L586.70,651.27 L586.70,651.46 L586.70,651.65 L586.70,651.84 L586.70,652.02 L586.70,652.21 L586.70,652.40 L586.70,652.58 L586.70,652.77 L586.70,652.96 L586.70,653.14 L586.70,653.33 L586.70,653.52 L586.70,653.70 L586.70,653.89 L586.70,654.08 L586.70,654.27 L586.70,654.45 L586.70,654.64 L586.70,654.83 L586.70,655.01 L586.70,655.20 L586.7,655.2 L586.7,393.5 Z" fill="#f8d0d2" stroke="none" stroke-width="1" />
<path d="M586.70,393.50 L586.70,393.69 L586.70,393.87 L586.70,394.06 L586.70,394.25 L586.70,394.43 L586.70,394.62 L586.70,394.81 L586.70,395.00 L586.70,395.18 L586.70,395.37 L586.70,395.56 L586.70,395.74 L586.70,395.93 L586.70,396.12 L586.70,396.30 L586.70,396.49 L586.70,396.68 L586.70,396.86 L586.70,397.05 L586.70,397.24 L586.70,397.43 L586.70,397.61 L586.70,397.80 L586.70,397.99 L586.70,398.17 L586.70,398.36 L586.70,398.55 L586.70,398.73 L586.70,398.92 L586.70,399.11 L586.70,399.29 L586.70,399.48 L586.70,399.67 L586.70,399.86 L586.70,400.04 L586.70,400.23 L586.70,400.42 L586.70,400.60 L586.70,400.79 L586.70,400.98 L586.70,401.16 L586.70,401.35 L586.70,401.54 L586.70,401.72 L586.70,401.91 L586.70,402.10 L586.70,402.29 L586.70,402.47 L586.70,402.66 L586.70,402.85 L586.70,403.03 L586.70,403.22 L586.70,403.41 L586.70,403.59 L586.70,403.78 L586.70,403.97 L586.70,404.15 L586.70,404.34 L586.70,404.53 L586.70,404.72 L586.70,404.90 L586.70,405.09 L586.70,405.28 L586.70,405.46 L586.70,405.65 L586.70,405.84 L586.70,406.02 L586.70,406.21 L586.70,406.40 L586.70,406.58 L586.70,406.77 L586.70,406.96 L586.70,407.15 L586.70,407.33 L586.70,407.52 L586.70,407.71 L586.70,407.89 L586.70,408.08 L586.70,408.27 L586.70,408.45 L586.70,408.64 L586.70,408.83 L586.70,409.02 L586.70,409.20 L586.70,409.39 L586.70,409.58 L586.70,409.76 L586.70,409.95 L586.70,410.14 L586.70,410.32 L586.70,410.51 L586.70,410.70 L586.70,410.88 L586.70,411.07 L586.70,411.26 L586.70,411.45 L586.70,411.63 L586.70,411.82 L586.70,412.01 L586.70,412.19 L586.70,412.38 L586.70,412.57 L586.70,412.75 L586.70,412.94 L586.70,413.13 L586.70,413.31 L586.70,413.50 L586.73,413.69 L586.76,413.88 L586.79,414.06 L586.81,414.25 L586.84,414.44 L586.86,414.62 L586.89,414.81 L586.91,415.00 L586.93,415.18 L586.95,415.37 L586.97,415.56 L586.99,415.74 L587.01,415.93 L587.02,416.12 L587.04,416.31 L587.05,416.49 L587.06,416.68 L587.07,416.87 L587.07,417.05 L587.08,417.24 L587.08,417.43 L587.08,417.61 L587.08,417.80 L587.07,417.99 L587.07,418.17 L587.06,418.36 L587.05,418.55 L587.04,418.74 L587.03,418.92 L587.02,419.11 L587.00,419.30 L586.99,419.48 L586.97,419.67 L586.95,419.86 L586.93,420.04 L586.91,420.23 L586.88,420.42 L586.86,420.60 L586.84,420.79 L586.81,420.98 L586.78,421.17 L586.76,421.35 L586.73,421.54 L586.71,421.73 L586.70,421.91 L586.70,422.10 L586.70,422.29 L586.70,422.47 L586.70,422.66 L586.70,422.85 L586.70,423.03 L586.70,423.22 L586.70,423.41 L586.70,423.60 L586.70,423.78 L586.70,423.97 L586.70,424.16 L586.70,424.34 L586.70,424.53 L586.70,424.72 L586.70,424.90 L586.70,425.09 L586.70,425.28 L586.70,425.46 L586.70,425.65 L586.70,425.84 L586.70,426.03 L586.70,426.21 L586.70,426.40 L586.70,426.59 L586.70,426.77 L586.70,426.96 L586.70,427.15 L586.70,427.33 L586.70,427.52 L586.70,427.71 L586.70,427.89 L586.70,428.08 L586.70,428.27 L586.70,428.46 L586.70,428.64 L586.70,428.83 L586.70,429.02 L586.70,429.20 L586.70,429.39 L586.70,429.58 L586.70,429.76 L586.70,429.95 L586.70,430.14 L586.72,430.32 L586.75,430.51 L586.78,430.70 L586.80,430.89 L586.83,431.07 L586.85,431.26 L586.88,431.45 L586.90,431.63 L586.92,431.82 L586.94,432.01 L586.96,432.19 L586.98,432.38 L587.00,432.57 L587.01,432.75 L587.03,432.94 L587.04,433.13 L587.05,433.32 L587.06,433.50 L587.07,433.69 L587.07,433.88 L587.08,434.06 L587.08,434.25 L587.08,434.44 L587.08,434.62 L587.07,434.81 L587.07,435.00 L587.06,435.19 L587.05,435.37 L587.04,435.56 L587.03,435.75 L587.01,435.93 L587.00,436.12 L586.98,436.31 L586.96,436.49 L586.94,436.68 L586.92,436.87 L586.90,437.05 L586.88,437.24 L586.85,437.43 L586.83,437.62 L586.80,437.80 L586.78,437.99 L586.75,438.18 L586.73,438.36 L586.70,438.55 L586.70,438.74 L586.70,438.92 L586.70,439.11 L586.70,439.30 L586.70,439.48 L586.70,439.67 L586.70,439.86 L586.70,440.05 L586.70,440.23 L586.70,440.42 L586.70,440.61 L586.70,440.79 L586.70,440.98 L586.70,441.17 L586.70,441.35 L586.70,441.54 L586.70,441.73 L586.70,441.91 L586.70,442.10 L586.70,442.29 L586.70,442.48 L586.70,442.66 L586.70,442.85 L586.70,443.04 L586.70,443.22 L586.70,443.41 L586.70,443.60 L586.70,443.78 L586.70,443.97 L586.70,444.16 L586.70,444.34 L586.70,444.53 L586.70,444.72 L586.70,444.91 L586.70,445.09 L586.70,445.28 L586.70,445.47 L586.70,445.65 L586.70,445.84 L586.70,446.03 L586.70,446.21 L586.70,446.40 L586.70,446.59 L586.70,446.77 L586.70,446.96 L586.70,447.15 L586.70,447.34 L586.70,447.52 L586.70,447.71 L586.70,447.90 L586.70,448.08 L586.70,448.27 L586.70,448.46 L586.70,448.64 L586.70,448.83 L586.70,449.02 L586.70,449.20 L586.70,449.39 L586.70,449.58 L586.70,449.77 L586.70,449.95 L586.70,450.14 L586.70,450.33 L586.70,450.51 L586.70,450.70 L586.70,450.89 L586.70,451.07 L586.70,451.26 L586.70,451.45 L586.70,451.63 L586.70,451.82 L586.70,452.01 L586.70,452.20 L586.70,452.38 L586.70,452.57 L586.70,452.76 L586.70,452.94 L586.70,453.13 L586.70,453.32 L586.70,453.50 L586.70,453.69 L586.70,453.88 L586.70,454.06 L586.70,454.25 L586.70,454.44 L586.70,454.63 L586.70,454.81 L586.70,455.00 L586.70,455.19 L586.70,455.37 L586.70,455.56 L586.70,455.75 L586.70,455.93 L586.70,456.12 L586.70,456.31 L586.70,456.49 L586.70,456.68 L586.70,456.87 L586.70,457.06 L586.70,457.24 L586.70,457.43 L586.70,457.62 L586.70,457.80 L586.70,457.99 L586.70,458.18 L586.70,458.36 L586.70,458.55 L586.70,458.74 L586.70,458.93 L586.70,459.11 L586.70,459.30 L586.70,459.49 L586.70,459.67 L586.70,459.86 L586.70,460.05 L586.70,460.23 L586.70,460.42 L586.70,460.61 L586.70,460.79 L586.70,460.98 L586.70,461.17 L586.70,461.36 L586.70,461.54 L586.70,461.73 L586.70,461.92 L586.70,462.10 L586.70,462.29 L586.70,462.48 L586.70,462.66 L586.70,462.85 L586.70,463.04 L586.70,463.22 L586.70,463.41 L586.70,463.60 L586.70,463.79 L586.70,463.97 L586.70,464.16 L586.70,464.35 L586.70,464.53 L586.70,464.72 L586.70,464.91 L586.70,465.09 L586.70,465.28 L586.70,465.47 L586.70,465.65 L586.70,465.84 L586.70,466.03 L586.70,466.22 L586.70,466.40 L586.70,466.59 L586.70,466.78 L586.70,466.96 L586.70,467.15 L586.70,467.34 L586.70,467.52 L586.70,467.71 L586.70,467.90 L586.70,468.08 L586.70,468.27 L586.70,468.46 L586.70,468.65 L586.70,468.83 L586.70,469.02 L586.70,469.21 L586.70,469.39 L586.70,469.58 L586.70,469.77 L586.70,469.95 L586.70,470.14 L586.70,470.33 L586.70,470.51 L586.70,470.70 L586.70,470.89 L586.70,471.08 L586.70,471.26 L586.70,471.45 L586.70,471.64 L586.70,471.82 L586.70,472.01 L586.70,472.20 L586.70,472.38 L586.70,472.57 L586.70,472.76 L586.70,472.94 L586.70,473.13 L586.70,473.32 L586.70,473.51 L586.70,473.69 L586.70,473.88 L586.70,474.07 L586.70,474.25 L586.70,474.44 L586.70,474.63 L586.70,474.81 L586.70,475.00 L586.70,475.19 L586.70,475.37 L586.70,475.56 L586.70,475.75 L586.70,475.94 L586.70,476.12 L586.70,476.31 L586.70,476.50 L586.70,476.68 L586.70,476.87 L586.70,477.06 L586.70,477.24 L586.70,477.43 L586.70,477.62 L586.70,477.80 L586.70,477.99 L586.70,478.18 L586.70,478.37 L586.70,478.55 L586.70,478.74 L586.70,478.93 L586.70,479.11 L586.70,479.30 L586.70,479.49 L586.70,479.67 L586.70,479.86 L586.70,480.05 L586.70,480.23 L586.70,480.42 L586.70,480.61 L586.70,480.80 L586.70,480.98 L586.70,481.17 L586.70,481.36 L586.70,481.54 L586.70,481.73 L586.70,481.92 L586.70,482.10 L586.70,482.29 L586.70,482.48 L586.70,482.66 L586.70,482.85 L586.70,483.04 L586.70,483.23 L586.70,483.41 L586.70,483.60 L586.70,483.79 L586.70,483.97 L586.70,484.16 L586.70,484.35 L586.70,484.53 L586.70,484.72 L586.70,484.91 L586.70,485.10 L586.70,485.28 L586.70,485.47 L586.70,485.66 L586.70,485.84 L586.70,486.03 L586.70,486.22 L586.70,486.40 L586.70,486.59 L586.70,486.78 L586.70,486.96 L586.70,487.15 L586.70,487.34 L586.70,487.53 L586.70,487.71 L586.70,487.90 L586.70,488.09 L586.70,488.27 L586.70,488.46 L586.70,488.65 L586.70,488.83 L586.70,489.02 L586.70,489.21 L586.70,489.39 L586.70,489.58 L586.70,489.77 L586.70,489.96 L586.70,490.14 L586.70,490.33 L586.70,490.52 L586.70,490.70 L586.70,490.89 L586.70,491.08 L586.70,491.26 L586.70,491.45 L586.70,491.64 L586.70,491.82 L586.70,492.01 L586.70,492.20 L586.70,492.39 L586.70,492.57 L586.70,492.76 L586.70,492.95 L586.70,493.13 L586.70,493.32 L586.70,493.51 L586.70,493.69 L586.70,493.88 L586.70,494.07 L586.70,494.25 L586.70,494.44 L586.70,494.63 L586.70,494.82 L586.70,495.00 L586.70,495.19 L586.70,495.38 L586.70,495.56 L586.70,495.75 L586.70,495.94 L586.70,496.12 L586.70,496.31 L586.70,496.50 L586.70,496.68 L586.70,496.87 L586.70,497.06 L586.70,497.25 L586.70,497.43 L586.70,497.62 L586.70,497.81 L586.70,497.99 L586.70,498.18 L586.70,498.37 L586.70,498.55 L586.70,498.74 L586.70,498.93 L586.70,499.11 L586.70,499.30 L586.70,499.49 L586.70,499.68 L586.70,499.86 L586.74,500.05 L586.81,500.24 L586.88,500.42 L586.93,500.61 L586.97,500.80 L587.00,500.98 L587.02,501.17 L587.04,501.36 L587.05,501.54 L587.06,501.73 L587.06,501.92 L587.06,502.11 L587.05,502.29 L587.05,502.48 L587.04,502.67 L587.03,502.85 L587.01,503.04 L587.00,503.23 L586.98,503.41 L586.96,503.60 L586.94,503.79 L586.92,503.97 L586.90,504.16 L586.88,504.35 L586.85,504.54 L586.83,504.72 L586.81,504.91 L586.78,505.10 L586.75,505.28 L586.73,505.47 L586.70,505.66 L586.70,505.84 L586.70,506.03 L586.70,506.22 L586.70,506.40 L586.70,506.59 L586.70,506.78 L586.70,506.97 L586.70,507.15 L586.70,507.34 L586.70,507.53 L586.70,507.71 L586.70,507.90 L586.70,508.09 L586.70,508.27 L586.72,508.46 L586.81,508.65 L586.91,508.83 L587.04,509.02 L587.19,509.21 L587.37,509.40 L587.57,509.58 L587.79,509.77 L588.04,509.96 L588.30,510.14 L588.58,510.33 L588.86,510.52 L589.15,510.70 L589.43,510.89 L589.70,511.08 L589.95,511.26 L590.17,511.45 L590.35,511.64 L590.49,511.83 L590.59,512.01 L590.63,512.20 L590.63,512.39 L590.57,512.57 L590.47,512.76 L590.33,512.95 L590.15,513.13 L589.94,513.32 L589.71,513.51 L589.46,513.70 L589.21,513.88 L588.96,514.07 L588.71,514.26 L588.47,514.44 L588.25,514.63 L588.05,514.82 L587.87,515.00 L587.72,515.19 L587.58,515.38 L587.47,515.56 L587.38,515.75 L587.30,515.94 L587.24,516.13 L587.20,516.31 L587.16,516.50 L587.14,516.69 L587.12,516.87 L587.11,517.06 L587.10,517.25 L587.10,517.43 L587.09,517.62 L587.09,517.81 L587.09,517.99 L587.09,518.18 L587.08,518.37 L587.08,518.56 L587.08,518.74 L587.07,518.93 L587.06,519.12 L587.05,519.30 L587.04,519.49 L587.03,519.68 L587.01,519.86 L587.00,520.05 L586.98,520.24 L586.96,520.42 L586.94,520.61 L586.92,520.80 L586.89,520.99 L586.87,521.17 L586.84,521.36 L586.82,521.55 L586.79,521.73 L586.76,521.92 L586.73,522.11 L586.70,522.29 L586.70,522.48 L586.70,522.67 L586.70,522.85 L586.70,523.04 L586.70,523.23 L586.70,523.42 L586.70,523.60 L586.70,523.79 L586.70,523.98 L586.70,524.16 L586.70,524.35 L586.70,524.54 L586.70,524.72 L586.70,524.91 L586.70,525.10 L586.70,525.28 L586.70,525.47 L586.70,525.66 L586.70,525.85 L586.70,526.03 L586.70,526.22 L586.70,526.41 L586.70,526.59 L586.70,526.78 L586.70,526.97 L586.70,527.15 L586.70,527.34 L586.70,527.53 L586.70,527.71 L586.70,527.90 L586.70,528.09 L586.70,528.28 L586.70,528.46 L586.70,528.65 L586.70,528.84 L586.70,529.02 L586.70,529.21 L586.70,529.40 L586.70,529.58 L586.70,529.77 L586.70,529.96 L586.70,530.14 L586.70,530.33 L586.70,530.52 L586.70,530.71 L586.70,530.89 L586.70,531.08 L586.70,531.27 L586.70,531.45 L586.70,531.64 L586.70,531.83 L586.70,532.01 L586.70,532.20 L586.70,532.39 L586.70,532.57 L586.70,532.76 L586.70,532.95 L586.70,533.14 L586.70,533.32 L586.70,533.51 L586.70,533.70 L586.70,533.88 L586.70,534.07 L586.70,534.26 L586.70,534.44 L586.70,534.63 L586.70,534.82 L586.70,535.00 L586.70,535.19 L586.70,535.38 L586.70,535.57 L586.73,535.75 L586.79,535.94 L586.83,536.13 L586.86,536.31 L586.89,536.50 L586.90,536.69 L586.91,536.87 L586.91,537.06 L586.91,537.25 L586.90,537.44 L586.89,537.62 L586.87,537.81 L586.85,538.00 L586.83,538.18 L586.81,538.37 L586.79,538.56 L586.76,538.74 L586.74,538.93 L586.71,539.12 L586.70,539.30 L586.70,539.49 L586.70,539.68 L586.70,539.87 L586.70,540.05 L586.70,540.24 L586.70,540.43 L586.70,540.61 L586.70,540.80 L586.70,540.99 L586.70,541.17 L586.70,541.36 L586.70,541.55 L586.70,541.73 L586.70,541.92 L586.70,542.11 L586.70,542.30 L586.70,542.48 L586.70,542.67 L586.70,542.86 L586.70,543.04 L586.70,543.23 L586.70,543.42 L586.70,543.60 L586.70,543.79 L586.70,543.98 L586.70,544.16 L586.70,544.35 L586.70,544.54 L586.70,544.73 L586.70,544.91 L586.70,545.10 L586.70,545.29 L586.70,545.47 L586.70,545.66 L586.70,545.85 L586.70,546.03 L586.70,546.22 L586.70,546.41 L586.70,546.59 L586.70,546.78 L586.70,546.97 L586.70,547.16 L586.70,547.34 L586.70,547.53 L586.72,547.72 L586.74,547.90 L586.77,548.09 L586.79,548.28 L586.82,548.46 L586.85,548.65 L586.87,548.84 L586.89,549.02 L586.91,549.21 L586.94,549.40 L586.96,549.59 L586.98,549.77 L586.99,549.96 L587.01,550.15 L587.02,550.33 L587.04,550.52 L587.05,550.71 L587.06,550.89 L587.07,551.08 L587.07,551.27 L587.08,551.45 L587.08,551.64 L587.08,551.83 L587.08,552.02 L587.08,552.20 L587.07,552.39 L587.06,552.58 L587.06,552.76 L587.04,552.95 L587.03,553.14 L587.02,553.32 L587.00,553.51 L586.99,553.70 L586.97,553.88 L586.95,554.07 L586.93,554.26 L586.91,554.45 L586.89,554.63 L586.86,554.82 L586.84,555.01 L586.81,555.19 L586.79,555.38 L586.76,555.57 L586.73,555.75 L586.71,555.94 L586.70,556.13 L586.70,556.31 L586.70,556.50 L586.70,556.69 L586.70,556.88 L586.70,557.06 L586.70,557.25 L586.70,557.44 L586.70,557.62 L586.70,557.81 L586.70,558.00 L586.70,558.18 L586.70,558.37 L586.70,558.56 L586.70,558.74 L586.70,558.93 L586.70,559.12 L586.70,559.31 L586.70,559.49 L586.70,559.68 L586.70,559.87 L586.70,560.05 L586.70,560.24 L586.70,560.43 L586.70,560.61 L586.70,560.80 L586.70,560.99 L586.70,561.17 L586.70,561.36 L586.70,561.55 L586.70,561.74 L586.70,561.92 L586.70,562.11 L586.70,562.30 L586.70,562.48 L586.70,562.67 L586.70,562.86 L586.70,563.04 L586.70,563.23 L586.70,563.42 L586.70,563.61 L586.70,563.79 L586.70,563.98 L586.70,564.17 L586.70,564.35 L586.72,564.54 L586.75,564.73 L586.77,564.91 L586.80,565.10 L586.83,565.29 L586.85,565.47 L586.87,565.66 L586.90,565.85 L586.92,566.04 L586.94,566.22 L586.96,566.41 L586.98,566.60 L587.00,566.78 L587.01,566.97 L587.03,567.16 L587.04,567.34 L587.05,567.53 L587.06,567.72 L587.07,567.90 L587.07,568.09 L587.08,568.28 L587.08,568.47 L587.08,568.65 L587.08,568.84 L587.07,569.03 L587.07,569.21 L587.06,569.40 L587.05,569.59 L587.04,569.77 L587.03,569.96 L587.02,570.15 L587.00,570.33 L586.98,570.52 L586.96,570.71 L586.95,570.90 L586.92,571.08 L586.90,571.27 L586.88,571.46 L586.86,571.64 L586.83,571.83 L586.81,572.02 L586.78,572.20 L586.75,572.39 L586.73,572.58 L586.70,572.76 L586.70,572.95 L586.70,573.14 L586.70,573.33 L586.70,573.51 L586.70,573.70 L586.70,573.89 L586.70,574.07 L586.70,574.26 L586.70,574.45 L586.70,574.63 L586.70,574.82 L586.70,575.01 L586.70,575.19 L586.70,575.38 L586.70,575.57 L586.70,575.76 L586.70,575.94 L586.70,576.13 L586.70,576.32 L586.70,576.50 L586.70,576.69 L586.70,576.88 L586.70,577.06 L586.70,577.25 L586.70,577.44 L586.70,577.62 L586.70,577.81 L586.70,578.00 L586.70,578.19 L586.70,578.37 L586.70,578.56 L586.70,578.75 L586.70,578.93 L586.70,579.12 L586.70,579.31 L586.70,579.49 L586.70,579.68 L586.70,579.87 L586.70,580.05 L586.70,580.24 L586.70,580.43 L586.70,580.62 L586.70,580.80 L586.70,580.99 L586.70,581.18 L586.73,581.36 L586.76,581.55 L586.78,581.74 L586.81,581.92 L586.83,582.11 L586.86,582.30 L586.88,582.48 L586.90,582.67 L586.93,582.86 L586.95,583.05 L586.97,583.23 L586.98,583.42 L587.00,583.61 L587.02,583.79 L587.03,583.98 L587.04,584.17 L587.05,584.35 L587.06,584.54 L587.07,584.73 L587.07,584.91 L587.08,585.10 L587.08,585.29 L587.08,585.48 L587.08,585.66 L587.07,585.85 L587.07,586.04 L587.06,586.22 L587.05,586.41 L587.04,586.60 L587.03,586.78 L587.01,586.97 L587.00,587.16 L586.98,587.34 L586.96,587.53 L586.94,587.72 L586.92,587.91 L586.90,588.09 L586.87,588.28 L586.85,588.47 L586.83,588.65 L586.80,588.84 L586.77,589.03 L586.75,589.21 L586.72,589.40 L586.70,589.59 L586.70,589.78 L586.70,589.96 L586.70,590.15 L586.70,590.34 L586.70,590.52 L586.70,590.71 L586.70,590.90 L586.70,591.08 L586.70,591.27 L586.70,591.46 L586.70,591.64 L586.70,591.83 L586.70,592.02 L586.70,592.21 L586.70,592.39 L586.70,592.58 L586.70,592.77 L586.70,592.95 L586.70,593.14 L586.70,593.33 L586.70,593.51 L586.70,593.70 L586.70,593.89 L586.70,594.07 L586.70,594.26 L586.70,594.45 L586.70,594.64 L586.70,594.82 L586.70,595.01 L586.70,595.20 L586.70,595.38 L586.70,595.57 L586.70,595.76 L586.70,595.94 L586.70,596.13 L586.70,596.32 L586.70,596.50 L586.70,596.69 L586.70,596.88 L586.71,597.07 L586.79,597.25 L586.88,597.44 L587.00,597.63 L587.16,597.81 L587.35,598.00 L587.59,598.19 L587.89,598.37 L588.24,598.56 L588.65,598.75 L589.10,598.93 L589.58,599.12 L590.07,599.31 L590.53,599.50 L590.96,599.68 L591.35,599.87 L591.69,600.06 L591.99,600.24 L592.25,600.43 L592.50,600.62 L592.72,600.80 L592.95,600.99 L593.17,601.18 L593.41,601.36 L593.66,601.55 L593.92,601.74 L594.21,601.93 L594.51,602.11 L594.82,602.30 L595.15,602.49 L595.49,602.67 L595.83,602.86 L596.16,603.05 L596.49,603.23 L596.81,603.42 L597.09,603.61 L597.35,603.79 L597.56,603.98 L597.73,604.17 L597.85,604.36 L597.92,604.54 L597.92,604.73 L597.87,604.92 L597.76,605.10 L597.60,605.29 L597.39,605.48 L597.13,605.66 L596.84,605.85 L596.51,606.04 L596.16,606.22 L595.80,606.41 L595.43,606.60 L595.06,606.79 L594.70,606.97 L594.34,607.16 L594.01,607.35 L593.70,607.53 L593.41,607.72 L593.15,607.91 L592.91,608.09 L592.70,608.28 L592.51,608.47 L592.35,608.65 L592.21,608.84 L592.10,609.03 L592.00,609.22 L591.92,609.40 L591.85,609.59 L591.80,609.78 L591.76,609.96 L591.72,610.15 L591.70,610.34 L591.68,610.52 L591.67,610.71 L591.66,610.90 L591.66,611.08 L591.66,611.27 L591.67,611.46 L591.67,611.65 L591.68,611.83 L591.70,612.02 L591.71,612.21 L591.73,612.39 L591.74,612.58 L591.76,612.77 L591.78,612.95 L591.80,613.14 L591.83,613.33 L591.85,613.51 L591.87,613.70 L591.90,613.89 L591.93,614.08 L591.95,614.26 L591.98,614.45 L592.01,614.64 L592.03,614.82 L592.06,615.01 L592.09,615.20 L592.12,615.38 L592.15,615.57 L592.17,615.76 L592.20,615.95 L592.23,616.13 L592.26,616.32 L592.28,616.51 L592.31,616.69 L592.34,616.88 L592.37,617.07 L592.40,617.25 L592.43,617.44 L592.46,617.63 L592.49,617.81 L592.52,618.00 L592.56,618.19 L592.60,618.38 L592.64,618.56 L592.68,618.75 L592.73,618.94 L592.79,619.12 L592.84,619.31 L592.91,619.50 L592.98,619.68 L593.06,619.87 L593.14,620.06 L593.23,620.24 L593.33,620.43 L593.43,620.62 L593.54,620.81 L593.65,620.99 L593.77,621.18 L593.89,621.37 L594.01,621.55 L594.13,621.74 L594.24,621.93 L594.34,622.11 L594.44,622.30 L594.53,622.49 L594.63,622.67 L594.77,622.86 L594.99,623.05 L595.35,623.24 L595.92,623.42 L596.82,623.61 L598.15,623.80 L600.02,623.98 L602.54,624.17 L605.79,624.36 L609.81,624.54 L614.61,624.73 L620.14,624.92 L626.26,625.10 L632.79,625.29 L639.46,625.48 L645.96,625.67 L651.93,625.85 L657.03,626.04 L660.91,626.23 L663.33,626.41 L664.12,626.60 L663.21,626.79 L660.66,626.97 L656.64,627.16 L651.41,627.35 L645.31,627.53 L638.67,627.72 L631.86,627.91 L625.18,628.10 L618.88,628.28 L613.17,628.47 L608.14,628.66 L603.86,628.84 L600.31,629.03 L597.44,629.22 L595.17,629.40 L593.42,629.59 L592.08,629.78 L591.07,629.96 L590.32,630.15 L589.75,630.34 L589.31,630.53 L588.98,630.71 L588.71,630.90 L588.49,631.09 L588.31,631.27 L588.16,631.46 L588.02,631.65 L587.90,631.83 L587.79,632.02 L587.70,632.21 L587.62,632.39 L587.55,632.58 L587.48,632.77 L587.43,632.96 L587.38,633.14 L587.34,633.33 L587.30,633.52 L587.27,633.70 L587.25,633.89 L587.22,634.08 L587.21,634.26 L587.19,634.45 L587.18,634.64 L587.17,634.82 L587.16,635.01 L587.15,635.20 L587.14,635.39 L587.13,635.57 L587.12,635.76 L587.11,635.95 L587.10,636.13 L587.09,636.32 L587.08,636.51 L587.07,636.69 L587.05,636.88 L587.04,637.07 L587.02,637.25 L587.01,637.44 L586.99,637.63 L586.97,637.82 L586.95,638.00 L586.93,638.19 L586.91,638.38 L586.88,638.56 L586.86,638.75 L586.83,638.94 L586.81,639.12 L586.78,639.31 L586.76,639.50 L586.73,639.68 L586.70,639.87 L586.70,640.06 L586.70,640.25 L586.70,640.43 L586.70,640.62 L586.70,640.81 L586.70,640.99 L586.70,641.18 L586.70,641.37 L586.70,641.55 L586.70,641.74 L586.70,641.93 L586.70,642.12 L586.70,642.30 L586.70,642.49 L586.70,642.68 L586.70,642.86 L586.70,643.05 L586.70,643.24 L586.70,643.42 L586.70,643.61 L586.70,643.80 L586.70,643.98 L586.70,644.17 L586.70,644.36 L586.70,644.55 L586.70,644.73 L586.70,644.92 L586.70,645.11 L586.70,645.29 L586.70,645.48 L586.70,645.67 L586.70,645.85 L586.70,646.04 L586.70,646.23 L586.70,646.41 L586.70,646.60 L586.70,646.79 L586.70,646.98 L586.70,647.16 L586.70,647.35 L586.70,647.54 L586.70,647.72 L586.70,647.91 L586.70,648.10 L586.70,648.28 L586.73,648.47 L586.75,648.66 L586.78,648.84 L586.81,649.03 L586.83,649.22 L586.86,649.41 L586.88,649.59 L586.90,649.78 L586.92,649.97 L586.95,650.15 L586.97,650.34 L586.98,650.53 L587.00,650.71 L587.02,650.90 L587.03,651.09 L587.04,651.27 L587.05,651.46 L587.06,651.65 L587.07,651.84 L587.07,652.02 L587.08,652.21 L587.08,652.40 L587.08,652.58 L587.08,652.77 L587.07,652.96 L587.07,653.14 L587.06,653.33 L587.05,653.52 L587.04,653.70 L587.03,653.89 L587.01,654.08 L587.00,654.27 L586.98,654.45 L586.96,654.64 L586.94,654.83 L586.92,655.01 L586.90,655.20 L586.7,655.2 L586.7,393.5 Z" fill="#d2d4f8" stroke="none" stroke-width="1" />
<path d="M584.40,393.50 L584.33,393.69 L584.26,393.87 L584.20,394.06 L584.14,394.25 L584.08,394.43 L584.03,394.62 L583.97,394.81 L583.93,395.00 L583.88,395.18 L583.84,395.37 L583.80,395.56 L583.76,395.74 L583.73,395.93 L583.70,396.12 L583.68,396.30 L583.66,396.49 L583.65,396.68 L583.64,396.86 L583.63,397.05 L583.63,397.24 L583.63,397.43 L583.64,397.61 L583.65,397.80 L583.66,397.99 L583.68,398.17 L583.71,398.36 L583.74,398.55 L583.77,398.73 L583.80,398.92 L583.84,399.11 L583.89,399.29 L583.93,399.48 L583.98,399.67 L584.03,399.86 L584.09,400.04 L584.14,400.23 L584.20,400.42 L584.26,400.60 L584.32,400.79 L584.38,400.98 L584.45,401.16 L584.51,401.35 L584.57,401.54 L584.64,401.72 L584.70,401.91 L584.77,402.10 L584.83,402.29 L584.89,402.47 L584.96,402.66 L585.02,402.85 L585.07,403.03 L585.13,403.22 L585.19,403.41 L585.24,403.59 L585.29,403.78 L585.35,403.97 L585.39,404.15 L585.44,404.34 L585.48,404.53 L585.53,404.72 L585.57,404.90 L585.61,405.09 L585.64,405.28 L585.68,405.46 L585.71,405.65 L585.74,405.84 L585.77,406.02 L585.80,406.21 L585.82,406.40 L585.85,406.58 L585.87,406.77 L585.89,406.96 L585.91,407.15 L585.93,407.33 L585.95,407.52 L585.97,407.71 L585.99,407.89 L586.01,408.08 L586.03,408.27 L586.05,408.45 L586.07,408.64 L586.08,408.83 L586.10,409.02 L586.12,409.20 L586.14,409.39 L586.16,409.58 L586.18,409.76 L586.20,409.95 L586.22,410.14 L586.24,410.32 L586.27,410.51 L586.29,410.70 L586.32,410.88 L586.34,411.07 L586.37,411.26 L586.39,411.45 L586.42,411.63 L586.45,411.82 L586.47,412.01 L586.50,412.19 L586.53,412.38 L586.56,412.57 L586.59,412.75 L586.62,412.94 L586.65,413.13 L586.67,413.31 L586.70,413.50 L586.73,413.69 L586.76,413.88 L586.79,414.06 L586.81,414.25 L586.84,414.44 L586.86,414.62 L586.89,414.81 L586.91,415.00 L586.93,415.18 L586.95,415.37 L586.97,415.56 L586.99,415.74 L587.01,415.93 L587.02,416.12 L587.04,416.31 L587.05,416.49 L587.06,416.68 L587.07,416.87 L587.07,417.05 L587.08,417.24 L587.08,417.43 L587.08,417.61 L587.08,417.80 L587.07,417.99 L587.07,418.17 L587.06,418.36 L587.05,418.55 L587.04,418.74 L587.03,418.92 L587.02,419.11 L587.00,419.30 L586.99,419.48 L586.97,419.67 L586.95,419.86 L586.93,420.04 L586.91,420.23 L586.88,420.42 L586.86,420.60 L586.84,420.79 L586.81,420.98 L586.78,421.17 L586.76,421.35 L586.73,421.54 L586.71,421.73 L586.68,421.91 L586.65,422.10 L586.63,422.29 L586.60,422.47 L586.57,422.66 L586.55,422.85 L586.53,423.03 L586.50,423.22 L586.48,423.41 L586.46,423.60 L586.44,423.78 L586.42,423.97 L586.40,424.16 L586.39,424.34 L586.37,424.53 L586.36,424.72 L586.35,424.90 L586.34,425.09 L586.33,425.28 L586.33,425.46 L586.32,425.65 L586.32,425.84 L586.32,426.03 L586.32,426.21 L586.33,426.40 L586.33,426.59 L586.34,426.77 L586.35,426.96 L586.36,427.15 L586.37,427.33 L586.38,427.52 L586.40,427.71 L586.42,427.89 L586.43,428.08 L586.45,428.27 L586.47,428.46 L586.50,428.64 L586.52,428.83 L586.54,429.02 L586.57,429.20 L586.59,429.39 L586.62,429.58 L586.64,429.76 L586.67,429.95 L586.70,430.14 L586.72,430.32 L586.75,430.51 L586.78,430.70 L586.80,430.89 L586.83,431.07 L586.85,431.26 L586.88,431.45 L586.90,431.63 L586.92,431.82 L586.94,432.01 L586.96,432.19 L586.98,432.38 L587.00,432.57 L587.01,432.75 L587.03,432.94 L587.04,433.13 L587.05,433.32 L587.06,433.50 L587.07,433.69 L587.07,433.88 L587.08,434.06 L587.08,434.25 L587.08,434.44 L587.08,434.62 L587.07,434.81 L587.07,435.00 L587.06,435.19 L587.05,435.37 L587.04,435.56 L587.03,435.75 L587.01,435.93 L587.00,436.12 L586.98,436.31 L586.96,436.49 L586.94,436.68 L586.92,436.87 L586.90,437.05 L586.88,437.24 L586.85,437.43 L586.83,437.62 L586.80,437.80 L586.78,437.99 L586.75,438.18 L586.73,438.36 L586.70,438.55 L586.67,438.74 L586.65,438.92 L586.62,439.11 L586.59,439.30 L586.57,439.48 L586.54,439.67 L586.52,439.86 L586.49,440.05 L586.47,440.23 L586.45,440.42 L586.43,440.61 L586.41,440.79 L586.39,440.98 L586.37,441.17 L586.35,441.35 L586.33,441.54 L586.31,441.73 L586.30,441.91 L586.28,442.10 L586.27,442.29 L586.25,442.48 L586.23,442.66 L586.21,442.85 L586.19,443.04 L586.17,443.22 L586.15,443.41 L586.12,443.60 L586.09,443.78 L586.06,443.97 L586.02,444.16 L585.97,444.34 L585.92,444.53 L585.86,444.72 L585.79,444.91 L585.71,445.09 L585.63,445.28 L585.53,445.47 L585.42,445.65 L585.30,445.84 L585.17,446.03 L585.02,446.21 L584.86,446.40 L584.68,446.59 L584.49,446.77 L584.28,446.96 L584.06,447.15 L583.82,447.34 L583.57,447.52 L583.30,447.71 L583.02,447.90 L582.72,448.08 L582.40,448.27 L582.08,448.46 L581.74,448.64 L581.39,448.83 L581.02,449.02 L580.65,449.20 L580.27,449.39 L579.88,449.58 L579.48,449.77 L579.08,449.95 L578.67,450.14 L578.26,450.33 L577.85,450.51 L577.43,450.70 L577.02,450.89 L576.61,451.07 L576.20,451.26 L575.80,451.45 L575.40,451.63 L575.00,451.82 L574.59,452.01 L574.18,452.20 L573.75,452.38 L573.28,452.57 L572.74,452.76 L572.10,452.94 L571.30,453.13 L570.29,453.32 L568.98,453.50 L567.30,453.69 L565.17,453.88 L562.51,454.06 L559.29,454.25 L555.49,454.44 L551.18,454.63 L546.47,454.81 L541.55,455.00 L536.67,455.19 L532.12,455.37 L528.22,455.56 L525.26,455.75 L523.47,455.93 L523.03,456.12 L523.98,456.31 L526.27,456.49 L529.73,456.68 L534.12,456.87 L539.15,457.06 L544.50,457.24 L549.86,457.43 L555.00,457.62 L559.73,457.80 L563.91,457.99 L567.50,458.18 L570.49,458.36 L572.93,458.55 L574.89,458.74 L576.44,458.93 L577.67,459.11 L578.66,459.30 L579.46,459.49 L580.12,459.67 L580.69,459.86 L581.19,460.05 L581.64,460.23 L582.06,460.42 L582.44,460.61 L582.80,460.79 L583.14,460.98 L583.45,461.17 L583.75,461.36 L584.03,461.54 L584.29,461.73 L584.54,461.92 L584.76,462.10 L584.97,462.29 L585.17,462.48 L585.35,462.66 L585.51,462.85 L585.66,463.04 L585.79,463.22 L585.92,463.41 L586.02,463.60 L586.11,463.79 L586.19,463.97 L586.25,464.16 L586.29,464.35 L586.31,464.53 L586.30,464.72 L586.27,464.91 L586.21,465.09 L586.11,465.28 L585.98,465.47 L585.81,465.65 L585.61,465.84 L585.37,466.03 L585.10,466.22 L584.79,466.40 L584.47,466.59 L584.13,466.78 L583.79,466.96 L583.46,467.15 L583.15,467.34 L582.87,467.52 L582.64,467.71 L582.47,467.90 L582.36,468.08 L582.32,468.27 L582.36,468.46 L582.46,468.65 L582.63,468.83 L582.86,469.02 L583.13,469.21 L583.44,469.39 L583.77,469.58 L584.11,469.77 L584.45,469.95 L584.78,470.14 L585.09,470.33 L585.37,470.51 L585.62,470.70 L585.84,470.89 L586.02,471.08 L586.17,471.26 L586.30,471.45 L586.39,471.64 L586.46,471.82 L586.50,472.01 L586.53,472.20 L586.55,472.38 L586.56,472.57 L586.55,472.76 L586.54,472.94 L586.52,473.13 L586.50,473.32 L586.48,473.51 L586.45,473.69 L586.42,473.88 L586.38,474.07 L586.33,474.25 L586.28,474.44 L586.21,474.63 L586.13,474.81 L586.02,475.00 L585.90,475.19 L585.75,475.37 L585.56,475.56 L585.35,475.75 L585.09,475.94 L584.80,476.12 L584.47,476.31 L584.11,476.50 L583.72,476.68 L583.31,476.87 L582.88,477.06 L582.46,477.24 L582.06,477.43 L581.68,477.62 L581.35,477.80 L581.09,477.99 L580.89,478.18 L580.78,478.37 L580.75,478.55 L580.82,478.74 L580.97,478.93 L581.20,479.11 L581.51,479.30 L581.87,479.49 L582.28,479.67 L582.71,479.86 L583.16,480.05 L583.60,480.23 L584.02,480.42 L584.41,480.61 L584.76,480.80 L585.05,480.98 L585.29,481.17 L585.46,481.36 L585.56,481.54 L585.60,481.73 L585.57,481.92 L585.47,482.10 L585.32,482.29 L585.11,482.48 L584.87,482.66 L584.60,482.85 L584.31,483.04 L584.04,483.23 L583.78,483.41 L583.56,483.60 L583.39,483.79 L583.28,483.97 L583.25,484.16 L583.28,484.35 L583.39,484.53 L583.56,484.72 L583.78,484.91 L584.03,485.10 L584.31,485.28 L584.60,485.47 L584.88,485.66 L585.13,485.84 L585.36,486.03 L585.54,486.22 L585.68,486.40 L585.77,486.59 L585.82,486.78 L585.83,486.96 L585.80,487.15 L585.73,487.34 L585.64,487.53 L585.52,487.71 L585.39,487.90 L585.25,488.09 L585.10,488.27 L584.95,488.46 L584.81,488.65 L584.68,488.83 L584.55,489.02 L584.45,489.21 L584.35,489.39 L584.28,489.58 L584.22,489.77 L584.19,489.96 L584.16,490.14 L584.15,490.33 L584.15,490.52 L584.16,490.70 L584.17,490.89 L584.17,491.08 L584.16,491.26 L584.14,491.45 L584.09,491.64 L584.02,491.82 L583.93,492.01 L583.80,492.20 L583.63,492.39 L583.43,492.57 L583.20,492.76 L582.93,492.95 L582.64,493.13 L582.32,493.32 L581.99,493.51 L581.65,493.69 L581.31,493.88 L580.99,494.07 L580.68,494.25 L580.41,494.44 L580.17,494.63 L579.99,494.82 L579.86,495.00 L579.79,495.19 L579.78,495.38 L579.85,495.56 L579.97,495.75 L580.16,495.94 L580.40,496.12 L580.70,496.31 L581.04,496.50 L581.42,496.68 L581.82,496.87 L582.24,497.06 L582.67,497.25 L583.10,497.43 L583.52,497.62 L583.92,497.81 L584.31,497.99 L584.67,498.18 L585.00,498.37 L585.31,498.55 L585.58,498.74 L585.83,498.93 L586.04,499.11 L586.23,499.30 L586.39,499.49 L586.53,499.68 L586.64,499.86 L586.74,500.05 L586.81,500.24 L586.88,500.42 L586.93,500.61 L586.97,500.80 L587.00,500.98 L587.02,501.17 L587.04,501.36 L587.05,501.54 L587.06,501.73 L587.06,501.92 L587.06,502.11 L587.05,502.29 L587.05,502.48 L587.04,502.67 L587.03,502.85 L587.01,503.04 L587.00,503.23 L586.98,503.41 L586.96,503.60 L586.94,503.79 L586.92,503.97 L586.90,504.16 L586.88,504.35 L586.85,504.54 L586.83,504.72 L586.81,504.91 L586.78,505.10 L586.75,505.28 L586.73,505.47 L586.70,505.66 L586.68,505.84 L586.65,506.03 L586.63,506.22 L586.61,506.40 L586.59,506.59 L586.57,506.78 L586.55,506.97 L586.54,507.15 L586.54,507.34 L586.54,507.53 L586.56,507.71 L586.58,507.90 L586.61,508.09 L586.66,508.27 L586.72,508.46 L586.81,508.65 L586.91,508.83 L587.04,509.02 L587.19,509.21 L587.37,509.40 L587.57,509.58 L587.79,509.77 L588.04,509.96 L588.30,510.14 L588.58,510.33 L588.86,510.52 L589.15,510.70 L589.43,510.89 L589.70,511.08 L589.95,511.26 L590.17,511.45 L590.35,511.64 L590.49,511.83 L590.59,512.01 L590.63,512.20 L590.63,512.39 L590.57,512.57 L590.47,512.76 L590.33,512.95 L590.15,513.13 L589.94,513.32 L589.71,513.51 L589.46,513.70 L589.21,513.88 L588.96,514.07 L588.71,514.26 L588.47,514.44 L588.25,514.63 L588.05,514.82 L587.87,515.00 L587.72,515.19 L587.58,515.38 L587.47,515.56 L587.38,515.75 L587.30,515.94 L587.24,516.13 L587.20,516.31 L587.16,516.50 L587.14,516.69 L587.12,516.87 L587.11,517.06 L587.10,517.25 L587.10,517.43 L587.09,517.62 L587.09,517.81 L587.09,517.99 L587.09,518.18 L587.08,518.37 L587.08,518.56 L587.08,518.74 L587.07,518.93 L587.06,519.12 L587.05,519.30 L587.04,519.49 L587.03,519.68 L587.01,519.86 L587.00,520.05 L586.98,520.24 L586.96,520.42 L586.94,520.61 L586.92,520.80 L586.89,520.99 L586.87,521.17 L586.84,521.36 L586.82,521.55 L586.79,521.73 L586.76,521.92 L586.73,522.11 L586.69,522.29 L586.66,522.48 L586.62,522.67 L586.58,522.85 L586.53,523.04 L586.48,523.23 L586.43,523.42 L586.37,523.60 L586.30,523.79 L586.22,523.98 L586.13,524.16 L586.03,524.35 L585.92,524.54 L585.79,524.72 L585.64,524.91 L585.47,525.10 L585.28,525.28 L585.07,525.47 L584.83,525.66 L584.57,525.85 L584.28,526.03 L583.96,526.22 L583.61,526.41 L583.24,526.59 L582.84,526.78 L582.42,526.97 L581.98,527.15 L581.53,527.34 L581.06,527.53 L580.60,527.71 L580.13,527.90 L579.67,528.09 L579.23,528.28 L578.81,528.46 L578.42,528.65 L578.07,528.84 L577.76,529.02 L577.51,529.21 L577.31,529.40 L577.17,529.58 L577.10,529.77 L577.09,529.96 L577.15,530.14 L577.27,530.33 L577.46,530.52 L577.71,530.71 L578.01,530.89 L578.36,531.08 L578.76,531.27 L579.19,531.45 L579.65,531.64 L580.13,531.83 L580.63,532.01 L581.13,532.20 L581.63,532.39 L582.13,532.57 L582.61,532.76 L583.07,532.95 L583.51,533.14 L583.92,533.32 L584.31,533.51 L584.67,533.70 L584.99,533.88 L585.29,534.07 L585.55,534.26 L585.79,534.44 L585.99,534.63 L586.17,534.82 L586.32,535.00 L586.46,535.19 L586.56,535.38 L586.65,535.57 L586.73,535.75 L586.79,535.94 L586.83,536.13 L586.86,536.31 L586.89,536.50 L586.90,536.69 L586.91,536.87 L586.91,537.06 L586.91,537.25 L586.90,537.44 L586.89,537.62 L586.87,537.81 L586.85,538.00 L586.83,538.18 L586.81,538.37 L586.79,538.56 L586.76,538.74 L586.74,538.93 L586.71,539.12 L586.69,539.30 L586.66,539.49 L586.63,539.68 L586.61,539.87 L586.58,540.05 L586.56,540.24 L586.53,540.43 L586.51,540.61 L586.49,540.80 L586.47,540.99 L586.45,541.17 L586.43,541.36 L586.41,541.55 L586.39,541.73 L586.38,541.92 L586.36,542.11 L586.35,542.30 L586.34,542.48 L586.33,542.67 L586.33,542.86 L586.32,543.04 L586.32,543.23 L586.32,543.42 L586.32,543.60 L586.32,543.79 L586.33,543.98 L586.34,544.16 L586.34,544.35 L586.35,544.54 L586.37,544.73 L586.38,544.91 L586.39,545.10 L586.41,545.29 L586.43,545.47 L586.45,545.66 L586.47,545.85 L586.49,546.03 L586.51,546.22 L586.54,546.41 L586.56,546.59 L586.58,546.78 L586.61,546.97 L586.64,547.16 L586.66,547.34 L586.69,547.53 L586.72,547.72 L586.74,547.90 L586.77,548.09 L586.79,548.28 L586.82,548.46 L586.85,548.65 L586.87,548.84 L586.89,549.02 L586.91,549.21 L586.94,549.40 L586.96,549.59 L586.98,549.77 L586.99,549.96 L587.01,550.15 L587.02,550.33 L587.04,550.52 L587.05,550.71 L587.06,550.89 L587.07,551.08 L587.07,551.27 L587.08,551.45 L587.08,551.64 L587.08,551.83 L587.08,552.02 L587.08,552.20 L587.07,552.39 L587.06,552.58 L587.06,552.76 L587.04,552.95 L587.03,553.14 L587.02,553.32 L587.00,553.51 L586.99,553.70 L586.97,553.88 L586.95,554.07 L586.93,554.26 L586.91,554.45 L586.89,554.63 L586.86,554.82 L586.84,555.01 L586.81,555.19 L586.79,555.38 L586.76,555.57 L586.73,555.75 L586.71,555.94 L586.68,556.13 L586.65,556.31 L586.63,556.50 L586.60,556.69 L586.58,556.88 L586.55,557.06 L586.53,557.25 L586.50,557.44 L586.48,557.62 L586.46,557.81 L586.44,558.00 L586.42,558.18 L586.40,558.37 L586.39,558.56 L586.37,558.74 L586.36,558.93 L586.35,559.12 L586.34,559.31 L586.33,559.49 L586.33,559.68 L586.32,559.87 L586.32,560.05 L586.32,560.24 L586.32,560.43 L586.33,560.61 L586.33,560.80 L586.34,560.99 L586.35,561.17 L586.36,561.36 L586.37,561.55 L586.38,561.74 L586.40,561.92 L586.41,562.11 L586.43,562.30 L586.45,562.48 L586.47,562.67 L586.49,562.86 L586.52,563.04 L586.54,563.23 L586.57,563.42 L586.59,563.61 L586.62,563.79 L586.64,563.98 L586.67,564.17 L586.70,564.35 L586.72,564.54 L586.75,564.73 L586.77,564.91 L586.80,565.10 L586.83,565.29 L586.85,565.47 L586.87,565.66 L586.90,565.85 L586.92,566.04 L586.94,566.22 L586.96,566.41 L586.98,566.60 L587.00,566.78 L587.01,566.97 L587.03,567.16 L587.04,567.34 L587.05,567.53 L587.06,567.72 L587.07,567.90 L587.07,568.09 L587.08,568.28 L587.08,568.47 L587.08,568.65 L587.08,568.84 L587.07,569.03 L587.07,569.21 L587.06,569.40 L587.05,569.59 L587.04,569.77 L587.03,569.96 L587.02,570.15 L587.00,570.33 L586.98,570.52 L586.96,570.71 L586.95,570.90 L586.92,571.08 L586.90,571.27 L586.88,571.46 L586.86,571.64 L586.83,571.83 L586.81,572.02 L586.78,572.20 L586.75,572.39 L586.73,572.58 L586.70,572.76 L586.67,572.95 L586.65,573.14 L586.62,573.33 L586.60,573.51 L586.57,573.70 L586.55,573.89 L586.52,574.07 L586.50,574.26 L586.48,574.45 L586.46,574.63 L586.44,574.82 L586.42,575.01 L586.40,575.19 L586.39,575.38 L586.37,575.57 L586.36,575.76 L586.35,575.94 L586.34,576.13 L586.33,576.32 L586.33,576.50 L586.32,576.69 L586.32,576.88 L586.32,577.06 L586.32,577.25 L586.33,577.44 L586.33,577.62 L586.34,577.81 L586.35,578.00 L586.36,578.19 L586.37,578.37 L586.39,578.56 L586.40,578.75 L586.42,578.93 L586.44,579.12 L586.46,579.31 L586.48,579.49 L586.50,579.68 L586.52,579.87 L586.55,580.05 L586.57,580.24 L586.60,580.43 L586.62,580.62 L586.65,580.80 L586.68,580.99 L586.70,581.18 L586.73,581.36 L586.76,581.55 L586.78,581.74 L586.81,581.92 L586.83,582.11 L586.86,582.30 L586.88,582.48 L586.90,582.67 L586.93,582.86 L586.95,583.05 L586.97,583.23 L586.98,583.42 L587.00,583.61 L587.02,583.79 L587.03,583.98 L587.04,584.17 L587.05,584.35 L587.06,584.54 L587.07,584.73 L587.07,584.91 L587.08,585.10 L587.08,585.29 L587.08,585.48 L587.08,585.66 L587.07,585.85 L587.07,586.04 L587.06,586.22 L587.05,586.41 L587.04,586.60 L587.03,586.78 L587.01,586.97 L587.00,587.16 L586.98,587.34 L586.96,587.53 L586.94,587.72 L586.92,587.91 L586.90,588.09 L586.87,588.28 L586.85,588.47 L586.83,588.65 L586.80,588.84 L586.77,589.03 L586.75,589.21 L586.72,589.40 L586.69,589.59 L586.67,589.78 L586.64,589.96 L586.62,590.15 L586.59,590.34 L586.56,590.52 L586.54,590.71 L586.52,590.90 L586.49,591.08 L586.47,591.27 L586.45,591.46 L586.43,591.64 L586.41,591.83 L586.40,592.02 L586.38,592.21 L586.37,592.39 L586.36,592.58 L586.35,592.77 L586.34,592.95 L586.33,593.14 L586.33,593.33 L586.32,593.51 L586.32,593.70 L586.32,593.89 L586.32,594.07 L586.33,594.26 L586.33,594.45 L586.34,594.64 L586.35,594.82 L586.37,595.01 L586.38,595.20 L586.40,595.38 L586.42,595.57 L586.44,595.76 L586.46,595.94 L586.49,596.13 L586.52,596.32 L586.56,596.50 L586.60,596.69 L586.65,596.88 L586.71,597.07 L586.79,597.25 L586.88,597.44 L587.00,597.63 L587.16,597.81 L587.35,598.00 L587.59,598.19 L587.89,598.37 L588.24,598.56 L588.65,598.75 L589.10,598.93 L589.58,599.12 L590.07,599.31 L590.53,599.50 L590.96,599.68 L591.35,599.87 L591.69,600.06 L591.99,600.24 L592.25,600.43 L592.50,600.62 L592.72,600.80 L592.95,600.99 L593.17,601.18 L593.41,601.36 L593.66,601.55 L593.92,601.74 L594.21,601.93 L594.51,602.11 L594.82,602.30 L595.15,602.49 L595.49,602.67 L595.83,602.86 L596.16,603.05 L596.49,603.23 L596.81,603.42 L597.09,603.61 L597.35,603.79 L597.56,603.98 L597.73,604.17 L597.85,604.36 L597.92,604.54 L597.92,604.73 L597.87,604.92 L597.76,605.10 L597.60,605.29 L597.39,605.48 L597.13,605.66 L596.84,605.85 L596.51,606.04 L596.16,606.22 L595.80,606.41 L595.43,606.60 L595.06,606.79 L594.70,606.97 L594.34,607.16 L594.01,607.35 L593.70,607.53 L593.41,607.72 L593.15,607.91 L592.91,608.09 L592.70,608.28 L592.51,608.47 L592.35,608.65 L592.21,608.84 L592.10,609.03 L592.00,609.22 L591.92,609.40 L591.85,609.59 L591.80,609.78 L591.76,609.96 L591.72,610.15 L591.70,610.34 L591.68,610.52 L591.67,610.71 L591.66,610.90 L591.66,611.08 L591.66,611.27 L591.67,611.46 L591.67,611.65 L591.68,611.83 L591.70,612.02 L591.71,612.21 L591.73,612.39 L591.74,612.58 L591.76,612.77 L591.78,612.95 L591.80,613.14 L591.83,613.33 L591.85,613.51 L591.87,613.70 L591.90,613.89 L591.93,614.08 L591.95,614.26 L591.98,614.45 L592.01,614.64 L592.03,614.82 L592.06,615.01 L592.09,615.20 L592.12,615.38 L592.15,615.57 L592.17,615.76 L592.20,615.95 L592.23,616.13 L592.26,616.32 L592.28,616.51 L592.31,616.69 L592.34,616.88 L592.37,617.07 L592.40,617.25 L592.43,617.44 L592.46,617.63 L592.49,617.81 L592.52,618.00 L592.56,618.19 L592.60,618.38 L592.64,618.56 L592.68,618.75 L592.73,618.94 L592.79,619.12 L592.84,619.31 L592.91,619.50 L592.98,619.68 L593.06,619.87 L593.14,620.06 L593.23,620.24 L593.33,620.43 L593.43,620.62 L593.54,620.81 L593.65,620.99 L593.77,621.18 L593.89,621.37 L594.01,621.55 L594.13,621.74 L594.24,621.93 L594.34,622.11 L594.44,622.30 L594.53,622.49 L594.63,622.67 L594.77,622.86 L594.99,623.05 L595.35,623.24 L595.92,623.42 L596.82,623.61 L598.15,623.80 L600.02,623.98 L602.54,624.17 L605.79,624.36 L609.81,624.54 L614.61,624.73 L620.14,624.92 L626.26,625.10 L632.79,625.29 L639.46,625.48 L645.96,625.67 L651.93,625.85 L657.03,626.04 L660.91,626.23 L663.33,626.41 L664.12,626.60 L663.21,626.79 L660.66,626.97 L656.64,627.16 L651.41,627.35 L645.31,627.53 L638.67,627.72 L631.86,627.91 L625.18,628.10 L618.88,628.28 L613.17,628.47 L608.14,628.66 L603.86,628.84 L600.31,629.03 L597.44,629.22 L595.17,629.40 L593.42,629.59 L592.08,629.78 L591.07,629.96 L590.32,630.15 L589.75,630.34 L589.31,630.53 L588.98,630.71 L588.71,630.90 L588.49,631.09 L588.31,631.27 L588.16,631.46 L588.02,631.65 L587.90,631.83 L587.79,632.02 L587.70,632.21 L587.62,632.39 L587.55,632.58 L587.48,632.77 L587.43,632.96 L587.38,633.14 L587.34,633.33 L587.30,633.52 L587.27,633.70 L587.25,633.89 L587.22,634.08 L587.21,634.26 L587.19,634.45 L587.18,634.64 L587.17,634.82 L587.16,635.01 L587.15,635.20 L587.14,635.39 L587.13,635.57 L587.12,635.76 L587.11,635.95 L587.10,636.13 L587.09,636.32 L587.08,636.51 L587.07,636.69 L587.05,636.88 L587.04,637.07 L587.02,637.25 L587.01,637.44 L586.99,637.63 L586.97,637.82 L586.95,638.00 L586.93,638.19 L586.91,638.38 L586.88,638.56 L586.86,638.75 L586.83,638.94 L586.81,639.12 L586.78,639.31 L586.76,639.50 L586.73,639.68 L586.70,639.87 L586.68,640.06 L586.65,640.25 L586.62,640.43 L586.60,640.62 L586.57,640.81 L586.55,640.99 L586.52,641.18 L586.50,641.37 L586.48,641.55 L586.46,641.74 L586.44,641.93 L586.42,642.12 L586.40,642.30 L586.39,642.49 L586.37,642.68 L586.36,642.86 L586.35,643.05 L586.34,643.24 L586.33,643.42 L586.33,643.61 L586.32,643.80 L586.32,643.98 L586.32,644.17 L586.32,644.36 L586.33,644.55 L586.33,644.73 L586.34,644.92 L586.35,645.11 L586.36,645.29 L586.37,645.48 L586.39,645.67 L586.40,645.85 L586.42,646.04 L586.44,646.23 L586.46,646.41 L586.48,646.60 L586.50,646.79 L586.52,646.98 L586.55,647.16 L586.57,647.35 L586.60,647.54 L586.62,647.72 L586.65,647.91 L586.67,648.10 L586.70,648.28 L586.73,648.47 L586.75,648.66 L586.78,648.84 L586.81,649.03 L586.83,649.22 L586.86,649.41 L586.88,649.59 L586.90,649.78 L586.92,649.97 L586.95,650.15 L586.97,650.34 L586.98,650.53 L587.00,650.71 L587.02,650.90 L587.03,651.09 L587.04,651.27 L587.05,651.46 L587.06,651.65 L587.07,651.84 L587.07,652.02 L587.08,652.21 L587.08,652.40 L587.08,652.58 L587.08,652.77 L587.07,652.96 L587.07,653.14 L587.06,653.33 L587.05,653.52 L587.04,653.70 L587.03,653.89 L587.01,654.08 L587.00,654.27 L586.98,654.45 L586.96,654.64 L586.94,654.83 L586.92,655.01 L586.90,655.20" fill="none" stroke="#111" stroke-width="0.9" />
<path d="M502.20,544.90L507.50,550.80M507.50,550.80L512.10,561.30M512.10,561.30L518.00,570.50M518.00,570.50L524.60,577.00M524.60,577.00L529.20,587.60M529.20,587.60L529.80,599.40M529.80,599.40L521.90,592.80M521.90,592.80L516.70,581.60M516.70,581.60L518.00,570.50M524.60,577.00L521.90,592.80M529.80,599.40L532.40,610.50M532.40,610.50L542.30,616.50M542.30,616.50L547.60,629.60M547.60,629.60L541.60,641.40M541.60,641.40L528.50,642.10M547.60,629.60L560.70,629.60M560.70,629.60L570.50,641.40M570.50,641.40L577.00,641.40" stroke="#e29a2a" stroke-width="3.6" fill="none"/><line x1="516.70" y1="581.60" x2="510.80" y2="577.70" stroke="#b8e8ee" stroke-width="2.88"/><line x1="521.90" y1="592.80" x2="519.30" y2="599.40" stroke="#b8e8ee" stroke-width="2.88"/><line x1="560.70" y1="629.60" x2="567.30" y2="621.10" stroke="#e89098" stroke-width="2.88"/><line x1="543.60" y1="577.00" x2="542.30" y2="590.20" stroke="#cfcfcf" stroke-width="2.88"/><line x1="543.60" y1="577.00" x2="564.60" y2="583.00" stroke="#cfcfcf" stroke-width="2.88"/><line x1="542.30" y1="590.20" x2="564.60" y2="583.00" stroke="#cfcfcf" stroke-width="2.88"/><line x1="542.30" y1="590.20" x2="556.80" y2="606.60" stroke="#cfcfcf" stroke-width="2.88"/><line x1="564.60" y1="583.00" x2="556.80" y2="606.60" stroke="#cfcfcf" stroke-width="2.88"/><line x1="524.60" y1="577.00" x2="543.60" y2="577.00" stroke="#cfcfcf" stroke-width="2.88"/><line x1="529.20" y1="587.60" x2="542.30" y2="590.20" stroke="#cfcfcf" stroke-width="2.88"/><line x1="556.80" y1="606.60" x2="542.30" y2="616.50" stroke="#cfcfcf" stroke-width="2.88"/><line x1="556.80" y1="606.60" x2="567.30" y2="621.10" stroke="#cfcfcf" stroke-width="2.88"/><line x1="564.60" y1="583.00" x2="567.90" y2="571.10" stroke="#b8e8ee" stroke-width="2.88"/><circle cx="510.80" cy="577.70" r="2.90" fill="url(#gH)"/><circle cx="519.30" cy="599.40" r="2.90" fill="url(#gH)"/><circle cx="567.90" cy="571.10" r="2.90" fill="url(#gH)"/><circle cx="512.10" cy="561.30" r="4.06" fill="url(#gN)"/><circle cx="532.40" cy="610.50" r="4.06" fill="url(#gN)"/><circle cx="528.50" cy="642.10" r="4.21" fill="url(#gO)"/><circle cx="567.30" cy="621.10" r="4.21" fill="url(#gO)"/><circle cx="507.50" cy="550.80" r="4.35" fill="url(#gC2)"/><circle cx="518.00" cy="570.50" r="4.35" fill="url(#gC2)"/><circle cx="518.00" cy="570.50" r="4.35" fill="url(#gC2)"/><circle cx="524.60" cy="577.00" r="4.35" fill="url(#gC2)"/><circle cx="529.20" cy="587.60" r="4.35" fill="url(#gC2)"/><circle cx="529.80" cy="599.40" r="4.35" fill="url(#gC2)"/><circle cx="521.90" cy="592.80" r="4.35" fill="url(#gC2)"/><circle cx="516.70" cy="581.60" r="4.35" fill="url(#gC2)"/><circle cx="542.30" cy="616.50" r="4.35" fill="url(#gC2)"/><circle cx="547.60" cy="629.60" r="4.35" fill="url(#gC2)"/><circle cx="541.60" cy="641.40" r="4.35" fill="url(#gC2)"/><circle cx="560.70" cy="629.60" r="4.35" fill="url(#gC2)"/><circle cx="570.50" cy="641.40" r="4.35" fill="url(#gC2)"/><circle cx="543.60" cy="577.00" r="4.35" fill="url(#gP)"/><circle cx="542.30" cy="590.20" r="4.35" fill="url(#gP)"/><circle cx="564.60" cy="583.00" r="4.35" fill="url(#gP)"/><circle cx="556.80" cy="606.60" r="4.35" fill="url(#gP)"/>
<ellipse cx="566" cy="577" rx="11.5" ry="13.8" transform="rotate(10 566 577)" fill="none" stroke="#222" stroke-width="0.9" stroke-dasharray="2.5,2"/>
<text x="565.60" y="557.80" font-size="10.3" text-anchor="middle" font-weight="normal" fill="#1a1a1a" >Pt-H</text>
<line x1="491.80" y1="505.50" x2="681.60" y2="505.50" stroke="#222" stroke-width="0.9" stroke-dasharray="3.5,2.5"/>
<line x1="491.80" y1="523.50" x2="681.60" y2="523.50" stroke="#222" stroke-width="0.9" stroke-dasharray="3.5,2.5"/>
<text x="669.60" y="499.90" font-size="10.5" text-anchor="middle" font-weight="normal" fill="#1a1a1a" >Ef</text>
<text x="642.30" y="536.90" font-size="10.4" text-anchor="start" font-weight="normal" fill="#1a1a1a" >ICOHP</text>
<rect x="491.80" y="393.50" width="189.80" height="261.70" fill="none" stroke="#333" stroke-width="0.9" />
<line x1="491.80" y1="655.20" x2="491.80" y2="652.20" stroke="#333" stroke-width="0.8" />
<text x="491.80" y="668.00" font-size="10" text-anchor="middle" font-weight="normal" fill="#1a1a1a" >−5</text>
<line x1="510.78" y1="655.20" x2="510.78" y2="652.20" stroke="#333" stroke-width="0.8" />
<text x="510.78" y="668.00" font-size="10" text-anchor="middle" font-weight="normal" fill="#1a1a1a" >−4</text>
<line x1="529.76" y1="655.20" x2="529.76" y2="652.20" stroke="#333" stroke-width="0.8" />
<text x="529.76" y="668.00" font-size="10" text-anchor="middle" font-weight="normal" fill="#1a1a1a" >−3</text>
<line x1="548.74" y1="655.20" x2="548.74" y2="652.20" stroke="#333" stroke-width="0.8" />
<text x="548.74" y="668.00" font-size="10" text-anchor="middle" font-weight="normal" fill="#1a1a1a" >−2</text>
<line x1="567.72" y1="655.20" x2="567.72" y2="652.20" stroke="#333" stroke-width="0.8" />
<text x="567.72" y="668.00" font-size="10" text-anchor="middle" font-weight="normal" fill="#1a1a1a" >−1</text>
<line x1="586.70" y1="655.20" x2="586.70" y2="652.20" stroke="#333" stroke-width="0.8" />
<text x="586.70" y="668.00" font-size="10" text-anchor="middle" font-weight="normal" fill="#1a1a1a" >0</text>
<line x1="605.68" y1="655.20" x2="605.68" y2="652.20" stroke="#333" stroke-width="0.8" />
<text x="605.68" y="668.00" font-size="10" text-anchor="middle" font-weight="normal" fill="#1a1a1a" >1</text>
<line x1="624.66" y1="655.20" x2="624.66" y2="652.20" stroke="#333" stroke-width="0.8" />
<text x="624.66" y="668.00" font-size="10" text-anchor="middle" font-weight="normal" fill="#1a1a1a" >2</text>
<line x1="643.64" y1="655.20" x2="643.64" y2="652.20" stroke="#333" stroke-width="0.8" />
<text x="643.64" y="668.00" font-size="10" text-anchor="middle" font-weight="normal" fill="#1a1a1a" >3</text>
<line x1="662.62" y1="655.20" x2="662.62" y2="652.20" stroke="#333" stroke-width="0.8" />
<text x="662.62" y="668.00" font-size="10" text-anchor="middle" font-weight="normal" fill="#1a1a1a" >4</text>
<line x1="681.60" y1="655.20" x2="681.60" y2="652.20" stroke="#333" stroke-width="0.8" />
<text x="681.60" y="668.00" font-size="10" text-anchor="middle" font-weight="normal" fill="#1a1a1a" >5</text>
<line x1="520.27" y1="655.20" x2="520.27" y2="653.20" stroke="#333" stroke-width="0.6" />
<line x1="539.25" y1="655.20" x2="539.25" y2="653.20" stroke="#333" stroke-width="0.6" />
<line x1="558.23" y1="655.20" x2="558.23" y2="653.20" stroke="#333" stroke-width="0.6" />
<line x1="577.21" y1="655.20" x2="577.21" y2="653.20" stroke="#333" stroke-width="0.6" />
<line x1="596.19" y1="655.20" x2="596.19" y2="653.20" stroke="#333" stroke-width="0.6" />
<line x1="615.17" y1="655.20" x2="615.17" y2="653.20" stroke="#333" stroke-width="0.6" />
<line x1="634.15" y1="655.20" x2="634.15" y2="653.20" stroke="#333" stroke-width="0.6" />
<line x1="653.13" y1="655.20" x2="653.13" y2="653.20" stroke="#333" stroke-width="0.6" />
<line x1="672.11" y1="655.20" x2="672.11" y2="653.20" stroke="#333" stroke-width="0.6" />
<line x1="488.80" y1="655.20" x2="491.80" y2="655.20" stroke="#333" stroke-width="0.8" />
<text x="488.00" y="658.80" font-size="10" text-anchor="end" font-weight="normal" fill="#1a1a1a" >−8</text>
<line x1="491.80" y1="636.51" x2="493.80" y2="636.51" stroke="#333" stroke-width="0.6" />
<line x1="488.80" y1="617.81" x2="491.80" y2="617.81" stroke="#333" stroke-width="0.8" />
<text x="488.00" y="621.41" font-size="10" text-anchor="end" font-weight="normal" fill="#1a1a1a" >−6</text>
<line x1="491.80" y1="599.12" x2="493.80" y2="599.12" stroke="#333" stroke-width="0.6" />
<line x1="488.80" y1="580.43" x2="491.80" y2="580.43" stroke="#333" stroke-width="0.8" />
<text x="488.00" y="584.03" font-size="10" text-anchor="end" font-weight="normal" fill="#1a1a1a" >−4</text>
<line x1="491.80" y1="561.74" x2="493.80" y2="561.74" stroke="#333" stroke-width="0.6" />
<line x1="488.80" y1="543.04" x2="491.80" y2="543.04" stroke="#333" stroke-width="0.8" />
<text x="488.00" y="546.64" font-size="10" text-anchor="end" font-weight="normal" fill="#1a1a1a" >−2</text>
<line x1="491.80" y1="524.35" x2="493.80" y2="524.35" stroke="#333" stroke-width="0.6" />
<line x1="488.80" y1="505.66" x2="491.80" y2="505.66" stroke="#333" stroke-width="0.8" />
<text x="488.00" y="509.26" font-size="10" text-anchor="end" font-weight="normal" fill="#1a1a1a" >0</text>
<line x1="491.80" y1="486.96" x2="493.80" y2="486.96" stroke="#333" stroke-width="0.6" />
<line x1="488.80" y1="468.27" x2="491.80" y2="468.27" stroke="#333" stroke-width="0.8" />
<text x="488.00" y="471.87" font-size="10" text-anchor="end" font-weight="normal" fill="#1a1a1a" >2</text>
<line x1="491.80" y1="449.58" x2="493.80" y2="449.58" stroke="#333" stroke-width="0.6" />
<line x1="488.80" y1="430.89" x2="491.80" y2="430.89" stroke="#333" stroke-width="0.8" />
<text x="488.00" y="434.49" font-size="10" text-anchor="end" font-weight="normal" fill="#1a1a1a" >4</text>
<line x1="491.80" y1="412.19" x2="493.80" y2="412.19" stroke="#333" stroke-width="0.6" />
<line x1="488.80" y1="393.50" x2="491.80" y2="393.50" stroke="#333" stroke-width="0.8" />
<text x="488.00" y="397.10" font-size="10" text-anchor="end" font-weight="normal" fill="#1a1a1a" >6</text>
<text x="586.50" y="683.30" font-size="10.5" text-anchor="middle" font-weight="normal" fill="#1a1a1a" >-pCOHP</text>
<text transform="translate(469.8,523.5) rotate(-90)" font-size="10.5" text-anchor="middle" fill="#1a1a1a">Energy-Ef (eV)</text>
<text x="493.20" y="409.40" font-size="10.7" text-anchor="start" font-weight="normal" fill="#1a1a1a" >Δd=7%, 30 L/min</text>
<rect x="598.70" y="403.00" width="20.80" height="6.80" fill="#d2d4f8" stroke="none" stroke-width="1" />
<rect x="598.70" y="415.20" width="20.80" height="6.80" fill="#f8d0d2" stroke="none" stroke-width="1" />
<text x="622.00" y="409.30" font-size="10.9" text-anchor="start" font-weight="normal" fill="#1a1a1a" >bonding</text>
<text x="622.00" y="422.10" font-size="10.8" text-anchor="start" font-weight="normal" fill="#1a1a1a" >antibonding</text>
<text x="-0.20" y="705.40" font-size="14" text-anchor="start" font-weight="bold" fill="#000" >g</text>
<rect x="43.10" y="697.30" width="198.30" height="181.40" fill="none" stroke="#333" stroke-width="0.9" />
<line x1="39.10" y1="707.50" x2="43.10" y2="707.50" stroke="#333" stroke-width="0.8" />
<text x="36.70" y="711.20" font-size="10.2" text-anchor="end" font-weight="normal" fill="#1a1a1a" >0.0</text>
<line x1="41.30" y1="727.59" x2="43.10" y2="727.59" stroke="#333" stroke-width="0.6" />
<line x1="39.10" y1="747.68" x2="43.10" y2="747.68" stroke="#333" stroke-width="0.8" />
<text x="36.70" y="751.38" font-size="10.2" text-anchor="end" font-weight="normal" fill="#1a1a1a" >-0.2</text>
<line x1="41.30" y1="767.77" x2="43.10" y2="767.77" stroke="#333" stroke-width="0.6" />
<line x1="39.10" y1="787.86" x2="43.10" y2="787.86" stroke="#333" stroke-width="0.8" />
<text x="36.70" y="791.56" font-size="10.2" text-anchor="end" font-weight="normal" fill="#1a1a1a" >-0.4</text>
<line x1="41.30" y1="807.95" x2="43.10" y2="807.95" stroke="#333" stroke-width="0.6" />
<line x1="39.10" y1="828.04" x2="43.10" y2="828.04" stroke="#333" stroke-width="0.8" />
<text x="36.70" y="831.74" font-size="10.2" text-anchor="end" font-weight="normal" fill="#1a1a1a" >-0.6</text>
<line x1="41.30" y1="848.13" x2="43.10" y2="848.13" stroke="#333" stroke-width="0.6" />
<line x1="39.10" y1="868.22" x2="43.10" y2="868.22" stroke="#333" stroke-width="0.8" />
<text x="36.70" y="871.92" font-size="10.2" text-anchor="end" font-weight="normal" fill="#1a1a1a" >-0.8</text>
<line x1="41.30" y1="697.46" x2="43.10" y2="697.46" stroke="#333" stroke-width="0.6" />
<line x1="62.00" y1="707.50" x2="102.20" y2="707.50" stroke="#333" stroke-width="1.2" />
<line x1="182.50" y1="707.50" x2="222.60" y2="707.50" stroke="#333" stroke-width="1.2" />
<path d="M102.2,707.5 L122.3,830.049 L162.4,830.049 L182.5,707.5" fill="none" stroke="#26a626" stroke-width="1.35" />
<path d="M102.2,707.5 L122.3,787.86 L162.4,787.86 L182.5,707.5" fill="none" stroke="#1f77b4" stroke-width="1.35" />
<path d="M102.2,707.5 L122.3,777.815 L162.4,777.815 L182.5,707.5" fill="none" stroke="#8c4a1e" stroke-width="1.35" />
<path d="M102.2,707.5 L122.3,773.797 L162.4,773.797 L182.5,707.5" fill="none" stroke="#b060f0" stroke-width="1.35" />
<path d="M102.2,707.5 L122.3,771.788 L162.4,771.788 L182.5,707.5" fill="none" stroke="#f0a050" stroke-width="1.35" />
<text x="69.3" y="720.3" font-size="10" fill="#1a1a1a">H<tspan font-size="6.5" dy="-4">+</tspan><tspan dy="4">+e</tspan><tspan font-size="6.5" dy="-4">-</tspan></text>
<text x="189.8" y="720.3" font-size="10" fill="#1a1a1a">1/2H<tspan font-size="6.5" dy="2.5">2</tspan></text>
<text x="143" y="764.8" font-size="10" text-anchor="middle" fill="#1a1a1a">H*</text>
<line x1="46.70" y1="843.30" x2="60.20" y2="843.30" stroke="#2ca02c" stroke-width="1.4" />
<text x="63.00" y="846.80" font-size="9.6" text-anchor="start" font-weight="normal" fill="#1a1a1a" >Δd=0% (0 L/min)</text>
<line x1="146.00" y1="843.30" x2="159.50" y2="843.30" stroke="#8c4a1e" stroke-width="1.4" />
<text x="162.30" y="846.80" font-size="9.6" text-anchor="start" font-weight="normal" fill="#1a1a1a" >Δd=3% (10 L/min)</text>
<line x1="46.70" y1="855.20" x2="60.20" y2="855.20" stroke="#b060f0" stroke-width="1.4" />
<text x="63.00" y="858.70" font-size="9.6" text-anchor="start" font-weight="normal" fill="#1a1a1a" >Δd=5% (20 L/min)</text>
<line x1="146.00" y1="855.20" x2="159.50" y2="855.20" stroke="#f0a050" stroke-width="1.4" />
<text x="162.30" y="858.70" font-size="9.6" text-anchor="start" font-weight="normal" fill="#1a1a1a" >Δd=7% (30 L/min)</text>
<line x1="46.70" y1="867.10" x2="60.20" y2="867.10" stroke="#1f77b4" stroke-width="1.4" />
<text x="63.00" y="870.60" font-size="9.6" text-anchor="start" font-weight="normal" fill="#1a1a1a" >Δd=9% (40 L/min)</text>
<text x="142.30" y="892.60" font-size="10.65" text-anchor="middle" font-weight="normal" fill="#1a1a1a" >Reaction coordinate</text>
<text transform="translate(13.5,788.5) rotate(-90)" font-size="10.3" text-anchor="middle" fill="#1a1a1a">Gibbs free energy (G/eV)</text>
<text x="250.40" y="705.80" font-size="14" text-anchor="start" font-weight="bold" fill="#000" >h</text>
<rect x="303.40" y="855.80" width="26.10" height="22.80" fill="#fefcdc" stroke="#3a3a3a" stroke-width="0.8" />
<rect x="329.50" y="825.86" width="26.10" height="52.74" fill="#deecdb" stroke="#3a3a3a" stroke-width="0.8" />
<rect x="355.60" y="764.60" width="26.10" height="114.00" fill="#d5dafc" stroke="#3a3a3a" stroke-width="0.8" />
<rect x="381.70" y="736.48" width="26.10" height="142.12" fill="#fad3d5" stroke="#3a3a3a" stroke-width="0.8" />
<rect x="434.50" y="853.52" width="26.10" height="25.08" fill="#fefcdc" stroke="#3a3a3a" stroke-width="0.8" />
<rect x="460.60" y="833.46" width="26.10" height="45.14" fill="#deecdb" stroke="#3a3a3a" stroke-width="0.8" />
<rect x="486.70" y="761.56" width="26.10" height="117.04" fill="#d5dafc" stroke="#3a3a3a" stroke-width="0.8" />
<rect x="512.80" y="732.07" width="26.10" height="146.53" fill="#fad3d5" stroke="#3a3a3a" stroke-width="0.8" />
<rect x="564.80" y="861.58" width="26.10" height="17.02" fill="#fefcdc" stroke="#3a3a3a" stroke-width="0.8" />
<rect x="590.90" y="829.96" width="26.10" height="48.64" fill="#deecdb" stroke="#3a3a3a" stroke-width="0.8" />
<rect x="617.00" y="767.03" width="26.10" height="111.57" fill="#d5dafc" stroke="#3a3a3a" stroke-width="0.8" />
<rect x="643.10" y="742.10" width="26.10" height="136.50" fill="#fad3d5" stroke="#3a3a3a" stroke-width="0.8" />
<rect x="334.90" y="757.40" width="38.60" height="74.60" fill="none" stroke="#2233dd" stroke-width="1.1" stroke-dasharray="2.5,2"/>
<rect x="466.10" y="754.40" width="37.20" height="85.30" fill="none" stroke="#2233dd" stroke-width="1.1" stroke-dasharray="2.5,2"/>
<rect x="595.70" y="758.90" width="39.10" height="78.10" fill="none" stroke="#2233dd" stroke-width="1.1" stroke-dasharray="2.5,2"/>
<path d="M316.45,855.80 L342.55,825.86 L368.65,764.60 L394.75,736.48" fill="none" stroke="#d01818" stroke-width="1.6" />
<circle cx="316.45" cy="855.80" r="2.4" fill="#fff" stroke="#d01818" stroke-width="1"/>
<circle cx="342.55" cy="825.86" r="2.4" fill="#fff" stroke="#d01818" stroke-width="1"/>
<circle cx="368.65" cy="764.60" r="2.4" fill="#fff" stroke="#d01818" stroke-width="1"/>
<circle cx="394.75" cy="736.48" r="2.4" fill="#fff" stroke="#d01818" stroke-width="1"/>
<path d="M447.55,853.52 L473.65,833.46 L499.75,761.56 L525.85,732.07" fill="none" stroke="#d01818" stroke-width="1.6" />
<circle cx="447.55" cy="853.52" r="2.4" fill="#fff" stroke="#d01818" stroke-width="1"/>
<circle cx="473.65" cy="833.46" r="2.4" fill="#fff" stroke="#d01818" stroke-width="1"/>
<circle cx="499.75" cy="761.56" r="2.4" fill="#fff" stroke="#d01818" stroke-width="1"/>
<circle cx="525.85" cy="732.07" r="2.4" fill="#fff" stroke="#d01818" stroke-width="1"/>
<path d="M577.85,861.58 L603.95,829.96 L630.05,767.03 L656.15,742.10" fill="none" stroke="#d01818" stroke-width="1.6" />
<circle cx="577.85" cy="861.58" r="2.4" fill="#fff" stroke="#d01818" stroke-width="1"/>
<circle cx="603.95" cy="829.96" r="2.4" fill="#fff" stroke="#d01818" stroke-width="1"/>
<circle cx="630.05" cy="767.03" r="2.4" fill="#fff" stroke="#d01818" stroke-width="1"/>
<circle cx="656.15" cy="742.10" r="2.4" fill="#fff" stroke="#d01818" stroke-width="1"/>
<line x1="290.80" y1="696.40" x2="290.80" y2="878.60" stroke="#333" stroke-width="0.9" />
<line x1="290.80" y1="878.60" x2="680.20" y2="878.60" stroke="#333" stroke-width="0.9" />
<line x1="286.80" y1="863.40" x2="290.80" y2="863.40" stroke="#333" stroke-width="0.8" />
<text x="283.60" y="867.20" font-size="11" text-anchor="end" font-weight="normal" fill="#1a1a1a" >6</text>
<line x1="286.80" y1="833.00" x2="290.80" y2="833.00" stroke="#333" stroke-width="0.8" />
<text x="283.60" y="836.80" font-size="11" text-anchor="end" font-weight="normal" fill="#1a1a1a" >8</text>
<line x1="286.80" y1="802.60" x2="290.80" y2="802.60" stroke="#333" stroke-width="0.8" />
<text x="283.60" y="806.40" font-size="11" text-anchor="end" font-weight="normal" fill="#1a1a1a" >10</text>
<line x1="286.80" y1="772.20" x2="290.80" y2="772.20" stroke="#333" stroke-width="0.8" />
<text x="283.60" y="776.00" font-size="11" text-anchor="end" font-weight="normal" fill="#1a1a1a" >12</text>
<line x1="286.80" y1="741.80" x2="290.80" y2="741.80" stroke="#333" stroke-width="0.8" />
<text x="283.60" y="745.60" font-size="11" text-anchor="end" font-weight="normal" fill="#1a1a1a" >14</text>
<line x1="286.80" y1="711.40" x2="290.80" y2="711.40" stroke="#333" stroke-width="0.8" />
<text x="283.60" y="715.20" font-size="11" text-anchor="end" font-weight="normal" fill="#1a1a1a" >16</text>
<line x1="288.60" y1="878.60" x2="290.80" y2="878.60" stroke="#333" stroke-width="0.6" />
<line x1="288.60" y1="848.20" x2="290.80" y2="848.20" stroke="#333" stroke-width="0.6" />
<line x1="288.60" y1="817.80" x2="290.80" y2="817.80" stroke="#333" stroke-width="0.6" />
<line x1="288.60" y1="787.40" x2="290.80" y2="787.40" stroke="#333" stroke-width="0.6" />
<line x1="288.60" y1="757.00" x2="290.80" y2="757.00" stroke="#333" stroke-width="0.6" />
<line x1="288.60" y1="726.60" x2="290.80" y2="726.60" stroke="#333" stroke-width="0.6" />
<line x1="288.60" y1="696.20" x2="290.80" y2="696.20" stroke="#333" stroke-width="0.6" />
<text x="355.80" y="892.40" font-size="11.2" text-anchor="middle" font-weight="normal" fill="#1a1a1a" >Cycle1</text>
<text x="487.00" y="892.40" font-size="11.2" text-anchor="middle" font-weight="normal" fill="#1a1a1a" >Cycle2</text>
<text x="616.90" y="892.40" font-size="11.2" text-anchor="middle" font-weight="normal" fill="#1a1a1a" >Cycle3</text>
<text x="447.30" y="794.60" font-size="10.9" text-anchor="middle" font-weight="normal" fill="#1a1a1a" >Dynamic</text>
<text x="449.20" y="808.20" font-size="10.9" text-anchor="middle" font-weight="normal" fill="#1a1a1a" >restructuring</text>
<text transform="translate(264.5,788) rotate(-90)" font-size="10.9" text-anchor="middle" fill="#1a1a1a">H<tspan font-size="7" dy="2.5">2</tspan><tspan dy="-2.5"> evolution (mmol/h)</tspan></text>
<rect x="303.80" y="702.20" width="25.30" height="10.90" fill="#fefcdc" stroke="#3a3a3a" stroke-width="0.8" />
<text x="333.30" y="711.80" font-size="11.1" text-anchor="start" font-weight="normal" fill="#1a1a1a" >10 L/min</text>
<rect x="383.00" y="702.20" width="24.20" height="10.90" fill="#deecdb" stroke="#3a3a3a" stroke-width="0.8" />
<text x="411.30" y="711.80" font-size="11.1" text-anchor="start" font-weight="normal" fill="#1a1a1a" >20 L/min</text>
<rect x="462.00" y="702.20" width="23.80" height="10.90" fill="#d5dafc" stroke="#3a3a3a" stroke-width="0.8" />
<text x="490.30" y="711.80" font-size="11.1" text-anchor="start" font-weight="normal" fill="#1a1a1a" >30 L/min</text>
<rect x="541.70" y="702.20" width="22.50" height="10.90" fill="#fad3d5" stroke="#3a3a3a" stroke-width="0.8" />
<text x="568.00" y="711.80" font-size="11.1" text-anchor="start" font-weight="normal" fill="#1a1a1a" >40 L/min</text>
</svg>
</body></html>
